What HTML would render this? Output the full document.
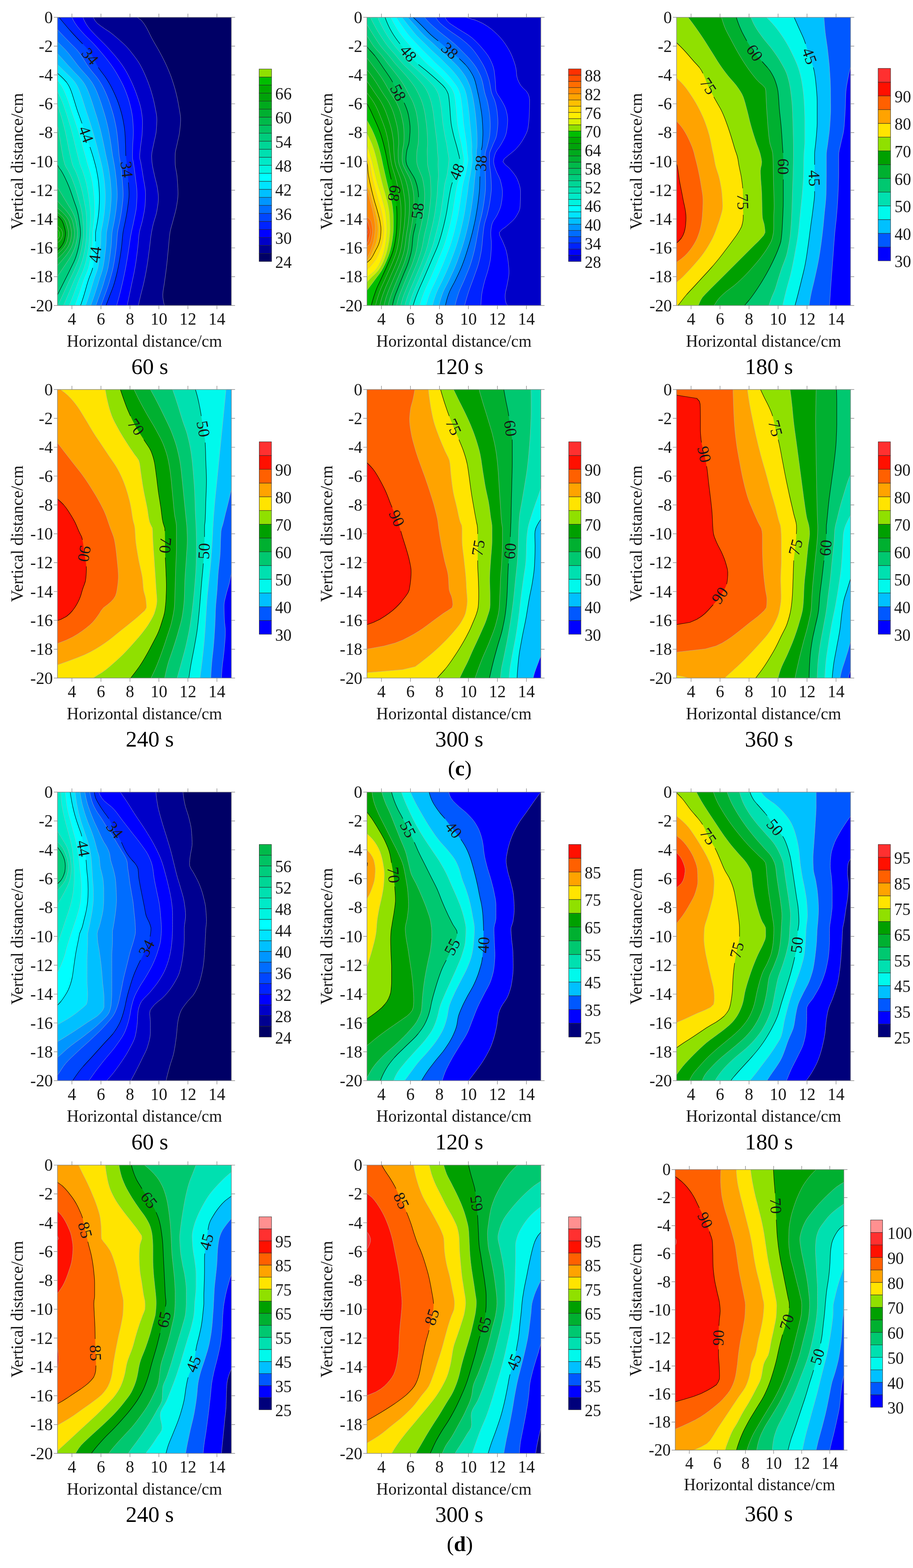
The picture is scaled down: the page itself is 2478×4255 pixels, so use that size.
<!DOCTYPE html>
<html><head><meta charset="utf-8"><title>Temperature contour maps</title>
<style>html,body{margin:0;padding:0;background:#fff}body{width:2478px;height:4255px;overflow:hidden}svg{display:block}text{font-family:"Liberation Serif","DejaVu Serif",serif}</style>
</head><body>
<svg width="2478" height="4255" viewBox="0 0 2478 4255">
<rect width="2478" height="4255" fill="#fff"/>
<g><clipPath id="c0"><rect x="156" y="47" width="472" height="782"/></clipPath>
<rect x="156" y="47" width="472" height="782" fill="#000066"/>
<g clip-path="url(#c0)" stroke-linejoin="round">
<path d="M106,23L339,23L350.2,31L361.3,39L372.5,47L383.5,55L390,63L395.2,71L399.7,79L403.8,87L407.7,95L411.7,103L416.1,111L420.7,119L425.4,127L430,135L434.4,143L438.7,151L442.8,159L446.8,167L450.6,175L454.2,183L457.6,191L460.9,199L464,207L466.8,215L469.4,223L471.9,231L474.3,239L476.5,247L478.5,255L480.4,263L482.1,271L483.7,279L485.1,287L486.5,295L487.9,303L489.2,311L490.1,319L490.2,327L489.8,335L489.2,343L488.3,351L487.4,359L486,367L484.3,375L482.4,383L480.7,391L478.9,399L477,407L475.6,415L475.4,423L475.4,431L475.4,439L475.6,447L476.6,455L478.1,463L479.5,471L480.6,479L481.2,487L481.8,495L482.4,503L482.8,511L483.1,519L483.2,527L482.8,535L481.9,543L480.7,551L479.4,559L477.9,567L476,575L473.9,583L471.7,591L469.6,599L467.4,607L465.1,615L463,623L461.4,631L460.4,639L459.5,647L458.8,655L458.1,663L457.4,671L456.6,679L455.8,687L455,695L454.3,703L453.4,711L452.6,719L451.6,727L450.6,735L449.6,743L448.5,751L447.4,759L446.3,767L445.1,775L443.7,783L442.5,791L441.8,799L442,807L443.2,815L444.7,823L446.7,831L448.6,839L450.4,847L106,847Z" fill="#000090" stroke="#b4b4b4" stroke-width="0.8"/>
<path d="M106,23L239.6,23L244.2,31L248.8,39L253.4,47L257.3,55L263.8,63L274.2,71L285.7,79L298,87L308.3,95L317.7,103L326.8,111L335.8,119L343.8,127L350.8,135L357.2,143L363.4,151L369.4,159L375,167L379.9,175L384.2,183L388.2,191L391.9,199L395.4,207L398.7,215L401.9,223L404.8,231L407.6,239L410.1,247L412.4,255L414.6,263L416.7,271L418.5,279L420.2,287L421.7,295L423.3,303L424.7,311L425.6,319L425.8,327L425.5,335L425,343L424.4,351L423.7,359L422.3,367L420.6,375L418.7,383L417,391L415.3,399L413.6,407L412.2,415L411.6,423L411.9,431L412.4,439L413.4,447L414.8,455L416.5,463L418.3,471L420,479L422,487L424,495L425.9,503L427.4,511L428.5,519L429.5,527L430,535L429.8,543L429.1,551L428,559L426.7,567L425.3,575L423.4,583L421,591L418.5,599L416.2,607L414.3,615L412.7,623L411.2,631L409.9,639L408.8,647L407.9,655L407,663L406.1,671L405.1,679L404,687L403,695L401.9,703L400.8,711L399.5,719L398.2,727L396.8,735L395.3,743L393.8,751L392.1,759L390.4,767L388.5,775L386.5,783L384.4,791L382.4,799L380.5,807L378.6,815L376.8,823L375.1,831L373.2,839L371.4,847L106,847Z" fill="#0000c8" stroke="#b4b4b4" stroke-width="0.8"/>
<path d="M106,23L212.9,23L217,31L221,39L225.1,47L228.4,55L232.6,63L237.6,71L243.9,79L251.2,87L258.7,95L266.5,103L274.8,111L282.9,119L290.5,127L297.8,135L304.9,143L311.8,151L318.3,159L324.6,167L330.5,175L335.9,183L340.8,191L345.4,199L349.6,207L353.5,215L357.3,223L360.8,231L364.2,239L367.4,247L370.3,255L373.1,263L375.8,271L378.4,279L380.7,287L382.5,295L383.9,303L385.1,311L386.1,319L386.7,327L386.8,335L386.6,343L386.3,351L386,359L385.5,367L384.6,375L383.5,383L382.4,391L381.4,399L380.5,407L379.7,415L379.1,423L379.7,431L381.8,439L383.2,447L384.6,455L385.9,463L387.2,471L388.4,479L389.7,487L391.2,495L392.6,503L393.8,511L394.7,519L395,527L394.8,535L394.5,543L394.1,551L393.6,559L392.6,567L391.3,575L389.7,583L388.1,591L386.4,599L384.4,607L382.1,615L379.9,623L378.2,631L377.1,639L376.3,647L375.6,655L374.9,663L374.1,671L373.1,679L372.1,687L371.1,695L370,703L368.9,711L367.7,719L366.3,727L364.9,735L363.3,743L361.6,751L359.9,759L358.2,767L356.5,775L354.9,783L353.2,791L351.5,799L349.8,807L348.1,815L346.4,823L344.6,831L342.9,839L341.2,847L106,847Z" fill="#0000ff" stroke="#b4b4b4" stroke-width="0.8"/>
<path d="M106,23L180.9,23L185.6,31L190.3,39L195,47L199.1,55L203.9,63L209.4,71L215.8,79L222.9,87L230.3,95L238.3,103L246.5,111L254.4,119L261.7,127L268.7,135L275.5,143L282.2,151L288.7,159L294.9,167L300.9,175L306.5,183L311.7,191L316.6,199L321.2,207L325.6,215L329.9,223L333.9,231L337.5,239L340.8,247L343.8,255L346.7,263L349.3,271L351.6,279L353.6,287L355.5,295L357.2,303L358.6,311L359.8,319L360.5,327L361.1,335L361.5,343L361.9,351L362,359L361.8,367L361.4,375L360.9,383L360.4,391L360.1,399L359.9,407L359.7,415L359.6,423L359.9,431L361.6,439L362.9,447L364.1,455L365.2,463L366.2,471L367.2,479L368.2,487L369.2,495L370.3,503L371.1,511L371.7,519L371.9,527L371.8,535L371.4,543L371,551L370.4,559L369.6,567L368.3,575L366.7,583L365,591L363.4,599L361.8,607L360,615L358.2,623L356.6,631L355,639L353.7,647L352.5,655L351.4,663L350.2,671L349,679L347.7,687L346.5,695L345.2,703L343.8,711L342.4,719L341,727L339.4,735L337.8,743L336.1,751L334.4,759L332.6,767L330.7,775L328.8,783L326.9,791L324.8,799L322.8,807L320.6,815L318.4,823L316.2,831L314.1,839L312,847L106,847Z" fill="#0023ff" stroke="#b4b4b4" stroke-width="0.8"/>
<path d="M106,23L140.9,23L147.4,31L153.9,39L160.4,47L166.8,55L173.4,63L180.2,71L187,79L194.1,87L201.4,95L208.9,103L216.5,111L224.2,119L232.2,127L239.6,135L245.5,143L250.2,151L254.3,159L258.1,167L262.2,175L266.8,183L272.4,191L278.4,199L284.5,207L289.9,215L294.8,223L299.4,231L303.6,239L307.5,247L311.2,255L314.7,263L318,271L321,279L323.7,287L326.2,295L328.6,303L330.8,311L332.6,319L334.3,327L335.7,335L337.1,343L338.2,351L339,359L339.5,367L340,375L340.3,383L340.6,391L340.9,399L341,407L341.2,415L341.5,423L342.6,431L343.6,439L344.5,447L345.4,455L346.1,463L346.8,471L347.5,479L348.1,487L348.6,495L349.2,503L349.7,511L350.2,519L350.3,527L350,535L349.2,543L348.2,551L347.1,559L346.1,567L344.8,575L343.4,583L341.9,591L340.4,599L338.7,607L337,615L335.3,623L333.9,631L332.9,639L332.1,647L331.4,655L330.7,663L329.8,671L328.7,679L327.6,687L326.3,695L325,703L323.6,711L322.1,719L320.5,727L318.8,735L317,743L315,751L312.9,759L310.7,767L308.2,775L305.4,783L302.3,791L299.2,799L296.1,807L293.1,815L290,823L286.9,831L283.8,839L280.8,847L106,847Z" fill="#0046ff"/>
<path d="M106,23L116,23L116,31L120.3,39L127.1,47L133.9,55L140.8,63L147.8,71L154.9,79L162.2,87L169.7,95L177.3,103L185,111L192.8,119L200.9,127L208.6,135L215,143L220.5,151L225.6,159L230.6,167L235.7,175L241.2,183L247.4,191L254,199L260.6,207L266.6,215L271.9,223L276.6,231L280.8,239L284.6,247L288.2,255L291.5,263L294.6,271L297.5,279L300.1,287L302.6,295L305.1,303L307.4,311L309.5,319L311.3,327L313.1,335L314.7,343L316.1,351L317.3,359L318.3,367L319.2,375L320,383L320.8,391L321.5,399L322.2,407L322.8,415L323.5,423L324.9,431L326.1,439L327.3,447L328.4,455L329.4,463L330.2,471L331,479L331.8,487L332.4,495L333,503L333.6,511L334,519L334.2,527L334,535L333.4,543L332.5,551L331.6,559L330.6,567L329.5,575L328.1,583L326.8,591L325.3,599L323.7,607L322,615L320.3,623L319,631L318.2,639L317.6,647L317,655L316.4,663L315.5,671L314.5,679L313.5,687L312.3,695L311.1,703L309.8,711L308.3,719L306.8,727L304.9,735L302.8,743L300.6,751L298.4,759L296.1,767L293.6,775L290.9,783L288,791L285.1,799L282.1,807L279.2,815L276.2,823L273.1,831L270.1,839L267.1,847L106,847Z" fill="#006dff" stroke="#b4b4b4" stroke-width="0.8"/>
<path d="M106,23L116,23L116,71L122.9,79L130.3,87L138,95L145.7,103L153.6,111L161.5,119L169.7,127L177.5,135L184.5,143L190.9,151L197,159L203.1,167L209.1,175L215.5,183L222.4,191L229.6,199L236.7,207L243.2,215L249.1,223L253.9,231L258.1,239L261.8,247L265.1,255L268.2,263L271.1,271L274,279L276.5,287L279.1,295L281.6,303L284,311L286.3,319L288.4,327L290.4,335L292.3,343L294.1,351L295.7,359L297.1,367L298.5,375L299.8,383L301,391L302.2,399L303.3,407L304.5,415L305.6,423L307.2,431L308.7,439L310.1,447L311.4,455L312.6,463L313.6,471L314.6,479L315.5,487L316.2,495L316.8,503L317.4,511L317.9,519L318.1,527L318,535L317.5,543L316.8,551L316,559L315.2,567L314.1,575L312.9,583L311.6,591L310.2,599L308.7,607L307,615L305.4,623L304.1,631L303.5,639L303,647L302.6,655L302,663L301.3,671L300.3,679L299.3,687L298.3,695L297.2,703L295.9,711L294.5,719L293,727L291,735L288.7,743L286.2,751L283.8,759L281.5,767L279.1,775L276.5,783L273.7,791L270.9,799L268.1,807L265.2,815L262.3,823L259.3,831L256.4,839L253.5,847L106,847Z" fill="#0096ff" stroke="#b4b4b4" stroke-width="0.8"/>
<path d="M106,23L116,23L116,103L122.1,111L130.2,119L138.4,127L146.4,135L154,143L161.2,151L168.4,159L175.5,167L182.6,175L189.9,183L197.4,191L205.1,199L212.9,207L219.9,215L226.2,223L231.2,231L235.3,239L238.9,247L242,255L244.9,263L247.7,271L250.4,279L253,287L255.5,295L258,303L260.6,311L263.1,319L265.5,327L267.8,335L270,343L272.1,351L274.1,359L275.9,367L277.7,375L279.5,383L281.2,391L282.8,399L284.5,407L286.1,415L287.7,423L289.5,431L291.3,439L292.9,447L294.5,455L295.8,463L297,471L298.1,479L299.1,487L300,495L300.6,503L301.2,511L301.7,519L302,527L301.9,535L301.6,543L301,551L300.4,559L299.7,567L298.8,575L297.7,583L296.5,591L295.1,599L293.6,607L292.1,615L290.5,623L289.2,631L288.7,639L288.4,647L288.1,655L287.7,663L287,671L286.2,679L285.2,687L284.3,695L283.3,703L282.1,711L280.8,719L279.2,727L277.1,735L274.6,743L271.9,751L269.3,759L266.9,767L264.5,775L262,783L259.4,791L256.8,799L254.1,807L251.3,815L248.4,823L245.5,831L242.7,839L239.9,847L106,847Z" fill="#00c0ff" stroke="#b4b4b4" stroke-width="0.8"/>
<path d="M106,23L116,23L116,135L123.5,143L131.6,151L139.8,159L148,167L156.1,175L164.2,183L172.4,191L180.7,199L189,207L196.6,215L203.4,223L208.5,231L212.5,239L216,247L218.9,255L221.7,263L224.3,271L226.9,279L229.4,287L231.9,295L234.5,303L237.2,311L239.9,319L242.6,327L245.1,335L247.6,343L250.1,351L252.4,359L254.7,367L257,375L259.2,383L261.4,391L263.5,399L265.6,407L267.7,415L269.8,423L271.9,431L273.8,439L275.8,447L277.5,455L279.1,463L280.4,471L281.7,479L282.8,487L283.8,495L284.5,503L285,511L285.5,519L285.9,527L285.9,535L285.7,543L285.3,551L284.8,559L284.2,567L283.4,575L282.4,583L281.3,591L280.1,599L278.6,607L277.1,615L275.5,623L274.2,631L274,639L273.9,647L273.7,655L273.4,663L272.7,671L272,679L271.1,687L270.3,695L269.3,703L268.3,711L267,719L265.5,727L263.2,735L260.4,743L257.5,751L254.7,759L252.3,767L249.9,775L247.6,783L245.1,791L242.6,799L240,807L237.3,815L234.5,823L231.7,831L229,839L226.2,847L106,847Z" fill="#00e4ff" stroke="#b4b4b4" stroke-width="0.8"/>
<path d="M106,23L116,23L116,159L120.5,167L129.6,175L138.6,183L147.4,191L156.2,199L165.1,207L173.3,215L180.5,223L185.8,231L189.8,239L193.1,247L195.9,255L198.4,263L200.9,271L203.4,279L205.8,287L208.3,295L211,303L213.9,311L216.8,319L219.6,327L222.5,335L225.3,343L228.1,351L230.8,359L233.5,367L236.2,375L238.9,383L241.5,391L244.1,399L246.8,407L249.4,415L251.9,423L254.2,431L256.4,439L258.6,447L260.6,455L262.3,463L263.8,471L265.3,479L266.5,487L267.6,495L268.3,503L268.9,511L269.4,519L269.7,527L269.9,535L269.8,543L269.6,551L269.2,559L268.8,567L268.1,575L267.2,583L266.2,591L265,599L263.6,607L262.2,615L260.6,623L259.3,631L259.3,639L259.3,647L259.3,655L259,663L258.5,671L257.8,679L257,687L256.3,695L255.4,703L254.4,711L253.2,719L251.7,727L249.3,735L246.3,743L243.1,751L240.2,759L237.7,767L235.3,775L233.1,783L230.8,791L228.5,799L226,807L223.4,815L220.7,823L217.9,831L215.3,839L212.6,847L106,847Z" fill="#00ffff"/>
<path d="M106,23L116,23L116,175L117.6,183L126.3,191L134.9,199L143.6,207L151.7,215L159.2,223L165.2,231L170,239L174,247L177.5,255L180.8,263L183.8,271L186.8,279L189.4,287L192,295L194.7,303L197.4,311L200.2,319L202.9,327L205.5,335L208.1,343L210.6,351L213.1,359L215.5,367L217.8,375L220.1,383L222.4,391L224.6,399L226.9,407L229.2,415L231.5,423L233.7,431L235.8,439L238,447L240.4,455L243,463L245.2,471L247.2,479L249,487L250.5,495L251.8,503L252.9,511L253.9,519L254.7,527L255.4,535L255.9,543L256.2,551L256.5,559L256.7,567L256.6,575L256.2,583L255.7,591L255,599L254.1,607L253.2,615L252.1,623L251.2,631L251.1,639L250.9,647L250.6,655L250.2,663L249.4,671L248.5,679L247.4,687L246.3,695L245.1,703L243.6,711L241.9,719L239.9,727L237.2,735L234,743L230.6,751L227.4,759L224.7,767L222,775L219.4,783L216.8,791L214.1,799L211.3,807L208.4,815L205.5,823L202.5,831L199.5,839L196.6,847L106,847Z" fill="#00f4e0" stroke="#b4b4b4" stroke-width="0.8"/>
<path d="M106,23L116,23L116,199L122.1,207L130.2,215L137.9,223L144.6,231L150.1,239L155,247L159.2,255L163.1,263L166.8,271L170.1,279L173,287L175.7,295L178.4,303L181,311L183.6,319L186.1,327L188.5,335L190.9,343L193.1,351L195.3,359L197.4,367L199.4,375L201.3,383L203.2,391L205.2,399L207.1,407L209.1,415L211.1,423L213.2,431L215.2,439L217.4,447L220.3,455L223.8,463L226.5,471L229.1,479L231.4,487L233.5,495L235.2,503L236.9,511L238.4,519L239.7,527L240.9,535L241.9,543L242.9,551L243.8,559L244.6,567L245,575L245.2,583L245.3,591L245,599L244.6,607L244.2,615L243.6,623L243,631L242.9,639L242.5,647L242,655L241.3,663L240.3,671L239.1,679L237.8,687L236.4,695L234.7,703L232.8,711L230.5,719L228,727L225.1,735L221.7,743L218.1,751L214.7,759L211.6,767L208.6,775L205.7,783L202.7,791L199.7,799L196.6,807L193.5,815L190.2,823L187,831L183.8,839L180.6,847L106,847Z" fill="#00eac8" stroke="#b4b4b4" stroke-width="0.8"/>
<path d="M106,23L116,23L116,215L116.6,223L123.9,231L130.3,239L136,247L140.9,255L145.5,263L149.7,271L153.5,279L156.6,287L159.4,295L162,303L164.6,311L167,319L169.3,327L171.5,335L173.7,343L175.7,351L177.5,359L179.3,367L180.9,375L182.5,383L184.1,391L185.7,399L187.3,407L189,415L190.8,423L192.6,431L194.6,439L196.8,447L200.2,455L204.5,463L207.9,471L211,479L213.8,487L216.4,495L218.7,503L220.9,511L222.9,519L224.7,527L226.4,535L228,543L229.5,551L231.1,559L232.5,567L233.5,575L234.2,583L234.8,591L235,599L235.2,607L235.2,615L235.1,623L234.9,631L234.7,639L234.1,647L233.3,655L232.4,663L231.2,671L229.8,679L228.2,687L226.4,695L224.4,703L221.9,711L219.1,719L216.2,727L212.9,735L209.4,743L205.6,751L202,759L198.6,767L195.3,775L192,783L188.7,791L185.3,799L181.9,807L178.5,815L175,823L171.5,831L168.1,839L164.6,847L106,847Z" fill="#00e0b0" stroke="#b4b4b4" stroke-width="0.8"/>
<path d="M106,23L116,23L116,239L116.9,247L122.6,255L127.8,263L132.7,271L136.9,279L140.2,287L143.1,295L145.7,303L148.2,311L150.4,319L152.5,327L154.5,335L156.5,343L158.2,351L159.8,359L161.2,367L162.5,375L163.7,383L164.9,391L166.2,399L167.5,407L168.9,415L170.4,423L172.1,431L174,439L176.2,447L180.1,455L185.2,463L189.2,471L192.9,479L196.2,487L199.3,495L202.2,503L204.9,511L207.3,519L209.7,527L211.9,535L214,543L216.2,551L218.4,559L220.4,567L222,575L223.3,583L224.3,591L225.1,599L225.7,607L226.3,615L226.6,623L226.7,631L226.5,639L225.7,647L224.7,655L223.5,663L222.2,671L220.5,679L218.6,687L216.5,695L214.1,703L211.1,711L207.8,719L204.3,727L200.8,735L197,743L193.2,751L189.3,759L185.6,767L181.9,775L178.3,783L174.6,791L171,799L167.3,807L163.5,815L159.8,823L156,831L152.3,839L148.6,847L106,847Z" fill="#00d696" stroke="#b4b4b4" stroke-width="0.8"/>
<path d="M106,23L116,23L116,271L120.2,279L123.8,287L126.8,295L129.4,303L131.7,311L133.9,319L135.8,327L137.6,335L139.3,343L140.8,351L142,359L143.1,367L144.1,375L144.9,383L145.8,391L146.7,399L147.6,407L148.8,415L150.1,423L151.6,431L153.4,439L155.7,447L159.9,455L166,463L170.6,471L174.8,479L178.6,487L182.3,495L185.7,503L188.9,511L191.8,519L194.6,527L197.3,535L200,543L202.8,551L205.7,559L208.3,567L210.5,575L212.3,583L213.8,591L215.1,599L216.2,607L217.3,615L218.1,623L218.5,631L218.3,639L217.3,647L216,655L214.7,663L213.1,671L211.2,679L209,687L206.6,695L203.7,703L200.3,711L196.4,719L192.5,727L188.6,735L184.7,743L180.7,751L176.6,759L172.6,767L168.6,775L164.6,783L160.6,791L156.6,799L152.6,807L148.6,815L144.6,823L140.6,831L136.6,839L132.6,847L106,847Z" fill="#00cd7d"/>
<path d="M106,23L116,23L116,447L116.1,455L123.5,463L129.8,471L135.8,479L141.5,487L147.1,495L152.4,503L157.6,511L162.6,519L167.5,527L172.3,535L177.1,543L181.9,551L186.8,559L192,567L196.4,575L200.2,583L203.4,591L205.7,599L207.4,607L208.7,615L209.8,623L210.4,631L210.1,639L209.1,647L207.6,655L205.7,663L203.3,671L200.2,679L196.5,687L192.3,695L187.5,703L182.2,711L176.8,719L171.4,727L166,735L160.6,743L155,751L149.5,759L144,767L138.5,775L133,783L127.5,791L122,799L116.5,807L116,815L116,847L106,847Z" fill="#00c363" stroke="#b4b4b4" stroke-width="0.8"/>
<path d="M106,23L116,23L116,495L119.2,503L126.3,511L133.4,519L140.3,527L147.2,535L154.1,543L161,551L168,559L175.6,567L182.4,575L188.2,583L193,591L196.4,599L198.5,607L200.1,615L201.5,623L202.2,631L201.9,639L200.8,647L199.2,655L196.8,663L193.6,671L189.1,679L183.9,687L178,695L171.3,703L164.2,711L157.3,719L150.3,727L143.4,735L136.4,743L129.4,751L122.4,759L116,767L116,847L106,847Z" fill="#00ba4a" stroke="#b4b4b4" stroke-width="0.8"/>
<path d="M106,23L116,23L116,527L122.1,535L131.1,543L140.1,551L149.1,559L159.2,567L168.4,575L176.2,583L182.6,591L187,599L189.6,607L191.5,615L193.1,623L194.1,631L193.7,639L192.5,647L190.8,655L187.9,663L183.9,671L178.1,679L171.4,687L163.7,695L155,703L146.1,711L137.7,719L129.2,727L120.7,735L116,743L116,847L106,847Z" fill="#00b030" stroke="#b4b4b4" stroke-width="0.8"/>
<path d="M106,23L116,23L116,543L119.2,551L130.3,559L142.8,567L154.4,575L164.2,583L172.2,591L177.6,599L180.7,607L182.9,615L184.8,623L185.9,631L185.6,639L184.2,647L182.3,655L179,663L174.2,671L167.1,679L158.8,687L149.4,695L138.8,703L128,711L118.1,719L116,727L116,847L106,847Z" fill="#00aa1d" stroke="#b4b4b4" stroke-width="0.8"/>
<path d="M106,23L116,23L116,559L126.4,567L140.4,575L152.2,583L161.8,591L168.3,599L171.8,607L174.3,615L176.5,623L177.8,631L177.4,639L176,647L173.9,655L170,663L164.4,671L156.1,679L146.3,687L135.2,695L122.6,703L116,711L116,847L106,847Z" fill="#00a30a"/>
<path d="M106,23L116,23L116,583L118.2,591L131.8,599L145.6,607L159,615L166.7,623L169.7,631L169.7,639L167.1,647L161.4,655L148.6,663L132.6,671L118.1,679L116,687L116,847L106,847Z" fill="#00a800" stroke="#b4b4b4" stroke-width="0.8"/>
<path d="M106,23L116,23L116,599L119.5,607L143.7,615L156.9,623L161.6,631L162,639L158.3,647L148.8,655L127.3,663L116,671L116,847L106,847Z" fill="#00be00" stroke="#b4b4b4" stroke-width="0.8"/>
<path d="M140.9,23L147.4,31L153.9,39L160.4,47L166.8,55L173.4,63L180.2,71L187,79L194.1,87L201.4,95L208.9,103L216.5,111L224.2,119M266.8,183L272.4,191L278.4,199L284.5,207L289.9,215L294.8,223L299.4,231L303.6,239L307.5,247L311.2,255L314.7,263L318,271L321,279L323.7,287L326.2,295L328.6,303L330.8,311L332.6,319L334.3,327L335.7,335L337.1,343L338.2,351L339,359L339.5,367L340,375L340.3,383L340.6,391L340.9,399L341,407L341.2,415L341.5,423M348.6,495L349.2,503L349.7,511L350.2,519L350.3,527L350,535L349.2,543L348.2,551L347.1,559L346.1,567L344.8,575L343.4,583L341.9,591L340.4,599L338.7,607L337,615L335.3,623L333.9,631L332.9,639L332.1,647L331.4,655L330.7,663L329.8,671L328.7,679L327.6,687L326.3,695L325,703L323.6,711L322.1,719L320.5,727L318.8,735L317,743L315,751L312.9,759L310.7,767L308.2,775L305.4,783L302.3,791L299.2,799L296.1,807L293.1,815L290,823L286.9,831L283.8,839L280.8,847" fill="none" stroke="#000" stroke-width="1.15"/>
<path d="M116,23L116,159L120.5,167L129.6,175L138.6,183L147.4,191L156.2,199L165.1,207L173.3,215L180.5,223L185.8,231L189.8,239L193.1,247L195.9,255L198.4,263L200.9,271L203.4,279L205.8,287L208.3,295L211,303L213.9,311L216.8,319L219.6,327L222.5,335M244.1,399L246.8,407L249.4,415L251.9,423L254.2,431L256.4,439L258.6,447L260.6,455L262.3,463L263.8,471L265.3,479L266.5,487L267.6,495L268.3,503L268.9,511L269.4,519L269.7,527L269.9,535L269.8,543L269.6,551L269.2,559L268.8,567L268.1,575L267.2,583L266.2,591L265,599L263.6,607L262.2,615L260.6,623L259.3,631L259.3,639L259.3,647L259.3,655M251.7,727L249.3,735L246.3,743L243.1,751L240.2,759L237.7,767L235.3,775L233.1,783L230.8,791L228.5,799L226,807L223.4,815L220.7,823L217.9,831L215.3,839L212.6,847" fill="none" stroke="#000" stroke-width="1.15"/>
<path d="M116,23L116,271L120.2,279L123.8,287L126.8,295L129.4,303L131.7,311L133.9,319L135.8,327L137.6,335L139.3,343L140.8,351L142,359L143.1,367L144.1,375L144.9,383L145.8,391L146.7,399L147.6,407L148.8,415L150.1,423L151.6,431L153.4,439L155.7,447L159.9,455L166,463L170.6,471L174.8,479L178.6,487L182.3,495L185.7,503L188.9,511L191.8,519L194.6,527L197.3,535L200,543L202.8,551L205.7,559L208.3,567L210.5,575L212.3,583L213.8,591L215.1,599L216.2,607L217.3,615L218.1,623L218.5,631L218.3,639L217.3,647L216,655L214.7,663L213.1,671L211.2,679L209,687L206.6,695L203.7,703L200.3,711L196.4,719L192.5,727L188.6,735L184.7,743L180.7,751L176.6,759L172.6,767L168.6,775L164.6,783L160.6,791L156.6,799L152.6,807L148.6,815L144.6,823L140.6,831L136.6,839L132.6,847" fill="none" stroke="#000" stroke-width="1.15"/>
<path d="M116,23L116,559L126.4,567L140.4,575L152.2,583L161.8,591L168.3,599L171.8,607L174.3,615L176.5,623L177.8,631L177.4,639L176,647L173.9,655L170,663L164.4,671L156.1,679L146.3,687L135.2,695L122.6,703L116,711L116,847" fill="none" stroke="#000" stroke-width="1.15"/>
<text transform="translate(244.1 152.9) rotate(50)" font-size="44" text-anchor="middle" fill="#171717" dy="0.33em">34</text>
<text transform="translate(233.4 364.7) rotate(70)" font-size="44" text-anchor="middle" fill="#171717" dy="0.33em">44</text>
<text transform="translate(343.6 459.7) rotate(84)" font-size="44" text-anchor="middle" fill="#171717" dy="0.33em">34</text>
<text transform="translate(258.2 691) rotate(-83)" font-size="44" text-anchor="middle" fill="#171717" dy="0.33em">44</text>
</g>
<rect x="156" y="47" width="472" height="782" fill="none" stroke="#858585" stroke-width="1.5"/>
<path d="M195.3,47v-10 M195.3,829v10M274,47v-10 M274,829v10M352.7,47v-10 M352.7,829v10M431.3,47v-10 M431.3,829v10M510,47v-10 M510,829v10M588.7,47v-10 M588.7,829v10M156,47h-10 M628,47h10M156,125.2h-10 M628,125.2h10M156,203.4h-10 M628,203.4h10M156,281.6h-10 M628,281.6h10M156,359.8h-10 M628,359.8h10M156,438h-10 M628,438h10M156,516.2h-10 M628,516.2h10M156,594.4h-10 M628,594.4h10M156,672.6h-10 M628,672.6h10M156,750.8h-10 M628,750.8h10M156,829h-10 M628,829h10" stroke="#858585" stroke-width="1.4" fill="none"/>
<text transform="translate(195.3 881.2) scale(0.980 1)" font-size="46.8" text-anchor="middle" fill="#171717">4</text>
<text transform="translate(274 881.2) scale(0.980 1)" font-size="46.8" text-anchor="middle" fill="#171717">6</text>
<text transform="translate(352.7 881.2) scale(0.980 1)" font-size="46.8" text-anchor="middle" fill="#171717">8</text>
<text transform="translate(431.3 881.2) scale(0.980 1)" font-size="46.8" text-anchor="middle" fill="#171717">10</text>
<text transform="translate(510 881.2) scale(0.980 1)" font-size="46.8" text-anchor="middle" fill="#171717">12</text>
<text transform="translate(588.7 881.2) scale(0.980 1)" font-size="46.8" text-anchor="middle" fill="#171717">14</text>
<text transform="translate(143.5 62.6) scale(0.980 1)" font-size="46.8" text-anchor="end" fill="#171717">0</text>
<text transform="translate(143.5 140.8) scale(0.980 1)" font-size="46.8" text-anchor="end" fill="#171717">-2</text>
<text transform="translate(143.5 219) scale(0.980 1)" font-size="46.8" text-anchor="end" fill="#171717">-4</text>
<text transform="translate(143.5 297.2) scale(0.980 1)" font-size="46.8" text-anchor="end" fill="#171717">-6</text>
<text transform="translate(143.5 375.4) scale(0.980 1)" font-size="46.8" text-anchor="end" fill="#171717">-8</text>
<text transform="translate(143.5 453.6) scale(0.980 1)" font-size="46.8" text-anchor="end" fill="#171717">-10</text>
<text transform="translate(143.5 531.8) scale(0.980 1)" font-size="46.8" text-anchor="end" fill="#171717">-12</text>
<text transform="translate(143.5 610) scale(0.980 1)" font-size="46.8" text-anchor="end" fill="#171717">-14</text>
<text transform="translate(143.5 688.2) scale(0.980 1)" font-size="46.8" text-anchor="end" fill="#171717">-16</text>
<text transform="translate(143.5 766.4) scale(0.980 1)" font-size="46.8" text-anchor="end" fill="#171717">-18</text>
<text transform="translate(143.5 844.6) scale(0.980 1)" font-size="46.8" text-anchor="end" fill="#171717">-20</text>
<text transform="translate(392 940.7) scale(0.966 1)" font-size="46.9" text-anchor="middle" fill="#171717">Horizontal distance/cm</text>
<text transform="translate(62 438) rotate(-90) scale(0.972 1)" font-size="46.9" text-anchor="middle" fill="#171717">Vertical distance/cm</text>
<text transform="translate(406.6 1015.4)" font-size="61" text-anchor="middle" fill="#000">60 s</text>
<rect x="703.3" y="687.8" width="33.8" height="21.8" fill="#000066" stroke="#2a2a2a" stroke-width="1.1"/>
<rect x="703.3" y="666.1" width="33.8" height="21.8" fill="#000090" stroke="#2a2a2a" stroke-width="1.1"/>
<rect x="703.3" y="644.3" width="33.8" height="21.8" fill="#0000c8" stroke="#2a2a2a" stroke-width="1.1"/>
<rect x="703.3" y="622.6" width="33.8" height="21.8" fill="#0000ff" stroke="#2a2a2a" stroke-width="1.1"/>
<rect x="703.3" y="600.8" width="33.8" height="21.8" fill="#0023ff" stroke="#2a2a2a" stroke-width="1.1"/>
<rect x="703.3" y="579" width="33.8" height="21.8" fill="#0046ff" stroke="#2a2a2a" stroke-width="1.1"/>
<rect x="703.3" y="557.3" width="33.8" height="21.8" fill="#006dff" stroke="#2a2a2a" stroke-width="1.1"/>
<rect x="703.3" y="535.5" width="33.8" height="21.8" fill="#0096ff" stroke="#2a2a2a" stroke-width="1.1"/>
<rect x="703.3" y="513.7" width="33.8" height="21.8" fill="#00c0ff" stroke="#2a2a2a" stroke-width="1.1"/>
<rect x="703.3" y="492" width="33.8" height="21.8" fill="#00e4ff" stroke="#2a2a2a" stroke-width="1.1"/>
<rect x="703.3" y="470.2" width="33.8" height="21.8" fill="#00ffff" stroke="#2a2a2a" stroke-width="1.1"/>
<rect x="703.3" y="448.5" width="33.8" height="21.8" fill="#00f4e0" stroke="#2a2a2a" stroke-width="1.1"/>
<rect x="703.3" y="426.7" width="33.8" height="21.8" fill="#00eac8" stroke="#2a2a2a" stroke-width="1.1"/>
<rect x="703.3" y="404.9" width="33.8" height="21.8" fill="#00e0b0" stroke="#2a2a2a" stroke-width="1.1"/>
<rect x="703.3" y="383.2" width="33.8" height="21.8" fill="#00d696" stroke="#2a2a2a" stroke-width="1.1"/>
<rect x="703.3" y="361.4" width="33.8" height="21.8" fill="#00cd7d" stroke="#2a2a2a" stroke-width="1.1"/>
<rect x="703.3" y="339.6" width="33.8" height="21.8" fill="#00c363" stroke="#2a2a2a" stroke-width="1.1"/>
<rect x="703.3" y="317.9" width="33.8" height="21.8" fill="#00ba4a" stroke="#2a2a2a" stroke-width="1.1"/>
<rect x="703.3" y="296.1" width="33.8" height="21.8" fill="#00b030" stroke="#2a2a2a" stroke-width="1.1"/>
<rect x="703.3" y="274.4" width="33.8" height="21.8" fill="#00aa1d" stroke="#2a2a2a" stroke-width="1.1"/>
<rect x="703.3" y="252.6" width="33.8" height="21.8" fill="#00a30a" stroke="#2a2a2a" stroke-width="1.1"/>
<rect x="703.3" y="230.8" width="33.8" height="21.8" fill="#00a800" stroke="#2a2a2a" stroke-width="1.1"/>
<rect x="703.3" y="209.1" width="33.8" height="21.8" fill="#00be00" stroke="#2a2a2a" stroke-width="1.1"/>
<rect x="703.3" y="187.3" width="33.8" height="21.8" fill="#90e000" stroke="#2a2a2a" stroke-width="1.1"/>
<text transform="translate(747.1 727.1) scale(0.970 1)" font-size="46" text-anchor="start" fill="#171717">24</text>
<text transform="translate(747.1 661.8) scale(0.970 1)" font-size="46" text-anchor="start" fill="#171717">30</text>
<text transform="translate(747.1 596.5) scale(0.970 1)" font-size="46" text-anchor="start" fill="#171717">36</text>
<text transform="translate(747.1 531.2) scale(0.970 1)" font-size="46" text-anchor="start" fill="#171717">42</text>
<text transform="translate(747.1 466) scale(0.970 1)" font-size="46" text-anchor="start" fill="#171717">48</text>
<text transform="translate(747.1 400.7) scale(0.970 1)" font-size="46" text-anchor="start" fill="#171717">54</text>
<text transform="translate(747.1 335.4) scale(0.970 1)" font-size="46" text-anchor="start" fill="#171717">60</text>
<text transform="translate(747.1 270.1) scale(0.970 1)" font-size="46" text-anchor="start" fill="#171717">66</text></g>
<g><clipPath id="c1"><rect x="996" y="47" width="472" height="782"/></clipPath>
<rect x="996" y="47" width="472" height="782" fill="#0000c8"/>
<g clip-path="url(#c1)" stroke-linejoin="round">
<path d="M946,23L1187.6,23L1213.1,31L1238.5,39L1264.2,47L1291.5,55L1309.4,63L1322.7,71L1333.6,79L1342.9,87L1351.4,95L1358.8,103L1365.4,111L1371.2,119L1376.4,127L1381.2,135L1385.5,143L1389.2,151L1392.3,159L1395.2,167L1397.8,175L1399.9,183L1401.2,191L1401.9,199L1402.8,207L1404.9,215L1408.4,223L1412.9,231L1419.7,239L1428.4,247L1433.6,255L1436.3,263L1437.5,271L1437.4,279L1437.3,287L1437.1,295L1436.8,303L1436.5,311L1436.2,319L1435.6,327L1434.8,335L1433.8,343L1432.5,351L1429.8,359L1426,367L1421.7,375L1417,383L1411.5,391L1405.1,399L1397.7,407L1388,415L1378.2,423L1368.6,431L1365.2,439L1371.7,447L1381.2,455L1388.3,463L1394.7,471L1400.3,479L1404.4,487L1407.4,495L1410.1,503L1411.9,511L1412.7,519L1412.7,527L1412.6,535L1412.4,543L1412.1,551L1411.8,559L1410.8,567L1407.9,575L1403.5,583L1398.6,591L1391.5,599L1382.6,607L1373.5,615L1362.2,623L1355.2,631L1356.4,639L1360.4,647L1364.3,655L1367.6,663L1370.9,671L1373.6,679L1375.5,687L1377.1,695L1378.4,703L1379.4,711L1380.3,719L1381,727L1381.5,735L1381.4,743L1380.5,751L1379.1,759L1377.6,767L1376.1,775L1374.3,783L1372.4,791L1371.1,799L1371,807L1371.8,815L1373.7,823L1379.1,831L1383.9,839L1388.7,847L946,847Z" fill="#0000ff" stroke="#b4b4b4" stroke-width="0.8"/>
<path d="M946,23L1193.6,23L1198.5,31L1203.3,39L1208.1,47L1212.4,55L1220,63L1232,71L1244.4,79L1257.6,87L1270.7,95L1281.4,103L1290.2,111L1298.1,119L1305.3,127L1312.1,135L1318.7,143L1324.5,151L1329.2,159L1333.1,167L1336.6,175L1339.3,183L1341.1,191L1342.2,199L1343.1,207L1343.8,215L1344.5,223L1345,231L1345.4,239L1346.3,247L1349.7,255L1355.2,263L1360.3,271L1364.9,279L1369.2,287L1372.5,295L1374.7,303L1376.5,311L1377.7,319L1378,327L1377.6,335L1376.8,343L1375.8,351L1374.5,359L1372.4,367L1369,375L1364.8,383L1360.4,391L1355.2,399L1349.2,407L1344.7,415L1342.2,423L1340.3,431L1339.8,439L1341,447L1343.5,455L1346.3,463L1349.7,471L1353.8,479L1357.3,487L1359.5,495L1361.4,503L1362.9,511L1363.7,519L1363.7,527L1363.1,535L1362.2,543L1360.9,551L1359.3,559L1356.7,567L1353.3,575L1349.6,583L1344.9,591L1339.4,599L1335.7,607L1333.9,615L1332.6,623L1332,631L1332.2,639L1332.8,647L1333.5,655L1333.7,663L1333.5,671L1333.2,679L1332.6,687L1332,695L1331.2,703L1329.7,711L1328,719L1326,727L1324,735L1321.6,743L1319,751L1316.5,759L1314.3,767L1312.3,775L1310.5,783L1308.8,791L1307.5,799L1306.7,807L1306,815L1305.5,823L1305.2,831L1304.7,839L1304.2,847L946,847Z" fill="#0023ff" stroke="#b4b4b4" stroke-width="0.8"/>
<path d="M946,23L1166.7,23L1172,31L1177.4,39L1182.6,47L1187.6,55L1194.6,63L1204,71L1214.3,79L1225.3,87L1237.3,95L1248.7,103L1258.8,111L1268.3,119L1276.8,127L1283.9,135L1290.1,143L1295.8,151L1301,159L1306,167L1310.7,175L1314.9,183L1318.4,191L1321.5,199L1324.3,207L1326.8,215L1328.8,223L1330.3,231L1331.6,239L1333.1,247L1335.4,255L1338.7,263L1342.1,271L1344.6,279L1346.5,287L1348,295L1349.3,303L1350.1,311L1350.9,319L1351.3,327L1351.4,335L1350.9,343L1350.1,351L1349,359L1347.8,367L1345.6,375L1342.2,383L1338.5,391L1335.3,399L1331.8,407L1329,415L1328.4,423L1328.4,431L1328.4,439L1328.6,447L1329.6,455L1330.8,463L1331.8,471L1332.3,479L1332.9,487L1333.3,495L1333.6,503L1333.7,511L1333.3,519L1332.4,527L1331.4,535L1330.3,543L1329.1,551L1327.6,559L1325.9,567L1324.1,575L1322.2,583L1319.8,591L1317.3,599L1315.1,607L1313.6,615L1312.5,623L1311.6,631L1310.7,639L1309.9,647L1309.2,655L1308.5,663L1307.6,671L1306.6,679L1305.2,687L1303.6,695L1301.9,703L1299.9,711L1297.7,719L1295.1,727L1292.3,735L1289.4,743L1286.6,751L1283.7,759L1280.7,767L1277.7,775L1274.8,783L1272,791L1269.5,799L1267.1,807L1264.8,815L1262.6,823L1260.6,831L1258.3,839L1256,847L946,847Z" fill="#0046ff" stroke="#b4b4b4" stroke-width="0.8"/>
<path d="M946,23L1131.7,23L1138.5,31L1145.3,39L1152.1,47L1158.7,55L1166.4,63L1175.1,71L1184.2,79L1193.6,87L1203.7,95L1214,103L1224.1,111L1233.6,119L1242.3,127L1250.3,135L1258.3,143L1266.2,151L1273.7,159L1280.4,167L1286.7,175L1292.2,183L1296.8,191L1300.9,199L1304.5,207L1307.4,215L1309.6,223L1311.4,231L1312.9,239L1314.5,247L1316.5,255L1319,263L1321.6,271L1323.6,279L1325.2,287L1326.6,295L1327.9,303L1328.9,311L1329.7,319L1330.2,327L1330.5,335L1330.6,343L1330.3,351L1329.9,359L1329.2,367L1327.9,375L1326,383L1323.9,391L1321.8,399L1319.1,407L1317.1,415L1316.6,423L1316.5,431L1316.4,439L1316.4,447L1316.6,455L1317,463L1317.3,471L1317.5,479L1317.7,487L1317.8,495L1317.8,503L1317.7,511L1317.2,519L1316.4,527L1315.4,535L1314.3,543L1313.2,551L1311.9,559L1310.5,567L1308.9,575L1307.3,583L1305.3,591L1303.3,599L1301.3,607L1299.7,615L1298.3,623L1296.8,631L1295.4,639L1293.9,647L1292.5,655L1291,663L1289.3,671L1287.6,679L1285.6,687L1283.5,695L1281.3,703L1278.9,711L1276.3,719L1273.4,727L1270.2,735L1266.9,743L1263.6,751L1260.3,759L1256.8,767L1253.1,775L1249.5,783L1246.2,791L1243.4,799L1240.9,807L1238.5,815L1236.5,823L1234.5,831L1232.2,839L1230,847L946,847Z" fill="#006dff" stroke="#b4b4b4" stroke-width="0.8"/>
<path d="M946,23L1096.8,23L1105,31L1113.3,39L1121.5,47L1129.9,55L1138.1,63L1146.2,71L1154,79L1161.8,87L1170,95L1179.3,103L1189.3,111L1198.9,119L1207.9,127L1216.8,135L1226.4,143L1236.7,151L1246.4,159L1254.9,167L1262.8,175L1269.6,183L1275.3,191L1280.3,199L1284.6,207L1287.9,215L1290.4,223L1292.4,231L1294.2,239L1295.9,247L1297.7,255L1299.4,263L1301.1,271L1302.6,279L1303.9,287L1305.2,295L1306.5,303L1307.6,311L1308.5,319L1309.1,327L1309.7,335L1310.2,343L1310.5,351L1310.7,359L1310.6,367L1310.3,375L1309.8,383L1309.2,391L1308.3,399L1306.3,407L1305.2,415L1304.9,423L1304.7,431L1304.5,439L1304.1,447L1303.7,455L1303.2,463L1302.8,471L1302.6,479L1302.4,487L1302.3,495L1302,503L1301.7,511L1301.1,519L1300.3,527L1299.4,535L1298.4,543L1297.4,551L1296.3,559L1295,567L1293.7,575L1292.3,583L1290.9,591L1289.3,599L1287.6,607L1285.8,615L1284,623L1282.1,631L1280,639L1277.9,647L1275.7,655L1273.4,663L1271,671L1268.5,679L1266,687L1263.4,695L1260.7,703L1257.8,711L1254.8,719L1251.6,727L1248.1,735L1244.4,743L1240.6,751L1236.8,759L1232.8,767L1228.4,775L1224.2,783L1220.4,791L1217.3,799L1214.6,807L1212.3,815L1210.3,823L1208.5,831L1206.2,839L1203.9,847L946,847Z" fill="#0096ff"/>
<path d="M946,23L1084.5,23L1091.7,31L1099,39L1106.3,47L1113.5,55L1120.7,63L1128,71L1135,79L1142.1,87L1149.7,95L1158.1,103L1167.4,111L1176.3,119L1184.8,127L1193.3,135L1202.4,143L1212,151L1221.1,159L1229.3,167L1237.3,175L1244.8,183L1251.4,191L1257.4,199L1262.7,207L1267.1,215L1270.8,223L1274.2,231L1277,239L1279.3,247L1281.4,255L1283.1,263L1284.6,271L1286,279L1287.2,287L1288.4,295L1289.5,303L1290.5,311L1291.3,319L1292,327L1292.6,335L1293.3,343L1293.9,351L1294.4,359L1294.7,367L1294.9,375L1294.9,383L1294.9,391L1294.6,399L1293.4,407L1293,415L1293.1,423L1293.3,431L1293,439L1292.4,447L1291.6,455L1290.7,463L1289.9,471L1289.1,479L1288.2,487L1287.4,495L1286.7,503L1286,511L1285.3,519L1284.3,527L1283.3,535L1282.2,543L1281.2,551L1280,559L1278.8,567L1277.4,575L1276,583L1274.5,591L1272.9,599L1271.2,607L1269.4,615L1267.5,623L1265.5,631L1263.4,639L1261.3,647L1259,655L1256.6,663L1254.1,671L1251.5,679L1248.7,687L1245.9,695L1243.1,703L1240.1,711L1237,719L1233.8,727L1230.3,735L1226.6,743L1222.9,751L1219.2,759L1215.2,767L1211.1,775L1206.9,783L1203.2,791L1200.1,799L1197.4,807L1194.9,815L1192.8,823L1190.9,831L1188.5,839L1186.2,847L946,847Z" fill="#00c0ff" stroke="#b4b4b4" stroke-width="0.8"/>
<path d="M946,23L1072.2,23L1078.4,31L1084.7,39L1091,47L1097.1,55L1103.4,63L1109.7,71L1116,79L1122.5,87L1129.3,95L1137,103L1145.4,111L1153.7,119L1161.7,127L1169.8,135L1178.4,143L1187.3,151L1195.8,159L1203.8,167L1211.9,175L1220.1,183L1227.6,191L1234.4,199L1240.7,207L1246.3,215L1251.2,223L1255.9,231L1259.7,239L1262.7,247L1265.2,255L1266.8,263L1268.2,271L1269.5,279L1270.6,287L1271.6,295L1272.6,303L1273.4,311L1274.2,319L1274.9,327L1275.6,335L1276.4,343L1277.3,351L1278.1,359L1278.8,367L1279.4,375L1280.1,383L1280.7,391L1281,399L1280.6,407L1280.8,415L1281.4,423L1281.9,431L1281.5,439L1280.6,447L1279.4,455L1278.2,463L1277,471L1275.5,479L1273.9,487L1272.5,495L1271.3,503L1270.4,511L1269.4,519L1268.3,527L1267.2,535L1266,543L1264.9,551L1263.7,559L1262.5,567L1261.2,575L1259.7,583L1258.2,591L1256.5,599L1254.7,607L1252.9,615L1251,623L1249,631L1246.9,639L1244.6,647L1242.3,655L1239.8,663L1237.2,671L1234.4,679L1231.5,687L1228.5,695L1225.5,703L1222.4,711L1219.2,719L1215.9,727L1212.5,735L1208.9,743L1205.2,751L1201.5,759L1197.7,767L1193.7,775L1189.7,783L1186.1,791L1182.9,799L1180.2,807L1177.6,815L1175.4,823L1173.3,831L1170.9,839L1168.4,847L946,847Z" fill="#00e4ff" stroke="#b4b4b4" stroke-width="0.8"/>
<path d="M946,23L1059.9,23L1065.2,31L1070.4,39L1075.7,47L1080.8,55L1086,63L1091.5,71L1097,79L1102.8,87L1109,95L1115.9,103L1123.5,111L1131,119L1138.6,127L1146.3,135L1154.3,143L1162.5,151L1170.5,159L1178.2,167L1186.5,175L1195.3,183L1203.7,191L1211.4,199L1218.7,207L1225.4,215L1231.7,223L1237.7,231L1242.5,239L1246.1,247L1248.9,255L1250.5,263L1251.8,271L1252.9,279L1253.9,287L1254.8,295L1255.6,303L1256.4,311L1257.1,319L1257.7,327L1258.5,335L1259.5,343L1260.6,351L1261.8,359L1262.9,367L1264,375L1265.2,383L1266.4,391L1267.3,399L1267.7,407L1268.5,415L1269.6,423L1270.4,431L1270,439L1268.8,447L1267.3,455L1265.7,463L1264.1,471L1262,479L1259.7,487L1257.6,495L1256,503L1254.7,511L1253.5,519L1252.3,527L1251.1,535L1249.9,543L1248.7,551L1247.5,559L1246.2,567L1244.9,575L1243.4,583L1241.8,591L1240.1,599L1238.3,607L1236.4,615L1234.5,623L1232.4,631L1230.3,639L1228,647L1225.6,655L1223.1,663L1220.3,671L1217.3,679L1214.2,687L1211,695L1207.9,703L1204.7,711L1201.5,719L1198.1,727L1194.6,735L1191.1,743L1187.5,751L1183.9,759L1180.2,767L1176.3,775L1172.5,783L1168.9,791L1165.8,799L1162.9,807L1160.3,815L1157.9,823L1155.7,831L1153.2,839L1150.7,847L946,847Z" fill="#00ffff" stroke="#b4b4b4" stroke-width="0.8"/>
<path d="M946,23L1047.6,23L1051.9,31L1056.2,39L1060.4,47L1064.4,55L1068.7,63L1073.2,71L1078,79L1083.1,87L1088.7,95L1094.8,103L1101.5,111L1108.4,119L1115.4,127L1122.7,135L1130.3,143L1137.8,151L1145.1,159L1152.7,167L1161.1,175L1170.6,183L1179.9,191L1188.5,199L1196.8,207L1204.6,215L1212.1,223L1219.4,231L1225.2,239L1229.5,247L1232.7,255L1234.2,263L1235.4,271L1236.3,279L1237.2,287L1238,295L1238.7,303L1239.3,311L1239.9,319L1240.6,327L1241.5,335L1242.6,343L1244,351L1245.5,359L1247,367L1248.6,375L1250.3,383L1252.1,391L1253.6,399L1254.9,407L1256.3,415L1257.8,423L1259,431L1258.5,439L1257.1,447L1255.2,455L1253.2,463L1251.1,471L1248.4,479L1245.4,487L1242.7,495L1240.6,503L1239.1,511L1237.7,519L1236.3,527L1235,535L1233.7,543L1232.4,551L1231.2,559L1230,567L1228.6,575L1227.1,583L1225.5,591L1223.7,599L1221.9,607L1220,615L1218,623L1215.9,631L1213.7,639L1211.4,647L1208.9,655L1206.3,663L1203.4,671L1200.2,679L1196.9,687L1193.6,695L1190.3,703L1187,711L1183.7,719L1180.3,727L1176.8,735L1173.3,743L1169.8,751L1166.3,759L1162.6,767L1158.9,775L1155.2,783L1151.7,791L1148.6,799L1145.7,807L1143,815L1140.5,823L1138.1,831L1135.5,839L1133,847L946,847Z" fill="#00f4e0" stroke="#b4b4b4" stroke-width="0.8"/>
<path d="M946,23L1035.3,23L1038.6,31L1041.9,39L1045.1,47L1048,55L1051.3,63L1054.9,71L1058.9,79L1063.4,87L1068.3,95L1073.7,103L1079.5,111L1085.7,119L1092.3,127L1099.2,135L1106.2,143L1113.1,151L1119.8,159L1127.1,167L1135.7,175L1145.8,183L1156,191L1165.5,199L1174.8,207L1183.8,215L1192.5,223L1201.1,231L1208,239L1212.9,247L1216.4,255L1218,263L1219,271L1219.8,279L1220.5,287L1221.2,295L1221.7,303L1222.2,311L1222.8,319L1223.5,327L1224.4,335L1225.7,343L1227.4,351L1229.2,359L1231.1,367L1233.2,375L1235.5,383L1237.8,391L1240,399L1242.1,407L1244,415L1246.1,423L1247.6,431L1247,439L1245.3,447L1243.1,455L1240.7,463L1238.2,471L1234.9,479L1231.2,487L1227.8,495L1225.3,503L1223.4,511L1221.8,519L1220.3,527L1218.9,535L1217.5,543L1216.2,551L1215,559L1213.7,567L1212.3,575L1210.8,583L1209.1,591L1207.3,599L1205.5,607L1203.5,615L1201.4,623L1199.3,631L1197.1,639L1194.7,647L1192.2,655L1189.5,663L1186.5,671L1183.2,679L1179.7,687L1176.2,695L1172.7,703L1169.3,711L1165.9,719L1162.5,727L1159,735L1155.6,743L1152.1,751L1148.7,759L1145.1,767L1141.5,775L1138,783L1134.6,791L1131.4,799L1128.4,807L1125.6,815L1123.1,823L1120.5,831L1117.9,839L1115.2,847L946,847Z" fill="#00eac8"/>
<path d="M946,23L1015.4,23L1018.7,31L1021.9,39L1025.3,47L1028.5,55L1032.2,63L1036.2,71L1040.4,79L1045.1,87L1050,95L1055.2,103L1060.8,111L1066.8,119L1073.1,127L1079.9,135L1087,143L1093.9,151L1100.5,159L1107.4,167L1115.4,175L1124.5,183L1133.8,191L1142.5,199L1151,207L1159.2,215L1167.1,223L1174.9,231L1181.2,239L1185.9,247L1189.6,255L1191.9,263L1193.7,271L1195.2,279L1196.5,287L1197.7,295L1198.6,303L1199.4,311L1200.2,319L1201,327L1202,335L1203.2,343L1204.5,351L1205.9,359L1207.3,367L1208.8,375L1210.5,383L1212.1,391L1213.4,399L1214.5,407L1215.9,415L1217.3,423L1218.5,431L1218,439L1217.1,447L1216.1,455L1215.1,463L1214,471L1212.4,479L1210.2,487L1208.1,495L1206.5,503L1205.4,511L1204.4,519L1203.4,527L1202.3,535L1201.2,543L1200,551L1198.9,559L1197.8,567L1196.5,575L1195.1,583L1193.5,591L1191.8,599L1190.1,607L1188.1,615L1186.1,623L1184,631L1181.9,639L1179.8,647L1177.7,655L1175.4,663L1172.8,671L1169.9,679L1166.8,687L1163.6,695L1160.4,703L1157.2,711L1153.9,719L1150.5,727L1147,735L1143.6,743L1140.2,751L1136.8,759L1133.3,767L1129.8,775L1126.3,783L1123,791L1119.8,799L1116.9,807L1114.2,815L1111.7,823L1109.4,831L1106.9,839L1104.4,847L946,847Z" fill="#00e0b0" stroke="#b4b4b4" stroke-width="0.8"/>
<path d="M946,23L995.5,23L998.8,31L1002,39L1005.5,47L1009.1,55L1013.2,63L1017.5,71L1021.9,79L1026.7,87L1031.7,95L1036.8,103L1042.2,111L1047.8,119L1053.9,127L1060.6,135L1067.8,143L1074.7,151L1081.1,159L1087.8,167L1095.1,175L1103.3,183L1111.6,191L1119.5,199L1127.3,207L1134.7,215L1141.8,223L1148.7,231L1154.4,239L1159,247L1162.8,255L1165.8,263L1168.4,271L1170.7,279L1172.5,287L1174.1,295L1175.5,303L1176.7,311L1177.6,319L1178.5,327L1179.5,335L1180.6,343L1181.6,351L1182.6,359L1183.6,367L1184.5,375L1185.5,383L1186.4,391L1186.7,399L1187,407L1187.7,415L1188.6,423L1189.3,431L1189,439L1188.8,447L1189.1,455L1189.5,463L1189.9,471L1189.9,479L1189.3,487L1188.4,495L1187.8,503L1187.4,511L1187,519L1186.5,527L1185.8,535L1184.8,543L1183.9,551L1182.9,559L1181.8,567L1180.7,575L1179.4,583L1177.9,591L1176.3,599L1174.6,607L1172.8,615L1170.8,623L1168.7,631L1166.8,639L1165,647L1163.2,655L1161.3,663L1159.1,671L1156.7,679L1153.9,687L1151,695L1148,703L1145,711L1141.9,719L1138.5,727L1135.1,735L1131.6,743L1128.3,751L1124.9,759L1121.5,767L1118.1,775L1114.7,783L1111.4,791L1108.2,799L1105.3,807L1102.7,815L1100.4,823L1098.2,831L1095.9,839L1093.5,847L946,847Z" fill="#00d696" stroke="#b4b4b4" stroke-width="0.8"/>
<path d="M946,23L975.6,23L978.9,31L982.1,39L985.7,47L989.6,55L994.2,63L998.7,71L1003.4,79L1008.3,87L1013.3,95L1018.4,103L1023.5,111L1028.8,119L1034.6,127L1041.4,135L1048.6,143L1055.5,151L1061.8,159L1068.1,167L1074.8,175L1082,183L1089.4,191L1096.5,199L1103.5,207L1110.1,215L1116.4,223L1122.4,231L1127.6,239L1132,247L1136.1,255L1139.7,263L1143.2,271L1146.1,279L1148.5,287L1150.6,295L1152.4,303L1153.9,311L1155,319L1156,327L1157.1,335L1158,343L1158.8,351L1159.3,359L1159.8,367L1160.2,375L1160.6,383L1160.7,391L1160.1,399L1159.5,407L1159.5,415L1159.8,423L1160.1,431L1160.1,439L1160.6,447L1162.1,455L1163.8,463L1165.7,471L1167.4,479L1168.3,487L1168.7,495L1169.1,503L1169.4,511L1169.5,519L1169.6,527L1169.2,535L1168.5,543L1167.7,551L1166.8,559L1165.9,567L1164.9,575L1163.7,583L1162.3,591L1160.8,599L1159.2,607L1157.4,615L1155.4,623L1153.4,631L1151.6,639L1150.1,647L1148.6,655L1147.2,663L1145.5,671L1143.5,679L1141.1,687L1138.5,695L1135.7,703L1132.9,711L1129.8,719L1126.5,727L1123.1,735L1119.7,743L1116.4,751L1113.1,759L1109.7,767L1106.4,775L1103.1,783L1099.8,791L1096.6,799L1093.7,807L1091.3,815L1089.1,823L1087.1,831L1084.9,839L1082.7,847L946,847Z" fill="#00cd7d" stroke="#b4b4b4" stroke-width="0.8"/>
<path d="M946,23L956,23L959,31L962.2,39L965.8,47L970.2,55L975.1,63L980,71L984.9,79L989.9,87L995,95L999.9,103L1004.8,111L1009.8,119L1015.4,127L1022.1,135L1029.4,143L1036.3,151L1042.5,159L1048.4,167L1054.5,175L1060.8,183L1067.2,191L1073.5,199L1079.7,207L1085.6,215L1091.1,223L1096.2,231L1100.8,239L1105,247L1109.3,255L1113.6,263L1117.9,271L1121.6,279L1124.5,287L1127.1,295L1129.4,303L1131.1,311L1132.4,319L1133.6,327L1134.6,335L1135.4,343L1135.9,351L1136.1,359L1136,367L1135.9,375L1135.6,383L1134.9,391L1133.5,399L1132,407L1131.3,415L1131,423L1130.9,431L1131.1,439L1132.4,447L1135,455L1138.2,463L1141.5,471L1144.9,479L1147.3,487L1148.9,495L1150.3,503L1151.4,511L1152.1,519L1152.7,527L1152.6,535L1152.2,543L1151.5,551L1150.8,559L1150,567L1149.1,575L1148,583L1146.8,591L1145.3,599L1143.8,607L1142.1,615L1140.1,623L1138.1,631L1136.4,639L1135.2,647L1134.1,655L1133.1,663L1131.8,671L1130.2,679L1128.2,687L1125.9,695L1123.4,703L1120.7,711L1117.8,719L1114.6,727L1111.1,735L1107.7,743L1104.5,751L1101.2,759L1097.9,767L1094.6,775L1091.4,783L1088.2,791L1085,799L1082.2,807L1079.8,815L1077.8,823L1075.9,831L1073.9,839L1071.8,847L946,847Z" fill="#00c363" stroke="#b4b4b4" stroke-width="0.8"/>
<path d="M946,23L956,23L956,55L956.1,63L961.3,71L966.4,79L971.5,87L976.6,95L981.5,103L986.1,111L990.9,119L996.2,127L1002.8,135L1010.2,143L1017.1,151L1023.1,159L1028.7,167L1034.2,175L1039.5,183L1045,191L1050.6,199L1056,207L1061.1,215L1065.7,223L1069.9,231L1073.9,239L1078.1,247L1082.5,255L1087.6,263L1092.6,271L1097,279L1100.5,287L1103.6,295L1106.3,303L1108.3,311L1109.8,319L1111.1,327L1112.2,335L1112.9,343L1113,351L1112.8,359L1112.2,367L1111.5,375L1110.7,383L1109.2,391L1106.8,399L1104.5,407L1103.2,415L1102.3,423L1101.7,431L1102.2,439L1104.1,447L1108,455L1112.6,463L1117.4,471L1122.4,479L1126.4,487L1129.2,495L1131.6,503L1133.4,511L1134.7,519L1135.7,527L1136,535L1135.8,543L1135.4,551L1134.8,559L1134.1,567L1133.3,575L1132.3,583L1131.2,591L1129.8,599L1128.4,607L1126.7,615L1124.7,623L1122.8,631L1121.3,639L1120.3,647L1119.6,655L1119,663L1118.2,671L1117,679L1115.4,687L1113.3,695L1111,703L1108.6,711L1105.8,719L1102.6,727L1099.2,735L1095.8,743L1092.6,751L1089.3,759L1086.1,767L1082.9,775L1079.8,783L1076.6,791L1073.4,799L1070.6,807L1068.3,815L1066.4,823L1064.8,831L1062.9,839L1061,847L946,847Z" fill="#00ba4a"/>
<path d="M946,23L956,23L956,103L957.7,111L963.1,119L969,127L976,135L983.6,143L990.7,151L997.2,159L1003.5,167L1009.5,175L1015.4,183L1021.3,191L1027.1,199L1032.8,207L1038.1,215L1043.1,223L1047.8,231L1052.2,239L1056.7,247L1061.5,255L1066.7,263L1072,271L1076.6,279L1080.2,287L1083.6,295L1086.5,303L1088.9,311L1090.7,319L1092.5,327L1094.1,335L1095.4,343L1096.1,351L1096.5,359L1096.7,367L1096.6,375L1096.3,383L1095.6,391L1094.1,399L1092.6,407L1091.9,415L1091.5,423L1091.4,431L1092,439L1093.9,447L1097.3,455L1101.3,463L1105.6,471L1109.9,479L1113.5,487L1116.1,495L1118.3,503L1120.1,511L1121.5,519L1122.6,527L1123.2,535L1123.4,543L1123.4,551L1123.1,559L1122.6,567L1122.1,575L1121.4,583L1120.4,591L1119.3,599L1118.1,607L1116.7,615L1115.1,623L1113.4,631L1112,639L1111,647L1110.2,655L1109.4,663L1108.4,671L1107,679L1105.2,687L1103,695L1100.5,703L1097.9,711L1094.9,719L1091.7,727L1088.2,735L1084.8,743L1081.5,751L1078.1,759L1074.8,767L1071.5,775L1068.3,783L1065.1,791L1062,799L1059.3,807L1057,815L1055,823L1053.3,831L1051.3,839L1049.3,847L946,847Z" fill="#00b030" stroke="#b4b4b4" stroke-width="0.8"/>
<path d="M946,23L956,23L956,135L956.9,143L964.4,151L971.3,159L978.2,167L984.8,175L991.3,183L997.6,191L1003.7,199L1009.6,207L1015.2,215L1020.5,223L1025.6,231L1030.5,239L1035.4,247L1040.5,255L1045.9,263L1051.3,271L1056.1,279L1060,287L1063.6,295L1066.7,303L1069.4,311L1071.7,319L1073.9,327L1076,335L1077.8,343L1079.3,351L1080.3,359L1081.1,367L1081.6,375L1082,383L1082,391L1081.3,399L1080.7,407L1080.6,415L1080.7,423L1081,431L1081.9,439L1083.7,447L1086.7,455L1090.1,463L1093.7,471L1097.4,479L1100.5,487L1102.9,495L1105.1,503L1106.8,511L1108.2,519L1109.5,527L1110.4,535L1111,543L1111.3,551L1111.4,559L1111.2,567L1110.9,575L1110.4,583L1109.7,591L1108.8,599L1107.9,607L1106.8,615L1105.4,623L1104,631L1102.7,639L1101.7,647L1100.8,655L1099.8,663L1098.6,671L1097.1,679L1095.1,687L1092.7,695L1090,703L1087.1,711L1084.1,719L1080.7,727L1077.2,735L1073.7,743L1070.3,751L1066.9,759L1063.5,767L1060.1,775L1056.8,783L1053.6,791L1050.6,799L1047.9,807L1045.6,815L1043.6,823L1041.8,831L1039.6,839L1037.5,847L946,847Z" fill="#00aa1d" stroke="#b4b4b4" stroke-width="0.8"/>
<path d="M946,23L956,23L956,167L960.2,175L967.1,183L973.9,191L980.3,199L986.4,207L992.3,215L998,223L1003.4,231L1008.8,239L1014.1,247L1019.5,255L1025.1,263L1030.7,271L1035.6,279L1039.8,287L1043.5,295L1046.9,303L1049.9,311L1052.7,319L1055.4,327L1058,335L1060.3,343L1062.4,351L1064.1,359L1065.5,367L1066.7,375L1067.7,383L1068.4,391L1068.6,399L1068.8,407L1069.3,415L1070,423L1070.7,431L1071.8,439L1073.5,447L1076,455L1078.9,463L1081.9,471L1085,479L1087.6,487L1089.8,495L1091.8,503L1093.5,511L1095,519L1096.4,527L1097.6,535L1098.6,543L1099.3,551L1099.7,559L1099.7,567L1099.6,575L1099.4,583L1098.9,591L1098.3,599L1097.6,607L1096.8,615L1095.8,623L1094.6,631L1093.5,639L1092.4,647L1091.3,655L1090.2,663L1088.8,671L1087.1,679L1085,687L1082.4,695L1079.5,703L1076.4,711L1073.2,719L1069.8,727L1066.3,735L1062.7,743L1059.2,751L1055.8,759L1052.2,767L1048.6,775L1045.3,783L1042.2,791L1039.2,799L1036.6,807L1034.2,815L1032.1,823L1030.3,831L1028,839L1025.8,847L946,847Z" fill="#00a30a" stroke="#b4b4b4" stroke-width="0.8"/>
<path d="M946,23L956,23L956,191L956.9,199L963.2,207L969.4,215L975.4,223L981.3,231L987.1,239L992.7,247L998.4,255L1004.3,263L1010,271L1015.2,279L1019.6,287L1023.5,295L1027.1,303L1030.5,311L1033.6,319L1036.8,327L1039.9,335L1042.8,343L1045.5,351L1047.9,359L1049.9,367L1051.7,375L1053.3,383L1054.7,391L1055.8,399L1056.9,407L1058,415L1059.2,423L1060.3,431L1061.6,439L1063.2,447L1065.3,455L1067.7,463L1070.1,471L1072.5,479L1074.7,487L1076.6,495L1078.5,503L1080.2,511L1081.8,519L1083.3,527L1084.7,535L1086.1,543L1087.3,551L1088,559L1088.3,567L1088.4,575L1088.4,583L1088.1,591L1087.8,599L1087.3,607L1086.8,615L1086.1,623L1085.3,631L1084.2,639L1083.1,647L1081.9,655L1080.6,663L1079,671L1077.1,679L1074.8,687L1072.1,695L1068.9,703L1065.7,711L1062.3,719L1058.9,727L1055.3,735L1051.7,743L1048.1,751L1044.6,759L1040.9,767L1037.2,775L1033.8,783L1030.7,791L1027.9,799L1025.2,807L1022.8,815L1020.7,823L1018.8,831L1016.4,839L1014.1,847L946,847Z" fill="#00a800" stroke="#b4b4b4" stroke-width="0.8"/>
<path d="M946,23L956,23L956,223L959.1,231L965.3,239L971.4,247L977.4,255L983.5,263L989.4,271L994.7,279L999.4,287L1003.5,295L1007.4,303L1011,311L1014.6,319L1018.2,327L1021.8,335L1025.3,343L1028.6,351L1031.6,359L1034.3,367L1036.7,375L1039,383L1041.1,391L1043.1,399L1045,407L1046.8,415L1048.4,423L1050,431L1051.5,439L1053,447L1054.7,455L1056.4,463L1058.2,471L1060,479L1061.8,487L1063.5,495L1065.2,503L1066.9,511L1068.5,519L1070.1,527L1071.9,535L1073.7,543L1075.3,551L1076.3,559L1076.8,567L1077.2,575L1077.4,583L1077.4,591L1077.3,599L1077.1,607L1076.8,615L1076.5,623L1075.9,631L1075,639L1073.8,647L1072.5,655L1071.1,663L1069.3,671L1067.2,679L1064.7,687L1061.8,695L1058.4,703L1054.9,711L1051.5,719L1048,727L1044.4,735L1040.7,743L1037,751L1033.4,759L1029.6,767L1025.8,775L1022.3,783L1019.3,791L1016.5,799L1013.9,807L1011.5,815L1009.3,823L1007.3,831L1004.8,839L1002.4,847L946,847Z" fill="#00be00"/>
<path d="M946,23L956,23L956,255L958.1,263L963.9,271L969.4,279L974.4,287L979,295L983.5,303L987.8,311L992.1,319L996.3,327L1000.8,335L1005.1,343L1009.2,351L1012.9,359L1016.4,367L1019.6,375L1022.6,383L1025.3,391L1027.8,399L1030.1,407L1032.2,415L1034.1,423L1035.9,431L1037.6,439L1039.2,447L1041,455L1042.8,463L1044.6,471L1046.5,479L1048.3,487L1050.2,495L1052.1,503L1054,511L1056,519L1057.9,527L1059.9,535L1061.8,543L1063.6,551L1065,559L1066,567L1066.8,575L1067.3,583L1067.6,591L1067.8,599L1067.8,607L1067.8,615L1067.6,623L1067.1,631L1066.3,639L1065.3,647L1064.1,655L1062.7,663L1061,671L1059.1,679L1056.8,687L1054,695L1050.8,703L1047.4,711L1043.7,719L1039.7,727L1035.2,735L1029.7,743L1023.6,751L1017.8,759L1011.9,767L1005.9,775L999.8,783L993.8,791L987.8,799L981.9,807L976.3,815L970.8,823L965.5,831L959.9,839L956,847L946,847Z" fill="#90e000" stroke="#b4b4b4" stroke-width="0.8"/>
<path d="M946,23L956,23L956,295L959.6,303L964.6,311L969.5,319L974.5,327L979.8,335L984.9,343L989.7,351L994.2,359L998.4,367L1002.4,375L1006.2,383L1009.6,391L1012.5,399L1015.2,407L1017.5,415L1019.7,423L1021.8,431L1023.6,439L1025.5,447L1027.3,455L1029.2,463L1031.1,471L1033,479L1034.9,487L1036.8,495L1038.9,503L1041.1,511L1043.4,519L1045.6,527L1047.8,535L1049.9,543L1051.9,551L1053.6,559L1055.2,567L1056.4,575L1057.2,583L1057.8,591L1058.2,599L1058.5,607L1058.8,615L1058.8,623L1058.4,631L1057.7,639L1056.8,647L1055.8,655L1054.4,663L1052.8,671L1051,679L1048.8,687L1046.2,695L1043.2,703L1039.8,711L1036,719L1031.5,727L1026.1,735L1018.7,743L1010.2,751L1002.3,759L994.3,767L985.9,775L977.2,783L968.3,791L959,799L956,807L956,847L946,847Z" fill="#d8f000" stroke="#b4b4b4" stroke-width="0.8"/>
<path d="M946,23L956,23L956,327L958.7,335L964.6,343L970.2,351L975.5,359L980.5,367L985.2,375L989.7,383L993.8,391L997.3,399L1000.3,407L1002.9,415L1005.4,423L1007.7,431L1009.7,439L1011.7,447L1013.6,455L1015.5,463L1017.5,471L1019.4,479L1021.4,487L1023.5,495L1025.8,503L1028.3,511L1030.9,519L1033.3,527L1035.7,535L1038,543L1040.2,551L1042.3,559L1044.3,567L1046,575L1047.1,583L1048,591L1048.7,599L1049.3,607L1049.8,615L1050,623L1049.7,631L1049.1,639L1048.3,647L1047.4,655L1046.1,663L1044.6,671L1042.9,679L1040.9,687L1038.5,695L1035.6,703L1032.3,711L1028.2,719L1023.2,727L1016.9,735L1007.7,743L996.7,751L986.7,759L976.7,767L966,775L956,783L956,847L946,847Z" fill="#ffee00" stroke="#b4b4b4" stroke-width="0.8"/>
<path d="M946,23L956,23L956,359L958.3,367L964.2,375L969.9,383L975.4,391L980.8,399L986.2,407L991,415L995.3,423L999.4,431L1002.8,439L1004.5,447L1005.8,455L1007.1,463L1008.5,471L1010,479L1011.8,487L1013.7,495L1015.7,503L1017.9,511L1020.1,519L1022.4,527L1024.6,535L1026.8,543L1029.1,551L1031.3,559L1033.6,567L1035.5,575L1037.2,583L1038.7,591L1039.9,599L1040.8,607L1041.7,615L1042,623L1041.7,631L1041.1,639L1040.2,647L1038.8,655L1036.9,663L1034.4,671L1031.3,679L1028.3,687L1025,695L1021,703L1015.1,711L1008.6,719L1001.6,727L993.4,735L983.2,743L971.9,751L960.9,759L956,767L956,847L946,847Z" fill="#ffda00" stroke="#b4b4b4" stroke-width="0.8"/>
<path d="M946,23L956,23L956,383L957.1,391L964.3,399L972.1,407L979,415L985.2,423L991.1,431L995.8,439L997.3,447L998.1,455L998.6,463L999.4,471L1000.7,479L1002.2,487L1003.9,495L1005.7,503L1007.5,511L1009.4,519L1011.4,527L1013.5,535L1015.6,543L1017.9,551L1020.4,559L1022.8,567L1025,575L1027.2,583L1029.3,591L1031.1,599L1032.4,607L1033.6,615L1034,623L1033.7,631L1033.2,639L1032.1,647L1030.2,655L1027.7,663L1024.1,671L1019.7,679L1015.7,687L1011.5,695L1006.3,703L997.9,711L989,719L979.9,727L969.9,735L958.8,743L956,751L956,847L946,847Z" fill="#ffc000"/>
<path d="M946,23L956,23L956,471L957.5,479L968.4,487L980.9,495L991.4,503L999.1,511L1003.3,519L1005.8,527L1007.8,535L1009.8,543L1012.1,551L1014.4,559L1016.6,567L1018.6,575L1020.5,583L1022.3,591L1023.9,599L1025.1,607L1026,615L1026.2,623L1025.7,631L1024.9,639L1023.8,647L1022,655L1019.7,663L1016.5,671L1012.8,679L1009.3,687L1005.5,695L1000.2,703L991.2,711L980.1,719L967.2,727L956,735L956,847L946,847Z" fill="#ffa300" stroke="#b4b4b4" stroke-width="0.8"/>
<path d="M946,23L956,23L956,487L957.8,495L977,503L990.7,511L997.2,519L1000.2,527L1002.1,535L1004,543L1006.2,551L1008.4,559L1010.5,567L1012.3,575L1013.8,583L1015.3,591L1016.7,599L1017.8,607L1018.4,615L1018.3,623L1017.7,631L1016.7,639L1015.4,647L1013.9,655L1011.7,663L1008.9,671L1005.9,679L1003,687L999.4,695L994,703L984.6,711L971.2,719L956,727L956,847L946,847Z" fill="#ff8800" stroke="#b4b4b4" stroke-width="0.8"/>
<path d="M946,23L956,23L956,567L967.1,575L985.2,583L999.4,591L1006.6,599L1008.8,607L1010.2,615L1011.2,623L1011.1,631L1010,639L1008.4,647L1006.6,655L1003.2,663L994.1,671L979.3,679L961.8,687L956,695L956,847L946,847Z" fill="#ff6d00" stroke="#b4b4b4" stroke-width="0.8"/>
<path d="M946,23L956,23L956,575L956.6,583L983.5,591L996.6,599L999.9,607L1002,615L1004,623L1004.6,631L1003.3,639L1001.4,647L999.2,655L994.7,663L979.3,671L956,679L956,847L946,847Z" fill="#ff5000" stroke="#b4b4b4" stroke-width="0.8"/>
<path d="M946,23L956,23L956,607L985.9,615L997.7,623L998.8,631L995.5,639L968,647L956,655L956,847L946,847Z" fill="#ff3000" stroke="#b4b4b4" stroke-width="0.8"/>
<path d="M1096.8,23L1105,31L1113.3,39L1121.5,47L1129.9,55L1138.1,63L1146.2,71L1154,79L1161.8,87L1170,95L1179.3,103L1189.3,111M1246.4,159L1254.9,167L1262.8,175L1269.6,183L1275.3,191L1280.3,199L1284.6,207L1287.9,215L1290.4,223L1292.4,231L1294.2,239L1295.9,247L1297.7,255L1299.4,263L1301.1,271L1302.6,279L1303.9,287L1305.2,295L1306.5,303L1307.6,311L1308.5,319L1309.1,327L1309.7,335L1310.2,343L1310.5,351L1310.7,359L1310.6,367L1310.3,375L1309.8,383L1309.2,391L1308.3,399L1306.3,407M1302.6,479L1302.4,487L1302.3,495L1302,503L1301.7,511L1301.1,519L1300.3,527L1299.4,535L1298.4,543L1297.4,551L1296.3,559L1295,567L1293.7,575L1292.3,583L1290.9,591L1289.3,599L1287.6,607L1285.8,615L1284,623L1282.1,631L1280,639L1277.9,647L1275.7,655L1273.4,663L1271,671L1268.5,679L1266,687L1263.4,695L1260.7,703L1257.8,711L1254.8,719L1251.6,727L1248.1,735L1244.4,743L1240.6,751L1236.8,759L1232.8,767L1228.4,775L1224.2,783L1220.4,791L1217.3,799L1214.6,807L1212.3,815L1210.3,823L1208.5,831L1206.2,839L1203.9,847" fill="none" stroke="#000" stroke-width="1.15"/>
<path d="M1035.3,23L1038.6,31L1041.9,39L1045.1,47L1048,55L1051.3,63L1054.9,71L1058.9,79L1063.4,87L1068.3,95L1073.7,103L1079.5,111L1085.7,119M1135.7,175L1145.8,183L1156,191L1165.5,199L1174.8,207L1183.8,215L1192.5,223L1201.1,231L1208,239L1212.9,247L1216.4,255L1218,263L1219,271L1219.8,279L1220.5,287L1221.2,295L1221.7,303L1222.2,311L1222.8,319L1223.5,327L1224.4,335L1225.7,343L1227.4,351L1229.2,359L1231.1,367L1233.2,375L1235.5,383L1237.8,391L1240,399L1242.1,407L1244,415L1246.1,423L1247.6,431M1227.8,495L1225.3,503L1223.4,511L1221.8,519L1220.3,527L1218.9,535L1217.5,543L1216.2,551L1215,559L1213.7,567L1212.3,575L1210.8,583L1209.1,591L1207.3,599L1205.5,607L1203.5,615L1201.4,623L1199.3,631L1197.1,639L1194.7,647L1192.2,655L1189.5,663L1186.5,671L1183.2,679L1179.7,687L1176.2,695L1172.7,703L1169.3,711L1165.9,719L1162.5,727L1159,735L1155.6,743L1152.1,751L1148.7,759L1145.1,767L1141.5,775L1138,783L1134.6,791L1131.4,799L1128.4,807L1125.6,815L1123.1,823L1120.5,831L1117.9,839L1115.2,847" fill="none" stroke="#000" stroke-width="1.15"/>
<path d="M956,23L956,55L956.1,63L961.3,71L966.4,79L971.5,87L976.6,95L981.5,103L986.1,111L990.9,119L996.2,127L1002.8,135L1010.2,143L1017.1,151L1023.1,159L1028.7,167L1034.2,175L1039.5,183L1045,191L1050.6,199L1056,207L1061.1,215L1065.7,223M1097,279L1100.5,287L1103.6,295L1106.3,303L1108.3,311L1109.8,319L1111.1,327L1112.2,335L1112.9,343L1113,351L1112.8,359L1112.2,367L1111.5,375L1110.7,383L1109.2,391L1106.8,399L1104.5,407L1103.2,415L1102.3,423L1101.7,431L1102.2,439L1104.1,447L1108,455L1112.6,463L1117.4,471L1122.4,479L1126.4,487L1129.2,495L1131.6,503L1133.4,511L1134.7,519L1135.7,527L1136,535M1128.4,607L1126.7,615L1124.7,623L1122.8,631L1121.3,639L1120.3,647L1119.6,655L1119,663L1118.2,671L1117,679L1115.4,687L1113.3,695L1111,703L1108.6,711L1105.8,719L1102.6,727L1099.2,735L1095.8,743L1092.6,751L1089.3,759L1086.1,767L1082.9,775L1079.8,783L1076.6,791L1073.4,799L1070.6,807L1068.3,815L1066.4,823L1064.8,831L1062.9,839L1061,847" fill="none" stroke="#000" stroke-width="1.15"/>
<path d="M956,23L956,223L959.1,231L965.3,239L971.4,247L977.4,255L983.5,263L989.4,271L994.7,279L999.4,287L1003.5,295L1007.4,303L1011,311L1014.6,319L1018.2,327L1021.8,335L1025.3,343L1028.6,351L1031.6,359L1034.3,367L1036.7,375L1039,383L1041.1,391L1043.1,399L1045,407L1046.8,415L1048.4,423L1050,431L1051.5,439L1053,447L1054.7,455L1056.4,463L1058.2,471L1060,479L1061.8,487M1076.3,559L1076.8,567L1077.2,575L1077.4,583L1077.4,591L1077.3,599L1077.1,607L1076.8,615L1076.5,623L1075.9,631L1075,639L1073.8,647L1072.5,655L1071.1,663L1069.3,671L1067.2,679L1064.7,687L1061.8,695L1058.4,703L1054.9,711L1051.5,719L1048,727L1044.4,735L1040.7,743L1037,751L1033.4,759L1029.6,767L1025.8,775L1022.3,783L1019.3,791L1016.5,799L1013.9,807L1011.5,815L1009.3,823L1007.3,831L1004.8,839L1002.4,847" fill="none" stroke="#000" stroke-width="1.15"/>
<path d="M956,23L956,383L957.1,391L964.3,399L972.1,407L979,415L985.2,423L991.1,431L995.8,439L997.3,447L998.1,455L998.6,463L999.4,471L1000.7,479L1002.2,487L1003.9,495L1005.7,503L1007.5,511L1009.4,519L1011.4,527L1013.5,535L1015.6,543L1017.9,551L1020.4,559L1022.8,567L1025,575L1027.2,583L1029.3,591L1031.1,599L1032.4,607L1033.6,615L1034,623L1033.7,631L1033.2,639L1032.1,647L1030.2,655L1027.7,663L1024.1,671L1019.7,679L1015.7,687L1011.5,695L1006.3,703L997.9,711L989,719L979.9,727L969.9,735L958.8,743L956,751L956,847" fill="none" stroke="#000" stroke-width="1.15"/>
<text transform="translate(1220.4 138) rotate(42)" font-size="44" text-anchor="middle" fill="#171717" dy="0.33em">38</text>
<text transform="translate(1108.1 145.1) rotate(50)" font-size="44" text-anchor="middle" fill="#171717" dy="0.33em">48</text>
<text transform="translate(1080.4 251.4) rotate(63)" font-size="44" text-anchor="middle" fill="#171717" dy="0.33em">58</text>
<text transform="translate(1305.4 443) rotate(-87)" font-size="44" text-anchor="middle" fill="#171717" dy="0.33em">38</text>
<text transform="translate(1239.8 466) rotate(-68)" font-size="44" text-anchor="middle" fill="#171717" dy="0.33em">48</text>
<text transform="translate(1133.6 572.3) rotate(-82)" font-size="44" text-anchor="middle" fill="#171717" dy="0.33em">58</text>
<text transform="translate(1070.5 524.5) rotate(100)" font-size="44" text-anchor="middle" fill="#171717" dy="0.33em">68</text>
</g>
<rect x="996" y="47" width="472" height="782" fill="none" stroke="#858585" stroke-width="1.5"/>
<path d="M1035.3,47v-10 M1035.3,829v10M1114,47v-10 M1114,829v10M1192.7,47v-10 M1192.7,829v10M1271.3,47v-10 M1271.3,829v10M1350,47v-10 M1350,829v10M1428.7,47v-10 M1428.7,829v10M996,47h-10 M1468,47h10M996,125.2h-10 M1468,125.2h10M996,203.4h-10 M1468,203.4h10M996,281.6h-10 M1468,281.6h10M996,359.8h-10 M1468,359.8h10M996,438h-10 M1468,438h10M996,516.2h-10 M1468,516.2h10M996,594.4h-10 M1468,594.4h10M996,672.6h-10 M1468,672.6h10M996,750.8h-10 M1468,750.8h10M996,829h-10 M1468,829h10" stroke="#858585" stroke-width="1.4" fill="none"/>
<text transform="translate(1035.3 881.2) scale(0.980 1)" font-size="46.8" text-anchor="middle" fill="#171717">4</text>
<text transform="translate(1114 881.2) scale(0.980 1)" font-size="46.8" text-anchor="middle" fill="#171717">6</text>
<text transform="translate(1192.7 881.2) scale(0.980 1)" font-size="46.8" text-anchor="middle" fill="#171717">8</text>
<text transform="translate(1271.3 881.2) scale(0.980 1)" font-size="46.8" text-anchor="middle" fill="#171717">10</text>
<text transform="translate(1350 881.2) scale(0.980 1)" font-size="46.8" text-anchor="middle" fill="#171717">12</text>
<text transform="translate(1428.7 881.2) scale(0.980 1)" font-size="46.8" text-anchor="middle" fill="#171717">14</text>
<text transform="translate(983.5 62.6) scale(0.980 1)" font-size="46.8" text-anchor="end" fill="#171717">0</text>
<text transform="translate(983.5 140.8) scale(0.980 1)" font-size="46.8" text-anchor="end" fill="#171717">-2</text>
<text transform="translate(983.5 219) scale(0.980 1)" font-size="46.8" text-anchor="end" fill="#171717">-4</text>
<text transform="translate(983.5 297.2) scale(0.980 1)" font-size="46.8" text-anchor="end" fill="#171717">-6</text>
<text transform="translate(983.5 375.4) scale(0.980 1)" font-size="46.8" text-anchor="end" fill="#171717">-8</text>
<text transform="translate(983.5 453.6) scale(0.980 1)" font-size="46.8" text-anchor="end" fill="#171717">-10</text>
<text transform="translate(983.5 531.8) scale(0.980 1)" font-size="46.8" text-anchor="end" fill="#171717">-12</text>
<text transform="translate(983.5 610) scale(0.980 1)" font-size="46.8" text-anchor="end" fill="#171717">-14</text>
<text transform="translate(983.5 688.2) scale(0.980 1)" font-size="46.8" text-anchor="end" fill="#171717">-16</text>
<text transform="translate(983.5 766.4) scale(0.980 1)" font-size="46.8" text-anchor="end" fill="#171717">-18</text>
<text transform="translate(983.5 844.6) scale(0.980 1)" font-size="46.8" text-anchor="end" fill="#171717">-20</text>
<text transform="translate(1232 940.7) scale(0.966 1)" font-size="46.9" text-anchor="middle" fill="#171717">Horizontal distance/cm</text>
<text transform="translate(902 438) rotate(-90) scale(0.972 1)" font-size="46.9" text-anchor="middle" fill="#171717">Vertical distance/cm</text>
<text transform="translate(1246.6 1015.4)" font-size="61" text-anchor="middle" fill="#000">120 s</text>
<rect x="1543" y="692.7" width="34" height="16.9" fill="#0000c8" stroke="#2a2a2a" stroke-width="1.1"/>
<rect x="1543" y="675.9" width="34" height="16.9" fill="#0000ff" stroke="#2a2a2a" stroke-width="1.1"/>
<rect x="1543" y="659" width="34" height="16.9" fill="#0023ff" stroke="#2a2a2a" stroke-width="1.1"/>
<rect x="1543" y="642.2" width="34" height="16.9" fill="#0046ff" stroke="#2a2a2a" stroke-width="1.1"/>
<rect x="1543" y="625.3" width="34" height="16.9" fill="#006dff" stroke="#2a2a2a" stroke-width="1.1"/>
<rect x="1543" y="608.5" width="34" height="16.9" fill="#0096ff" stroke="#2a2a2a" stroke-width="1.1"/>
<rect x="1543" y="591.6" width="34" height="16.9" fill="#00c0ff" stroke="#2a2a2a" stroke-width="1.1"/>
<rect x="1543" y="574.7" width="34" height="16.9" fill="#00e4ff" stroke="#2a2a2a" stroke-width="1.1"/>
<rect x="1543" y="557.9" width="34" height="16.9" fill="#00ffff" stroke="#2a2a2a" stroke-width="1.1"/>
<rect x="1543" y="541" width="34" height="16.9" fill="#00f4e0" stroke="#2a2a2a" stroke-width="1.1"/>
<rect x="1543" y="524.2" width="34" height="16.9" fill="#00eac8" stroke="#2a2a2a" stroke-width="1.1"/>
<rect x="1543" y="507.3" width="34" height="16.9" fill="#00e0b0" stroke="#2a2a2a" stroke-width="1.1"/>
<rect x="1543" y="490.4" width="34" height="16.9" fill="#00d696" stroke="#2a2a2a" stroke-width="1.1"/>
<rect x="1543" y="473.6" width="34" height="16.9" fill="#00cd7d" stroke="#2a2a2a" stroke-width="1.1"/>
<rect x="1543" y="456.7" width="34" height="16.9" fill="#00c363" stroke="#2a2a2a" stroke-width="1.1"/>
<rect x="1543" y="439.9" width="34" height="16.9" fill="#00ba4a" stroke="#2a2a2a" stroke-width="1.1"/>
<rect x="1543" y="423" width="34" height="16.9" fill="#00b030" stroke="#2a2a2a" stroke-width="1.1"/>
<rect x="1543" y="406.2" width="34" height="16.9" fill="#00aa1d" stroke="#2a2a2a" stroke-width="1.1"/>
<rect x="1543" y="389.3" width="34" height="16.9" fill="#00a30a" stroke="#2a2a2a" stroke-width="1.1"/>
<rect x="1543" y="372.4" width="34" height="16.9" fill="#00a800" stroke="#2a2a2a" stroke-width="1.1"/>
<rect x="1543" y="355.6" width="34" height="16.9" fill="#00be00" stroke="#2a2a2a" stroke-width="1.1"/>
<rect x="1543" y="338.7" width="34" height="16.9" fill="#90e000" stroke="#2a2a2a" stroke-width="1.1"/>
<rect x="1543" y="321.9" width="34" height="16.9" fill="#d8f000" stroke="#2a2a2a" stroke-width="1.1"/>
<rect x="1543" y="305" width="34" height="16.9" fill="#ffee00" stroke="#2a2a2a" stroke-width="1.1"/>
<rect x="1543" y="288.1" width="34" height="16.9" fill="#ffda00" stroke="#2a2a2a" stroke-width="1.1"/>
<rect x="1543" y="271.3" width="34" height="16.9" fill="#ffc000" stroke="#2a2a2a" stroke-width="1.1"/>
<rect x="1543" y="254.4" width="34" height="16.9" fill="#ffa300" stroke="#2a2a2a" stroke-width="1.1"/>
<rect x="1543" y="237.6" width="34" height="16.9" fill="#ff8800" stroke="#2a2a2a" stroke-width="1.1"/>
<rect x="1543" y="220.7" width="34" height="16.9" fill="#ff6d00" stroke="#2a2a2a" stroke-width="1.1"/>
<rect x="1543" y="203.9" width="34" height="16.9" fill="#ff5000" stroke="#2a2a2a" stroke-width="1.1"/>
<rect x="1543" y="187" width="34" height="16.9" fill="#ff3000" stroke="#2a2a2a" stroke-width="1.1"/>
<text transform="translate(1587 727.1) scale(0.970 1)" font-size="46" text-anchor="start" fill="#171717">28</text>
<text transform="translate(1587 676.5) scale(0.970 1)" font-size="46" text-anchor="start" fill="#171717">34</text>
<text transform="translate(1587 626) scale(0.970 1)" font-size="46" text-anchor="start" fill="#171717">40</text>
<text transform="translate(1587 575.4) scale(0.970 1)" font-size="46" text-anchor="start" fill="#171717">46</text>
<text transform="translate(1587 524.8) scale(0.970 1)" font-size="46" text-anchor="start" fill="#171717">52</text>
<text transform="translate(1587 474.2) scale(0.970 1)" font-size="46" text-anchor="start" fill="#171717">58</text>
<text transform="translate(1587 423.7) scale(0.970 1)" font-size="46" text-anchor="start" fill="#171717">64</text>
<text transform="translate(1587 373.1) scale(0.970 1)" font-size="46" text-anchor="start" fill="#171717">70</text>
<text transform="translate(1587 322.5) scale(0.970 1)" font-size="46" text-anchor="start" fill="#171717">76</text>
<text transform="translate(1587 271.9) scale(0.970 1)" font-size="46" text-anchor="start" fill="#171717">82</text>
<text transform="translate(1587 221.4) scale(0.970 1)" font-size="46" text-anchor="start" fill="#171717">88</text></g>
<g><clipPath id="c2"><rect x="1836.3" y="47" width="472.2" height="782"/></clipPath>
<rect x="1836.3" y="47" width="472.2" height="782" fill="#0000ff"/>
<g clip-path="url(#c2)" stroke-linejoin="round">
<path d="M1786.3,23L2343.1,23L2341.5,31L2339.9,39L2338.4,47L2337.1,55L2335.8,63L2334.4,71L2332.9,79L2331.4,87L2329.8,95L2328.1,103L2326.4,111L2324.6,119L2322.8,127L2321,135L2319.1,143L2316.9,151L2314.7,159L2312.4,167L2310.2,175L2308.1,183L2306.2,191L2304.4,199L2302.6,207L2301.1,215L2299.6,223L2298.2,231L2297,239L2296.1,247L2295.6,255L2295.3,263L2295,271L2294.8,279L2294.5,287L2294.2,295L2293.8,303L2293.4,311L2292.9,319L2292.4,327L2291.8,335L2291.2,343L2290.3,351L2289.1,359L2287.4,367L2285.5,375L2283.5,383L2281.8,391L2280,399L2278,407L2276.7,415L2276.4,423L2276.4,431L2276.4,439L2276.4,447L2276.4,455L2276.4,463L2276.4,471L2276.3,479L2276.1,487L2275.9,495L2275.6,503L2275.3,511L2275,519L2274.6,527L2274.2,535L2273.8,543L2273.3,551L2272.7,559L2272.1,567L2271.5,575L2270.8,583L2270.1,591L2269.3,599L2268.4,607L2267.5,615L2266.7,623L2265.9,631L2265.3,639L2264.6,647L2264,655L2263.4,663L2262.8,671L2262.3,679L2261.7,687L2261.1,695L2260.5,703L2259.9,711L2259.3,719L2258.7,727L2258.1,735L2257.5,743L2256.9,751L2256.3,759L2255.7,767L2255.1,775L2254.6,783L2254,791L2253.5,799L2253,807L2252.5,815L2252,823L2251.5,831L2251,839L2250.5,847L1786.3,847Z" fill="#0058ff" stroke="#b4b4b4" stroke-width="0.8"/>
<path d="M1786.3,23L2234.6,23L2235.2,31L2235.8,39L2236.4,47L2236.9,55L2237.5,63L2238.1,71L2238.8,79L2239.6,87L2240.6,95L2241.7,103L2242.9,111L2244,119L2245.2,127L2246.2,135L2247.1,143L2248,151L2248.9,159L2249.7,167L2250.5,175L2251.2,183L2251.7,191L2252.2,199L2252.7,207L2253.2,215L2253.6,223L2253.9,231L2254.1,239L2254.2,247L2254.2,255L2254.3,263L2254.4,271L2254.4,279L2254.5,287L2254.5,295L2254.4,303L2254.1,311L2253.7,319L2253.2,327L2252.7,335L2252.1,343L2251.5,351L2250.6,359L2249.6,367L2248.5,375L2247.4,383L2246.4,391L2245.2,399L2243.9,407L2243,415L2242.8,423L2242.8,431L2242.8,439L2242.8,447L2242.8,455L2242.8,463L2242.8,471L2242.8,479L2242.7,487L2242.6,495L2242.5,503L2242.4,511L2242.2,519L2242.1,527L2241.7,535L2241.1,543L2240.4,551L2239.6,559L2238.7,567L2237.9,575L2237.1,583L2236.4,591L2235.6,599L2234.9,607L2234.1,615L2233.2,623L2232.3,631L2231.4,639L2230.4,647L2229.4,655L2228.3,663L2227.2,671L2226,679L2224.8,687L2223.5,695L2222.1,703L2220.6,711L2219,719L2217.4,727L2215.6,735L2213.9,743L2212.1,751L2210.3,759L2208.5,767L2206.5,775L2204.6,783L2202.7,791L2201,799L2199.5,807L2198.1,815L2196.9,823L2195.7,831L2194.4,839L2193.2,847L1786.3,847Z" fill="#00c0ff" stroke="#b4b4b4" stroke-width="0.8"/>
<path d="M1786.3,23L2144.7,23L2148.3,31L2151.9,39L2155.4,47L2159,55L2162.6,63L2166.1,71L2169.7,79L2173.4,87L2177.1,95L2180.6,103L2183.7,111L2186.4,119L2189,127L2191.4,135L2193.8,143L2196.3,151L2199.1,159L2202.1,167L2205,175L2207.5,183L2209.5,191L2211,199L2212.3,207L2213.4,215L2214.3,223L2215,231L2215.8,239L2216.5,247L2217.1,255L2217.6,263L2217.9,271L2218,279L2218,287L2218,295L2218,303L2218,311L2218,319L2218,327L2218,335L2217.7,343L2217.2,351L2216.6,359L2216,367L2215.2,375L2214.5,383L2213.7,391L2212.7,399L2211.7,407L2211,415L2210.9,423L2210.9,431L2210.9,439L2210.9,447L2210.9,455L2210.9,463L2210.9,471L2210.9,479L2210.9,487L2210.9,495L2210.9,503L2210.9,511L2210.9,519L2210.9,527L2210.5,535L2209.7,543L2208.7,551L2207.7,559L2206.7,567L2205.7,575L2204.7,583L2203.6,591L2202.4,599L2201.3,607L2200.2,615L2199.2,623L2198.1,631L2197.1,639L2196.1,647L2195,655L2193.9,663L2192.8,671L2191.6,679L2190.5,687L2189.3,695L2188,703L2186.6,711L2185.1,719L2183.4,727L2181.6,735L2179.7,743L2177.7,751L2175.7,759L2173.8,767L2171.8,775L2169.8,783L2167.8,791L2165.8,799L2163.7,807L2161.6,815L2159.4,823L2157.3,831L2155.1,839L2153,847L1786.3,847Z" fill="#00f9ec"/>
<path d="M1786.3,23L2057.3,23L2064.9,31L2072.6,39L2080.2,47L2088.3,55L2095.9,63L2102.8,71L2109.2,79L2115.2,87L2120.9,95L2126.3,103L2131.3,111L2136.1,119L2140.6,127L2144.8,135L2148.8,143L2152.6,151L2156.4,159L2160,167L2163.4,175L2166.3,183L2168.9,191L2171.1,199L2173.1,207L2174.9,215L2176.4,223L2177.6,231L2178.8,239L2179.8,247L2180.7,255L2181.5,263L2182.1,271L2182.6,279L2183,287L2183.4,295L2183.7,303L2184,311L2184.2,319L2184.3,327L2184.3,335L2184.3,343L2184.3,351L2184.3,359L2184.3,367L2184.3,375L2184.3,383L2184.1,391L2183.5,399L2182.8,407L2182.1,415L2181.8,423L2181.6,431L2181.4,439L2181.3,447L2181.2,455L2181,463L2180.9,471L2180.6,479L2180.2,487L2179.7,495L2179.1,503L2178.5,511L2177.8,519L2177.2,527L2176.5,535L2175.7,543L2174.9,551L2174.1,559L2173.2,567L2172.4,575L2171.6,583L2170.8,591L2170.1,599L2169.3,607L2168.6,615L2167.7,623L2166.8,631L2165.8,639L2164.6,647L2163.3,655L2161.9,663L2160.4,671L2159,679L2157.5,687L2156.1,695L2154.6,703L2153,711L2151.4,719L2149.7,727L2148,735L2146.2,743L2144.1,751L2142,759L2139.7,767L2137.5,775L2135.3,783L2133.2,791L2131.2,799L2129.3,807L2127.4,815L2125.5,823L2123.7,831L2121.8,839L2119.9,847L1786.3,847Z" fill="#00e0b0" stroke="#b4b4b4" stroke-width="0.8"/>
<path d="M1786.3,23L2027.5,23L2031.1,31L2034.6,39L2038.2,47L2041.3,55L2044.9,63L2049.1,71L2053.9,79L2059.2,87L2065,95L2070.8,103L2077.1,111L2083.8,119L2090.4,127L2096.6,135L2102.4,143L2108,151L2113.3,159L2118.1,167L2122.8,175L2127.3,183L2131.4,191L2134.9,199L2137.6,207L2139.8,215L2141.8,223L2143.4,231L2144.8,239L2146,247L2147,255L2148,263L2148.8,271L2149.6,279L2150.2,287L2150.6,295L2151,303L2151.3,311L2151.6,319L2151.9,327L2152.1,335L2152.3,343L2152.5,351L2152.7,359L2152.9,367L2153.1,375L2153.3,383L2153.4,391L2153.5,399L2153.5,407L2153.5,415L2153.5,423L2153.4,431L2153.3,439L2153.1,447L2152.9,455L2152.7,463L2152.5,471L2152.3,479L2152.1,487L2151.8,495L2151.5,503L2151.2,511L2150.9,519L2150.7,527L2150.4,535L2150.2,543L2149.9,551L2149.7,559L2149.4,567L2149.1,575L2148.7,583L2148.4,591L2147.9,599L2147.4,607L2146.8,615L2146.2,623L2145.5,631L2144.7,639L2143.7,647L2142.5,655L2141.1,663L2139.6,671L2138,679L2136.2,687L2134,695L2131.2,703L2128.2,711L2125.1,719L2122.1,727L2119.4,735L2116.8,743L2114.3,751L2111.8,759L2109.4,767L2107,775L2104.5,783L2101.4,791L2097.9,799L2094.5,807L2091.5,815L2088.8,823L2085.8,831L2082.5,839L2079.3,847L1786.3,847Z" fill="#00c870" stroke="#b4b4b4" stroke-width="0.8"/>
<path d="M1786.3,23L1989.8,23L1992.7,31L1995.6,39L1998.5,47L2001,55L2003.8,63L2006.9,71L2010.3,79L2014,87L2018.1,95L2022.4,103L2026.9,111L2031.6,119L2036.6,127L2042,135L2047.7,143L2054.1,151L2061.3,159L2068.6,167L2075.6,175L2082.8,183L2089.2,191L2094.2,199L2098.6,207L2102.3,215L2105.2,223L2107.7,231L2109.8,239L2111.4,247L2112.3,255L2113,263L2113.6,271L2114.1,279L2114.6,287L2115.2,295L2115.9,303L2116.8,311L2117.6,319L2118.5,327L2119.3,335L2120.1,343L2120.7,351L2121.3,359L2121.9,367L2122.4,375L2122.9,383L2123.4,391L2123.9,399L2124.5,407L2125.1,415L2125.7,423L2125.9,431L2125.9,439L2125.9,447L2125.9,455L2125.9,463L2125.9,471L2125.9,479L2125.9,487L2125.9,495L2125.9,503L2125.9,511L2125.9,519L2125.9,527L2125.9,535L2125.9,543L2125.8,551L2125.7,559L2125.4,567L2125.1,575L2124.8,583L2124.4,591L2124,599L2123.6,607L2123.2,615L2122.7,623L2122.1,631L2121.4,639L2120.5,647L2119.3,655L2117,663L2114,671L2111.1,679L2107.8,687L2104.3,695L2100.6,703L2096.9,711L2092.9,719L2088.9,727L2084.6,735L2080.2,743L2075.6,751L2070.9,759L2066.1,767L2061,775L2055.8,783L2050.4,791L2044.8,799L2039,807L2032.8,815L2025.9,823L2019.6,831L2014.3,839L2008.9,847L1786.3,847Z" fill="#00b030"/>
<path d="M1786.3,23L1950.9,23L1953.4,31L1955.9,39L1958.4,47L1960.5,55L1963.1,63L1965.9,71L1969.2,79L1973.1,87L1977.3,95L1981.6,103L1985.8,111L1990,119L1994.3,127L1998.7,135L2003.2,143L2007.9,151L2012.7,159L2017.7,167L2022.9,175L2028.3,183L2033.9,191L2039.9,199L2046.2,207L2052.7,215L2060.4,223L2069.9,231L2076.9,239L2078.5,247L2078.9,255L2079.2,263L2079.5,271L2079.9,279L2080.4,287L2080.8,295L2081.4,303L2081.9,311L2082.5,319L2083.1,327L2083.7,335L2084.3,343L2085,351L2085.7,359L2086.5,367L2087.5,375L2088.5,383L2090.1,391L2092.5,399L2095.1,407L2097,415L2097.7,423L2098,431L2098.3,439L2098.5,447L2098.6,455L2098.8,463L2098.9,471L2099.1,479L2099.2,487L2099.4,495L2099.7,503L2099.9,511L2100.2,519L2100.4,527L2100.7,535L2100.9,543L2101,551L2101.1,559L2101,567L2100.6,575L2100.1,583L2100,591L2100,599L2100,607L2100,615L2099.9,623L2099.2,631L2097.7,639L2095.9,647L2093.1,655L2088.8,663L2084.1,671L2079.1,679L2073.6,687L2067.7,695L2061.6,703L2055,711L2048.1,719L2041.1,727L2034,735L2026.5,743L2018.7,751L2010.4,759L2001.7,767L1992.4,775L1981.8,783L1971.2,791L1962,799L1953.7,807L1947.1,815L1941.9,823L1937.2,831L1933,839L1928.6,847L1786.3,847Z" fill="#00a000" stroke="#b4b4b4" stroke-width="0.8"/>
<path d="M1786.3,23L1849.5,23L1855.5,31L1861.5,39L1867.6,47L1873.7,55L1879.7,63L1885.5,71L1891.2,79L1896.8,87L1902.3,95L1907.7,103L1912.9,111L1918,119L1923,127L1928,135L1933.1,143L1938.1,151L1943,159L1948,167L1953.3,175L1958.8,183L1964.6,191L1970.7,199L1977,207L1983.9,215L1991.1,223L1997.7,231L2003.5,239L2008.9,247L2013.6,255L2017.2,263L2019.9,271L2022.3,279L2024.4,287L2026.5,295L2028.6,303L2030.6,311L2032.5,319L2034.4,327L2036.5,335L2038.7,343L2041,351L2043.4,359L2045.9,367L2048.5,375L2051.1,383L2053.9,391L2057,399L2060,407L2062.6,415L2064.6,423L2066.3,431L2067.4,439L2066.8,447L2064.9,455L2063.9,463L2064,471L2064.4,479L2064.8,487L2065.4,495L2066,503L2066.6,511L2067.1,519L2067.5,527L2067.7,535L2067.9,543L2068.1,551L2068.2,559L2068.4,567L2068.6,575L2068.9,583L2069.4,591L2071.3,599L2073.7,607L2075.1,615L2076.1,623L2076.5,631L2072.5,639L2065.4,647L2058,655L2049.6,663L2041.5,671L2033.5,679L2025.5,687L2017.5,695L2009.5,703L2001.5,711L1993.5,719L1985.5,727L1977.5,735L1969.5,743L1961.5,751L1953.5,759L1945.4,767L1937.3,775L1929.3,783L1921.5,791L1913.6,799L1906.4,807L1901.5,815L1897.9,823L1894.6,831L1891.4,839L1888.2,847L1786.3,847Z" fill="#90e000" stroke="#b4b4b4" stroke-width="0.8"/>
<path d="M1786.3,23L1796.3,23L1796.3,71L1799.4,79L1807.4,87L1815.4,95L1823.4,103L1831.4,111L1839.5,119L1847.7,127L1855.5,135L1862.8,143L1869.8,151L1876.7,159L1883.6,167L1891.1,175L1898.2,183L1903.7,191L1907.8,199L1911.3,207L1914.5,215L1917.6,223L1921,231L1924.8,239L1928.9,247L1933.1,255L1937.4,263L1941.8,271L1946.3,279L1950.9,287L1955.5,295L1959.5,303L1963.1,311L1966.4,319L1969.5,327L1972.4,335L1975.3,343L1978,351L1980.7,359L1983.2,367L1985.7,375L1988.1,383L1990.5,391L1992.8,399L1995.3,407L1998.2,415L2000.8,423L2002.7,431L2004,439L2005.2,447L2006.8,455L2008.5,463L2010.2,471L2011.8,479L2013,487L2014.1,495L2015.1,503L2015.8,511L2016.2,519L2016.4,527L2016.6,535L2016.7,543L2016.8,551L2016.9,559L2017,567L2017.1,575L2017.2,583L2017.2,591L2016.5,599L2014.9,607L2012.7,615L2008.6,623L2003.8,631L1998.6,639L1992.8,647L1986.9,655L1981,663L1974.9,671L1968.8,679L1962.8,687L1956.6,695L1950.3,703L1943.7,711L1937,719L1930,727L1922.9,735L1915.5,743L1908.1,751L1900.8,759L1893.4,767L1886.1,775L1878.7,783L1871.2,791L1863.9,799L1857.2,807L1851,815L1844.9,823L1838.6,831L1832.1,839L1825.6,847L1786.3,847Z" fill="#ffe400"/>
<path d="M1786.3,23L1796.3,23L1796.3,167L1797.4,175L1805.8,183L1814.1,191L1822.5,199L1830.8,207L1839.4,215L1848,223L1855.4,231L1861.9,239L1867.7,247L1873.2,255L1878.5,263L1883.6,271L1888.4,279L1892.9,287L1897.1,295L1901.1,303L1904.9,311L1908.5,319L1911.8,327L1914.8,335L1917.6,343L1920.3,351L1922.7,359L1925,367L1926.9,375L1928.7,383L1930.3,391L1931.8,399L1933.4,407L1935.2,415L1937,423L1938.4,431L1939.8,439L1941.4,447L1943.5,455L1946,463L1948.7,471L1951.1,479L1953,487L1954.7,495L1956.2,503L1957.6,511L1958.7,519L1959.5,527L1960,535L1960.6,543L1961,551L1961.2,559L1960.8,567L1959.2,575L1956.9,583L1954.6,591L1952.2,599L1949.4,607L1946.5,615L1943.7,623L1940.7,631L1937.4,639L1933.7,647L1929.5,655L1924.9,663L1920.2,671L1915.1,679L1909.6,687L1903.7,695L1897.2,703L1890.4,711L1883.4,719L1876.3,727L1868.9,735L1861.3,743L1853.6,751L1844.9,759L1834.7,767L1824.3,775L1813.4,783L1802.7,791L1796.3,799L1796.3,847L1786.3,847Z" fill="#ffa300" stroke="#b4b4b4" stroke-width="0.8"/>
<path d="M1786.3,23L1796.3,23L1796.3,279L1800.3,287L1807.2,295L1814,303L1820.8,311L1827.7,319L1834.5,327L1841.9,335L1848.8,343L1854.6,351L1859.6,359L1864.1,367L1868.2,375L1871.9,383L1875.4,391L1878.7,399L1881.5,407L1883.9,415L1885.8,423L1887.8,431L1889.9,439L1891.9,447L1893.8,455L1895.5,463L1897.2,471L1898.8,479L1900.3,487L1901.7,495L1903,503L1904.3,511L1905.6,519L1906.8,527L1907.7,535L1908,543L1908,551L1907.7,559L1907.4,567L1906.9,575L1906.4,583L1905.8,591L1904.9,599L1903.6,607L1902.1,615L1900.2,623L1897.9,631L1895.1,639L1892,647L1888,655L1883.5,663L1878.4,671L1872.5,679L1865.8,687L1858,695L1848.4,703L1837.2,711L1824.9,719L1811.7,727L1798.9,735L1796.3,743L1796.3,847L1786.3,847Z" fill="#ff6000" stroke="#b4b4b4" stroke-width="0.8"/>
<path d="M1786.3,23L1796.3,23L1796.3,375L1798.5,383L1803.4,391L1808.4,399L1813.3,407L1818.2,415L1823.6,423L1829.4,431L1834.2,439L1837.1,447L1838.9,455L1840.3,463L1841.4,471L1842.5,479L1843.6,487L1845,495L1846.6,503L1848.1,511L1849.7,519L1851.3,527L1852.8,535L1854.3,543L1856,551L1857.8,559L1859.4,567L1860.7,575L1861.6,583L1861.9,591L1861.7,599L1861.1,607L1860.4,615L1858.9,623L1856.7,631L1853.5,639L1848.8,647L1841.4,655L1832.1,663L1821.1,671L1810.3,679L1799.7,687L1796.3,695L1796.3,847L1786.3,847Z" fill="#ff1000"/>
<path d="M2144.7,23L2148.3,31L2151.9,39L2155.4,47L2159,55L2162.6,63L2166.1,71L2169.7,79L2173.4,87L2177.1,95L2180.6,103L2183.7,111L2186.4,119M2207.5,183L2209.5,191L2211,199L2212.3,207L2213.4,215L2214.3,223L2215,231L2215.8,239L2216.5,247L2217.1,255L2217.6,263L2217.9,271L2218,279L2218,287L2218,295L2218,303L2218,311L2218,319L2218,327L2218,335L2217.7,343L2217.2,351L2216.6,359L2216,367L2215.2,375L2214.5,383L2213.7,391L2212.7,399L2211.7,407L2211,415L2210.9,423L2210.9,431L2210.9,439L2210.9,447M2210.9,519L2210.9,527L2210.5,535L2209.7,543L2208.7,551L2207.7,559L2206.7,567L2205.7,575L2204.7,583L2203.6,591L2202.4,599L2201.3,607L2200.2,615L2199.2,623L2198.1,631L2197.1,639L2196.1,647L2195,655L2193.9,663L2192.8,671L2191.6,679L2190.5,687L2189.3,695L2188,703L2186.6,711L2185.1,719L2183.4,727L2181.6,735L2179.7,743L2177.7,751L2175.7,759L2173.8,767L2171.8,775L2169.8,783L2167.8,791L2165.8,799L2163.7,807L2161.6,815L2159.4,823L2157.3,831L2155.1,839L2153,847" fill="none" stroke="#000" stroke-width="1.15"/>
<path d="M1989.8,23L1992.7,31L1995.6,39L1998.5,47L2001,55L2003.8,63L2006.9,71L2010.3,79L2014,87L2018.1,95L2022.4,103L2026.9,111M2068.6,167L2075.6,175L2082.8,183L2089.2,191L2094.2,199L2098.6,207L2102.3,215L2105.2,223L2107.7,231L2109.8,239L2111.4,247L2112.3,255L2113,263L2113.6,271L2114.1,279L2114.6,287L2115.2,295L2115.9,303L2116.8,311L2117.6,319L2118.5,327L2119.3,335L2120.1,343L2120.7,351L2121.3,359L2121.9,367L2122.4,375L2122.9,383L2123.4,391L2123.9,399L2124.5,407L2125.1,415M2125.9,487L2125.9,495L2125.9,503L2125.9,511L2125.9,519L2125.9,527L2125.9,535L2125.9,543L2125.8,551L2125.7,559L2125.4,567L2125.1,575L2124.8,583L2124.4,591L2124,599L2123.6,607L2123.2,615L2122.7,623L2122.1,631L2121.4,639L2120.5,647L2119.3,655L2117,663L2114,671L2111.1,679L2107.8,687L2104.3,695L2100.6,703L2096.9,711L2092.9,719L2088.9,727L2084.6,735L2080.2,743L2075.6,751L2070.9,759L2066.1,767L2061,775L2055.8,783L2050.4,791L2044.8,799L2039,807L2032.8,815L2025.9,823L2019.6,831L2014.3,839L2008.9,847" fill="none" stroke="#000" stroke-width="1.15"/>
<path d="M1796.3,23L1796.3,71L1799.4,79L1807.4,87L1815.4,95L1823.4,103L1831.4,111L1839.5,119L1847.7,127L1855.5,135L1862.8,143L1869.8,151L1876.7,159L1883.6,167L1891.1,175L1898.2,183L1903.7,191L1907.8,199M1937.4,263L1941.8,271L1946.3,279L1950.9,287L1955.5,295L1959.5,303L1963.1,311L1966.4,319L1969.5,327L1972.4,335L1975.3,343L1978,351L1980.7,359L1983.2,367L1985.7,375L1988.1,383L1990.5,391L1992.8,399L1995.3,407L1998.2,415L2000.8,423L2002.7,431L2004,439L2005.2,447L2006.8,455L2008.5,463L2010.2,471L2011.8,479L2013,487L2014.1,495L2015.1,503L2015.8,511M2017.2,583L2017.2,591L2016.5,599L2014.9,607L2012.7,615L2008.6,623L2003.8,631L1998.6,639L1992.8,647L1986.9,655L1981,663L1974.9,671L1968.8,679L1962.8,687L1956.6,695L1950.3,703L1943.7,711L1937,719L1930,727L1922.9,735L1915.5,743L1908.1,751L1900.8,759L1893.4,767L1886.1,775L1878.7,783L1871.2,791L1863.9,799L1857.2,807L1851,815L1844.9,823L1838.6,831L1832.1,839L1825.6,847" fill="none" stroke="#000" stroke-width="1.15"/>
<path d="M1796.3,23L1796.3,375L1798.5,383L1803.4,391L1808.4,399L1813.3,407L1818.2,415L1823.6,423L1829.4,431L1834.2,439L1837.1,447L1838.9,455L1840.3,463L1841.4,471L1842.5,479L1843.6,487L1845,495L1846.6,503L1848.1,511L1849.7,519L1851.3,527L1852.8,535L1854.3,543L1856,551L1857.8,559L1859.4,567L1860.7,575L1861.6,583L1861.9,591L1861.7,599L1861.1,607L1860.4,615L1858.9,623L1856.7,631L1853.5,639L1848.8,647L1841.4,655L1832.1,663L1821.1,671L1810.3,679L1799.7,687L1796.3,695L1796.3,847" fill="none" stroke="#000" stroke-width="1.15"/>
<text transform="translate(2196.7 152.2) rotate(70)" font-size="44" text-anchor="middle" fill="#171717" dy="0.33em">45</text>
<text transform="translate(2048 143.4) rotate(55)" font-size="44" text-anchor="middle" fill="#171717" dy="0.33em">60</text>
<text transform="translate(1922.2 233.7) rotate(57)" font-size="44" text-anchor="middle" fill="#171717" dy="0.33em">75</text>
<text transform="translate(2209.8 483.8) rotate(87)" font-size="44" text-anchor="middle" fill="#171717" dy="0.33em">45</text>
<text transform="translate(2125.9 451.9) rotate(90)" font-size="44" text-anchor="middle" fill="#171717" dy="0.33em">60</text>
<text transform="translate(2016.1 547.5) rotate(88)" font-size="44" text-anchor="middle" fill="#171717" dy="0.33em">75</text>
</g>
<rect x="1836.3" y="47" width="472.2" height="782" fill="none" stroke="#858585" stroke-width="1.5"/>
<path d="M1875.6,47v-10 M1875.6,829v10M1954.3,47v-10 M1954.3,829v10M2033,47v-10 M2033,829v10M2111.8,47v-10 M2111.8,829v10M2190.4,47v-10 M2190.4,829v10M2269.2,47v-10 M2269.2,829v10M1836.3,47h-10 M2308.5,47h10M1836.3,125.2h-10 M2308.5,125.2h10M1836.3,203.4h-10 M2308.5,203.4h10M1836.3,281.6h-10 M2308.5,281.6h10M1836.3,359.8h-10 M2308.5,359.8h10M1836.3,438h-10 M2308.5,438h10M1836.3,516.2h-10 M2308.5,516.2h10M1836.3,594.4h-10 M2308.5,594.4h10M1836.3,672.6h-10 M2308.5,672.6h10M1836.3,750.8h-10 M2308.5,750.8h10M1836.3,829h-10 M2308.5,829h10" stroke="#858585" stroke-width="1.4" fill="none"/>
<text transform="translate(1875.6 881.2) scale(0.980 1)" font-size="46.8" text-anchor="middle" fill="#171717">4</text>
<text transform="translate(1954.3 881.2) scale(0.980 1)" font-size="46.8" text-anchor="middle" fill="#171717">6</text>
<text transform="translate(2033 881.2) scale(0.980 1)" font-size="46.8" text-anchor="middle" fill="#171717">8</text>
<text transform="translate(2111.8 881.2) scale(0.980 1)" font-size="46.8" text-anchor="middle" fill="#171717">10</text>
<text transform="translate(2190.4 881.2) scale(0.980 1)" font-size="46.8" text-anchor="middle" fill="#171717">12</text>
<text transform="translate(2269.2 881.2) scale(0.980 1)" font-size="46.8" text-anchor="middle" fill="#171717">14</text>
<text transform="translate(1823.8 62.6) scale(0.980 1)" font-size="46.8" text-anchor="end" fill="#171717">0</text>
<text transform="translate(1823.8 140.8) scale(0.980 1)" font-size="46.8" text-anchor="end" fill="#171717">-2</text>
<text transform="translate(1823.8 219) scale(0.980 1)" font-size="46.8" text-anchor="end" fill="#171717">-4</text>
<text transform="translate(1823.8 297.2) scale(0.980 1)" font-size="46.8" text-anchor="end" fill="#171717">-6</text>
<text transform="translate(1823.8 375.4) scale(0.980 1)" font-size="46.8" text-anchor="end" fill="#171717">-8</text>
<text transform="translate(1823.8 453.6) scale(0.980 1)" font-size="46.8" text-anchor="end" fill="#171717">-10</text>
<text transform="translate(1823.8 531.8) scale(0.980 1)" font-size="46.8" text-anchor="end" fill="#171717">-12</text>
<text transform="translate(1823.8 610) scale(0.980 1)" font-size="46.8" text-anchor="end" fill="#171717">-14</text>
<text transform="translate(1823.8 688.2) scale(0.980 1)" font-size="46.8" text-anchor="end" fill="#171717">-16</text>
<text transform="translate(1823.8 766.4) scale(0.980 1)" font-size="46.8" text-anchor="end" fill="#171717">-18</text>
<text transform="translate(1823.8 844.6) scale(0.980 1)" font-size="46.8" text-anchor="end" fill="#171717">-20</text>
<text transform="translate(2072.4 940.7) scale(0.966 1)" font-size="46.9" text-anchor="middle" fill="#171717">Horizontal distance/cm</text>
<text transform="translate(1742.3 438) rotate(-90) scale(0.972 1)" font-size="46.9" text-anchor="middle" fill="#171717">Vertical distance/cm</text>
<text transform="translate(2087 1015.4)" font-size="61" text-anchor="middle" fill="#000">180 s</text>
<rect x="2383.3" y="670.5" width="33.8" height="37.3" fill="#0000ff" stroke="#2a2a2a" stroke-width="1.1"/>
<rect x="2383.3" y="633.2" width="33.8" height="37.3" fill="#0058ff" stroke="#2a2a2a" stroke-width="1.1"/>
<rect x="2383.3" y="595.9" width="33.8" height="37.3" fill="#00c0ff" stroke="#2a2a2a" stroke-width="1.1"/>
<rect x="2383.3" y="558.6" width="33.8" height="37.3" fill="#00f9ec" stroke="#2a2a2a" stroke-width="1.1"/>
<rect x="2383.3" y="521.3" width="33.8" height="37.3" fill="#00e0b0" stroke="#2a2a2a" stroke-width="1.1"/>
<rect x="2383.3" y="484" width="33.8" height="37.3" fill="#00c870" stroke="#2a2a2a" stroke-width="1.1"/>
<rect x="2383.3" y="446.7" width="33.8" height="37.3" fill="#00b030" stroke="#2a2a2a" stroke-width="1.1"/>
<rect x="2383.3" y="409.4" width="33.8" height="37.3" fill="#00a000" stroke="#2a2a2a" stroke-width="1.1"/>
<rect x="2383.3" y="372.1" width="33.8" height="37.3" fill="#90e000" stroke="#2a2a2a" stroke-width="1.1"/>
<rect x="2383.3" y="334.8" width="33.8" height="37.3" fill="#ffe400" stroke="#2a2a2a" stroke-width="1.1"/>
<rect x="2383.3" y="297.5" width="33.8" height="37.3" fill="#ffa300" stroke="#2a2a2a" stroke-width="1.1"/>
<rect x="2383.3" y="260.2" width="33.8" height="37.3" fill="#ff6000" stroke="#2a2a2a" stroke-width="1.1"/>
<rect x="2383.3" y="222.9" width="33.8" height="37.3" fill="#ff1000" stroke="#2a2a2a" stroke-width="1.1"/>
<rect x="2383.3" y="185.6" width="33.8" height="37.3" fill="#ff3030" stroke="#2a2a2a" stroke-width="1.1"/>
<text transform="translate(2428.1 725.3) scale(0.970 1)" font-size="46" text-anchor="start" fill="#171717">30</text>
<text transform="translate(2428.1 650.7) scale(0.970 1)" font-size="46" text-anchor="start" fill="#171717">40</text>
<text transform="translate(2428.1 576.1) scale(0.970 1)" font-size="46" text-anchor="start" fill="#171717">50</text>
<text transform="translate(2428.1 501.5) scale(0.970 1)" font-size="46" text-anchor="start" fill="#171717">60</text>
<text transform="translate(2428.1 426.9) scale(0.970 1)" font-size="46" text-anchor="start" fill="#171717">70</text>
<text transform="translate(2428.1 352.3) scale(0.970 1)" font-size="46" text-anchor="start" fill="#171717">80</text>
<text transform="translate(2428.1 277.7) scale(0.970 1)" font-size="46" text-anchor="start" fill="#171717">90</text></g>
<g><clipPath id="c3"><rect x="156" y="1057" width="472" height="783"/></clipPath>
<rect x="156" y="1057" width="472" height="783" fill="#0000ff"/>
<g clip-path="url(#c3)" stroke-linejoin="round">
<path d="M106,1033L668,1033L668,1401L666.4,1409L664.5,1417L662.5,1425L660.8,1433L659.3,1441L657.7,1449L655.9,1457L654.1,1465L652.2,1473L650.2,1481L648.2,1489L646.1,1497L643.9,1505L641.7,1513L639.4,1521L636.7,1529L633.9,1537L631.1,1545L628.6,1553L626.8,1561L625.2,1569L623.6,1577L621.7,1585L619.5,1593L617.1,1601L614.8,1609L612.9,1617L610.9,1625L609.1,1633L608.2,1641L608.2,1649L608.3,1657L608.5,1665L608.8,1673L609.1,1681L609.7,1689L610.6,1697L611.4,1705L611.7,1713L611.6,1721L611.3,1729L610.8,1737L610.1,1745L609.4,1753L608.7,1761L608,1769L607.1,1777L606.1,1785L605.1,1793L604.1,1801L603.2,1809L602.5,1817L602,1825L601.5,1833L601.1,1841L600.6,1849L600,1857L106,1857Z" fill="#0058ff" stroke="#b4b4b4" stroke-width="0.8"/>
<path d="M106,1033L663.5,1033L662.8,1041L662,1049L661.3,1057L661.3,1065L661.2,1073L661,1081L660.8,1089L660.6,1097L660.2,1105L659.8,1113L659.4,1121L658.9,1129L658.4,1137L657.8,1145L657.1,1153L656.4,1161L655.7,1169L654.9,1177L654.1,1185L653.2,1193L652.3,1201L651.3,1209L650.3,1217L649.3,1225L648.3,1233L647.2,1241L646,1249L644.9,1257L643.7,1265L642.4,1273L641.2,1281L639.9,1289L638.1,1297L635.6,1305L632.8,1313L630.1,1321L627.8,1329L625.8,1337L623.9,1345L622,1353L620.1,1361L618.1,1369L616.1,1377L614.1,1385L612,1393L610.1,1401L608.2,1409L606.3,1417L604.2,1425L601.6,1433L600,1441L599.5,1449L599.1,1457L598.8,1465L598.5,1473L598.3,1481L598.1,1489L597.8,1497L597.3,1505L596.7,1513L595.8,1521L594.9,1529L594,1537L593.1,1545L592.3,1553L591.7,1561L591.2,1569L590.7,1577L590.2,1585L589.7,1593L589.2,1601L588.6,1609L587.9,1617L587.1,1625L586.4,1633L585.7,1641L585.2,1649L584.8,1657L584.5,1665L584.3,1673L584,1681L583.7,1689L583.3,1697L582.9,1705L582.4,1713L581.9,1721L581.4,1729L580.8,1737L580.2,1745L579.5,1753L578.7,1761L577.9,1769L577,1777L576.1,1785L575.3,1793L574.6,1801L574,1809L573.4,1817L572.9,1825L572.5,1833L572,1841L571.5,1849L571,1857L106,1857Z" fill="#00c0ff" stroke="#b4b4b4" stroke-width="0.8"/>
<path d="M106,1033L615.8,1033L615,1041L614.3,1049L613.5,1057L612.7,1065L611.9,1073L611.2,1081L610.4,1089L609.6,1097L608.8,1105L608,1113L607.2,1121L606.4,1129L605.6,1137L604.8,1145L604,1153L603.2,1161L602.4,1169L601.6,1177L600.8,1185L600,1193L599.2,1201L598.4,1209L597.6,1217L596.8,1225L596,1233L595.2,1241L594.4,1249L593.6,1257L592.8,1265L592,1273L591.2,1281L590.4,1289L589.6,1297L588.8,1305L588,1313L587.2,1321L586.3,1329L585.5,1337L584.7,1345L583.9,1353L583.2,1361L582.5,1369L581.8,1377L581.2,1385L580.5,1393L579.9,1401L579.4,1409L578.8,1417L578.4,1425L577.9,1433L577.5,1441L577.2,1449L576.8,1457L576.3,1465L575.9,1473L575.4,1481L574.9,1489L574.4,1497L573.8,1505L573.2,1513L572.6,1521L571.9,1529L571.1,1537L570.3,1545L569.4,1553L568.6,1561L567.7,1569L566.9,1577L566.1,1585L565.2,1593L564.4,1601L563.6,1609L562.8,1617L562.1,1625L561.5,1633L561,1641L560.4,1649L559.9,1657L559.4,1665L558.9,1673L558.4,1681L557.9,1689L557.4,1697L556.9,1705L556.4,1713L555.8,1721L555.2,1729L554.6,1737L553.9,1745L553.1,1753L552.3,1761L551.4,1769L550.6,1777L549.7,1785L548.8,1793L547.8,1801L546.8,1809L545.8,1817L544.7,1825L543.7,1833L542.6,1841L541.6,1849L540.5,1857L106,1857Z" fill="#00f9ec" stroke="#b4b4b4" stroke-width="0.8"/>
<path d="M106,1033L523.8,1033L526,1041L528.2,1049L530.4,1057L532.8,1065L535,1073L537,1081L538.8,1089L540.5,1097L542.1,1105L543.6,1113L545,1121L546.3,1129L547.5,1137L548.7,1145L549.9,1153L551.1,1161L552.3,1169L553.8,1177L555.2,1185L556.3,1193L556.9,1201L557.3,1209L557.6,1217L557.9,1225L558.1,1233L558.3,1241L558.5,1249L558.8,1257L559.1,1265L559.5,1273L559.8,1281L560.1,1289L560.3,1297L560.4,1305L560.3,1313L560.1,1321L559.8,1329L559.5,1337L559.2,1345L558.8,1353L558.5,1361L558.3,1369L558.1,1377L557.9,1385L557.6,1393L557.3,1401L557,1409L556.4,1417L555.3,1425L555.1,1433L555.1,1441L555.1,1449L555.1,1457L554.9,1465L554.7,1473L554.3,1481L553.9,1489L553.6,1497L553.2,1505L552.8,1513L552.3,1521L551.8,1529L551.2,1537L550.5,1545L549.8,1553L549,1561L548.2,1569L547.5,1577L546.9,1585L546.2,1593L545.5,1601L544.9,1609L544.2,1617L543.6,1625L542.9,1633L542.3,1641L541.6,1649L540.9,1657L540.1,1665L539.3,1673L538.5,1681L537.7,1689L536.7,1697L535.8,1705L534.7,1713L533.5,1721L532.1,1729L530.8,1737L529.3,1745L527.9,1753L526.4,1761L524.9,1769L523.3,1777L521.7,1785L520.2,1793L518.7,1801L517.3,1809L516,1817L514.7,1825L513.6,1833L512.4,1841L511.2,1849L510,1857L106,1857Z" fill="#00e0b0"/>
<path d="M106,1033L460.2,1033L463,1041L465.7,1049L468.4,1057L471.2,1065L474,1073L476.7,1081L479.3,1089L481.9,1097L484.4,1105L486.8,1113L489.2,1121L491.7,1129L494.2,1137L496.8,1145L499.6,1153L502.5,1161L505.3,1169L507.8,1177L509.8,1185L511.8,1193L513.6,1201L515.3,1209L516.8,1217L518.2,1225L519.4,1233L520.4,1241L521.4,1249L522.2,1257L523,1265L523.7,1273L524.4,1281L525,1289L525.7,1297L526.3,1305L526.9,1313L527.4,1321L527.9,1329L528.3,1337L528.7,1345L529,1353L529.2,1361L529.5,1369L529.7,1377L529.9,1385L530.2,1393L530.6,1401L531,1409L531.5,1417L531.9,1425L532.1,1433L532.4,1441L532.6,1449L532.8,1457L532.9,1465L533.1,1473L533.1,1481L533.1,1489L533,1497L532.9,1505L532.7,1513L532.5,1521L532.3,1529L532,1537L531.7,1545L531.3,1553L530.7,1561L530.1,1569L529.5,1577L528.9,1585L528.2,1593L527.5,1601L526.8,1609L526,1617L525.1,1625L524.3,1633L523.4,1641L522.4,1649L521.5,1657L520.5,1665L519.4,1673L518.3,1681L517.1,1689L515.9,1697L514.5,1705L513.1,1713L511.5,1721L509.8,1729L508.1,1737L506.3,1745L504.5,1753L502.5,1761L500.4,1769L498.2,1777L496,1785L493.8,1793L491.6,1801L489.4,1809L487.2,1817L484.9,1825L482.7,1833L480.5,1841L478.2,1849L476,1857L106,1857Z" fill="#00c870" stroke="#b4b4b4" stroke-width="0.8"/>
<path d="M106,1033L395.2,1033L399.6,1041L403.9,1049L408.3,1057L412.7,1065L417.1,1073L421.4,1081L425.5,1089L429.7,1097L433.7,1105L437.7,1113L441.6,1121L445.5,1129L449.4,1137L453.3,1145L457.1,1153L460.8,1161L464.3,1169L467.4,1177L470.4,1185L473.3,1193L476,1201L478.5,1209L480.7,1217L482.6,1225L484.5,1233L486.2,1241L487.8,1249L489.1,1257L490.3,1265L491.3,1273L492.3,1281L493.1,1289L493.9,1297L494.8,1305L495.6,1313L496.4,1321L497.2,1329L498,1337L498.8,1345L499.6,1353L500.4,1361L501.2,1369L502,1377L502.8,1385L503.6,1393L504.4,1401L505.2,1409L506,1417L506.9,1425L507.4,1433L507.7,1441L508,1449L508.2,1457L508.3,1465L508.2,1473L507.9,1481L507.5,1489L506.9,1497L506.4,1505L505.8,1513L505.3,1521L504.8,1529L504.2,1537L503.6,1545L503,1553L502.5,1561L502.1,1569L501.7,1577L501.5,1585L501.2,1593L501,1601L500.8,1609L500.5,1617L500.2,1625L499.6,1633L498.9,1641L498,1649L496.9,1657L495.8,1665L494.5,1673L492.9,1681L491,1689L488.8,1697L486.6,1705L484.3,1713L482.1,1721L479.7,1729L477.2,1737L474.7,1745L472.1,1753L469.5,1761L466.8,1769L464,1777L461.2,1785L458.5,1793L456.1,1801L454,1809L452,1817L450.1,1825L448.4,1833L446.8,1841L445,1849L443.1,1857L106,1857Z" fill="#00b030" stroke="#b4b4b4" stroke-width="0.8"/>
<path d="M106,1033L352.4,1033L356.2,1041L360.1,1049L363.9,1057L367.6,1065L371.5,1073L375.4,1081L379.5,1089L383.7,1097L388,1105L392.5,1113L396.9,1121L401.5,1129L406.2,1137L411,1145L415.8,1153L420.4,1161L424.8,1169L429.1,1177L433.4,1185L437.5,1193L441.2,1201L444.5,1209L447.4,1217L450.2,1225L452.7,1233L454.8,1241L456.6,1249L458.2,1257L459.6,1265L460.9,1273L462.1,1281L463.1,1289L464,1297L464.9,1305L465.7,1313L466.4,1321L467.1,1329L467.9,1337L468.7,1345L469.4,1353L470.2,1361L470.9,1369L471.7,1377L472.5,1385L473.4,1393L474.6,1401L476.2,1409L477.7,1417L478.7,1425L478.9,1433L478.9,1441L478.9,1449L478.9,1457L478.9,1465L478.9,1473L478.9,1481L478.9,1489L478.7,1497L478.4,1505L478.1,1513L477.8,1521L477.4,1529L477.1,1537L476.8,1545L476.6,1553L476.3,1561L476,1569L475.8,1577L475.5,1585L475.3,1593L475,1601L474.8,1609L474.6,1617L474.4,1625L474.1,1633L473.7,1641L473.1,1649L472,1657L470.7,1665L469.1,1673L467.4,1681L465.6,1689L463.5,1697L461,1705L458.4,1713L455.7,1721L453,1729L450.4,1737L447.8,1745L445.1,1753L442.3,1761L439.5,1769L436.6,1777L433.7,1785L430.6,1793L427.5,1801L424.2,1809L420.7,1817L417,1825L413.1,1833L409.4,1841L406,1849L402.5,1857L106,1857Z" fill="#00a000" stroke="#b4b4b4" stroke-width="0.8"/>
<path d="M106,1033L318.5,1033L321.2,1041L324,1049L326.7,1057L329.4,1065L332.1,1073L334.9,1081L337.8,1089L340.7,1097L343.7,1105L347,1113L350.5,1121L354.1,1129L357.9,1137L361.9,1145L366.1,1153L370.4,1161L375.1,1169L380.1,1177L385.2,1185L390.3,1193L395.5,1201L401,1209L406.2,1217L410.2,1225L413.2,1233L415.8,1241L417.9,1249L419.6,1257L420.9,1265L422,1273L423.1,1281L424.1,1289L425.2,1297L426.2,1305L427.1,1313L428.1,1321L429.1,1329L430.2,1337L431.4,1345L432.7,1353L434,1361L435.2,1369L436.5,1377L437.6,1385L438.5,1393L439.5,1401L440.6,1409L442.2,1417L444.6,1425L447.2,1433L447.5,1441L447.7,1449L447.8,1457L447.9,1465L448,1473L448.1,1481L448.3,1489L448.4,1497L448.6,1505L448.7,1513L449,1521L449.4,1529L449.8,1537L450.2,1545L450.5,1553L450.8,1561L451.2,1569L451.4,1577L451.6,1585L451.6,1593L451.5,1601L451.2,1609L450.9,1617L450.6,1625L450.1,1633L449.4,1641L448.5,1649L447.5,1657L446.1,1665L444,1673L441.5,1681L439,1689L436.5,1697L433.8,1705L430.8,1713L427.3,1721L423.3,1729L419.1,1737L414.9,1745L410.7,1753L406.5,1761L402.2,1769L397.7,1777L393.1,1785L388.3,1793L383.3,1801L378,1809L372.2,1817L366.2,1825L360,1833L353.9,1841L348.2,1849L342.5,1857L106,1857Z" fill="#90e000"/>
<path d="M106,1033L281.3,1033L282.8,1041L284.4,1049L285.9,1057L287.2,1065L288.6,1073L290.2,1081L292,1089L293.9,1097L296,1105L298.3,1113L300.9,1121L303.7,1129L307.1,1137L311,1145L315.3,1153L319.6,1161L324.1,1169L328.7,1177L333.5,1185L338.5,1193L343.6,1201L348.8,1209L354.1,1217L359.6,1225L365,1233L371.3,1241L376.6,1249L379,1257L380.2,1265L381.2,1273L382.2,1281L383.4,1289L384.5,1297L385.7,1305L386.9,1313L388.2,1321L389.6,1329L391.1,1337L392.7,1345L394.4,1353L396,1361L397.7,1369L399.3,1377L400.7,1385L401.8,1393L403,1401L404.4,1409L406.3,1417L409.7,1425L413.7,1433L414.3,1441L414.6,1449L414.8,1457L415.1,1465L415.6,1473L416.1,1481L416.6,1489L417.2,1497L417.8,1505L418.3,1513L418.9,1521L419.4,1529L419.9,1537L420.5,1545L421,1553L421.5,1561L422.1,1569L422.6,1577L423.1,1585L423.6,1593L424.1,1601L424.8,1609L425.5,1617L426,1625L426,1633L425.1,1641L423.4,1649L421.2,1657L418.8,1665L415.2,1673L410.9,1681L406.2,1689L401.2,1697L395.6,1705L389.5,1713L383.3,1721L376.7,1729L369.7,1737L362.6,1745L355.5,1753L348.2,1761L340.7,1769L332.9,1777L324.5,1785L315.8,1793L306.7,1801L297.6,1809L287.9,1817L276.8,1825L263.7,1833L251.1,1841L239.7,1849L228.3,1857L106,1857Z" fill="#ffe400" stroke="#b4b4b4" stroke-width="0.8"/>
<path d="M106,1033L128.5,1033L140.4,1041L152.6,1049L164.1,1057L175,1065L184.3,1073L192.1,1081L199.1,1089L205.5,1097L211.4,1105L216.7,1113L221.7,1121L226.6,1129L231.4,1137L236.3,1145L241,1153L245.7,1161L250.5,1169L255.5,1177L260.7,1185L266.1,1193L271.5,1201L276.9,1209L282.2,1217L287.6,1225L292.9,1233L298.3,1241L303.8,1249L309.4,1257L314.6,1265L319.3,1273L323.5,1281L327.5,1289L331.1,1297L334.5,1305L337.6,1313L340.5,1321L343.1,1329L345.6,1337L347.9,1345L350,1353L352,1361L353.8,1369L355.4,1377L356.7,1385L357.9,1393L359.1,1401L360.4,1409L362.2,1417L364.6,1425L365.9,1433L366.5,1441L367,1449L367.4,1457L368,1465L368.8,1473L369.9,1481L371.1,1489L372.4,1497L373.8,1505L375.2,1513L376.6,1521L378.2,1529L380,1537L381.8,1545L383.6,1553L385.2,1561L386.5,1569L387.4,1577L388,1585L388.6,1593L389.5,1601L391.4,1609L393.8,1617L395.5,1625L396.5,1633L397.2,1641L397.5,1649L392.9,1657L383.8,1665L375.1,1673L365.6,1681L355.7,1689L345.9,1697L335.8,1705L325.7,1713L315.9,1721L306.1,1729L295.9,1737L284.8,1745L272.9,1753L259.9,1761L245.6,1769L229.2,1777L209.2,1785L187.9,1793L165.8,1801L142.3,1809L117,1817L116,1825L116,1857L106,1857Z" fill="#ffa300" stroke="#b4b4b4" stroke-width="0.8"/>
<path d="M106,1033L116,1033L116,1153L117.2,1161L124.7,1169L132.4,1177L140.3,1185L147.8,1193L154.9,1201L161.6,1209L167.8,1217L173.9,1225L180.2,1233L186.4,1241L192.6,1249L198.8,1257L205.1,1265L211.4,1273L217.8,1281L223.8,1289L229.5,1297L235,1305L240.3,1313L245.4,1321L250.4,1329L255.4,1337L260.3,1345L264.9,1353L269.3,1361L273.7,1369L277.8,1377L281.8,1385L285.3,1393L288.5,1401L291.3,1409L294,1417L296.7,1425L299.5,1433L302.6,1441L305.7,1449L308.5,1457L310.6,1465L312.1,1473L313.4,1481L314.5,1489L315.5,1497L316.4,1505L317.2,1513L318,1521L318.8,1529L319.6,1537L320.4,1545L320.9,1553L321.2,1561L321.2,1569L320.7,1577L319.9,1585L318.8,1593L317.6,1601L316,1609L313.4,1617L308.4,1625L301.1,1633L291.7,1641L281,1649L274.5,1657L269.7,1665L264.1,1673L258.1,1681L251.2,1689L242.8,1697L233,1705L222.2,1713L210.4,1721L196.8,1729L180.2,1737L159.6,1745L135.3,1753L116,1761L116,1857L106,1857Z" fill="#ff6000" stroke="#b4b4b4" stroke-width="0.8"/>
<path d="M106,1033L116,1033L116,1313L118.1,1321L127.3,1329L136.5,1337L145.8,1345L154.8,1353L163.9,1361L172.1,1369L178.6,1377L184.3,1385L189.4,1393L194.4,1401L199.1,1409L203.4,1417L207.1,1425L210.4,1433L213.8,1441L217.7,1449L221.7,1457L223.7,1465L225.2,1473L226.4,1481L227.4,1489L228.4,1497L229.5,1505L230.9,1513L232.2,1521L233.5,1529L234.3,1537L234.5,1545L234.2,1553L233.7,1561L233,1569L231.8,1577L229.3,1585L226.2,1593L223.5,1601L221.2,1609L218.9,1617L215.8,1625L212.1,1633L207.8,1641L202.8,1649L196.8,1657L189.6,1665L180.2,1673L164.8,1681L140.9,1689L116.7,1697L116,1705L116,1857L106,1857Z" fill="#ff1000"/>
<path d="M523.8,1033L526,1041L528.2,1049L530.4,1057L532.8,1065L535,1073L537,1081L538.8,1089L540.5,1097L542.1,1105L543.6,1113L545,1121L546.3,1129M556.9,1201L557.3,1209L557.6,1217L557.9,1225L558.1,1233L558.3,1241L558.5,1249L558.8,1257L559.1,1265L559.5,1273L559.8,1281L560.1,1289L560.3,1297L560.4,1305L560.3,1313L560.1,1321L559.8,1329L559.5,1337L559.2,1345L558.8,1353L558.5,1361L558.3,1369L558.1,1377L557.9,1385L557.6,1393L557.3,1401L557,1409L556.4,1417L555.3,1425L555.1,1433L555.1,1441L555.1,1449L555.1,1457M551.8,1529L551.2,1537L550.5,1545L549.8,1553L549,1561L548.2,1569L547.5,1577L546.9,1585L546.2,1593L545.5,1601L544.9,1609L544.2,1617L543.6,1625L542.9,1633L542.3,1641L541.6,1649L540.9,1657L540.1,1665L539.3,1673L538.5,1681L537.7,1689L536.7,1697L535.8,1705L534.7,1713L533.5,1721L532.1,1729L530.8,1737L529.3,1745L527.9,1753L526.4,1761L524.9,1769L523.3,1777L521.7,1785L520.2,1793L518.7,1801L517.3,1809L516,1817L514.7,1825L513.6,1833L512.4,1841L511.2,1849L510,1857" fill="none" stroke="#000" stroke-width="1.15"/>
<path d="M318.5,1033L321.2,1041L324,1049L326.7,1057L329.4,1065L332.1,1073L334.9,1081L337.8,1089L340.7,1097L343.7,1105L347,1113L350.5,1121L354.1,1129M390.3,1193L395.5,1201L401,1209L406.2,1217L410.2,1225L413.2,1233L415.8,1241L417.9,1249L419.6,1257L420.9,1265L422,1273L423.1,1281L424.1,1289L425.2,1297L426.2,1305L427.1,1313L428.1,1321L429.1,1329L430.2,1337L431.4,1345L432.7,1353L434,1361L435.2,1369L436.5,1377L437.6,1385L438.5,1393L439.5,1401L440.6,1409L442.2,1417L444.6,1425L447.2,1433L447.5,1441M448.7,1513L449,1521L449.4,1529L449.8,1537L450.2,1545L450.5,1553L450.8,1561L451.2,1569L451.4,1577L451.6,1585L451.6,1593L451.5,1601L451.2,1609L450.9,1617L450.6,1625L450.1,1633L449.4,1641L448.5,1649L447.5,1657L446.1,1665L444,1673L441.5,1681L439,1689L436.5,1697L433.8,1705L430.8,1713L427.3,1721L423.3,1729L419.1,1737L414.9,1745L410.7,1753L406.5,1761L402.2,1769L397.7,1777L393.1,1785L388.3,1793L383.3,1801L378,1809L372.2,1817L366.2,1825L360,1833L353.9,1841L348.2,1849L342.5,1857" fill="none" stroke="#000" stroke-width="1.15"/>
<path d="M116,1033L116,1313L118.1,1321L127.3,1329L136.5,1337L145.8,1345L154.8,1353L163.9,1361L172.1,1369L178.6,1377L184.3,1385L189.4,1393L194.4,1401L199.1,1409L203.4,1417L207.1,1425L210.4,1433L213.8,1441L217.7,1449L221.7,1457L223.7,1465M234.3,1537L234.5,1545L234.2,1553L233.7,1561L233,1569L231.8,1577L229.3,1585L226.2,1593L223.5,1601L221.2,1609L218.9,1617L215.8,1625L212.1,1633L207.8,1641L202.8,1649L196.8,1657L189.6,1665L180.2,1673L164.8,1681L140.9,1689L116.7,1697L116,1705L116,1857" fill="none" stroke="#000" stroke-width="1.15"/>
<text transform="translate(551.5 1164) rotate(80)" font-size="44" text-anchor="middle" fill="#171717" dy="0.33em">50</text>
<text transform="translate(369.1 1158.7) rotate(55)" font-size="44" text-anchor="middle" fill="#171717" dy="0.33em">70</text>
<text transform="translate(553.7 1495.5) rotate(-87)" font-size="44" text-anchor="middle" fill="#171717" dy="0.33em">50</text>
<text transform="translate(448.8 1479.6) rotate(95)" font-size="44" text-anchor="middle" fill="#171717" dy="0.33em">70</text>
<text transform="translate(229.2 1502.6) rotate(100)" font-size="44" text-anchor="middle" fill="#171717" dy="0.33em">90</text>
</g>
<rect x="156" y="1057" width="472" height="783" fill="none" stroke="#858585" stroke-width="1.5"/>
<path d="M195.3,1057v-10 M195.3,1840v10M274,1057v-10 M274,1840v10M352.7,1057v-10 M352.7,1840v10M431.3,1057v-10 M431.3,1840v10M510,1057v-10 M510,1840v10M588.7,1057v-10 M588.7,1840v10M156,1057h-10 M628,1057h10M156,1135.3h-10 M628,1135.3h10M156,1213.6h-10 M628,1213.6h10M156,1291.9h-10 M628,1291.9h10M156,1370.2h-10 M628,1370.2h10M156,1448.5h-10 M628,1448.5h10M156,1526.8h-10 M628,1526.8h10M156,1605.1h-10 M628,1605.1h10M156,1683.4h-10 M628,1683.4h10M156,1761.7h-10 M628,1761.7h10M156,1840h-10 M628,1840h10" stroke="#858585" stroke-width="1.4" fill="none"/>
<text transform="translate(195.3 1892.2) scale(0.980 1)" font-size="46.8" text-anchor="middle" fill="#171717">4</text>
<text transform="translate(274 1892.2) scale(0.980 1)" font-size="46.8" text-anchor="middle" fill="#171717">6</text>
<text transform="translate(352.7 1892.2) scale(0.980 1)" font-size="46.8" text-anchor="middle" fill="#171717">8</text>
<text transform="translate(431.3 1892.2) scale(0.980 1)" font-size="46.8" text-anchor="middle" fill="#171717">10</text>
<text transform="translate(510 1892.2) scale(0.980 1)" font-size="46.8" text-anchor="middle" fill="#171717">12</text>
<text transform="translate(588.7 1892.2) scale(0.980 1)" font-size="46.8" text-anchor="middle" fill="#171717">14</text>
<text transform="translate(143.5 1072.6) scale(0.980 1)" font-size="46.8" text-anchor="end" fill="#171717">0</text>
<text transform="translate(143.5 1150.9) scale(0.980 1)" font-size="46.8" text-anchor="end" fill="#171717">-2</text>
<text transform="translate(143.5 1229.2) scale(0.980 1)" font-size="46.8" text-anchor="end" fill="#171717">-4</text>
<text transform="translate(143.5 1307.5) scale(0.980 1)" font-size="46.8" text-anchor="end" fill="#171717">-6</text>
<text transform="translate(143.5 1385.8) scale(0.980 1)" font-size="46.8" text-anchor="end" fill="#171717">-8</text>
<text transform="translate(143.5 1464.1) scale(0.980 1)" font-size="46.8" text-anchor="end" fill="#171717">-10</text>
<text transform="translate(143.5 1542.4) scale(0.980 1)" font-size="46.8" text-anchor="end" fill="#171717">-12</text>
<text transform="translate(143.5 1620.7) scale(0.980 1)" font-size="46.8" text-anchor="end" fill="#171717">-14</text>
<text transform="translate(143.5 1699) scale(0.980 1)" font-size="46.8" text-anchor="end" fill="#171717">-16</text>
<text transform="translate(143.5 1777.3) scale(0.980 1)" font-size="46.8" text-anchor="end" fill="#171717">-18</text>
<text transform="translate(143.5 1855.6) scale(0.980 1)" font-size="46.8" text-anchor="end" fill="#171717">-20</text>
<text transform="translate(392 1951.7) scale(0.966 1)" font-size="46.9" text-anchor="middle" fill="#171717">Horizontal distance/cm</text>
<text transform="translate(62 1448.5) rotate(-90) scale(0.972 1)" font-size="46.9" text-anchor="middle" fill="#171717">Vertical distance/cm</text>
<text transform="translate(406.6 2026.4)" font-size="61" text-anchor="middle" fill="#000">240 s</text>
<rect x="703.6" y="1683.8" width="33.2" height="37.3" fill="#0000ff" stroke="#2a2a2a" stroke-width="1.1"/>
<rect x="703.6" y="1646.5" width="33.2" height="37.3" fill="#0058ff" stroke="#2a2a2a" stroke-width="1.1"/>
<rect x="703.6" y="1609.2" width="33.2" height="37.3" fill="#00c0ff" stroke="#2a2a2a" stroke-width="1.1"/>
<rect x="703.6" y="1571.9" width="33.2" height="37.3" fill="#00f9ec" stroke="#2a2a2a" stroke-width="1.1"/>
<rect x="703.6" y="1534.6" width="33.2" height="37.3" fill="#00e0b0" stroke="#2a2a2a" stroke-width="1.1"/>
<rect x="703.6" y="1497.3" width="33.2" height="37.3" fill="#00c870" stroke="#2a2a2a" stroke-width="1.1"/>
<rect x="703.6" y="1460" width="33.2" height="37.3" fill="#00b030" stroke="#2a2a2a" stroke-width="1.1"/>
<rect x="703.6" y="1422.7" width="33.2" height="37.3" fill="#00a000" stroke="#2a2a2a" stroke-width="1.1"/>
<rect x="703.6" y="1385.4" width="33.2" height="37.3" fill="#90e000" stroke="#2a2a2a" stroke-width="1.1"/>
<rect x="703.6" y="1348.1" width="33.2" height="37.3" fill="#ffe400" stroke="#2a2a2a" stroke-width="1.1"/>
<rect x="703.6" y="1310.8" width="33.2" height="37.3" fill="#ffa300" stroke="#2a2a2a" stroke-width="1.1"/>
<rect x="703.6" y="1273.5" width="33.2" height="37.3" fill="#ff6000" stroke="#2a2a2a" stroke-width="1.1"/>
<rect x="703.6" y="1236.2" width="33.2" height="37.3" fill="#ff1000" stroke="#2a2a2a" stroke-width="1.1"/>
<rect x="703.6" y="1198.9" width="33.2" height="37.3" fill="#ff3030" stroke="#2a2a2a" stroke-width="1.1"/>
<text transform="translate(746.8 1738.6) scale(0.970 1)" font-size="46" text-anchor="start" fill="#171717">30</text>
<text transform="translate(746.8 1664) scale(0.970 1)" font-size="46" text-anchor="start" fill="#171717">40</text>
<text transform="translate(746.8 1589.4) scale(0.970 1)" font-size="46" text-anchor="start" fill="#171717">50</text>
<text transform="translate(746.8 1514.8) scale(0.970 1)" font-size="46" text-anchor="start" fill="#171717">60</text>
<text transform="translate(746.8 1440.2) scale(0.970 1)" font-size="46" text-anchor="start" fill="#171717">70</text>
<text transform="translate(746.8 1365.6) scale(0.970 1)" font-size="46" text-anchor="start" fill="#171717">80</text>
<text transform="translate(746.8 1291) scale(0.970 1)" font-size="46" text-anchor="start" fill="#171717">90</text></g>
<g><clipPath id="c4"><rect x="996" y="1057" width="472" height="783"/></clipPath>
<rect x="996" y="1057" width="472" height="783" fill="#0000ff"/>
<g clip-path="url(#c4)" stroke-linejoin="round">
<path d="M946,1033L1508,1033L1508,1617L1507.2,1625L1505.9,1633L1504.6,1641L1503.3,1649L1501.9,1657L1500.6,1665L1499.3,1673L1497.9,1681L1496.4,1689L1494.8,1697L1493,1705L1491,1713L1488.9,1721L1486.7,1729L1484.4,1737L1481.9,1745L1479.3,1753L1476,1761L1472.5,1769L1469.1,1777L1465.9,1785L1462.8,1793L1459.8,1801L1456.8,1809L1453.8,1817L1451.1,1825L1448.8,1833L1446.8,1841L1444.7,1849L1442.6,1857L946,1857Z" fill="#00c0ff" stroke="#b4b4b4" stroke-width="0.8"/>
<path d="M946,1033L1508,1033L1508,1169L1507.5,1177L1506.8,1185L1506.1,1193L1505.4,1201L1504.6,1209L1503.8,1217L1502.9,1225L1502.1,1233L1501.1,1241L1500.2,1249L1499.2,1257L1498.2,1265L1497.2,1273L1496.1,1281L1495,1289L1493.9,1297L1492.7,1305L1491.5,1313L1490.3,1321L1489.1,1329L1487.8,1337L1486.5,1345L1485.2,1353L1483.9,1361L1482.2,1369L1480.1,1377L1477.6,1385L1474.7,1393L1471.5,1401L1468,1409L1462.9,1417L1458.2,1425L1454.5,1433L1452.3,1441L1451.7,1449L1451.8,1457L1452,1465L1452.2,1473L1452.4,1481L1452.3,1489L1452.2,1497L1452,1505L1451.7,1513L1451.4,1521L1451,1529L1450.6,1537L1449.9,1545L1449.1,1553L1448,1561L1446.8,1569L1445.6,1577L1444.3,1585L1442.8,1593L1441.2,1601L1439.5,1609L1437.9,1617L1436.4,1625L1435,1633L1433.7,1641L1432.4,1649L1431.1,1657L1429.8,1665L1428.5,1673L1427,1681L1425.5,1689L1423.8,1697L1422.2,1705L1420.5,1713L1418.9,1721L1417.3,1729L1415.9,1737L1414.4,1745L1412.9,1753L1411.5,1761L1410.1,1769L1409,1777L1408,1785L1407.1,1793L1406.3,1801L1405.6,1809L1404.9,1817L1404.3,1825L1403.8,1833L1403.4,1841L1402.8,1849L1402.1,1857L946,1857Z" fill="#00f9ec"/>
<path d="M946,1033L1508,1033L1507.2,1041L1506.3,1049L1505.5,1057L1505.5,1065L1505.3,1073L1505.1,1081L1504.8,1089L1504.4,1097L1504,1105L1503.5,1113L1502.9,1121L1502.2,1129L1501.5,1137L1500.8,1145L1499.9,1153L1499,1161L1498.1,1169L1497.1,1177L1496,1185L1495,1193L1493.8,1201L1492.6,1209L1491.4,1217L1490.2,1225L1488.9,1233L1487.6,1241L1486.3,1249L1484.9,1257L1483.5,1265L1482.1,1273L1480.7,1281L1479,1289L1476.8,1297L1474.3,1305L1471.7,1313L1469.1,1321L1466.5,1329L1463.8,1337L1461.1,1345L1458.3,1353L1455.4,1361L1452.5,1369L1449.8,1377L1447,1385L1444.4,1393L1441.8,1401L1439.3,1409L1436.8,1417L1434.6,1425L1432.9,1433L1431.7,1441L1430.7,1449L1429.9,1457L1429.4,1465L1429,1473L1428.7,1481L1428.5,1489L1428.3,1497L1428.1,1505L1427.8,1513L1427.4,1521L1426.7,1529L1425.7,1537L1424.6,1545L1423.3,1553L1422.1,1561L1420.9,1569L1419.8,1577L1418.7,1585L1417.6,1593L1416.5,1601L1415.4,1609L1414.4,1617L1413.4,1625L1412.4,1633L1411.5,1641L1410.6,1649L1409.8,1657L1408.8,1665L1407.8,1673L1406.8,1681L1405.7,1689L1404.6,1697L1403.4,1705L1402.2,1713L1400.9,1721L1399.6,1729L1398.1,1737L1396.5,1745L1395,1753L1393.4,1761L1391.9,1769L1390.4,1777L1389,1785L1387.5,1793L1386,1801L1384.7,1809L1383.6,1817L1382.7,1825L1382,1833L1381.5,1841L1380.8,1849L1380.1,1857L946,1857Z" fill="#00e0b0" stroke="#b4b4b4" stroke-width="0.8"/>
<path d="M946,1033L1440.7,1033L1440.8,1041L1440.9,1049L1441,1057L1441.3,1065L1441.5,1073L1441.6,1081L1441.7,1089L1441.7,1097L1441.7,1105L1441.7,1113L1441.6,1121L1441.4,1129L1441.2,1137L1440.8,1145L1440.5,1153L1440.1,1161L1439.7,1169L1439.3,1177L1438.8,1185L1438.3,1193L1437.7,1201L1437.1,1209L1436.4,1217L1435.8,1225L1435.1,1233L1434.3,1241L1433.5,1249L1432.7,1257L1431.7,1265L1430.8,1273L1429.7,1281L1428.5,1289L1427.2,1297L1425.9,1305L1424.6,1313L1423.3,1321L1422,1329L1420.6,1337L1419.3,1345L1417.9,1353L1416.6,1361L1415.1,1369L1413.6,1377L1412.1,1385L1410.8,1393L1409.9,1401L1409.3,1409L1408.7,1417L1408.3,1425L1408,1433L1407.7,1441L1407.5,1449L1407.3,1457L1407,1465L1406.8,1473L1406.4,1481L1406.1,1489L1405.7,1497L1405.3,1505L1404.9,1513L1404.4,1521L1403.8,1529L1403,1537L1402.1,1545L1401.3,1553L1400.4,1561L1399.5,1569L1398.7,1577L1397.9,1585L1397.2,1593L1396.4,1601L1395.6,1609L1394.8,1617L1393.9,1625L1393,1633L1392,1641L1390.9,1649L1389.8,1657L1388.7,1665L1387.6,1673L1386.4,1681L1385.2,1689L1383.9,1697L1382.6,1705L1381.2,1713L1379.8,1721L1378.4,1729L1376.9,1737L1375.3,1745L1373.7,1753L1372.1,1761L1370.5,1769L1368.8,1777L1367.2,1785L1365.5,1793L1363.7,1801L1362,1809L1360.6,1817L1359.7,1825L1358.9,1833L1358.4,1841L1357.7,1849L1357.1,1857L946,1857Z" fill="#00c870" stroke="#b4b4b4" stroke-width="0.8"/>
<path d="M946,1033L1363.1,1033L1364.5,1041L1366,1049L1367.4,1057L1368.8,1065L1370.2,1073L1371.7,1081L1373.2,1089L1374.9,1097L1376.6,1105L1378.2,1113L1379.7,1121L1380.9,1129L1381.9,1137L1382.9,1145L1383.9,1153L1384.9,1161L1386.2,1169L1387.7,1177L1389.1,1185L1390.1,1193L1390.4,1201L1390.4,1209L1390.4,1217L1390.4,1225L1390.4,1233L1390.4,1241L1390.4,1249L1390.4,1257L1390.3,1265L1390.1,1273L1390,1281L1389.7,1289L1389.5,1297L1389.3,1305L1389.1,1313L1388.9,1321L1388.7,1329L1388.5,1337L1388.3,1345L1388,1353L1387.9,1361L1387.7,1369L1387.5,1377L1387.4,1385L1387.3,1393L1387.1,1401L1386.9,1409L1386.7,1417L1386.3,1425L1386,1433L1385.7,1441L1385.3,1449L1385,1457L1384.7,1465L1384.4,1473L1384,1481L1383.7,1489L1383.2,1497L1382.5,1505L1381.7,1513L1380.8,1521L1380,1529L1379.5,1537L1379.1,1545L1378.7,1553L1378.4,1561L1378.1,1569L1377.8,1577L1377.5,1585L1377.2,1593L1376.8,1601L1376.5,1609L1376.1,1617L1375.5,1625L1374.9,1633L1374.3,1641L1373.5,1649L1372.6,1657L1371.6,1665L1370.4,1673L1369,1681L1367.5,1689L1365.8,1697L1364.1,1705L1362.2,1713L1360.1,1721L1357.7,1729L1355.3,1737L1352.8,1745L1350.5,1753L1348.2,1761L1346,1769L1343.8,1777L1341.6,1785L1339.5,1793L1337.5,1801L1335.5,1809L1333.6,1817L1331.8,1825L1330,1833L1328.2,1841L1326.4,1849L1324.5,1857L946,1857Z" fill="#00b030"/>
<path d="M946,1033L1293.2,1033L1295.5,1041L1297.8,1049L1300.2,1057L1302.4,1065L1304.7,1073L1307.1,1081L1309.4,1089L1311.8,1097L1314.3,1105L1316.8,1113L1319.3,1121L1321.8,1129L1324.2,1137L1326.6,1145L1329.1,1153L1331.5,1161L1333.9,1169L1336.1,1177L1338,1185L1339.9,1193L1341.8,1201L1343.4,1209L1344.9,1217L1346.2,1225L1347.4,1233L1348.4,1241L1349.3,1249L1350.2,1257L1351,1265L1351.6,1273L1352.3,1281L1352.8,1289L1353.3,1297L1353.8,1305L1354.3,1313L1354.8,1321L1355.3,1329L1355.9,1337L1356.4,1345L1356.9,1353L1357.4,1361L1358,1369L1358.5,1377L1359.1,1385L1359.5,1393L1360,1401L1360.6,1409L1361.4,1417L1362.6,1425L1363.8,1433L1363.8,1441L1363.8,1449L1363.8,1457L1363.8,1465L1363.8,1473L1363.6,1481L1363.3,1489L1363,1497L1362.7,1505L1362.3,1513L1361.9,1521L1361.5,1529L1360.9,1537L1360.3,1545L1359.7,1553L1359.1,1561L1358.6,1569L1358.2,1577L1357.9,1585L1357.6,1593L1357.3,1601L1357,1609L1356.6,1617L1356.3,1625L1355.9,1633L1355.5,1641L1355,1649L1354.1,1657L1352.8,1665L1351,1673L1349,1681L1346.9,1689L1344.8,1697L1342.3,1705L1339.5,1713L1336.5,1721L1333.4,1729L1330.2,1737L1327.1,1745L1323.7,1753L1320.2,1761L1316.7,1769L1313.1,1777L1309.7,1785L1306.5,1793L1303.4,1801L1300.4,1809L1297.4,1817L1294.6,1825L1291.8,1833L1289.1,1841L1286.2,1849L1283.3,1857L946,1857Z" fill="#00a000" stroke="#b4b4b4" stroke-width="0.8"/>
<path d="M946,1033L1219.6,1033L1223.5,1041L1227.3,1049L1231.1,1057L1234.9,1065L1238.8,1073L1242.6,1081L1246.6,1089L1250.7,1097L1254.7,1105L1258.7,1113L1262.6,1121L1266.4,1129L1270.1,1137L1273.7,1145L1277.2,1153L1280.4,1161L1283.6,1169L1286.6,1177L1289.4,1185L1292.1,1193L1294.6,1201L1297,1209L1299.3,1217L1301.4,1225L1303.2,1233L1304.7,1241L1306.1,1249L1307.2,1257L1308.4,1265L1309.5,1273L1310.7,1281L1312,1289L1313.3,1297L1314.6,1305L1315.9,1313L1317.3,1321L1318.9,1329L1320.6,1337L1322.4,1345L1324.1,1353L1325.8,1361L1327.1,1369L1328.3,1377L1329.4,1385L1330.4,1393L1331.4,1401L1332.6,1409L1334.1,1417L1335.2,1425L1335.5,1433L1335.5,1441L1335.5,1449L1335.5,1457L1335.5,1465L1335.3,1473L1334.9,1481L1334.3,1489L1333.7,1497L1333,1505L1332.3,1513L1331.8,1521L1331.2,1529L1330.7,1537L1330.1,1545L1329.7,1553L1329.3,1561L1329.1,1569L1329.1,1577L1329.3,1585L1329.6,1593L1329.9,1601L1330.1,1609L1330.2,1617L1330.2,1625L1330.2,1633L1330.2,1641L1329.7,1649L1328,1657L1325.6,1665L1322.9,1673L1320.3,1681L1317.4,1689L1314.1,1697L1310.5,1705L1306.9,1713L1303.4,1721L1299.8,1729L1296.1,1737L1292.4,1745L1288.6,1753L1284.9,1761L1281.2,1769L1277.7,1777L1274.3,1785L1270.7,1793L1266.9,1801L1262.8,1809L1258.7,1817L1254.8,1825L1251,1833L1247.3,1841L1243.9,1849L1240.5,1857L946,1857Z" fill="#90e000" stroke="#b4b4b4" stroke-width="0.8"/>
<path d="M946,1033L1188.4,1033L1190.8,1041L1193.3,1049L1195.7,1057L1198,1065L1200.4,1073L1202.8,1081L1205.3,1089L1207.9,1097L1210.6,1105L1213.3,1113L1216.2,1121L1219.1,1129L1222.2,1137L1225.4,1145L1228.7,1153L1231.9,1161L1235.4,1169L1238.8,1177L1242.3,1185L1245.7,1193L1249,1201L1252.3,1209L1255.5,1217L1258.4,1225L1261,1233L1263.5,1241L1265.7,1249L1267.6,1257L1269.2,1265L1270.4,1273L1271.6,1281L1272.7,1289L1273.8,1297L1274.9,1305L1275.9,1313L1277,1321L1278.1,1329L1279.3,1337L1280.5,1345L1281.8,1353L1283.2,1361L1284.6,1369L1286,1377L1287.4,1385L1288.8,1393L1290.3,1401L1291.8,1409L1293.3,1417L1295.1,1425L1296,1433L1296.5,1441L1296.5,1449L1296.5,1457L1296.5,1465L1296.5,1473L1296.5,1481L1296.5,1489L1296.5,1497L1296.5,1505L1296.5,1513L1296.5,1521L1296.5,1529L1296.6,1537L1296.9,1545L1297.4,1553L1297.8,1561L1298.2,1569L1298.5,1577L1298.7,1585L1299,1593L1299.2,1601L1299.3,1609L1299.3,1617L1299.2,1625L1298.8,1633L1298.4,1641L1297.6,1649L1295.8,1657L1293.4,1665L1290.5,1673L1287.2,1681L1283.8,1689L1280.4,1697L1277,1705L1273.2,1713L1269.1,1721L1264.9,1729L1260.5,1737L1255.9,1745L1251.2,1753L1246.3,1761L1241.2,1769L1236,1777L1230.6,1785L1225.2,1793L1219.6,1801L1213.7,1809L1207.2,1817L1200.1,1825L1192.8,1833L1185.6,1841L1178.8,1849L1171.9,1857L946,1857Z" fill="#ffe400"/>
<path d="M946,1033L1159.6,1033L1160.6,1041L1161.7,1049L1162.7,1057L1163.5,1065L1164.4,1073L1165.5,1081L1166.6,1089L1167.8,1097L1169.1,1105L1170.5,1113L1172.1,1121L1173.7,1129L1175.5,1137L1177.6,1145L1180,1153L1182.7,1161L1185.5,1169L1188.5,1177L1191.5,1185L1194.7,1193L1198,1201L1201.4,1209L1204.9,1217L1208.3,1225L1212.3,1233L1216.4,1241L1219.5,1249L1221,1257L1221.9,1265L1222.6,1273L1223.2,1281L1224,1289L1224.9,1297L1225.8,1305L1226.7,1313L1227.8,1321L1229,1329L1230.4,1337L1232.1,1345L1234,1353L1236,1361L1238,1369L1239.9,1377L1241.7,1385L1243.3,1393L1245,1401L1246.9,1409L1249.2,1417L1252.9,1425L1254,1433L1254,1441L1254,1449L1254,1457L1254,1465L1254.2,1473L1254.8,1481L1255.6,1489L1256.6,1497L1257.7,1505L1258.7,1513L1259.6,1521L1260.4,1529L1261.3,1537L1262.2,1545L1263,1553L1263.8,1561L1264.4,1569L1265,1577L1265.4,1585L1265.7,1593L1266.2,1601L1266.8,1609L1267.5,1617L1268,1625L1268.1,1633L1267.5,1641L1266.4,1649L1264.9,1657L1263.1,1665L1259.9,1673L1255.7,1681L1251.1,1689L1245.7,1697L1239.3,1705L1232.6,1713L1225.7,1721L1218.4,1729L1210.8,1737L1202.8,1745L1194.7,1753L1186.1,1761L1177.2,1769L1167.9,1777L1158.1,1785L1147.8,1793L1137.7,1801L1126.9,1809L1092.7,1817L1000.1,1825L956,1833L956,1857L946,1857Z" fill="#ffa300" stroke="#b4b4b4" stroke-width="0.8"/>
<path d="M946,1033L1130,1033L1128.6,1041L1127.1,1049L1125.7,1057L1124.5,1065L1123.1,1073L1121.5,1081L1119.6,1089L1117.3,1097L1115.1,1105L1113.8,1113L1112.8,1121L1112,1129L1111.6,1137L1111.8,1145L1112.5,1153L1113.6,1161L1114.9,1169L1116.3,1177L1117.9,1185L1119.8,1193L1121.9,1201L1124.2,1209L1126.5,1217L1128.8,1225L1131.4,1233L1134.1,1241L1136.9,1249L1139.7,1257L1142.6,1265L1145.5,1273L1148.4,1281L1151.4,1289L1154.3,1297L1157,1305L1159.8,1313L1162.5,1321L1165.1,1329L1167.7,1337L1170.2,1345L1172.8,1353L1175.2,1361L1177.6,1369L1179.7,1377L1181.8,1385L1183.8,1393L1185.7,1401L1187.4,1409L1188.7,1417L1189.6,1425L1190.6,1433L1191.8,1441L1192.9,1449L1194.2,1457L1195.5,1465L1196.9,1473L1198.4,1481L1200,1489L1201.6,1497L1203.3,1505L1205,1513L1206.7,1521L1208.7,1529L1210.9,1537L1213.1,1545L1215,1553L1216.4,1561L1217.2,1569L1217.7,1577L1218,1585L1218.5,1593L1219.2,1601L1221.7,1609L1225.1,1617L1227.3,1625L1228.5,1633L1229.2,1641L1227.2,1649L1215.2,1657L1202.6,1665L1191.7,1673L1180.7,1681L1169.9,1689L1159.3,1697L1148.3,1705L1136.3,1713L1123.1,1721L1108.5,1729L1092.8,1737L1072.4,1745L1042.5,1753L999.1,1761L956,1769L956,1857L946,1857Z" fill="#ff6000" stroke="#b4b4b4" stroke-width="0.8"/>
<path d="M946,1033L956,1033L956,1217L963.9,1225L972.3,1233L980.9,1241L989.3,1249L997.4,1257L1005.4,1265L1012.5,1273L1018.3,1281L1023.3,1289L1028,1297L1032.4,1305L1036.7,1313L1040.8,1321L1044.7,1329L1048.3,1337L1051.6,1345L1054.7,1353L1057.7,1361L1060.8,1369L1064.2,1377L1067.8,1385L1071.3,1393L1074.7,1401L1077.7,1409L1080.4,1417L1082.9,1425L1085.3,1433L1087.7,1441L1090.1,1449L1092.4,1457L1094.9,1465L1097.4,1473L1100,1481L1102.4,1489L1104.8,1497L1107.1,1505L1109.3,1513L1111.1,1521L1112.9,1529L1114.5,1537L1115.6,1545L1115.8,1553L1115.6,1561L1115.1,1569L1114.3,1577L1113.3,1585L1112,1593L1110.6,1601L1107.2,1609L1101.8,1617L1095.6,1625L1089.4,1633L1082.2,1641L1074.2,1649L1065.2,1657L1054.8,1665L1043.2,1673L1030.3,1681L1013.3,1689L990.6,1697L965.3,1705L956,1713L956,1857L946,1857Z" fill="#ff1000"/>
<path d="M1508,1033L1508,1169L1507.5,1177L1506.8,1185L1506.1,1193L1505.4,1201L1504.6,1209L1503.8,1217L1502.9,1225L1502.1,1233L1501.1,1241L1500.2,1249L1499.2,1257L1498.2,1265L1497.2,1273L1496.1,1281L1495,1289L1493.9,1297L1492.7,1305L1491.5,1313L1490.3,1321L1489.1,1329L1487.8,1337L1486.5,1345L1485.2,1353L1483.9,1361L1482.2,1369L1480.1,1377L1477.6,1385L1474.7,1393L1471.5,1401L1468,1409L1462.9,1417L1458.2,1425L1454.5,1433L1452.3,1441L1451.7,1449L1451.8,1457L1452,1465L1452.2,1473L1452.4,1481L1452.3,1489L1452.2,1497L1452,1505L1451.7,1513L1451.4,1521L1451,1529L1450.6,1537L1449.9,1545L1449.1,1553L1448,1561L1446.8,1569L1445.6,1577L1444.3,1585L1442.8,1593L1441.2,1601L1439.5,1609L1437.9,1617L1436.4,1625L1435,1633L1433.7,1641L1432.4,1649L1431.1,1657L1429.8,1665L1428.5,1673L1427,1681L1425.5,1689L1423.8,1697L1422.2,1705L1420.5,1713L1418.9,1721L1417.3,1729L1415.9,1737L1414.4,1745L1412.9,1753L1411.5,1761L1410.1,1769L1409,1777L1408,1785L1407.1,1793L1406.3,1801L1405.6,1809L1404.9,1817L1404.3,1825L1403.8,1833L1403.4,1841L1402.8,1849L1402.1,1857" fill="none" stroke="#000" stroke-width="1.15"/>
<path d="M1363.1,1033L1364.5,1041L1366,1049L1367.4,1057L1368.8,1065L1370.2,1073L1371.7,1081L1373.2,1089L1374.9,1097L1376.6,1105L1378.2,1113L1379.7,1121L1380.9,1129M1390.1,1193L1390.4,1201L1390.4,1209L1390.4,1217L1390.4,1225L1390.4,1233L1390.4,1241L1390.4,1249L1390.4,1257L1390.3,1265L1390.1,1273L1390,1281L1389.7,1289L1389.5,1297L1389.3,1305L1389.1,1313L1388.9,1321L1388.7,1329L1388.5,1337L1388.3,1345L1388,1353L1387.9,1361L1387.7,1369L1387.5,1377L1387.4,1385L1387.3,1393L1387.1,1401L1386.9,1409L1386.7,1417L1386.3,1425L1386,1433L1385.7,1441L1385.3,1449L1385,1457M1380,1529L1379.5,1537L1379.1,1545L1378.7,1553L1378.4,1561L1378.1,1569L1377.8,1577L1377.5,1585L1377.2,1593L1376.8,1601L1376.5,1609L1376.1,1617L1375.5,1625L1374.9,1633L1374.3,1641L1373.5,1649L1372.6,1657L1371.6,1665L1370.4,1673L1369,1681L1367.5,1689L1365.8,1697L1364.1,1705L1362.2,1713L1360.1,1721L1357.7,1729L1355.3,1737L1352.8,1745L1350.5,1753L1348.2,1761L1346,1769L1343.8,1777L1341.6,1785L1339.5,1793L1337.5,1801L1335.5,1809L1333.6,1817L1331.8,1825L1330,1833L1328.2,1841L1326.4,1849L1324.5,1857" fill="none" stroke="#000" stroke-width="1.15"/>
<path d="M1188.4,1033L1190.8,1041L1193.3,1049L1195.7,1057L1198,1065L1200.4,1073L1202.8,1081L1205.3,1089L1207.9,1097L1210.6,1105L1213.3,1113L1216.2,1121L1219.1,1129M1245.7,1193L1249,1201L1252.3,1209L1255.5,1217L1258.4,1225L1261,1233L1263.5,1241L1265.7,1249L1267.6,1257L1269.2,1265L1270.4,1273L1271.6,1281L1272.7,1289L1273.8,1297L1274.9,1305L1275.9,1313L1277,1321L1278.1,1329L1279.3,1337L1280.5,1345L1281.8,1353L1283.2,1361L1284.6,1369L1286,1377L1287.4,1385L1288.8,1393L1290.3,1401L1291.8,1409L1293.3,1417L1295.1,1425L1296,1433L1296.5,1441L1296.5,1449M1296.5,1521L1296.5,1529L1296.6,1537L1296.9,1545L1297.4,1553L1297.8,1561L1298.2,1569L1298.5,1577L1298.7,1585L1299,1593L1299.2,1601L1299.3,1609L1299.3,1617L1299.2,1625L1298.8,1633L1298.4,1641L1297.6,1649L1295.8,1657L1293.4,1665L1290.5,1673L1287.2,1681L1283.8,1689L1280.4,1697L1277,1705L1273.2,1713L1269.1,1721L1264.9,1729L1260.5,1737L1255.9,1745L1251.2,1753L1246.3,1761L1241.2,1769L1236,1777L1230.6,1785L1225.2,1793L1219.6,1801L1213.7,1809L1207.2,1817L1200.1,1825L1192.8,1833L1185.6,1841L1178.8,1849L1171.9,1857" fill="none" stroke="#000" stroke-width="1.15"/>
<path d="M956,1033L956,1217L963.9,1225L972.3,1233L980.9,1241L989.3,1249L997.4,1257L1005.4,1265L1012.5,1273L1018.3,1281L1023.3,1289L1028,1297L1032.4,1305L1036.7,1313L1040.8,1321L1044.7,1329L1048.3,1337L1051.6,1345L1054.7,1353L1057.7,1361L1060.8,1369L1064.2,1377M1087.7,1441L1090.1,1449L1092.4,1457L1094.9,1465L1097.4,1473L1100,1481L1102.4,1489L1104.8,1497L1107.1,1505L1109.3,1513L1111.1,1521L1112.9,1529L1114.5,1537L1115.6,1545L1115.8,1553L1115.6,1561L1115.1,1569L1114.3,1577L1113.3,1585L1112,1593L1110.6,1601L1107.2,1609L1101.8,1617L1095.6,1625L1089.4,1633L1082.2,1641L1074.2,1649L1065.2,1657L1054.8,1665L1043.2,1673L1030.3,1681L1013.3,1689L990.6,1697L965.3,1705L956,1713L956,1857" fill="none" stroke="#000" stroke-width="1.15"/>
<text transform="translate(1385.1 1162.2) rotate(82)" font-size="44" text-anchor="middle" fill="#171717" dy="0.33em">60</text>
<text transform="translate(1231 1158.7) rotate(65)" font-size="44" text-anchor="middle" fill="#171717" dy="0.33em">75</text>
<text transform="translate(1076.9 1406.6) rotate(65)" font-size="44" text-anchor="middle" fill="#171717" dy="0.33em">90</text>
<text transform="translate(1384.4 1495.5) rotate(-85)" font-size="44" text-anchor="middle" fill="#171717" dy="0.33em">60</text>
<text transform="translate(1298.3 1486.7) rotate(-80)" font-size="44" text-anchor="middle" fill="#171717" dy="0.33em">75</text>
</g>
<rect x="996" y="1057" width="472" height="783" fill="none" stroke="#858585" stroke-width="1.5"/>
<path d="M1035.3,1057v-10 M1035.3,1840v10M1114,1057v-10 M1114,1840v10M1192.7,1057v-10 M1192.7,1840v10M1271.3,1057v-10 M1271.3,1840v10M1350,1057v-10 M1350,1840v10M1428.7,1057v-10 M1428.7,1840v10M996,1057h-10 M1468,1057h10M996,1135.3h-10 M1468,1135.3h10M996,1213.6h-10 M1468,1213.6h10M996,1291.9h-10 M1468,1291.9h10M996,1370.2h-10 M1468,1370.2h10M996,1448.5h-10 M1468,1448.5h10M996,1526.8h-10 M1468,1526.8h10M996,1605.1h-10 M1468,1605.1h10M996,1683.4h-10 M1468,1683.4h10M996,1761.7h-10 M1468,1761.7h10M996,1840h-10 M1468,1840h10" stroke="#858585" stroke-width="1.4" fill="none"/>
<text transform="translate(1035.3 1892.2) scale(0.980 1)" font-size="46.8" text-anchor="middle" fill="#171717">4</text>
<text transform="translate(1114 1892.2) scale(0.980 1)" font-size="46.8" text-anchor="middle" fill="#171717">6</text>
<text transform="translate(1192.7 1892.2) scale(0.980 1)" font-size="46.8" text-anchor="middle" fill="#171717">8</text>
<text transform="translate(1271.3 1892.2) scale(0.980 1)" font-size="46.8" text-anchor="middle" fill="#171717">10</text>
<text transform="translate(1350 1892.2) scale(0.980 1)" font-size="46.8" text-anchor="middle" fill="#171717">12</text>
<text transform="translate(1428.7 1892.2) scale(0.980 1)" font-size="46.8" text-anchor="middle" fill="#171717">14</text>
<text transform="translate(983.5 1072.6) scale(0.980 1)" font-size="46.8" text-anchor="end" fill="#171717">0</text>
<text transform="translate(983.5 1150.9) scale(0.980 1)" font-size="46.8" text-anchor="end" fill="#171717">-2</text>
<text transform="translate(983.5 1229.2) scale(0.980 1)" font-size="46.8" text-anchor="end" fill="#171717">-4</text>
<text transform="translate(983.5 1307.5) scale(0.980 1)" font-size="46.8" text-anchor="end" fill="#171717">-6</text>
<text transform="translate(983.5 1385.8) scale(0.980 1)" font-size="46.8" text-anchor="end" fill="#171717">-8</text>
<text transform="translate(983.5 1464.1) scale(0.980 1)" font-size="46.8" text-anchor="end" fill="#171717">-10</text>
<text transform="translate(983.5 1542.4) scale(0.980 1)" font-size="46.8" text-anchor="end" fill="#171717">-12</text>
<text transform="translate(983.5 1620.7) scale(0.980 1)" font-size="46.8" text-anchor="end" fill="#171717">-14</text>
<text transform="translate(983.5 1699) scale(0.980 1)" font-size="46.8" text-anchor="end" fill="#171717">-16</text>
<text transform="translate(983.5 1777.3) scale(0.980 1)" font-size="46.8" text-anchor="end" fill="#171717">-18</text>
<text transform="translate(983.5 1855.6) scale(0.980 1)" font-size="46.8" text-anchor="end" fill="#171717">-20</text>
<text transform="translate(1232 1951.7) scale(0.966 1)" font-size="46.9" text-anchor="middle" fill="#171717">Horizontal distance/cm</text>
<text transform="translate(902 1448.5) rotate(-90) scale(0.972 1)" font-size="46.9" text-anchor="middle" fill="#171717">Vertical distance/cm</text>
<text transform="translate(1246.6 2026.4)" font-size="61" text-anchor="middle" fill="#000">300 s</text>
<rect x="1543.6" y="1683.8" width="33.2" height="37.3" fill="#0000ff" stroke="#2a2a2a" stroke-width="1.1"/>
<rect x="1543.6" y="1646.5" width="33.2" height="37.3" fill="#0058ff" stroke="#2a2a2a" stroke-width="1.1"/>
<rect x="1543.6" y="1609.2" width="33.2" height="37.3" fill="#00c0ff" stroke="#2a2a2a" stroke-width="1.1"/>
<rect x="1543.6" y="1571.9" width="33.2" height="37.3" fill="#00f9ec" stroke="#2a2a2a" stroke-width="1.1"/>
<rect x="1543.6" y="1534.6" width="33.2" height="37.3" fill="#00e0b0" stroke="#2a2a2a" stroke-width="1.1"/>
<rect x="1543.6" y="1497.3" width="33.2" height="37.3" fill="#00c870" stroke="#2a2a2a" stroke-width="1.1"/>
<rect x="1543.6" y="1460" width="33.2" height="37.3" fill="#00b030" stroke="#2a2a2a" stroke-width="1.1"/>
<rect x="1543.6" y="1422.7" width="33.2" height="37.3" fill="#00a000" stroke="#2a2a2a" stroke-width="1.1"/>
<rect x="1543.6" y="1385.4" width="33.2" height="37.3" fill="#90e000" stroke="#2a2a2a" stroke-width="1.1"/>
<rect x="1543.6" y="1348.1" width="33.2" height="37.3" fill="#ffe400" stroke="#2a2a2a" stroke-width="1.1"/>
<rect x="1543.6" y="1310.8" width="33.2" height="37.3" fill="#ffa300" stroke="#2a2a2a" stroke-width="1.1"/>
<rect x="1543.6" y="1273.5" width="33.2" height="37.3" fill="#ff6000" stroke="#2a2a2a" stroke-width="1.1"/>
<rect x="1543.6" y="1236.2" width="33.2" height="37.3" fill="#ff1000" stroke="#2a2a2a" stroke-width="1.1"/>
<rect x="1543.6" y="1198.9" width="33.2" height="37.3" fill="#ff3030" stroke="#2a2a2a" stroke-width="1.1"/>
<text transform="translate(1586.8 1738.6) scale(0.970 1)" font-size="46" text-anchor="start" fill="#171717">30</text>
<text transform="translate(1586.8 1664) scale(0.970 1)" font-size="46" text-anchor="start" fill="#171717">40</text>
<text transform="translate(1586.8 1589.4) scale(0.970 1)" font-size="46" text-anchor="start" fill="#171717">50</text>
<text transform="translate(1586.8 1514.8) scale(0.970 1)" font-size="46" text-anchor="start" fill="#171717">60</text>
<text transform="translate(1586.8 1440.2) scale(0.970 1)" font-size="46" text-anchor="start" fill="#171717">70</text>
<text transform="translate(1586.8 1365.6) scale(0.970 1)" font-size="46" text-anchor="start" fill="#171717">80</text>
<text transform="translate(1586.8 1291) scale(0.970 1)" font-size="46" text-anchor="start" fill="#171717">90</text></g>
<g><clipPath id="c5"><rect x="1836.3" y="1057" width="472.2" height="783"/></clipPath>
<rect x="1836.3" y="1057" width="472.2" height="783" fill="#0000ff"/>
<g clip-path="url(#c5)" stroke-linejoin="round">
<path d="M1786.3,1033L2348.5,1033L2348.5,1689L2347.6,1697L2345.4,1705L2343.1,1713L2340.8,1721L2338.4,1729L2335.9,1737L2333.4,1745L2330.8,1753L2328.3,1761L2325.7,1769L2323.1,1777L2320.5,1785L2317.7,1793L2314.9,1801L2312,1809L2309.2,1817L2306.5,1825L2304,1833L2302.1,1841L2300.1,1849L2298.1,1857L1786.3,1857Z" fill="#0058ff" stroke="#b4b4b4" stroke-width="0.8"/>
<path d="M1786.3,1033L2348.5,1033L2348.5,1601L2348.1,1609L2345.8,1617L2343.5,1625L2341.2,1633L2338.9,1641L2336.6,1649L2334.4,1657L2332.3,1665L2330.2,1673L2328,1681L2325.8,1689L2323.5,1697L2321.1,1705L2318.5,1713L2315.6,1721L2312.7,1729L2309.8,1737L2307.3,1745L2305,1753L2302.8,1761L2300.5,1769L2298,1777L2295.5,1785L2293,1793L2290.4,1801L2287.7,1809L2285.2,1817L2283.1,1825L2281.3,1833L2279.8,1841L2278.1,1849L2276.5,1857L1786.3,1857Z" fill="#00c0ff" stroke="#b4b4b4" stroke-width="0.8"/>
<path d="M1786.3,1033L2348.5,1033L2348.5,1481L2344.8,1489L2340.3,1497L2336,1505L2331.9,1513L2328,1521L2324.3,1529L2320.9,1537L2317.7,1545L2314.8,1553L2312,1561L2309.2,1569L2306.6,1577L2304.1,1585L2301.6,1593L2299.1,1601L2296.5,1609L2293.8,1617L2291.4,1625L2289.6,1633L2288.2,1641L2286.9,1649L2285.7,1657L2284.7,1665L2283.7,1673L2282.9,1681L2282,1689L2281.2,1697L2280.2,1705L2279,1713L2277.6,1721L2276.2,1729L2274.7,1737L2273.1,1745L2271.6,1753L2270.2,1761L2268.6,1769L2267.1,1777L2265.6,1785L2264.1,1793L2262.9,1801L2261.8,1809L2260.9,1817L2260,1825L2259.3,1833L2258.6,1841L2257.8,1849L2257,1857L1786.3,1857Z" fill="#00f9ec"/>
<path d="M1786.3,1033L2348.5,1033L2348.5,1241L2347.7,1249L2346.2,1257L2344.7,1265L2343.1,1273L2341.5,1281L2339.9,1289L2338.2,1297L2336.5,1305L2334.8,1313L2333,1321L2331.2,1329L2329.4,1337L2327.5,1345L2325.6,1353L2323.7,1361L2321.1,1369L2317.9,1377L2314.3,1385L2310.5,1393L2306.8,1401L2302.6,1409L2298.8,1417L2295.2,1425L2292.4,1433L2290.4,1441L2289,1449L2288.4,1457L2287.9,1465L2287.6,1473L2287.2,1481L2286.7,1489L2286.2,1497L2285.8,1505L2285.3,1513L2284.7,1521L2284.1,1529L2283.4,1537L2282.6,1545L2281.7,1553L2280.6,1561L2279.5,1569L2278.3,1577L2277.1,1585L2275.9,1593L2274.7,1601L2273.4,1609L2272.1,1617L2270.7,1625L2269.3,1633L2267.9,1641L2266.4,1649L2264.8,1657L2263.1,1665L2261.4,1673L2259.8,1681L2258.2,1689L2256.7,1697L2255.3,1705L2253.9,1713L2252.5,1721L2251.2,1729L2249.9,1737L2248.7,1745L2247.5,1753L2246.3,1761L2245.1,1769L2243.9,1777L2242.8,1785L2241.9,1793L2241.1,1801L2240.4,1809L2239.8,1817L2239.3,1825L2238.8,1833L2238.5,1841L2238,1849L2237.4,1857L1786.3,1857Z" fill="#00e0b0" stroke="#b4b4b4" stroke-width="0.8"/>
<path d="M1786.3,1033L2348.5,1033L2348.5,1113L2347.9,1121L2346.7,1129L2345.5,1137L2344.2,1145L2342.8,1153L2341.3,1161L2339.7,1169L2338.1,1177L2336.4,1185L2334.7,1193L2332.9,1201L2331.1,1209L2329.2,1217L2327.3,1225L2325.4,1233L2323.5,1241L2321.6,1249L2319.5,1257L2317,1265L2314.1,1273L2311,1281L2307.9,1289L2304.6,1297L2301.5,1305L2298.8,1313L2296.3,1321L2293.9,1329L2291.4,1337L2289,1345L2286.5,1353L2284.1,1361L2281.9,1369L2279.7,1377L2277.7,1385L2275.7,1393L2273.8,1401L2271.9,1409L2269.8,1417L2267.8,1425L2266.3,1433L2265.4,1441L2264.9,1449L2264.5,1457L2264.1,1465L2263.4,1473L2262.7,1481L2261.9,1489L2261,1497L2260.1,1505L2259.3,1513L2258.5,1521L2257.7,1529L2256.9,1537L2256.2,1545L2255.4,1553L2254.6,1561L2253.7,1569L2252.8,1577L2251.8,1585L2250.8,1593L2249.8,1601L2248.7,1609L2247.7,1617L2246.8,1625L2245.8,1633L2244.9,1641L2243.9,1649L2242.7,1657L2241.5,1665L2240.1,1673L2238.6,1681L2237.1,1689L2235.6,1697L2234.2,1705L2232.7,1713L2231.2,1721L2229.7,1729L2228.2,1737L2226.8,1745L2225.5,1753L2224.4,1761L2223.3,1769L2222.2,1777L2221.3,1785L2220.5,1793L2219.8,1801L2219.3,1809L2218.8,1817L2218.4,1825L2218.1,1833L2217.9,1841L2217.6,1849L2217.2,1857L1786.3,1857Z" fill="#00c870" stroke="#b4b4b4" stroke-width="0.8"/>
<path d="M1786.3,1033L2269.9,1033L2270.1,1041L2270.3,1049L2270.4,1057L2270.6,1065L2270.8,1073L2271,1081L2271.1,1089L2271.1,1097L2271.1,1105L2271.1,1113L2271.1,1121L2271.1,1129L2271.1,1137L2271.1,1145L2271.1,1153L2270.9,1161L2270.7,1169L2270.4,1177L2270,1185L2269.7,1193L2269.3,1201L2268.7,1209L2268,1217L2267.2,1225L2266.3,1233L2265.4,1241L2264.4,1249L2263.5,1257L2262.5,1265L2261.5,1273L2260.4,1281L2259.2,1289L2258.1,1297L2257,1305L2256,1313L2254.8,1321L2253.7,1329L2252.6,1337L2251.6,1345L2250.5,1353L2249.6,1361L2248.7,1369L2247.9,1377L2247.1,1385L2246.4,1393L2245.6,1401L2244.8,1409L2244,1417L2243,1425L2242.8,1433L2242.8,1441L2242.7,1449L2242.5,1457L2242,1465L2241.4,1473L2240.8,1481L2240.1,1489L2239.3,1497L2238.3,1505L2237.3,1513L2236.3,1521L2235.3,1529L2234.4,1537L2233.5,1545L2232.6,1553L2231.6,1561L2230.7,1569L2229.7,1577L2228.7,1585L2227.6,1593L2226.6,1601L2225.6,1609L2224.8,1617L2224.1,1625L2223.6,1633L2223,1641L2222.3,1649L2221.5,1657L2220.3,1665L2218.7,1673L2216.9,1681L2215,1689L2213.1,1697L2211.4,1705L2209.6,1713L2207.8,1721L2206.1,1729L2204.6,1737L2203.3,1745L2202.1,1753L2200.9,1761L2199.9,1769L2199.1,1777L2198.4,1785L2197.9,1793L2197.4,1801L2197,1809L2196.6,1817L2196.3,1825L2196.1,1833L2196,1841L2195.6,1849L2195.3,1857L1786.3,1857Z" fill="#00b030"/>
<path d="M1786.3,1033L2215.6,1033L2215.5,1041L2215.3,1049L2215.1,1057L2215,1065L2214.8,1073L2214.7,1081L2214.5,1089L2214.4,1097L2214.2,1105L2214.1,1113L2214,1121L2213.8,1129L2213.8,1137L2213.7,1145L2213.8,1153L2213.8,1161L2213.9,1169L2214.1,1177L2214.2,1185L2214.3,1193L2214.5,1201L2214.6,1209L2214.7,1217L2214.8,1225L2214.9,1233L2215,1241L2215.1,1249L2215.2,1257L2215.4,1265L2215.5,1273L2215.7,1281L2215.9,1289L2216,1297L2216.2,1305L2216.4,1313L2216.5,1321L2216.7,1329L2216.8,1337L2217,1345L2217.1,1353L2217.3,1361L2217.5,1369L2217.7,1377L2217.9,1385L2218.1,1393L2218.3,1401L2218.6,1409L2219,1417L2219.6,1425L2219.7,1433L2219.5,1441L2219.1,1449L2218.6,1457L2218,1465L2217.4,1473L2216.7,1481L2215.9,1489L2215,1497L2214.1,1505L2213.2,1513L2212.4,1521L2211.6,1529L2210.8,1537L2210,1545L2209.2,1553L2208.4,1561L2207.6,1569L2206.9,1577L2206.1,1585L2205.4,1593L2204.8,1601L2204.2,1609L2203.7,1617L2203.3,1625L2203,1633L2202.6,1641L2202.1,1649L2201.3,1657L2200,1665L2198.4,1673L2196.6,1681L2194.7,1689L2192.9,1697L2190.9,1705L2188.8,1713L2186.5,1721L2184.3,1729L2182,1737L2179.9,1745L2177.9,1753L2175.8,1761L2173.8,1769L2171.8,1777L2169.9,1785L2168,1793L2166.2,1801L2164.4,1809L2162.6,1817L2160.9,1825L2159.2,1833L2157.6,1841L2155.9,1849L2154.1,1857L1786.3,1857Z" fill="#00a000" stroke="#b4b4b4" stroke-width="0.8"/>
<path d="M1786.3,1033L2141.3,1033L2142.3,1041L2143.3,1049L2144.4,1057L2145.4,1065L2146.5,1073L2147.5,1081L2148.4,1089L2149.3,1097L2150.2,1105L2150.9,1113L2151.7,1121L2152.4,1129L2153.2,1137L2154.1,1145L2155,1153L2156,1161L2157.1,1169L2158.2,1177L2159.3,1185L2160.4,1193L2161.5,1201L2162.6,1209L2163.7,1217L2164.7,1225L2165.8,1233L2166.9,1241L2167.9,1249L2169,1257L2170.1,1265L2171.1,1273L2172.2,1281L2173.3,1289L2174.3,1297L2175.4,1305L2176.4,1313L2177.5,1321L2178.5,1329L2179.6,1337L2180.6,1345L2181.7,1353L2182.9,1361L2184,1369L2185.1,1377L2186.3,1385L2187.5,1393L2188.9,1401L2190.6,1409L2193,1417L2195.1,1425L2196.4,1433L2197.2,1441L2197.4,1449L2196.9,1457L2195.9,1465L2194.6,1473L2193.4,1481L2192.6,1489L2191.7,1497L2190.9,1505L2190.1,1513L2189.4,1521L2188.6,1529L2187.8,1537L2187,1545L2186.1,1553L2185.2,1561L2184.3,1569L2183.5,1577L2182.9,1585L2182.4,1593L2182,1601L2181.7,1609L2181.4,1617L2181,1625L2180.5,1633L2179.9,1641L2179.1,1649L2177.9,1657L2176.1,1665L2174,1673L2171.7,1681L2169.3,1689L2167,1697L2164.5,1705L2161.9,1713L2159.1,1721L2156.3,1729L2153.3,1737L2150.2,1745L2146.9,1753L2143.5,1761L2140.1,1769L2136.6,1777L2132.9,1785L2129,1793L2125.2,1801L2121.6,1809L2118.5,1817L2115.9,1825L2113.5,1833L2111.5,1841L2109.1,1849L2106.8,1857L1786.3,1857Z" fill="#90e000" stroke="#b4b4b4" stroke-width="0.8"/>
<path d="M1786.3,1033L2052.7,1033L2056.5,1041L2060.3,1049L2064.1,1057L2067.8,1065L2071.6,1073L2075.5,1081L2079.6,1089L2083.7,1097L2087.5,1105L2091.1,1113L2094.4,1121L2097,1129L2099,1137L2100.8,1145L2102.6,1153L2104.3,1161L2106.3,1169L2108.3,1177L2110.2,1185L2112.2,1193L2114.1,1201L2115.8,1209L2117.4,1217L2119,1225L2120.5,1233L2121.9,1241L2123.4,1249L2125,1257L2126.5,1265L2128,1273L2129.5,1281L2131.1,1289L2132.7,1297L2134.3,1305L2136,1313L2137.7,1321L2139.4,1329L2141.1,1337L2142.9,1345L2144.7,1353L2146.5,1361L2148.4,1369L2150.3,1377L2152.1,1385L2153.9,1393L2156,1401L2158.3,1409L2160.4,1417L2161.7,1425L2162,1433L2161.8,1441L2161.4,1449L2161,1457L2160.4,1465L2159.6,1473L2158.9,1481L2158,1489L2157,1497L2156,1505L2155,1513L2154.3,1521L2153.9,1529L2153.6,1537L2153.3,1545L2153.1,1553L2152.8,1561L2152.6,1569L2152.3,1577L2152,1585L2151.7,1593L2151.4,1601L2151,1609L2150.5,1617L2149.9,1625L2149.2,1633L2148.3,1641L2147.2,1649L2145.9,1657L2144.3,1665L2142.3,1673L2140,1681L2137.5,1689L2134.7,1697L2131.1,1705L2127,1713L2122.9,1721L2118.9,1729L2115.1,1737L2111.3,1745L2107.3,1753L2103.1,1761L2098.6,1769L2093.9,1777L2089.1,1785L2084.2,1793L2079.1,1801L2073.8,1809L2068.2,1817L2062.3,1825L2056.2,1833L2050.3,1841L2044.6,1849L2038.9,1857L1786.3,1857Z" fill="#ffe400"/>
<path d="M1786.3,1033L2025,1033L2026.2,1041L2027.4,1049L2028.5,1057L2029.6,1065L2030.7,1073L2031.9,1081L2033.1,1089L2034.4,1097L2035.9,1105L2037.4,1113L2039,1121L2040.6,1129L2042.2,1137L2043.8,1145L2045.5,1153L2047.1,1161L2048.9,1169L2050.6,1177L2052.4,1185L2054.3,1193L2056.2,1201L2058.1,1209L2060.1,1217L2062.2,1225L2064.2,1233L2066.4,1241L2068.6,1249L2070.9,1257L2073.2,1265L2075.6,1273L2077.9,1281L2080.1,1289L2082.3,1297L2084.4,1305L2086.6,1313L2088.7,1321L2090.8,1329L2093.1,1337L2095.4,1345L2097.8,1353L2100.2,1361L2102.5,1369L2104.8,1377L2106.8,1385L2108.7,1393L2110.7,1401L2112.7,1409L2115.1,1417L2117.8,1425L2119.1,1433L2119.7,1441L2120.2,1449L2120.5,1457L2120.6,1465L2120.6,1473L2120.6,1481L2120.6,1489L2120.6,1497L2120.6,1505L2120.6,1513L2120.6,1521L2120.4,1529L2120.1,1537L2119.7,1545L2119.3,1553L2119,1561L2118.8,1569L2118.8,1577L2119,1585L2119.3,1593L2119.6,1601L2119.8,1609L2120,1617L2119.9,1625L2119.3,1633L2118.2,1641L2116.8,1649L2115.2,1657L2113.4,1665L2110.7,1673L2107.3,1681L2103.5,1689L2099.4,1697L2094.8,1705L2089.5,1713L2083.8,1721L2077.4,1729L2070.3,1737L2063.1,1745L2055.9,1753L2048.5,1761L2041,1769L2033.4,1777L2025.6,1785L2017.6,1793L2009.4,1801L2000.9,1809L1992,1817L1983.3,1825L1974.5,1833L1966.3,1841L1959.5,1849L1952.7,1857L1786.3,1857Z" fill="#ffa300" stroke="#b4b4b4" stroke-width="0.8"/>
<path d="M1786.3,1033L1988.8,1033L1989.1,1041L1989.3,1049L1989.5,1057L1989.7,1065L1989.9,1073L1990.2,1081L1990.4,1089L1990.7,1097L1991,1105L1991.3,1113L1991.7,1121L1992.1,1129L1992.5,1137L1993,1145L1993.5,1153L1994.2,1161L1994.9,1169L1995.7,1177L1996.6,1185L1997.6,1193L1998.6,1201L1999.7,1209L2000.9,1217L2002.2,1225L2003.7,1233L2005.1,1241L2006.6,1249L2008,1257L2009.5,1265L2011,1273L2012.6,1281L2014.2,1289L2015.9,1297L2017.7,1305L2019.6,1313L2021.5,1321L2023.6,1329L2025.8,1337L2028.1,1345L2030.7,1353L2033.5,1361L2036.7,1369L2040.1,1377L2043.5,1385L2046.9,1393L2050.4,1401L2054,1409L2057.6,1417L2061.8,1425L2066.1,1433L2068.2,1441L2069.1,1449L2069.2,1457L2069.2,1465L2069.2,1473L2069.2,1481L2069.2,1489L2069.4,1497L2069.6,1505L2069.9,1513L2070.2,1521L2070.6,1529L2071,1537L2071.5,1545L2072.1,1553L2072.9,1561L2073.7,1569L2074.6,1577L2075.6,1585L2076.6,1593L2077.6,1601L2079.1,1609L2080.7,1617L2081.6,1625L2081.5,1633L2081.1,1641L2080.1,1649L2074.2,1657L2065.6,1665L2056.7,1673L2046.3,1681L2035.7,1689L2025.8,1697L2015.9,1705L2005.8,1713L1995.5,1721L1984.9,1729L1973.1,1737L1960.2,1745L1943.3,1753L1914.3,1761L1843.7,1769L1796.3,1777L1796.3,1857L1786.3,1857Z" fill="#ff6000" stroke="#b4b4b4" stroke-width="0.8"/>
<path d="M1786.3,1033L1796.3,1033L1796.3,1065L1840.9,1073L1891.3,1081L1898.3,1089L1900.3,1097L1900.6,1105L1900.8,1113L1900.9,1121L1901,1129L1901,1137L1901,1145L1901,1153L1901,1161L1901,1169L1901.4,1177L1902.1,1185L1902.8,1193L1904,1201L1905.7,1209L1907.7,1217L1909.7,1225L1911.6,1233L1913.2,1241L1914.9,1249L1916.4,1257L1917.8,1265L1919.1,1273L1920.1,1281L1921,1289L1921.9,1297L1922.7,1305L1923.6,1313L1924.6,1321L1925.6,1329L1926.6,1337L1927.6,1345L1928.6,1353L1929.5,1361L1930.4,1369L1931.3,1377L1932.1,1385L1932.7,1393L1933.2,1401L1933.6,1409L1933.9,1417L1934.3,1425L1934.8,1433L1935.5,1441L1936.6,1449L1938.8,1457L1942,1465L1945.4,1473L1949.3,1481L1953.5,1489L1957.6,1497L1961.2,1505L1964.5,1513L1967.5,1521L1970,1529L1972.3,1537L1974.3,1545L1975.3,1553L1975.2,1561L1974.6,1569L1973.8,1577L1972.3,1585L1969.2,1593L1965,1601L1960.2,1609L1955.2,1617L1949.5,1625L1942.9,1633L1935.7,1641L1928.4,1649L1921.3,1657L1913.3,1665L1903.4,1673L1890.7,1681L1872.1,1689L1822.6,1697L1796.3,1705L1796.3,1857L1786.3,1857Z" fill="#ff1000"/>
<path d="M1836.5,1833.1L1853.1,1835.9L1869.1,1840.2L1836.5,1840.2Z" fill="#ffe400" stroke="#b4b4b4" stroke-width="0.8"/>
<path d="M2348.5,1033L2348.5,1481L2344.8,1489L2340.3,1497L2336,1505L2331.9,1513L2328,1521L2324.3,1529L2320.9,1537L2317.7,1545L2314.8,1553L2312,1561L2309.2,1569L2306.6,1577L2304.1,1585L2301.6,1593L2299.1,1601L2296.5,1609L2293.8,1617L2291.4,1625L2289.6,1633L2288.2,1641L2286.9,1649L2285.7,1657L2284.7,1665L2283.7,1673L2282.9,1681L2282,1689L2281.2,1697L2280.2,1705L2279,1713L2277.6,1721L2276.2,1729L2274.7,1737L2273.1,1745L2271.6,1753L2270.2,1761L2268.6,1769L2267.1,1777L2265.6,1785L2264.1,1793L2262.9,1801L2261.8,1809L2260.9,1817L2260,1825L2259.3,1833L2258.6,1841L2257.8,1849L2257,1857" fill="none" stroke="#000" stroke-width="1.15"/>
<path d="M2269.9,1033L2270.1,1041L2270.3,1049L2270.4,1057L2270.6,1065L2270.8,1073L2271,1081L2271.1,1089L2271.1,1097L2271.1,1105L2271.1,1113L2271.1,1121L2271.1,1129L2271.1,1137L2271.1,1145L2271.1,1153L2270.9,1161L2270.7,1169L2270.4,1177L2270,1185L2269.7,1193L2269.3,1201L2268.7,1209L2268,1217L2267.2,1225L2266.3,1233L2265.4,1241L2264.4,1249L2263.5,1257L2262.5,1265L2261.5,1273L2260.4,1281L2259.2,1289L2258.1,1297L2257,1305L2256,1313L2254.8,1321L2253.7,1329L2252.6,1337L2251.6,1345L2250.5,1353L2249.6,1361L2248.7,1369L2247.9,1377L2247.1,1385L2246.4,1393L2245.6,1401L2244.8,1409L2244,1417L2243,1425L2242.8,1433L2242.8,1441L2242.7,1449M2236.3,1521L2235.3,1529L2234.4,1537L2233.5,1545L2232.6,1553L2231.6,1561L2230.7,1569L2229.7,1577L2228.7,1585L2227.6,1593L2226.6,1601L2225.6,1609L2224.8,1617L2224.1,1625L2223.6,1633L2223,1641L2222.3,1649L2221.5,1657L2220.3,1665L2218.7,1673L2216.9,1681L2215,1689L2213.1,1697L2211.4,1705L2209.6,1713L2207.8,1721L2206.1,1729L2204.6,1737L2203.3,1745L2202.1,1753L2200.9,1761L2199.9,1769L2199.1,1777L2198.4,1785L2197.9,1793L2197.4,1801L2197,1809L2196.6,1817L2196.3,1825L2196.1,1833L2196,1841L2195.6,1849L2195.3,1857" fill="none" stroke="#000" stroke-width="1.15"/>
<path d="M2052.7,1033L2056.5,1041L2060.3,1049L2064.1,1057L2067.8,1065L2071.6,1073L2075.5,1081L2079.6,1089L2083.7,1097L2087.5,1105L2091.1,1113L2094.4,1121L2097,1129M2112.2,1193L2114.1,1201L2115.8,1209L2117.4,1217L2119,1225L2120.5,1233L2121.9,1241L2123.4,1249L2125,1257L2126.5,1265L2128,1273L2129.5,1281L2131.1,1289L2132.7,1297L2134.3,1305L2136,1313L2137.7,1321L2139.4,1329L2141.1,1337L2142.9,1345L2144.7,1353L2146.5,1361L2148.4,1369L2150.3,1377L2152.1,1385L2153.9,1393L2156,1401L2158.3,1409L2160.4,1417L2161.7,1425L2162,1433L2161.8,1441L2161.4,1449M2154.3,1521L2153.9,1529L2153.6,1537L2153.3,1545L2153.1,1553L2152.8,1561L2152.6,1569L2152.3,1577L2152,1585L2151.7,1593L2151.4,1601L2151,1609L2150.5,1617L2149.9,1625L2149.2,1633L2148.3,1641L2147.2,1649L2145.9,1657L2144.3,1665L2142.3,1673L2140,1681L2137.5,1689L2134.7,1697L2131.1,1705L2127,1713L2122.9,1721L2118.9,1729L2115.1,1737L2111.3,1745L2107.3,1753L2103.1,1761L2098.6,1769L2093.9,1777L2089.1,1785L2084.2,1793L2079.1,1801L2073.8,1809L2068.2,1817L2062.3,1825L2056.2,1833L2050.3,1841L2044.6,1849L2038.9,1857" fill="none" stroke="#000" stroke-width="1.15"/>
<path d="M1796.3,1033L1796.3,1065L1840.9,1073L1891.3,1081L1898.3,1089L1900.3,1097L1900.6,1105L1900.8,1113L1900.9,1121L1901,1129L1901,1137L1901,1145L1901,1153L1901,1161L1901,1169L1901.4,1177L1902.1,1185L1902.8,1193L1904,1201M1917.8,1265L1919.1,1273L1920.1,1281L1921,1289L1921.9,1297L1922.7,1305L1923.6,1313L1924.6,1321L1925.6,1329L1926.6,1337L1927.6,1345L1928.6,1353L1929.5,1361L1930.4,1369L1931.3,1377L1932.1,1385L1932.7,1393L1933.2,1401L1933.6,1409L1933.9,1417L1934.3,1425L1934.8,1433L1935.5,1441L1936.6,1449L1938.8,1457L1942,1465L1945.4,1473L1949.3,1481L1953.5,1489L1957.6,1497L1961.2,1505L1964.5,1513L1967.5,1521L1970,1529L1972.3,1537L1974.3,1545L1975.3,1553L1975.2,1561L1974.6,1569L1973.8,1577L1972.3,1585M1935.7,1641L1928.4,1649L1921.3,1657L1913.3,1665L1903.4,1673L1890.7,1681L1872.1,1689L1822.6,1697L1796.3,1705L1796.3,1857" fill="none" stroke="#000" stroke-width="1.15"/>
<text transform="translate(2104.6 1162.2) rotate(75)" font-size="44" text-anchor="middle" fill="#171717" dy="0.33em">75</text>
<text transform="translate(1911.6 1233.1) rotate(78)" font-size="44" text-anchor="middle" fill="#171717" dy="0.33em">90</text>
<text transform="translate(2159.5 1484.9) rotate(-75)" font-size="44" text-anchor="middle" fill="#171717" dy="0.33em">75</text>
<text transform="translate(2241 1486.7) rotate(-85)" font-size="44" text-anchor="middle" fill="#171717" dy="0.33em">60</text>
<text transform="translate(1954.1 1616) rotate(-55)" font-size="44" text-anchor="middle" fill="#171717" dy="0.33em">90</text>
</g>
<rect x="1836.3" y="1057" width="472.2" height="783" fill="none" stroke="#858585" stroke-width="1.5"/>
<path d="M1875.6,1057v-10 M1875.6,1840v10M1954.3,1057v-10 M1954.3,1840v10M2033,1057v-10 M2033,1840v10M2111.8,1057v-10 M2111.8,1840v10M2190.4,1057v-10 M2190.4,1840v10M2269.2,1057v-10 M2269.2,1840v10M1836.3,1057h-10 M2308.5,1057h10M1836.3,1135.3h-10 M2308.5,1135.3h10M1836.3,1213.6h-10 M2308.5,1213.6h10M1836.3,1291.9h-10 M2308.5,1291.9h10M1836.3,1370.2h-10 M2308.5,1370.2h10M1836.3,1448.5h-10 M2308.5,1448.5h10M1836.3,1526.8h-10 M2308.5,1526.8h10M1836.3,1605.1h-10 M2308.5,1605.1h10M1836.3,1683.4h-10 M2308.5,1683.4h10M1836.3,1761.7h-10 M2308.5,1761.7h10M1836.3,1840h-10 M2308.5,1840h10" stroke="#858585" stroke-width="1.4" fill="none"/>
<text transform="translate(1875.6 1892.2) scale(0.980 1)" font-size="46.8" text-anchor="middle" fill="#171717">4</text>
<text transform="translate(1954.3 1892.2) scale(0.980 1)" font-size="46.8" text-anchor="middle" fill="#171717">6</text>
<text transform="translate(2033 1892.2) scale(0.980 1)" font-size="46.8" text-anchor="middle" fill="#171717">8</text>
<text transform="translate(2111.8 1892.2) scale(0.980 1)" font-size="46.8" text-anchor="middle" fill="#171717">10</text>
<text transform="translate(2190.4 1892.2) scale(0.980 1)" font-size="46.8" text-anchor="middle" fill="#171717">12</text>
<text transform="translate(2269.2 1892.2) scale(0.980 1)" font-size="46.8" text-anchor="middle" fill="#171717">14</text>
<text transform="translate(1823.8 1072.6) scale(0.980 1)" font-size="46.8" text-anchor="end" fill="#171717">0</text>
<text transform="translate(1823.8 1150.9) scale(0.980 1)" font-size="46.8" text-anchor="end" fill="#171717">-2</text>
<text transform="translate(1823.8 1229.2) scale(0.980 1)" font-size="46.8" text-anchor="end" fill="#171717">-4</text>
<text transform="translate(1823.8 1307.5) scale(0.980 1)" font-size="46.8" text-anchor="end" fill="#171717">-6</text>
<text transform="translate(1823.8 1385.8) scale(0.980 1)" font-size="46.8" text-anchor="end" fill="#171717">-8</text>
<text transform="translate(1823.8 1464.1) scale(0.980 1)" font-size="46.8" text-anchor="end" fill="#171717">-10</text>
<text transform="translate(1823.8 1542.4) scale(0.980 1)" font-size="46.8" text-anchor="end" fill="#171717">-12</text>
<text transform="translate(1823.8 1620.7) scale(0.980 1)" font-size="46.8" text-anchor="end" fill="#171717">-14</text>
<text transform="translate(1823.8 1699) scale(0.980 1)" font-size="46.8" text-anchor="end" fill="#171717">-16</text>
<text transform="translate(1823.8 1777.3) scale(0.980 1)" font-size="46.8" text-anchor="end" fill="#171717">-18</text>
<text transform="translate(1823.8 1855.6) scale(0.980 1)" font-size="46.8" text-anchor="end" fill="#171717">-20</text>
<text transform="translate(2072.4 1951.7) scale(0.966 1)" font-size="46.9" text-anchor="middle" fill="#171717">Horizontal distance/cm</text>
<text transform="translate(1742.3 1448.5) rotate(-90) scale(0.972 1)" font-size="46.9" text-anchor="middle" fill="#171717">Vertical distance/cm</text>
<text transform="translate(2087 2026.4)" font-size="61" text-anchor="middle" fill="#000">360 s</text>
<rect x="2383.6" y="1683.8" width="33.2" height="37.3" fill="#0000ff" stroke="#2a2a2a" stroke-width="1.1"/>
<rect x="2383.6" y="1646.5" width="33.2" height="37.3" fill="#0058ff" stroke="#2a2a2a" stroke-width="1.1"/>
<rect x="2383.6" y="1609.2" width="33.2" height="37.3" fill="#00c0ff" stroke="#2a2a2a" stroke-width="1.1"/>
<rect x="2383.6" y="1571.9" width="33.2" height="37.3" fill="#00f9ec" stroke="#2a2a2a" stroke-width="1.1"/>
<rect x="2383.6" y="1534.6" width="33.2" height="37.3" fill="#00e0b0" stroke="#2a2a2a" stroke-width="1.1"/>
<rect x="2383.6" y="1497.3" width="33.2" height="37.3" fill="#00c870" stroke="#2a2a2a" stroke-width="1.1"/>
<rect x="2383.6" y="1460" width="33.2" height="37.3" fill="#00b030" stroke="#2a2a2a" stroke-width="1.1"/>
<rect x="2383.6" y="1422.7" width="33.2" height="37.3" fill="#00a000" stroke="#2a2a2a" stroke-width="1.1"/>
<rect x="2383.6" y="1385.4" width="33.2" height="37.3" fill="#90e000" stroke="#2a2a2a" stroke-width="1.1"/>
<rect x="2383.6" y="1348.1" width="33.2" height="37.3" fill="#ffe400" stroke="#2a2a2a" stroke-width="1.1"/>
<rect x="2383.6" y="1310.8" width="33.2" height="37.3" fill="#ffa300" stroke="#2a2a2a" stroke-width="1.1"/>
<rect x="2383.6" y="1273.5" width="33.2" height="37.3" fill="#ff6000" stroke="#2a2a2a" stroke-width="1.1"/>
<rect x="2383.6" y="1236.2" width="33.2" height="37.3" fill="#ff1000" stroke="#2a2a2a" stroke-width="1.1"/>
<rect x="2383.6" y="1198.9" width="33.2" height="37.3" fill="#ff3030" stroke="#2a2a2a" stroke-width="1.1"/>
<text transform="translate(2426.8 1738.6) scale(0.970 1)" font-size="46" text-anchor="start" fill="#171717">30</text>
<text transform="translate(2426.8 1664) scale(0.970 1)" font-size="46" text-anchor="start" fill="#171717">40</text>
<text transform="translate(2426.8 1589.4) scale(0.970 1)" font-size="46" text-anchor="start" fill="#171717">50</text>
<text transform="translate(2426.8 1514.8) scale(0.970 1)" font-size="46" text-anchor="start" fill="#171717">60</text>
<text transform="translate(2426.8 1440.2) scale(0.970 1)" font-size="46" text-anchor="start" fill="#171717">70</text>
<text transform="translate(2426.8 1365.6) scale(0.970 1)" font-size="46" text-anchor="start" fill="#171717">80</text>
<text transform="translate(2426.8 1291) scale(0.970 1)" font-size="46" text-anchor="start" fill="#171717">90</text></g>
<g><clipPath id="c6"><rect x="156" y="2149.5" width="472" height="783"/></clipPath>
<rect x="156" y="2149.5" width="472" height="783" fill="#000066"/>
<g clip-path="url(#c6)" stroke-linejoin="round">
<path d="M106,2125.5L492.8,2125.5L494.1,2133.5L495.4,2141.5L496.6,2149.5L497.5,2157.5L498.7,2165.5L500,2173.5L501.6,2181.5L503.5,2189.5L506,2197.5L508.7,2205.5L511.2,2213.5L513.3,2221.5L515.2,2229.5L517.1,2237.5L518.6,2245.5L519.6,2253.5L520.2,2261.5L520.8,2269.5L521.2,2277.5L521.4,2285.5L521.3,2293.5L520.3,2301.5L518.7,2309.5L517.2,2317.5L516,2325.5L515.1,2333.5L514.5,2341.5L514.8,2349.5L518.4,2357.5L523.6,2365.5L528.1,2373.5L532.3,2381.5L536.5,2389.5L540.2,2397.5L543.4,2405.5L546.3,2413.5L548.9,2421.5L551.1,2429.5L553.1,2437.5L555.1,2445.5L556.8,2453.5L558.1,2461.5L558.8,2469.5L559.4,2477.5L559.9,2485.5L560.3,2493.5L560.4,2501.5L559.8,2509.5L558.8,2517.5L558.3,2525.5L557.9,2533.5L557.5,2541.5L557.1,2549.5L556.7,2557.5L556.3,2565.5L555.8,2573.5L555.4,2581.5L554.9,2589.5L554.3,2597.5L553.6,2605.5L552.7,2613.5L551.6,2621.5L550.3,2629.5L548.7,2637.5L546.9,2645.5L544.9,2653.5L542.7,2661.5L540.1,2669.5L536.9,2677.5L533.2,2685.5L528.9,2693.5L523.7,2701.5L516.5,2709.5L509.1,2717.5L502.8,2725.5L496.9,2733.5L491.9,2741.5L488.6,2749.5L486.1,2757.5L484.2,2765.5L482.7,2773.5L481.6,2781.5L480.8,2789.5L480.2,2797.5L479.5,2805.5L478.5,2813.5L477.5,2821.5L476.4,2829.5L475.2,2837.5L473.9,2845.5L472.4,2853.5L470.7,2861.5L468.4,2869.5L465.8,2877.5L463.1,2885.5L460.8,2893.5L458.6,2901.5L456.4,2909.5L454.3,2917.5L452.3,2925.5L450.4,2933.5L448.3,2941.5L446.2,2949.5L106,2949.5Z" fill="#000090" stroke="#b4b4b4" stroke-width="0.8"/>
<path d="M106,2125.5L420.3,2125.5L421.3,2133.5L422.3,2141.5L423.3,2149.5L424,2157.5L424.9,2165.5L426,2173.5L427.3,2181.5L428.7,2189.5L430.5,2197.5L432.6,2205.5L434.8,2213.5L437,2221.5L439.3,2229.5L441.6,2237.5L444.1,2245.5L446.6,2253.5L449.2,2261.5L451.7,2269.5L454.1,2277.5L456.6,2285.5L459,2293.5L461.4,2301.5L463.6,2309.5L465.7,2317.5L467.7,2325.5L469.6,2333.5L471.6,2341.5L473.5,2349.5L475.5,2357.5L477.4,2365.5L479.5,2373.5L481.7,2381.5L484.1,2389.5L486.6,2397.5L489,2405.5L491.3,2413.5L493.6,2421.5L495.9,2429.5L498,2437.5L499.6,2445.5L500.8,2453.5L501.9,2461.5L502.9,2469.5L503.5,2477.5L503.7,2485.5L503.1,2493.5L502,2501.5L500.9,2509.5L500.2,2517.5L500.2,2525.5L500.2,2533.5L500.2,2541.5L500.2,2549.5L499.9,2557.5L499.4,2565.5L498.6,2573.5L497.7,2581.5L496.8,2589.5L495.8,2597.5L494.6,2605.5L493.2,2613.5L491.6,2621.5L489.7,2629.5L487.6,2637.5L484.7,2645.5L480.9,2653.5L476.5,2661.5L471.8,2669.5L466.7,2677.5L461.1,2685.5L454.7,2693.5L447.7,2701.5L439.6,2709.5L429.4,2717.5L420,2725.5L413.3,2733.5L407.7,2741.5L406.3,2749.5L406.9,2757.5L407.6,2765.5L408.1,2773.5L408.1,2781.5L408.1,2789.5L408.1,2797.5L408,2805.5L407.2,2813.5L405.7,2821.5L403.6,2829.5L401.3,2837.5L398.8,2845.5L395.3,2853.5L391.4,2861.5L387.3,2869.5L383.5,2877.5L379.6,2885.5L375.6,2893.5L371.5,2901.5L367.4,2909.5L363.2,2917.5L358.9,2925.5L354.5,2933.5L350.2,2941.5L345.9,2949.5L106,2949.5Z" fill="#0000c8" stroke="#b4b4b4" stroke-width="0.8"/>
<path d="M106,2125.5L310,2125.5L315.5,2133.5L321.1,2141.5L326.6,2149.5L332.3,2157.5L337.8,2165.5L343.2,2173.5L348.4,2181.5L353.4,2189.5L358.4,2197.5L363.5,2205.5L368.7,2213.5L374,2221.5L379.5,2229.5L384.9,2237.5L390.2,2245.5L395.4,2253.5L400.3,2261.5L405.2,2269.5L410,2277.5L414.6,2285.5L418.9,2293.5L423,2301.5L427,2309.5L430.8,2317.5L434.3,2325.5L437.5,2333.5L440.3,2341.5L442.8,2349.5L445.1,2357.5L447.3,2365.5L449.5,2373.5L451.6,2381.5L453.7,2389.5L455.6,2397.5L457.5,2405.5L459.3,2413.5L461.1,2421.5L462.7,2429.5L464.1,2437.5L465.3,2445.5L466.4,2453.5L467.3,2461.5L468,2469.5L468.3,2477.5L468.3,2485.5L468.3,2493.5L468.3,2501.5L468.3,2509.5L468.3,2517.5L468.2,2525.5L467.9,2533.5L467.5,2541.5L467,2549.5L466.3,2557.5L465.5,2565.5L464.4,2573.5L463,2581.5L461.5,2589.5L459.7,2597.5L457.5,2605.5L454.9,2613.5L452.1,2621.5L448.9,2629.5L445.3,2637.5L441,2645.5L436.3,2653.5L431.2,2661.5L425.7,2669.5L419.5,2677.5L413,2685.5L406.4,2693.5L398.8,2701.5L390.7,2709.5L384,2717.5L380,2725.5L377.2,2733.5L375.2,2741.5L374.2,2749.5L373.6,2757.5L373.3,2765.5L372.8,2773.5L372,2781.5L371.1,2789.5L369.8,2797.5L368.4,2805.5L366.6,2813.5L363.8,2821.5L360.2,2829.5L356.1,2837.5L351.7,2845.5L347.4,2853.5L342.7,2861.5L337.6,2869.5L332.3,2877.5L326.8,2885.5L321.2,2893.5L315.4,2901.5L309.4,2909.5L302.9,2917.5L296,2925.5L288.7,2933.5L281.6,2941.5L274.4,2949.5L106,2949.5Z" fill="#0000ff" stroke="#b4b4b4" stroke-width="0.8"/>
<path d="M106,2125.5L255.1,2125.5L259.4,2133.5L263.8,2141.5L268.2,2149.5L271.4,2157.5L276.3,2165.5L282.8,2173.5L292.5,2181.5L302.6,2189.5L310.5,2197.5L317,2205.5L322.9,2213.5L328.8,2221.5L334.9,2229.5L341.1,2237.5L347.4,2245.5L353.6,2253.5L359.8,2261.5L366.2,2269.5L372.5,2277.5L378.6,2285.5L384.5,2293.5L390.3,2301.5L395.9,2309.5L400.8,2317.5L404.7,2325.5L408.2,2333.5L411.2,2341.5L413.4,2349.5L414.9,2357.5L416,2365.5L417,2373.5L418.1,2381.5L419.5,2389.5L421,2397.5L422.7,2405.5L424.4,2413.5L426,2421.5L427.7,2429.5L429.5,2437.5L431.1,2445.5L432.5,2453.5L433.6,2461.5L434.5,2469.5L435.3,2477.5L435.9,2485.5L436.6,2493.5L437.2,2501.5L437.8,2509.5L438.2,2517.5L438.1,2525.5L437.7,2533.5L437,2541.5L436.3,2549.5L435,2557.5L433.1,2565.5L430.7,2573.5L428.2,2581.5L425.7,2589.5L422.7,2597.5L419.5,2605.5L416,2613.5L412.3,2621.5L408.1,2629.5L403.6,2637.5L399,2645.5L394.2,2653.5L389.1,2661.5L383.9,2669.5L379,2677.5L374.6,2685.5L370.2,2693.5L366.3,2701.5L363.2,2709.5L360.6,2717.5L358.4,2725.5L356.5,2733.5L354.9,2741.5L353.6,2749.5L352.1,2757.5L350.3,2765.5L348.2,2773.5L345.8,2781.5L343,2789.5L340,2797.5L336.3,2805.5L331.8,2813.5L326.5,2821.5L320.9,2829.5L315.1,2837.5L309.2,2845.5L302.7,2853.5L295.9,2861.5L289.1,2869.5L282.5,2877.5L276.1,2885.5L269.8,2893.5L263.6,2901.5L257.6,2909.5L251.9,2917.5L246.4,2925.5L241,2933.5L235.5,2941.5L229.9,2949.5L106,2949.5Z" fill="#0023ff" stroke="#b4b4b4" stroke-width="0.8"/>
<path d="M106,2125.5L251.4,2125.5L253,2133.5L254.5,2141.5L256,2149.5L257.3,2157.5L259.5,2165.5L263.4,2173.5L268,2181.5L272.8,2189.5L278.1,2197.5L283.7,2205.5L289.8,2213.5L295.2,2221.5L299.7,2229.5L303.7,2237.5L307.7,2245.5L312,2253.5L316.5,2261.5L321.1,2269.5L325.5,2277.5L329.6,2285.5L333.1,2293.5L336.7,2301.5L340.8,2309.5L345.7,2317.5L351.3,2325.5L357.8,2333.5L365.4,2341.5L371.1,2349.5L374.6,2357.5L375.5,2365.5L376,2373.5L376.7,2381.5L377.9,2389.5L379.4,2397.5L380.8,2405.5L382.4,2413.5L384,2421.5L385.6,2429.5L387.2,2437.5L388.8,2445.5L390.4,2453.5L392,2461.5L393.4,2469.5L394.9,2477.5L396.9,2485.5L400.4,2493.5L404.4,2501.5L407.5,2509.5L409.7,2517.5L409.6,2525.5L408.7,2533.5L407.4,2541.5L405.5,2549.5L403.1,2557.5L400.3,2565.5L397.3,2573.5L393.9,2581.5L389.8,2589.5L385.5,2597.5L381.2,2605.5L377.3,2613.5L373.5,2621.5L369.9,2629.5L366.4,2637.5L363.2,2645.5L360.3,2653.5L357.6,2661.5L355.1,2669.5L352.7,2677.5L350.3,2685.5L348,2693.5L345.9,2701.5L343.9,2709.5L342.1,2717.5L340.4,2725.5L338.7,2733.5L336.7,2741.5L334.5,2749.5L332.1,2757.5L329.3,2765.5L326,2773.5L322,2781.5L317.4,2789.5L312.2,2797.5L306.4,2805.5L299.4,2813.5L291.9,2821.5L284.3,2829.5L277.1,2837.5L269.9,2845.5L262.7,2853.5L255.5,2861.5L248.3,2869.5L240.9,2877.5L233.4,2885.5L226.2,2893.5L219.4,2901.5L213.2,2909.5L207.4,2917.5L201.9,2925.5L196.7,2933.5L191.1,2941.5L185.4,2949.5L106,2949.5Z" fill="#0046ff"/>
<path d="M106,2125.5L238,2125.5L239.9,2133.5L241.8,2141.5L243.6,2149.5L245,2157.5L246.9,2165.5L249.2,2173.5L252,2181.5L255.7,2189.5L259.9,2197.5L264.8,2205.5L270.4,2213.5L275.7,2221.5L280.7,2229.5L285.5,2237.5L290.6,2245.5L296,2253.5L301.3,2261.5L306.4,2269.5L311.4,2277.5L316.2,2285.5L320.9,2293.5L325.6,2301.5L330.3,2309.5L335.4,2317.5L339.9,2325.5L343.6,2333.5L345.6,2341.5L346.1,2349.5L346.9,2357.5L348.2,2365.5L349.4,2373.5L350.5,2381.5L351.5,2389.5L352.6,2397.5L353.9,2405.5L355.3,2413.5L356.6,2421.5L358,2429.5L359.5,2437.5L360.8,2445.5L361.8,2453.5L362.6,2461.5L363.4,2469.5L364.1,2477.5L365,2485.5L365.9,2493.5L366.6,2501.5L367,2509.5L367.4,2517.5L367.6,2525.5L367.3,2533.5L365.6,2541.5L363.5,2549.5L361.3,2557.5L358.8,2565.5L356.2,2573.5L353.8,2581.5L351.6,2589.5L349.6,2597.5L347.7,2605.5L345.7,2613.5L343.7,2621.5L341.7,2629.5L339.6,2637.5L337.6,2645.5L335.7,2653.5L334,2661.5L332.4,2669.5L330.9,2677.5L329.3,2685.5L327.6,2693.5L326,2701.5L324.3,2709.5L322.5,2717.5L320.2,2725.5L317.7,2733.5L314.6,2741.5L311,2749.5L306.3,2757.5L300.3,2765.5L293.5,2773.5L286.4,2781.5L279.1,2789.5L271.3,2797.5L263.1,2805.5L254.7,2813.5L246.2,2821.5L237.4,2829.5L228.4,2837.5L219.5,2845.5L210.9,2853.5L202.4,2861.5L193.9,2869.5L185.8,2877.5L178.5,2885.5L172.2,2893.5L166.9,2901.5L161.8,2909.5L156,2917.5L149.2,2925.5L141.8,2933.5L133.7,2941.5L125.8,2949.5L106,2949.5Z" fill="#006dff" stroke="#b4b4b4" stroke-width="0.8"/>
<path d="M106,2125.5L225.5,2125.5L227.1,2133.5L228.8,2141.5L230.4,2149.5L231.7,2157.5L233.3,2165.5L235.2,2173.5L237.3,2181.5L240,2189.5L242.9,2197.5L245.8,2205.5L248.9,2213.5L252.1,2221.5L255.5,2229.5L259.2,2237.5L263,2245.5L266.8,2253.5L270.4,2261.5L274,2269.5L277.8,2277.5L282.1,2285.5L287.2,2293.5L291.6,2301.5L295.2,2309.5L297.7,2317.5L298.9,2325.5L300,2333.5L302.3,2341.5L304.8,2349.5L307.2,2357.5L309.3,2365.5L311.1,2373.5L312.7,2381.5L313.7,2389.5L314.4,2397.5L314.9,2405.5L315.3,2413.5L315.7,2421.5L316,2429.5L316.2,2437.5L316.2,2445.5L315.7,2453.5L315,2461.5L314.3,2469.5L313.3,2477.5L312.2,2485.5L311,2493.5L309.8,2501.5L308.5,2509.5L307.1,2517.5L305.5,2525.5L305.3,2533.5L305.3,2541.5L305.3,2549.5L305.3,2557.5L305,2565.5L304.4,2573.5L303.9,2581.5L303.6,2589.5L303.6,2597.5L303.6,2605.5L303.6,2613.5L303.6,2621.5L303.6,2629.5L303.6,2637.5L303.6,2645.5L303.6,2653.5L303.6,2661.5L303.6,2669.5L303.6,2677.5L303.6,2685.5L303.5,2693.5L303.4,2701.5L303,2709.5L302.4,2717.5L301.8,2725.5L300.5,2733.5L298.3,2741.5L295.2,2749.5L289.4,2757.5L281.6,2765.5L273.3,2773.5L264.8,2781.5L255.5,2789.5L245.7,2797.5L235.5,2805.5L225.3,2813.5L214.5,2821.5L203.5,2829.5L192.8,2837.5L182.9,2845.5L174,2853.5L165.3,2861.5L155.8,2869.5L145.4,2877.5L134.2,2885.5L122.4,2893.5L116,2901.5L116,2949.5L106,2949.5Z" fill="#0096ff" stroke="#b4b4b4" stroke-width="0.8"/>
<path d="M106,2125.5L213,2125.5L214.4,2133.5L215.7,2141.5L217.1,2149.5L218.2,2157.5L219.5,2165.5L221.1,2173.5L222.8,2181.5L224.9,2189.5L227.2,2197.5L229.6,2205.5L232.2,2213.5L234.9,2221.5L237.8,2229.5L240.9,2237.5L244.3,2245.5L247.4,2253.5L250.3,2261.5L253.1,2269.5L255.6,2277.5L258,2285.5L260.1,2293.5L262.2,2301.5L264.3,2309.5L267.1,2317.5L269.2,2325.5L270.2,2333.5L270.9,2341.5L271.6,2349.5L272.9,2357.5L275.2,2365.5L277.1,2373.5L278.9,2381.5L280.1,2389.5L280.8,2397.5L281.4,2405.5L281.7,2413.5L281.7,2421.5L281.7,2429.5L281.7,2437.5L281.6,2445.5L281.2,2453.5L280.5,2461.5L279.7,2469.5L278.4,2477.5L276.7,2485.5L274.8,2493.5L272.9,2501.5L270.8,2509.5L268.5,2517.5L265.4,2525.5L263.9,2533.5L264.2,2541.5L264.7,2549.5L265.5,2557.5L266.8,2565.5L268.3,2573.5L269.6,2581.5L270.7,2589.5L271.8,2597.5L272.8,2605.5L273.8,2613.5L274.7,2621.5L275.5,2629.5L276.3,2637.5L276.9,2645.5L277.5,2653.5L278.2,2661.5L278.8,2669.5L279.7,2677.5L280.6,2685.5L281.5,2693.5L282.1,2701.5L282.3,2709.5L282.3,2717.5L282.3,2725.5L282.3,2733.5L278.8,2741.5L272.3,2749.5L263.6,2757.5L251.4,2765.5L238.6,2773.5L226.8,2781.5L214.9,2789.5L202.8,2797.5L190.4,2805.5L177.8,2813.5L164.8,2821.5L151.3,2829.5L137.4,2837.5L123,2845.5L116,2853.5L116,2949.5L106,2949.5Z" fill="#00c0ff" stroke="#b4b4b4" stroke-width="0.8"/>
<path d="M106,2125.5L200.6,2125.5L201.6,2133.5L202.7,2141.5L203.8,2149.5L204.7,2157.5L205.8,2165.5L207,2173.5L208.3,2181.5L209.9,2189.5L211.6,2197.5L213.4,2205.5L215.5,2213.5L217.7,2221.5L220,2229.5L222.5,2237.5L225.3,2245.5L228,2253.5L230.7,2261.5L233.5,2269.5L236.1,2277.5L238.6,2285.5L240.9,2293.5L243.1,2301.5L244.7,2309.5L246,2317.5L247.1,2325.5L247.9,2333.5L248.6,2341.5L249.1,2349.5L249.6,2357.5L250.1,2365.5L250.6,2373.5L251.1,2381.5L251.7,2389.5L252.4,2397.5L253,2405.5L253.3,2413.5L253.4,2421.5L253.4,2429.5L253.4,2437.5L253.2,2445.5L252.5,2453.5L251.5,2461.5L250.5,2469.5L249.3,2477.5L247.9,2485.5L246.4,2493.5L244.9,2501.5L243.3,2509.5L241.6,2517.5L239.7,2525.5L238.1,2533.5L238,2541.5L238,2549.5L238,2557.5L237.9,2565.5L237.6,2573.5L237.2,2581.5L236.8,2589.5L236.5,2597.5L236.3,2605.5L236.3,2613.5L236.3,2621.5L236.3,2629.5L236.3,2637.5L236.3,2645.5L236.3,2653.5L236.3,2661.5L236.5,2669.5L237,2677.5L237.6,2685.5L238,2693.5L238,2701.5L237.6,2709.5L236.8,2717.5L234.7,2725.5L226.2,2733.5L216.4,2741.5L206.4,2749.5L195.2,2757.5L182.8,2765.5L168.8,2773.5L154.6,2781.5L140.5,2789.5L126.3,2797.5L116,2805.5L116,2949.5L106,2949.5Z" fill="#00e4ff" stroke="#b4b4b4" stroke-width="0.8"/>
<path d="M106,2125.5L186.8,2125.5L188.1,2133.5L189.3,2141.5L190.5,2149.5L191.7,2157.5L193,2165.5L194.4,2173.5L195.9,2181.5L197.6,2189.5L199.5,2197.5L201.5,2205.5L203.7,2213.5L206.1,2221.5L208.6,2229.5L211.4,2237.5L214.1,2245.5L217,2253.5L219.9,2261.5L222,2269.5L223.7,2277.5L225.3,2285.5L226.7,2293.5L228.1,2301.5L229.6,2309.5L231.1,2317.5L232.4,2325.5L233.5,2333.5L234.3,2341.5L234.8,2349.5L235.3,2357.5L236,2365.5L236.9,2373.5L237.8,2381.5L238.4,2389.5L238.8,2397.5L239,2405.5L239.2,2413.5L239.1,2421.5L238.9,2429.5L238.5,2437.5L238,2445.5L237,2453.5L235.8,2461.5L234.4,2469.5L232.7,2477.5L230.8,2485.5L228.7,2493.5L226.8,2501.5L224.9,2509.5L222.6,2517.5L219.2,2525.5L216,2533.5L214.5,2541.5L213,2549.5L211.4,2557.5L209.7,2565.5L208.1,2573.5L206.6,2581.5L205.2,2589.5L204,2597.5L202.8,2605.5L201.7,2613.5L200.5,2621.5L199.4,2629.5L198.4,2637.5L197.2,2645.5L195.8,2653.5L193.9,2661.5L191.6,2669.5L188.8,2677.5L185.6,2685.5L181.5,2693.5L176.6,2701.5L171.3,2709.5L165.4,2717.5L158.3,2725.5L149.2,2733.5L137.7,2741.5L124.3,2749.5L116,2757.5L116,2949.5L106,2949.5Z" fill="#00ffff"/>
<path d="M106,2125.5L174.8,2125.5L175.6,2133.5L176.4,2141.5L177.2,2149.5L177.9,2157.5L178.7,2165.5L179.6,2173.5L180.7,2181.5L181.9,2189.5L183.4,2197.5L185.1,2205.5L187.1,2213.5L189.4,2221.5L191.6,2229.5L193.7,2237.5L195.9,2245.5L198,2253.5L200.2,2261.5L202.4,2269.5L204.5,2277.5L206.4,2285.5L208.1,2293.5L209.7,2301.5L211,2309.5L212.2,2317.5L213.3,2325.5L214.2,2333.5L215.1,2341.5L215.9,2349.5L216.7,2357.5L217.5,2365.5L218.4,2373.5L219.2,2381.5L219.8,2389.5L220.3,2397.5L220.6,2405.5L220.5,2413.5L220.2,2421.5L219.8,2429.5L219.3,2437.5L218.3,2445.5L217.1,2453.5L215.6,2461.5L213.7,2469.5L211.4,2477.5L209,2485.5L206.5,2493.5L203.8,2501.5L201,2509.5L198.4,2517.5L195.7,2525.5L193,2533.5L190.4,2541.5L187.8,2549.5L185.3,2557.5L182.8,2565.5L180.5,2573.5L178.4,2581.5L176.4,2589.5L173.9,2597.5L171,2605.5L167.8,2613.5L164.4,2621.5L160.7,2629.5L156.2,2637.5L150.8,2645.5L144.5,2653.5L137.3,2661.5L129.4,2669.5L122.7,2677.5L116.1,2685.5L116,2693.5L116,2949.5L106,2949.5Z" fill="#00f4e0" stroke="#b4b4b4" stroke-width="0.8"/>
<path d="M106,2125.5L163.2,2125.5L163.7,2133.5L164.3,2141.5L164.8,2149.5L165.1,2157.5L165.7,2165.5L166.4,2173.5L167.3,2181.5L168.6,2189.5L170.1,2197.5L171.7,2205.5L173.5,2213.5L175.4,2221.5L177.4,2229.5L179.5,2237.5L181.7,2245.5L183.8,2253.5L186,2261.5L188.2,2269.5L190.4,2277.5L192.2,2285.5L194,2293.5L195.6,2301.5L196.8,2309.5L197.8,2317.5L198.5,2325.5L199.2,2333.5L199.9,2341.5L200.6,2349.5L201,2357.5L201.1,2365.5L201.1,2373.5L201.1,2381.5L201.1,2389.5L200.8,2397.5L200.2,2405.5L199.4,2413.5L198.5,2421.5L197.2,2429.5L195.6,2437.5L193.9,2445.5L191.9,2453.5L189.6,2461.5L187.3,2469.5L184.7,2477.5L181.9,2485.5L179.2,2493.5L176.5,2501.5L173.9,2509.5L171.2,2517.5L168.5,2525.5L165.8,2533.5L163.1,2541.5L160.6,2549.5L158.4,2557.5L155.8,2565.5L152.3,2573.5L148.1,2581.5L143.7,2589.5L139.7,2597.5L135.7,2605.5L131.7,2613.5L127.7,2621.5L123.7,2629.5L119.7,2637.5L116,2645.5L116,2949.5L106,2949.5Z" fill="#00eac8" stroke="#b4b4b4" stroke-width="0.8"/>
<path d="M106,2125.5L116,2125.5L116,2181.5L116.8,2189.5L121.2,2197.5L125.8,2205.5L130.4,2213.5L135.2,2221.5L140,2229.5L144.8,2237.5L149.7,2245.5L154.7,2253.5L159.6,2261.5L164.5,2269.5L169.4,2277.5L174.4,2285.5L179.2,2293.5L183,2301.5L185.8,2309.5L188,2317.5L189.8,2325.5L191.2,2333.5L192.1,2341.5L192.8,2349.5L193,2357.5L192.7,2365.5L191.9,2373.5L190.7,2381.5L189.1,2389.5L186.2,2397.5L182.7,2405.5L178.6,2413.5L174.4,2421.5L170,2429.5L165.5,2437.5L160.9,2445.5L156.1,2453.5L151.1,2461.5L146.1,2469.5L140.9,2477.5L135.6,2485.5L130.3,2493.5L125.1,2501.5L119.8,2509.5L116,2517.5L116,2949.5L106,2949.5Z" fill="#00e0b0" stroke="#b4b4b4" stroke-width="0.8"/>
<path d="M106,2125.5L116,2125.5L116,2237.5L117.8,2245.5L125.5,2253.5L133.1,2261.5L140.8,2269.5L148.4,2277.5L156.7,2285.5L164.4,2293.5L170.5,2301.5L174.8,2309.5L178.3,2317.5L181,2325.5L183.2,2333.5L184.4,2341.5L185,2349.5L184.9,2357.5L184.3,2365.5L182.7,2373.5L180.3,2381.5L177,2389.5L171.7,2397.5L165.2,2405.5L157.8,2413.5L150.3,2421.5L142.9,2429.5L135.4,2437.5L127.9,2445.5L120.3,2453.5L116,2461.5L116,2949.5L106,2949.5Z" fill="#00d696" stroke="#b4b4b4" stroke-width="0.8"/>
<path d="M106,2125.5L116,2125.5L116,2261.5L117.1,2269.5L127.5,2277.5L138.9,2285.5L149.6,2293.5L157.9,2301.5L163.9,2309.5L168.6,2317.5L172.3,2325.5L175.1,2333.5L176.6,2341.5L177.2,2349.5L176.8,2357.5L175.9,2365.5L173.4,2373.5L170,2381.5L165,2389.5L157.1,2397.5L147.8,2405.5L137,2413.5L126.1,2421.5L116,2429.5L116,2949.5L106,2949.5Z" fill="#00cd7d"/>
<path d="M251.4,2125.5L253,2133.5L254.5,2141.5L256,2149.5L257.3,2157.5L259.5,2165.5L263.4,2173.5L268,2181.5L272.8,2189.5L278.1,2197.5L283.7,2205.5L289.8,2213.5L295.2,2221.5M329.6,2285.5L333.1,2293.5L336.7,2301.5L340.8,2309.5L345.7,2317.5L351.3,2325.5L357.8,2333.5L365.4,2341.5L371.1,2349.5L374.6,2357.5L375.5,2365.5L376,2373.5L376.7,2381.5L377.9,2389.5L379.4,2397.5L380.8,2405.5L382.4,2413.5L384,2421.5L385.6,2429.5L387.2,2437.5L388.8,2445.5L390.4,2453.5L392,2461.5L393.4,2469.5L394.9,2477.5L396.9,2485.5L400.4,2493.5L404.4,2501.5L407.5,2509.5L409.7,2517.5L409.6,2525.5L408.7,2533.5L407.4,2541.5M381.2,2605.5L377.3,2613.5L373.5,2621.5L369.9,2629.5L366.4,2637.5L363.2,2645.5L360.3,2653.5L357.6,2661.5L355.1,2669.5L352.7,2677.5L350.3,2685.5L348,2693.5L345.9,2701.5L343.9,2709.5L342.1,2717.5L340.4,2725.5L338.7,2733.5L336.7,2741.5L334.5,2749.5L332.1,2757.5L329.3,2765.5L326,2773.5L322,2781.5L317.4,2789.5L312.2,2797.5L306.4,2805.5L299.4,2813.5L291.9,2821.5L284.3,2829.5L277.1,2837.5L269.9,2845.5L262.7,2853.5L255.5,2861.5L248.3,2869.5L240.9,2877.5L233.4,2885.5L226.2,2893.5L219.4,2901.5L213.2,2909.5L207.4,2917.5L201.9,2925.5L196.7,2933.5L191.1,2941.5L185.4,2949.5" fill="none" stroke="#000" stroke-width="1.15"/>
<path d="M186.8,2125.5L188.1,2133.5L189.3,2141.5L190.5,2149.5L191.7,2157.5L193,2165.5L194.4,2173.5L195.9,2181.5L197.6,2189.5L199.5,2197.5L201.5,2205.5L203.7,2213.5L206.1,2221.5L208.6,2229.5L211.4,2237.5L214.1,2245.5L217,2253.5L219.9,2261.5L222,2269.5M233.5,2333.5L234.3,2341.5L234.8,2349.5L235.3,2357.5L236,2365.5L236.9,2373.5L237.8,2381.5L238.4,2389.5L238.8,2397.5L239,2405.5L239.2,2413.5L239.1,2421.5L238.9,2429.5L238.5,2437.5L238,2445.5L237,2453.5L235.8,2461.5L234.4,2469.5L232.7,2477.5L230.8,2485.5L228.7,2493.5L226.8,2501.5L224.9,2509.5L222.6,2517.5L219.2,2525.5L216,2533.5L214.5,2541.5L213,2549.5L211.4,2557.5L209.7,2565.5L208.1,2573.5L206.6,2581.5L205.2,2589.5L204,2597.5L202.8,2605.5L201.7,2613.5L200.5,2621.5L199.4,2629.5L198.4,2637.5L197.2,2645.5L195.8,2653.5L193.9,2661.5L191.6,2669.5L188.8,2677.5L185.6,2685.5L181.5,2693.5L176.6,2701.5L171.3,2709.5L165.4,2717.5L158.3,2725.5L149.2,2733.5L137.7,2741.5L124.3,2749.5L116,2757.5L116,2949.5" fill="none" stroke="#000" stroke-width="1.15"/>
<path d="M116,2125.5L116,2261.5L117.1,2269.5L127.5,2277.5L138.9,2285.5L149.6,2293.5L157.9,2301.5L163.9,2309.5L168.6,2317.5L172.3,2325.5L175.1,2333.5L176.6,2341.5L177.2,2349.5L176.8,2357.5L175.9,2365.5L173.4,2373.5L170,2381.5L165,2389.5L157.1,2397.5L147.8,2405.5L137,2413.5L126.1,2421.5L116,2429.5L116,2949.5" fill="none" stroke="#000" stroke-width="1.15"/>
<text transform="translate(310.7 2252.2) rotate(52)" font-size="44" text-anchor="middle" fill="#171717" dy="0.33em">34</text>
<text transform="translate(225.6 2302.5) rotate(80)" font-size="44" text-anchor="middle" fill="#171717" dy="0.33em">44</text>
<text transform="translate(397.4 2573.1) rotate(-62)" font-size="44" text-anchor="middle" fill="#171717" dy="0.33em">34</text>
</g>
<rect x="156" y="2149.5" width="472" height="783" fill="none" stroke="#858585" stroke-width="1.5"/>
<path d="M195.3,2149.5v-10 M195.3,2932.5v10M274,2149.5v-10 M274,2932.5v10M352.7,2149.5v-10 M352.7,2932.5v10M431.3,2149.5v-10 M431.3,2932.5v10M510,2149.5v-10 M510,2932.5v10M588.7,2149.5v-10 M588.7,2932.5v10M156,2149.5h-10 M628,2149.5h10M156,2227.8h-10 M628,2227.8h10M156,2306.1h-10 M628,2306.1h10M156,2384.4h-10 M628,2384.4h10M156,2462.7h-10 M628,2462.7h10M156,2541h-10 M628,2541h10M156,2619.3h-10 M628,2619.3h10M156,2697.6h-10 M628,2697.6h10M156,2775.9h-10 M628,2775.9h10M156,2854.2h-10 M628,2854.2h10M156,2932.5h-10 M628,2932.5h10" stroke="#858585" stroke-width="1.4" fill="none"/>
<text transform="translate(195.3 2984.7) scale(0.980 1)" font-size="46.8" text-anchor="middle" fill="#171717">4</text>
<text transform="translate(274 2984.7) scale(0.980 1)" font-size="46.8" text-anchor="middle" fill="#171717">6</text>
<text transform="translate(352.7 2984.7) scale(0.980 1)" font-size="46.8" text-anchor="middle" fill="#171717">8</text>
<text transform="translate(431.3 2984.7) scale(0.980 1)" font-size="46.8" text-anchor="middle" fill="#171717">10</text>
<text transform="translate(510 2984.7) scale(0.980 1)" font-size="46.8" text-anchor="middle" fill="#171717">12</text>
<text transform="translate(588.7 2984.7) scale(0.980 1)" font-size="46.8" text-anchor="middle" fill="#171717">14</text>
<text transform="translate(143.5 2165.1) scale(0.980 1)" font-size="46.8" text-anchor="end" fill="#171717">0</text>
<text transform="translate(143.5 2243.4) scale(0.980 1)" font-size="46.8" text-anchor="end" fill="#171717">-2</text>
<text transform="translate(143.5 2321.7) scale(0.980 1)" font-size="46.8" text-anchor="end" fill="#171717">-4</text>
<text transform="translate(143.5 2400) scale(0.980 1)" font-size="46.8" text-anchor="end" fill="#171717">-6</text>
<text transform="translate(143.5 2478.3) scale(0.980 1)" font-size="46.8" text-anchor="end" fill="#171717">-8</text>
<text transform="translate(143.5 2556.6) scale(0.980 1)" font-size="46.8" text-anchor="end" fill="#171717">-10</text>
<text transform="translate(143.5 2634.9) scale(0.980 1)" font-size="46.8" text-anchor="end" fill="#171717">-12</text>
<text transform="translate(143.5 2713.2) scale(0.980 1)" font-size="46.8" text-anchor="end" fill="#171717">-14</text>
<text transform="translate(143.5 2791.5) scale(0.980 1)" font-size="46.8" text-anchor="end" fill="#171717">-16</text>
<text transform="translate(143.5 2869.8) scale(0.980 1)" font-size="46.8" text-anchor="end" fill="#171717">-18</text>
<text transform="translate(143.5 2948.1) scale(0.980 1)" font-size="46.8" text-anchor="end" fill="#171717">-20</text>
<text transform="translate(392 3044.2) scale(0.966 1)" font-size="46.9" text-anchor="middle" fill="#171717">Horizontal distance/cm</text>
<text transform="translate(62 2541) rotate(-90) scale(0.972 1)" font-size="46.9" text-anchor="middle" fill="#171717">Vertical distance/cm</text>
<text transform="translate(406.6 3118.9)" font-size="61" text-anchor="middle" fill="#000">60 s</text>
<rect x="703.6" y="2785.1" width="33.2" height="29" fill="#000066" stroke="#2a2a2a" stroke-width="1.1"/>
<rect x="703.6" y="2756" width="33.2" height="29" fill="#000090" stroke="#2a2a2a" stroke-width="1.1"/>
<rect x="703.6" y="2727" width="33.2" height="29" fill="#0000c8" stroke="#2a2a2a" stroke-width="1.1"/>
<rect x="703.6" y="2698" width="33.2" height="29" fill="#0000ff" stroke="#2a2a2a" stroke-width="1.1"/>
<rect x="703.6" y="2669" width="33.2" height="29" fill="#0023ff" stroke="#2a2a2a" stroke-width="1.1"/>
<rect x="703.6" y="2639.9" width="33.2" height="29" fill="#0046ff" stroke="#2a2a2a" stroke-width="1.1"/>
<rect x="703.6" y="2610.9" width="33.2" height="29" fill="#006dff" stroke="#2a2a2a" stroke-width="1.1"/>
<rect x="703.6" y="2581.9" width="33.2" height="29" fill="#0096ff" stroke="#2a2a2a" stroke-width="1.1"/>
<rect x="703.6" y="2552.8" width="33.2" height="29" fill="#00c0ff" stroke="#2a2a2a" stroke-width="1.1"/>
<rect x="703.6" y="2523.8" width="33.2" height="29" fill="#00e4ff" stroke="#2a2a2a" stroke-width="1.1"/>
<rect x="703.6" y="2494.8" width="33.2" height="29" fill="#00ffff" stroke="#2a2a2a" stroke-width="1.1"/>
<rect x="703.6" y="2465.8" width="33.2" height="29" fill="#00f4e0" stroke="#2a2a2a" stroke-width="1.1"/>
<rect x="703.6" y="2436.7" width="33.2" height="29" fill="#00eac8" stroke="#2a2a2a" stroke-width="1.1"/>
<rect x="703.6" y="2407.7" width="33.2" height="29" fill="#00e0b0" stroke="#2a2a2a" stroke-width="1.1"/>
<rect x="703.6" y="2378.7" width="33.2" height="29" fill="#00d696" stroke="#2a2a2a" stroke-width="1.1"/>
<rect x="703.6" y="2349.7" width="33.2" height="29" fill="#00cd7d" stroke="#2a2a2a" stroke-width="1.1"/>
<rect x="703.6" y="2320.6" width="33.2" height="29" fill="#00c363" stroke="#2a2a2a" stroke-width="1.1"/>
<rect x="703.6" y="2291.6" width="33.2" height="29" fill="#00ba4a" stroke="#2a2a2a" stroke-width="1.1"/>
<text transform="translate(746.8 2831.6) scale(0.970 1)" font-size="46" text-anchor="start" fill="#171717">24</text>
<text transform="translate(746.8 2773.5) scale(0.970 1)" font-size="46" text-anchor="start" fill="#171717">28</text>
<text transform="translate(746.8 2715.5) scale(0.970 1)" font-size="46" text-anchor="start" fill="#171717">32</text>
<text transform="translate(746.8 2657.4) scale(0.970 1)" font-size="46" text-anchor="start" fill="#171717">36</text>
<text transform="translate(746.8 2599.4) scale(0.970 1)" font-size="46" text-anchor="start" fill="#171717">40</text>
<text transform="translate(746.8 2541.3) scale(0.970 1)" font-size="46" text-anchor="start" fill="#171717">44</text>
<text transform="translate(746.8 2483.3) scale(0.970 1)" font-size="46" text-anchor="start" fill="#171717">48</text>
<text transform="translate(746.8 2425.2) scale(0.970 1)" font-size="46" text-anchor="start" fill="#171717">52</text>
<text transform="translate(746.8 2367.2) scale(0.970 1)" font-size="46" text-anchor="start" fill="#171717">56</text></g>
<g><clipPath id="c7"><rect x="996" y="2149.5" width="472" height="783"/></clipPath>
<rect x="996" y="2149.5" width="472" height="783" fill="#00007b"/>
<g clip-path="url(#c7)" stroke-linejoin="round">
<path d="M946,2125.5L1492.3,2125.5L1484.3,2133.5L1476,2141.5L1468.3,2149.5L1461.8,2157.5L1455.9,2165.5L1450.1,2173.5L1444.5,2181.5L1439,2189.5L1433.4,2197.5L1427.8,2205.5L1421.9,2213.5L1416.1,2221.5L1410.5,2229.5L1405.6,2237.5L1401.1,2245.5L1396.8,2253.5L1392.9,2261.5L1389.5,2269.5L1386.5,2277.5L1383.7,2285.5L1381.3,2293.5L1379.2,2301.5L1377.5,2309.5L1375.9,2317.5L1374.5,2325.5L1373.8,2333.5L1374,2341.5L1375.2,2349.5L1376.7,2357.5L1378.3,2365.5L1380.4,2373.5L1382.8,2381.5L1385.2,2389.5L1387.3,2397.5L1389.2,2405.5L1391.1,2413.5L1392.7,2421.5L1393.8,2429.5L1394.4,2437.5L1395,2445.5L1395.4,2453.5L1395.6,2461.5L1395.7,2469.5L1395.3,2477.5L1394.5,2485.5L1393.4,2493.5L1392.2,2501.5L1389.7,2509.5L1387.1,2517.5L1386.9,2525.5L1387.4,2533.5L1388.1,2541.5L1388.7,2549.5L1389.5,2557.5L1390.5,2565.5L1391.4,2573.5L1392.1,2581.5L1392.3,2589.5L1392.5,2597.5L1392.7,2605.5L1392.8,2613.5L1392.9,2621.5L1392.8,2629.5L1392.5,2637.5L1391.8,2645.5L1390.8,2653.5L1389.7,2661.5L1388.5,2669.5L1386.9,2677.5L1384.7,2685.5L1382.1,2693.5L1379.1,2701.5L1375.3,2709.5L1370,2717.5L1364.4,2725.5L1359.8,2733.5L1356.1,2741.5L1353.4,2749.5L1351.8,2757.5L1350.7,2765.5L1349.7,2773.5L1348.6,2781.5L1347.1,2789.5L1345.4,2797.5L1343.4,2805.5L1341.3,2813.5L1338.9,2821.5L1336.2,2829.5L1333.3,2837.5L1329.8,2845.5L1325.8,2853.5L1321.5,2861.5L1317,2869.5L1312.2,2877.5L1307,2885.5L1301.4,2893.5L1295.5,2901.5L1289.5,2909.5L1283.5,2917.5L1277.4,2925.5L1271.1,2933.5L1264.9,2941.5L1258.8,2949.5L946,2949.5Z" fill="#0000ff" stroke="#b4b4b4" stroke-width="0.8"/>
<path d="M946,2125.5L1208.8,2125.5L1211.8,2133.5L1214.9,2141.5L1217.9,2149.5L1220.2,2157.5L1223.9,2165.5L1229.9,2173.5L1237.9,2181.5L1246.4,2189.5L1256.1,2197.5L1265.6,2205.5L1273.6,2213.5L1280.9,2221.5L1287.3,2229.5L1292.4,2237.5L1296.9,2245.5L1300.7,2253.5L1303.7,2261.5L1306.2,2269.5L1308.3,2277.5L1310,2285.5L1311.3,2293.5L1312.3,2301.5L1313.1,2309.5L1314.2,2317.5L1315.6,2325.5L1317.3,2333.5L1319.3,2341.5L1321.3,2349.5L1323.5,2357.5L1326,2365.5L1328.5,2373.5L1330.9,2381.5L1333.2,2389.5L1335.3,2397.5L1337.4,2405.5L1339.4,2413.5L1341,2421.5L1342.6,2429.5L1344.2,2437.5L1345.4,2445.5L1346.1,2453.5L1346.1,2461.5L1346.1,2469.5L1346.1,2477.5L1346.1,2485.5L1346,2493.5L1344.6,2501.5L1342.4,2509.5L1340.9,2517.5L1340.8,2525.5L1341,2533.5L1341.3,2541.5L1341.6,2549.5L1341.9,2557.5L1342.3,2565.5L1342.7,2573.5L1343.1,2581.5L1343.3,2589.5L1343.2,2597.5L1342.7,2605.5L1342.1,2613.5L1341.3,2621.5L1340.4,2629.5L1338.9,2637.5L1336.9,2645.5L1334.6,2653.5L1332,2661.5L1328.8,2669.5L1324.8,2677.5L1320.5,2685.5L1316.1,2693.5L1312,2701.5L1307.9,2709.5L1303.8,2717.5L1299.8,2725.5L1296.1,2733.5L1292.7,2741.5L1289.5,2749.5L1286.4,2757.5L1283.3,2765.5L1280.2,2773.5L1277.2,2781.5L1274.1,2789.5L1270.9,2797.5L1267.1,2805.5L1262.7,2813.5L1257.8,2821.5L1252.7,2829.5L1247.7,2837.5L1242.8,2845.5L1237.9,2853.5L1233,2861.5L1228.3,2869.5L1223.9,2877.5L1219.5,2885.5L1215.4,2893.5L1211.5,2901.5L1208,2909.5L1205,2917.5L1202.3,2925.5L1199.9,2933.5L1197.2,2941.5L1194.5,2949.5L946,2949.5Z" fill="#0058ff" stroke="#b4b4b4" stroke-width="0.8"/>
<path d="M946,2125.5L1156.6,2125.5L1159.3,2133.5L1162,2141.5L1164.7,2149.5L1166.8,2157.5L1169.6,2165.5L1173,2173.5L1177.2,2181.5L1182.3,2189.5L1187.8,2197.5L1193.8,2205.5L1200.7,2213.5L1207.5,2221.5L1213.8,2229.5L1219.9,2237.5L1225.9,2245.5L1232,2253.5L1238.3,2261.5L1244.7,2269.5L1250.7,2277.5L1256.1,2285.5L1261,2293.5L1265.4,2301.5L1269.2,2309.5L1272.5,2317.5L1275.5,2325.5L1278.2,2333.5L1280.7,2341.5L1283,2349.5L1285.2,2357.5L1287.3,2365.5L1289.4,2373.5L1291.4,2381.5L1293.3,2389.5L1295.1,2397.5L1296.8,2405.5L1298.4,2413.5L1299.9,2421.5L1301.5,2429.5L1303.2,2437.5L1305.1,2445.5L1306.7,2453.5L1308,2461.5L1309.2,2469.5L1310.1,2477.5L1310.8,2485.5L1311.2,2493.5L1311.7,2501.5L1312,2509.5L1312.3,2517.5L1312.4,2525.5L1312.4,2533.5L1312.4,2541.5L1312.2,2549.5L1312,2557.5L1311.7,2565.5L1311.3,2573.5L1310.8,2581.5L1310.2,2589.5L1309.4,2597.5L1308.3,2605.5L1306.8,2613.5L1304.7,2621.5L1302.3,2629.5L1299.9,2637.5L1297.2,2645.5L1294.1,2653.5L1290.8,2661.5L1287.2,2669.5L1283.3,2677.5L1278.9,2685.5L1274.2,2693.5L1269.6,2701.5L1265.4,2709.5L1261.2,2717.5L1257.2,2725.5L1253.6,2733.5L1250.1,2741.5L1246.9,2749.5L1244.2,2757.5L1242.5,2765.5L1241.3,2773.5L1240,2781.5L1237.8,2789.5L1234.9,2797.5L1231.5,2805.5L1227.8,2813.5L1223.5,2821.5L1218.8,2829.5L1213.6,2837.5L1208.2,2845.5L1202.4,2853.5L1195.9,2861.5L1189.2,2869.5L1182.6,2877.5L1176.4,2885.5L1170.2,2893.5L1164.1,2901.5L1158.5,2909.5L1153.2,2917.5L1148.3,2925.5L1143.7,2933.5L1138.8,2941.5L1133.8,2949.5L946,2949.5Z" fill="#00c0ff"/>
<path d="M946,2125.5L1102.9,2125.5L1106.6,2133.5L1110.4,2141.5L1114.1,2149.5L1117.6,2157.5L1121.3,2165.5L1125.2,2173.5L1129.3,2181.5L1133.7,2189.5L1138.2,2197.5L1142.8,2205.5L1147.4,2213.5L1152.1,2221.5L1156.8,2229.5L1161.7,2237.5L1166.8,2245.5L1172.1,2253.5L1177.6,2261.5L1183.2,2269.5L1189.3,2277.5L1195.8,2285.5L1203.1,2293.5L1210.3,2301.5L1217,2309.5L1223.6,2317.5L1229.8,2325.5L1235.2,2333.5L1239.4,2341.5L1242.9,2349.5L1246,2357.5L1248.6,2365.5L1250.7,2373.5L1252.9,2381.5L1255.5,2389.5L1258.6,2397.5L1261.8,2405.5L1264.7,2413.5L1267.3,2421.5L1269.9,2429.5L1272.3,2437.5L1274.4,2445.5L1276.4,2453.5L1278.1,2461.5L1279.7,2469.5L1281.2,2477.5L1282.6,2485.5L1284.1,2493.5L1285.7,2501.5L1286.9,2509.5L1287.6,2517.5L1287.6,2525.5L1287.3,2533.5L1286.9,2541.5L1286.3,2549.5L1285.7,2557.5L1284.9,2565.5L1283.8,2573.5L1282.4,2581.5L1280.9,2589.5L1278.9,2597.5L1276.4,2605.5L1273.4,2613.5L1270.1,2621.5L1266.8,2629.5L1263,2637.5L1258.9,2645.5L1254.7,2653.5L1250.6,2661.5L1246.5,2669.5L1242.3,2677.5L1238.3,2685.5L1234.4,2693.5L1230.8,2701.5L1227.1,2709.5L1223.7,2717.5L1220.7,2725.5L1218.3,2733.5L1216.7,2741.5L1215.4,2749.5L1214,2757.5L1212.1,2765.5L1209.9,2773.5L1207.3,2781.5L1204.3,2789.5L1200.7,2797.5L1196.4,2805.5L1191.5,2813.5L1186.4,2821.5L1180.8,2829.5L1174.7,2837.5L1168.1,2845.5L1161.5,2853.5L1154.5,2861.5L1147.1,2869.5L1139.8,2877.5L1133,2885.5L1126.8,2893.5L1120.9,2901.5L1115,2909.5L1109.1,2917.5L1103.3,2925.5L1097.5,2933.5L1091.7,2941.5L1085.9,2949.5L946,2949.5Z" fill="#00f9ec" stroke="#b4b4b4" stroke-width="0.8"/>
<path d="M946,2125.5L1080.1,2125.5L1083.1,2133.5L1086.2,2141.5L1089.3,2149.5L1092.2,2157.5L1095.3,2165.5L1098.6,2173.5L1101.9,2181.5L1105.5,2189.5L1109.1,2197.5L1112.8,2205.5L1116.6,2213.5L1120.5,2221.5L1124.6,2229.5L1128.8,2237.5L1133.2,2245.5L1137.9,2253.5L1142.7,2261.5L1147.7,2269.5L1152.7,2277.5L1158,2285.5L1163.3,2293.5L1168.8,2301.5L1174.1,2309.5L1179.6,2317.5L1185.1,2325.5L1190.4,2333.5L1195.3,2341.5L1200,2349.5L1204.5,2357.5L1208.8,2365.5L1212.8,2373.5L1216.5,2381.5L1219.9,2389.5L1223.4,2397.5L1226.9,2405.5L1230.5,2413.5L1234.1,2421.5L1237.7,2429.5L1241,2437.5L1244.3,2445.5L1247.6,2453.5L1250.5,2461.5L1253.2,2469.5L1255.7,2477.5L1258,2485.5L1260,2493.5L1261.8,2501.5L1263.5,2509.5L1264.6,2517.5L1264.6,2525.5L1264.3,2533.5L1263.9,2541.5L1263.3,2549.5L1262.7,2557.5L1261.3,2565.5L1259.3,2573.5L1256.9,2581.5L1254.4,2589.5L1251.8,2597.5L1248.7,2605.5L1245.3,2613.5L1241.9,2621.5L1238.5,2629.5L1234.9,2637.5L1231.3,2645.5L1227.6,2653.5L1224,2661.5L1220.3,2669.5L1216.7,2677.5L1213,2685.5L1209.5,2693.5L1206.1,2701.5L1202.6,2709.5L1199.2,2717.5L1196.1,2725.5L1193.5,2733.5L1191.4,2741.5L1189.6,2749.5L1187.7,2757.5L1185.3,2765.5L1182.6,2773.5L1179.5,2781.5L1175.9,2789.5L1171.6,2797.5L1166.3,2805.5L1160.6,2813.5L1154.5,2821.5L1147.9,2829.5L1140.7,2837.5L1133.3,2845.5L1126,2853.5L1118.8,2861.5L1111.5,2869.5L1104.3,2877.5L1097.6,2885.5L1091,2893.5L1084.7,2901.5L1079.1,2909.5L1074.6,2917.5L1070.8,2925.5L1067.7,2933.5L1064,2941.5L1060.4,2949.5L946,2949.5Z" fill="#00e0b0" stroke="#b4b4b4" stroke-width="0.8"/>
<path d="M946,2125.5L1055.3,2125.5L1057.8,2133.5L1060.3,2141.5L1062.7,2149.5L1064.9,2157.5L1067.4,2165.5L1070.2,2173.5L1073.3,2181.5L1076.8,2189.5L1080.5,2197.5L1084.8,2205.5L1089.3,2213.5L1093.4,2221.5L1097.2,2229.5L1100.9,2237.5L1104.6,2245.5L1108.5,2253.5L1112.5,2261.5L1116.6,2269.5L1120.6,2277.5L1124.4,2285.5L1128,2293.5L1131.4,2301.5L1134.9,2309.5L1138.7,2317.5L1142.6,2325.5L1146.7,2333.5L1150.8,2341.5L1154.8,2349.5L1158.8,2357.5L1162.8,2365.5L1166.8,2373.5L1170.8,2381.5L1174.9,2389.5L1179,2397.5L1183,2405.5L1186.8,2413.5L1190.1,2421.5L1193.3,2429.5L1196.3,2437.5L1199.5,2445.5L1202.9,2453.5L1206.3,2461.5L1209.9,2469.5L1213.6,2477.5L1217.3,2485.5L1221.3,2493.5L1225.3,2501.5L1229.5,2509.5L1234.8,2517.5L1239.7,2525.5L1240.8,2533.5L1239.2,2541.5L1236.3,2549.5L1232.8,2557.5L1229.1,2565.5L1225.9,2573.5L1222.5,2581.5L1218.9,2589.5L1215.1,2597.5L1211.3,2605.5L1207.1,2613.5L1203.1,2621.5L1199.5,2629.5L1196.3,2637.5L1193.4,2645.5L1190.6,2653.5L1188,2661.5L1185.4,2669.5L1183,2677.5L1180.6,2685.5L1178.3,2693.5L1176,2701.5L1173.9,2709.5L1171.9,2717.5L1170.2,2725.5L1168.6,2733.5L1166.8,2741.5L1164.6,2749.5L1162.1,2757.5L1159,2765.5L1155.5,2773.5L1151.4,2781.5L1146.5,2789.5L1140.8,2797.5L1134.7,2805.5L1127.8,2813.5L1119.8,2821.5L1111.4,2829.5L1103,2837.5L1094.8,2845.5L1086.5,2853.5L1078.3,2861.5L1070.8,2869.5L1064.1,2877.5L1057.7,2885.5L1052,2893.5L1047.1,2901.5L1042.7,2909.5L1038.7,2917.5L1035.2,2925.5L1032.2,2933.5L1028.4,2941.5L1024.6,2949.5L946,2949.5Z" fill="#00c870"/>
<path d="M946,2125.5L1028.2,2125.5L1030.8,2133.5L1033.5,2141.5L1036.2,2149.5L1038.6,2157.5L1041.2,2165.5L1044.1,2173.5L1047.2,2181.5L1050.8,2189.5L1054.5,2197.5L1058.1,2205.5L1061.5,2213.5L1064.7,2221.5L1067.9,2229.5L1071,2237.5L1074.2,2245.5L1077.4,2253.5L1080.6,2261.5L1083.8,2269.5L1087,2277.5L1090.3,2285.5L1093.8,2293.5L1097.1,2301.5L1100.1,2309.5L1102.7,2317.5L1104.7,2325.5L1106.6,2333.5L1108.5,2341.5L1110.4,2349.5L1112.2,2357.5L1114.2,2365.5L1116.8,2373.5L1120.6,2381.5L1124.9,2389.5L1129.2,2397.5L1133,2405.5L1136.6,2413.5L1140.1,2421.5L1143.5,2429.5L1146.9,2437.5L1150.3,2445.5L1153.5,2453.5L1156.6,2461.5L1159.4,2469.5L1162.2,2477.5L1165,2485.5L1167.3,2493.5L1168.9,2501.5L1170.1,2509.5L1171.1,2517.5L1171.7,2525.5L1171.8,2533.5L1171.8,2541.5L1171.5,2549.5L1170.9,2557.5L1169.9,2565.5L1168.9,2573.5L1167.7,2581.5L1166.1,2589.5L1164.3,2597.5L1162.5,2605.5L1160.9,2613.5L1159.2,2621.5L1157.6,2629.5L1156,2637.5L1154.6,2645.5L1153.2,2653.5L1152,2661.5L1150.8,2669.5L1149.7,2677.5L1148.8,2685.5L1147.9,2693.5L1147.1,2701.5L1146.4,2709.5L1145.8,2717.5L1145.3,2725.5L1144.8,2733.5L1143.9,2741.5L1141.9,2749.5L1138.6,2757.5L1134.8,2765.5L1130.4,2773.5L1124.6,2781.5L1117.9,2789.5L1110.8,2797.5L1103.6,2805.5L1095.8,2813.5L1087.6,2821.5L1079.2,2829.5L1070.6,2837.5L1061.4,2845.5L1052.2,2853.5L1043.6,2861.5L1035.7,2869.5L1028,2877.5L1020.9,2885.5L1014.6,2893.5L1009.1,2901.5L1004.4,2909.5L1000,2917.5L995.5,2925.5L991.1,2933.5L986.7,2941.5L982.4,2949.5L946,2949.5Z" fill="#00b030" stroke="#b4b4b4" stroke-width="0.8"/>
<path d="M946,2125.5L1004.8,2125.5L1006.4,2133.5L1008,2141.5L1009.6,2149.5L1010.8,2157.5L1012.3,2165.5L1014.2,2173.5L1016.5,2181.5L1019.4,2189.5L1022.7,2197.5L1026.2,2205.5L1029.8,2213.5L1033.8,2221.5L1037.9,2229.5L1042,2237.5L1046.1,2245.5L1050.1,2253.5L1054.1,2261.5L1058.1,2269.5L1062.1,2277.5L1066.1,2285.5L1070.3,2293.5L1074.4,2301.5L1078.3,2309.5L1081.9,2317.5L1085.5,2325.5L1089,2333.5L1092.1,2341.5L1094.6,2349.5L1096.5,2357.5L1098.2,2365.5L1099.7,2373.5L1101.1,2381.5L1102.5,2389.5L1103.9,2397.5L1105.2,2405.5L1106.3,2413.5L1107.1,2421.5L1107.7,2429.5L1108.2,2437.5L1108.6,2445.5L1108.8,2453.5L1108.6,2461.5L1108,2469.5L1107.1,2477.5L1106,2485.5L1104.9,2493.5L1103.1,2501.5L1101.2,2509.5L1100,2517.5L1100.1,2525.5L1100.8,2533.5L1101.7,2541.5L1102.8,2549.5L1104.2,2557.5L1105.7,2565.5L1107.1,2573.5L1108.3,2581.5L1109.5,2589.5L1110.7,2597.5L1111.9,2605.5L1113.1,2613.5L1114.3,2621.5L1115.6,2629.5L1116.8,2637.5L1117.8,2645.5L1118.7,2653.5L1119.6,2661.5L1120.4,2669.5L1121,2677.5L1121.6,2685.5L1122.1,2693.5L1122.6,2701.5L1122.9,2709.5L1122.9,2717.5L1122.5,2725.5L1121.6,2733.5L1119,2741.5L1112.9,2749.5L1104.3,2757.5L1092.7,2765.5L1081.2,2773.5L1069.7,2781.5L1058.1,2789.5L1046.9,2797.5L1036,2805.5L1025.4,2813.5L1015.3,2821.5L1005.8,2829.5L995.9,2837.5L985.4,2845.5L974.4,2853.5L963.1,2861.5L956,2869.5L956,2949.5L946,2949.5Z" fill="#00a000" stroke="#b4b4b4" stroke-width="0.8"/>
<path d="M946,2125.5L956,2125.5L956,2149.5L959.6,2157.5L965.9,2165.5L972.2,2173.5L978.6,2181.5L985,2189.5L991.2,2197.5L997.3,2205.5L1003.4,2213.5L1009.2,2221.5L1014.5,2229.5L1019.5,2237.5L1024.4,2245.5L1029.1,2253.5L1033.9,2261.5L1038.4,2269.5L1042.7,2277.5L1046.5,2285.5L1050,2293.5L1053.3,2301.5L1056.1,2309.5L1058.2,2317.5L1059.8,2325.5L1061.2,2333.5L1062.5,2341.5L1064,2349.5L1065.4,2357.5L1066.8,2365.5L1067.9,2373.5L1068.9,2381.5L1069.8,2389.5L1070.6,2397.5L1071.3,2405.5L1071.8,2413.5L1072.5,2421.5L1073,2429.5L1073.3,2437.5L1073.3,2445.5L1072.6,2453.5L1071.6,2461.5L1070.4,2469.5L1069.3,2477.5L1067.9,2485.5L1066.5,2493.5L1065.1,2501.5L1063.9,2509.5L1062.5,2517.5L1061.4,2525.5L1060.8,2533.5L1060.4,2541.5L1060.2,2549.5L1060.3,2557.5L1060.5,2565.5L1060.7,2573.5L1060.9,2581.5L1061.2,2589.5L1061.6,2597.5L1062,2605.5L1062.4,2613.5L1062.7,2621.5L1062.7,2629.5L1062.7,2637.5L1062.7,2645.5L1062.7,2653.5L1062.7,2661.5L1062.6,2669.5L1062.1,2677.5L1061.4,2685.5L1060.4,2693.5L1058,2701.5L1054.7,2709.5L1050.3,2717.5L1044.2,2725.5L1037,2733.5L1028,2741.5L1017.7,2749.5L1006.6,2757.5L994.9,2765.5L983.3,2773.5L971.5,2781.5L959.6,2789.5L956,2797.5L956,2949.5L946,2949.5Z" fill="#90e000"/>
<path d="M946,2125.5L956,2125.5L956,2221.5L957.2,2229.5L966.6,2237.5L976.1,2245.5L985.7,2253.5L995,2261.5L1003.9,2269.5L1011.3,2277.5L1017.6,2285.5L1022.7,2293.5L1027.2,2301.5L1030.9,2309.5L1033.7,2317.5L1036,2325.5L1038,2333.5L1039.5,2341.5L1040.9,2349.5L1042.2,2357.5L1043,2365.5L1043.2,2373.5L1043,2381.5L1042.5,2389.5L1041.9,2397.5L1041.2,2405.5L1040.1,2413.5L1038.7,2421.5L1037.2,2429.5L1035.6,2437.5L1033.8,2445.5L1031.9,2453.5L1030.1,2461.5L1028.5,2469.5L1027,2477.5L1025.6,2485.5L1024.4,2493.5L1023.4,2501.5L1022.7,2509.5L1022.2,2517.5L1021.5,2525.5L1020.5,2533.5L1019.1,2541.5L1017.4,2549.5L1015.5,2557.5L1013.4,2565.5L1011.3,2573.5L1009.1,2581.5L1006.8,2589.5L1004.4,2597.5L1002,2605.5L999.4,2613.5L996.9,2621.5L994.3,2629.5L991.7,2637.5L989.1,2645.5L986.4,2653.5L983.8,2661.5L981.1,2669.5L978.4,2677.5L975.7,2685.5L973,2693.5L970.4,2701.5L967.7,2709.5L965.1,2717.5L962.4,2725.5L959.8,2733.5L957.1,2741.5L956,2749.5L956,2949.5L946,2949.5Z" fill="#ffe400" stroke="#b4b4b4" stroke-width="0.8"/>
<path d="M946,2125.5L956,2125.5L956,2261.5L957,2269.5L965.4,2277.5L973.8,2285.5L982.7,2293.5L991,2301.5L998.8,2309.5L1005.9,2317.5L1010.8,2325.5L1014.4,2333.5L1016.2,2341.5L1017.6,2349.5L1018.4,2357.5L1018.3,2365.5L1017.8,2373.5L1017.1,2381.5L1015.9,2389.5L1013.8,2397.5L1011.1,2405.5L1008.3,2413.5L1005.2,2421.5L1001.6,2429.5L996.9,2437.5L991.1,2445.5L984,2453.5L975.8,2461.5L968.3,2469.5L961.1,2477.5L956,2485.5L956,2949.5L946,2949.5Z" fill="#ffa300" stroke="#b4b4b4" stroke-width="0.8"/>
<path d="M946,2125.5L956,2125.5L956,2325.5L980.9,2333.5L997.5,2341.5L996.9,2349.5L983.1,2357.5L962.3,2365.5L956,2373.5L956,2949.5L946,2949.5Z" fill="#ff6000"/>
<path d="M1156.6,2125.5L1159.3,2133.5L1162,2141.5L1164.7,2149.5L1166.8,2157.5L1169.6,2165.5L1173,2173.5L1177.2,2181.5L1182.3,2189.5L1187.8,2197.5L1193.8,2205.5L1200.7,2213.5L1207.5,2221.5M1250.7,2277.5L1256.1,2285.5L1261,2293.5L1265.4,2301.5L1269.2,2309.5L1272.5,2317.5L1275.5,2325.5L1278.2,2333.5L1280.7,2341.5L1283,2349.5L1285.2,2357.5L1287.3,2365.5L1289.4,2373.5L1291.4,2381.5L1293.3,2389.5L1295.1,2397.5L1296.8,2405.5L1298.4,2413.5L1299.9,2421.5L1301.5,2429.5L1303.2,2437.5L1305.1,2445.5L1306.7,2453.5L1308,2461.5L1309.2,2469.5L1310.1,2477.5L1310.8,2485.5L1311.2,2493.5L1311.7,2501.5L1312,2509.5L1312.3,2517.5L1312.4,2525.5M1309.4,2597.5L1308.3,2605.5L1306.8,2613.5L1304.7,2621.5L1302.3,2629.5L1299.9,2637.5L1297.2,2645.5L1294.1,2653.5L1290.8,2661.5L1287.2,2669.5L1283.3,2677.5L1278.9,2685.5L1274.2,2693.5L1269.6,2701.5L1265.4,2709.5L1261.2,2717.5L1257.2,2725.5L1253.6,2733.5L1250.1,2741.5L1246.9,2749.5L1244.2,2757.5L1242.5,2765.5L1241.3,2773.5L1240,2781.5L1237.8,2789.5L1234.9,2797.5L1231.5,2805.5L1227.8,2813.5L1223.5,2821.5L1218.8,2829.5L1213.6,2837.5L1208.2,2845.5L1202.4,2853.5L1195.9,2861.5L1189.2,2869.5L1182.6,2877.5L1176.4,2885.5L1170.2,2893.5L1164.1,2901.5L1158.5,2909.5L1153.2,2917.5L1148.3,2925.5L1143.7,2933.5L1138.8,2941.5L1133.8,2949.5" fill="none" stroke="#000" stroke-width="1.15"/>
<path d="M1055.3,2125.5L1057.8,2133.5L1060.3,2141.5L1062.7,2149.5L1064.9,2157.5L1067.4,2165.5L1070.2,2173.5L1073.3,2181.5L1076.8,2189.5L1080.5,2197.5L1084.8,2205.5L1089.3,2213.5L1093.4,2221.5M1124.4,2285.5L1128,2293.5L1131.4,2301.5L1134.9,2309.5L1138.7,2317.5L1142.6,2325.5L1146.7,2333.5L1150.8,2341.5L1154.8,2349.5L1158.8,2357.5L1162.8,2365.5L1166.8,2373.5L1170.8,2381.5L1174.9,2389.5L1179,2397.5L1183,2405.5L1186.8,2413.5L1190.1,2421.5L1193.3,2429.5L1196.3,2437.5L1199.5,2445.5L1202.9,2453.5L1206.3,2461.5L1209.9,2469.5L1213.6,2477.5L1217.3,2485.5L1221.3,2493.5L1225.3,2501.5L1229.5,2509.5L1234.8,2517.5L1239.7,2525.5L1240.8,2533.5M1211.3,2605.5L1207.1,2613.5L1203.1,2621.5L1199.5,2629.5L1196.3,2637.5L1193.4,2645.5L1190.6,2653.5L1188,2661.5L1185.4,2669.5L1183,2677.5L1180.6,2685.5L1178.3,2693.5L1176,2701.5L1173.9,2709.5L1171.9,2717.5L1170.2,2725.5L1168.6,2733.5L1166.8,2741.5L1164.6,2749.5L1162.1,2757.5L1159,2765.5L1155.5,2773.5L1151.4,2781.5L1146.5,2789.5L1140.8,2797.5L1134.7,2805.5L1127.8,2813.5L1119.8,2821.5L1111.4,2829.5L1103,2837.5L1094.8,2845.5L1086.5,2853.5L1078.3,2861.5L1070.8,2869.5L1064.1,2877.5L1057.7,2885.5L1052,2893.5L1047.1,2901.5L1042.7,2909.5L1038.7,2917.5L1035.2,2925.5L1032.2,2933.5L1028.4,2941.5L1024.6,2949.5" fill="none" stroke="#000" stroke-width="1.15"/>
<path d="M956,2125.5L956,2149.5L959.6,2157.5L965.9,2165.5L972.2,2173.5L978.6,2181.5L985,2189.5L991.2,2197.5L997.3,2205.5L1003.4,2213.5L1009.2,2221.5L1014.5,2229.5L1019.5,2237.5L1024.4,2245.5L1029.1,2253.5L1033.9,2261.5L1038.4,2269.5L1042.7,2277.5L1046.5,2285.5L1050,2293.5L1053.3,2301.5L1056.1,2309.5L1058.2,2317.5L1059.8,2325.5L1061.2,2333.5L1062.5,2341.5M1071.3,2405.5L1071.8,2413.5L1072.5,2421.5L1073,2429.5L1073.3,2437.5L1073.3,2445.5L1072.6,2453.5L1071.6,2461.5L1070.4,2469.5L1069.3,2477.5L1067.9,2485.5L1066.5,2493.5L1065.1,2501.5L1063.9,2509.5L1062.5,2517.5L1061.4,2525.5L1060.8,2533.5L1060.4,2541.5L1060.2,2549.5L1060.3,2557.5L1060.5,2565.5L1060.7,2573.5L1060.9,2581.5L1061.2,2589.5L1061.6,2597.5L1062,2605.5L1062.4,2613.5L1062.7,2621.5L1062.7,2629.5L1062.7,2637.5L1062.7,2645.5L1062.7,2653.5L1062.7,2661.5L1062.6,2669.5L1062.1,2677.5L1061.4,2685.5L1060.4,2693.5L1058,2701.5L1054.7,2709.5L1050.3,2717.5L1044.2,2725.5L1037,2733.5L1028,2741.5L1017.7,2749.5L1006.6,2757.5L994.9,2765.5L983.3,2773.5L971.5,2781.5L959.6,2789.5L956,2797.5L956,2949.5" fill="none" stroke="#000" stroke-width="1.15"/>
<path d="M956,2125.5L956,2325.5L980.9,2333.5L997.5,2341.5L996.9,2349.5L983.1,2357.5L962.3,2365.5L956,2373.5L956,2949.5" fill="none" stroke="#000" stroke-width="1.15"/>
<text transform="translate(1231 2252.2) rotate(50)" font-size="44" text-anchor="middle" fill="#171717" dy="0.33em">40</text>
<text transform="translate(1107 2250.4) rotate(62)" font-size="44" text-anchor="middle" fill="#171717" dy="0.33em">55</text>
<text transform="translate(1068 2374.4) rotate(85)" font-size="44" text-anchor="middle" fill="#171717" dy="0.33em">70</text>
<text transform="translate(1312.5 2564.3) rotate(-87)" font-size="44" text-anchor="middle" fill="#171717" dy="0.33em">40</text>
<text transform="translate(1227.4 2569.6) rotate(-62)" font-size="44" text-anchor="middle" fill="#171717" dy="0.33em">55</text>
</g>
<rect x="996" y="2149.5" width="472" height="783" fill="none" stroke="#858585" stroke-width="1.5"/>
<path d="M1035.3,2149.5v-10 M1035.3,2932.5v10M1114,2149.5v-10 M1114,2932.5v10M1192.7,2149.5v-10 M1192.7,2932.5v10M1271.3,2149.5v-10 M1271.3,2932.5v10M1350,2149.5v-10 M1350,2932.5v10M1428.7,2149.5v-10 M1428.7,2932.5v10M996,2149.5h-10 M1468,2149.5h10M996,2227.8h-10 M1468,2227.8h10M996,2306.1h-10 M1468,2306.1h10M996,2384.4h-10 M1468,2384.4h10M996,2462.7h-10 M1468,2462.7h10M996,2541h-10 M1468,2541h10M996,2619.3h-10 M1468,2619.3h10M996,2697.6h-10 M1468,2697.6h10M996,2775.9h-10 M1468,2775.9h10M996,2854.2h-10 M1468,2854.2h10M996,2932.5h-10 M1468,2932.5h10" stroke="#858585" stroke-width="1.4" fill="none"/>
<text transform="translate(1035.3 2984.7) scale(0.980 1)" font-size="46.8" text-anchor="middle" fill="#171717">4</text>
<text transform="translate(1114 2984.7) scale(0.980 1)" font-size="46.8" text-anchor="middle" fill="#171717">6</text>
<text transform="translate(1192.7 2984.7) scale(0.980 1)" font-size="46.8" text-anchor="middle" fill="#171717">8</text>
<text transform="translate(1271.3 2984.7) scale(0.980 1)" font-size="46.8" text-anchor="middle" fill="#171717">10</text>
<text transform="translate(1350 2984.7) scale(0.980 1)" font-size="46.8" text-anchor="middle" fill="#171717">12</text>
<text transform="translate(1428.7 2984.7) scale(0.980 1)" font-size="46.8" text-anchor="middle" fill="#171717">14</text>
<text transform="translate(983.5 2165.1) scale(0.980 1)" font-size="46.8" text-anchor="end" fill="#171717">0</text>
<text transform="translate(983.5 2243.4) scale(0.980 1)" font-size="46.8" text-anchor="end" fill="#171717">-2</text>
<text transform="translate(983.5 2321.7) scale(0.980 1)" font-size="46.8" text-anchor="end" fill="#171717">-4</text>
<text transform="translate(983.5 2400) scale(0.980 1)" font-size="46.8" text-anchor="end" fill="#171717">-6</text>
<text transform="translate(983.5 2478.3) scale(0.980 1)" font-size="46.8" text-anchor="end" fill="#171717">-8</text>
<text transform="translate(983.5 2556.6) scale(0.980 1)" font-size="46.8" text-anchor="end" fill="#171717">-10</text>
<text transform="translate(983.5 2634.9) scale(0.980 1)" font-size="46.8" text-anchor="end" fill="#171717">-12</text>
<text transform="translate(983.5 2713.2) scale(0.980 1)" font-size="46.8" text-anchor="end" fill="#171717">-14</text>
<text transform="translate(983.5 2791.5) scale(0.980 1)" font-size="46.8" text-anchor="end" fill="#171717">-16</text>
<text transform="translate(983.5 2869.8) scale(0.980 1)" font-size="46.8" text-anchor="end" fill="#171717">-18</text>
<text transform="translate(983.5 2948.1) scale(0.980 1)" font-size="46.8" text-anchor="end" fill="#171717">-20</text>
<text transform="translate(1232 3044.2) scale(0.966 1)" font-size="46.9" text-anchor="middle" fill="#171717">Horizontal distance/cm</text>
<text transform="translate(902 2541) rotate(-90) scale(0.972 1)" font-size="46.9" text-anchor="middle" fill="#171717">Vertical distance/cm</text>
<text transform="translate(1246.6 3118.9)" font-size="61" text-anchor="middle" fill="#000">120 s</text>
<rect x="1543.6" y="2776.8" width="33.2" height="37.3" fill="#00007b" stroke="#2a2a2a" stroke-width="1.1"/>
<rect x="1543.6" y="2739.5" width="33.2" height="37.3" fill="#0000ff" stroke="#2a2a2a" stroke-width="1.1"/>
<rect x="1543.6" y="2702.1" width="33.2" height="37.3" fill="#0058ff" stroke="#2a2a2a" stroke-width="1.1"/>
<rect x="1543.6" y="2664.8" width="33.2" height="37.3" fill="#00c0ff" stroke="#2a2a2a" stroke-width="1.1"/>
<rect x="1543.6" y="2627.5" width="33.2" height="37.3" fill="#00f9ec" stroke="#2a2a2a" stroke-width="1.1"/>
<rect x="1543.6" y="2590.2" width="33.2" height="37.3" fill="#00e0b0" stroke="#2a2a2a" stroke-width="1.1"/>
<rect x="1543.6" y="2552.8" width="33.2" height="37.3" fill="#00c870" stroke="#2a2a2a" stroke-width="1.1"/>
<rect x="1543.6" y="2515.5" width="33.2" height="37.3" fill="#00b030" stroke="#2a2a2a" stroke-width="1.1"/>
<rect x="1543.6" y="2478.2" width="33.2" height="37.3" fill="#00a000" stroke="#2a2a2a" stroke-width="1.1"/>
<rect x="1543.6" y="2440.9" width="33.2" height="37.3" fill="#90e000" stroke="#2a2a2a" stroke-width="1.1"/>
<rect x="1543.6" y="2403.6" width="33.2" height="37.3" fill="#ffe400" stroke="#2a2a2a" stroke-width="1.1"/>
<rect x="1543.6" y="2366.2" width="33.2" height="37.3" fill="#ffa300" stroke="#2a2a2a" stroke-width="1.1"/>
<rect x="1543.6" y="2328.9" width="33.2" height="37.3" fill="#ff6000" stroke="#2a2a2a" stroke-width="1.1"/>
<rect x="1543.6" y="2291.6" width="33.2" height="37.3" fill="#ff1000" stroke="#2a2a2a" stroke-width="1.1"/>
<text transform="translate(1586.8 2831.6) scale(0.970 1)" font-size="46" text-anchor="start" fill="#171717">25</text>
<text transform="translate(1586.8 2757) scale(0.970 1)" font-size="46" text-anchor="start" fill="#171717">35</text>
<text transform="translate(1586.8 2682.3) scale(0.970 1)" font-size="46" text-anchor="start" fill="#171717">45</text>
<text transform="translate(1586.8 2607.7) scale(0.970 1)" font-size="46" text-anchor="start" fill="#171717">55</text>
<text transform="translate(1586.8 2533) scale(0.970 1)" font-size="46" text-anchor="start" fill="#171717">65</text>
<text transform="translate(1586.8 2458.4) scale(0.970 1)" font-size="46" text-anchor="start" fill="#171717">75</text>
<text transform="translate(1586.8 2383.7) scale(0.970 1)" font-size="46" text-anchor="start" fill="#171717">85</text></g>
<g><clipPath id="c8"><rect x="1836.3" y="2149.5" width="472.2" height="783"/></clipPath>
<rect x="1836.3" y="2149.5" width="472.2" height="783" fill="#00007b"/>
<g clip-path="url(#c8)" stroke-linejoin="round">
<path d="M1786.3,2125.5L2348.5,2125.5L2348.5,2229.5L2347.4,2237.5L2344.7,2245.5L2341.9,2253.5L2339,2261.5L2336.1,2269.5L2333,2277.5L2329.9,2285.5L2326.8,2293.5L2323.6,2301.5L2319.7,2309.5L2315.2,2317.5L2310.7,2325.5L2306.5,2333.5L2302.4,2341.5L2301,2349.5L2300.5,2357.5L2300.2,2365.5L2300.2,2373.5L2301.1,2381.5L2302.2,2389.5L2303,2397.5L2302.9,2405.5L2302.5,2413.5L2302,2421.5L2301.4,2429.5L2300.6,2437.5L2299.4,2445.5L2298.1,2453.5L2296.7,2461.5L2295.5,2469.5L2294.3,2477.5L2293.2,2485.5L2292,2493.5L2290.7,2501.5L2289,2509.5L2287.3,2517.5L2286.6,2525.5L2286.2,2533.5L2285.9,2541.5L2285.6,2549.5L2285.2,2557.5L2284.7,2565.5L2284.3,2573.5L2283.8,2581.5L2283.2,2589.5L2282.7,2597.5L2282,2605.5L2281.3,2613.5L2280.5,2621.5L2279.6,2629.5L2278.5,2637.5L2277.4,2645.5L2276.1,2653.5L2274.7,2661.5L2272.9,2669.5L2270.7,2677.5L2268.2,2685.5L2265.5,2693.5L2262.7,2701.5L2259.9,2709.5L2256.6,2717.5L2253.1,2725.5L2250,2733.5L2247.6,2741.5L2245.8,2749.5L2244.4,2757.5L2243.1,2765.5L2242.1,2773.5L2241.4,2781.5L2240.7,2789.5L2239.9,2797.5L2238.9,2805.5L2237.6,2813.5L2236.1,2821.5L2234.3,2829.5L2232.5,2837.5L2230.5,2845.5L2228.3,2853.5L2225.9,2861.5L2223.2,2869.5L2220.2,2877.5L2216.8,2885.5L2212.8,2893.5L2208.5,2901.5L2203.9,2909.5L2198.9,2917.5L2193.3,2925.5L2187.3,2933.5L2181.8,2941.5L2176.2,2949.5L1786.3,2949.5Z" fill="#0000ff" stroke="#b4b4b4" stroke-width="0.8"/>
<path d="M1786.3,2125.5L2348.5,2125.5L2348.5,2149.5L2347.9,2157.5L2343,2165.5L2337.9,2173.5L2332.6,2181.5L2327.2,2189.5L2321.6,2197.5L2315.5,2205.5L2309.4,2213.5L2303.7,2221.5L2298.1,2229.5L2292.8,2237.5L2287.6,2245.5L2282.6,2253.5L2278,2261.5L2273.5,2269.5L2269.3,2277.5L2265.5,2285.5L2262.6,2293.5L2259.8,2301.5L2257.4,2309.5L2255.7,2317.5L2254.8,2325.5L2254.1,2333.5L2253.6,2341.5L2253.4,2349.5L2253.8,2357.5L2254.6,2365.5L2255.7,2373.5L2256.7,2381.5L2257.3,2389.5L2257.8,2397.5L2258.3,2405.5L2258.6,2413.5L2258.7,2421.5L2258.7,2429.5L2258.7,2437.5L2258.7,2445.5L2258.7,2453.5L2258.6,2461.5L2257.9,2469.5L2256.9,2477.5L2255.9,2485.5L2254.9,2493.5L2253.7,2501.5L2252.4,2509.5L2251.7,2517.5L2251.6,2525.5L2251.6,2533.5L2251.6,2541.5L2251.6,2549.5L2251.5,2557.5L2251.1,2565.5L2250.6,2573.5L2250,2581.5L2249.3,2589.5L2248.3,2597.5L2247,2605.5L2245.5,2613.5L2243.8,2621.5L2242,2629.5L2239.9,2637.5L2237.4,2645.5L2234.6,2653.5L2231.6,2661.5L2228.3,2669.5L2224.6,2677.5L2220.4,2685.5L2215.8,2693.5L2211,2701.5L2206.3,2709.5L2200,2717.5L2193.8,2725.5L2189.9,2733.5L2189.6,2741.5L2189.6,2749.5L2189.6,2757.5L2189.6,2765.5L2189.4,2773.5L2188.9,2781.5L2188.4,2789.5L2187.8,2797.5L2186.8,2805.5L2185.3,2813.5L2183.5,2821.5L2181.4,2829.5L2178.9,2837.5L2175.6,2845.5L2171.7,2853.5L2167.6,2861.5L2163.7,2869.5L2159.7,2877.5L2155.6,2885.5L2151.5,2893.5L2147.6,2901.5L2144.1,2909.5L2140.7,2917.5L2137.5,2925.5L2134.4,2933.5L2131.1,2941.5L2127.8,2949.5L1786.3,2949.5Z" fill="#0058ff" stroke="#b4b4b4" stroke-width="0.8"/>
<path d="M1786.3,2125.5L2215.1,2125.5L2215.1,2133.5L2215.1,2141.5L2215.1,2149.5L2215.1,2157.5L2215.1,2165.5L2215.1,2173.5L2215.1,2181.5L2215.1,2189.5L2214.9,2197.5L2214.5,2205.5L2214.1,2213.5L2213.6,2221.5L2213.1,2229.5L2212.6,2237.5L2212.1,2245.5L2211.6,2253.5L2211.1,2261.5L2210.5,2269.5L2209.9,2277.5L2209.4,2285.5L2208.8,2293.5L2208.2,2301.5L2207.5,2309.5L2207,2317.5L2206.7,2325.5L2206.7,2333.5L2206.8,2341.5L2207.1,2349.5L2207.4,2357.5L2208.4,2365.5L2210.1,2373.5L2212.2,2381.5L2214,2389.5L2215.3,2397.5L2216.6,2405.5L2217.8,2413.5L2218.8,2421.5L2219.6,2429.5L2220.2,2437.5L2220.8,2445.5L2221.2,2453.5L2221.5,2461.5L2221.5,2469.5L2221.3,2477.5L2220.9,2485.5L2220.3,2493.5L2219.8,2501.5L2219,2509.5L2218.2,2517.5L2217.6,2525.5L2217.3,2533.5L2216.9,2541.5L2216.6,2549.5L2216.1,2557.5L2215.4,2565.5L2214.6,2573.5L2213.8,2581.5L2212.8,2589.5L2211.9,2597.5L2210.8,2605.5L2209.6,2613.5L2208.3,2621.5L2206.7,2629.5L2204.7,2637.5L2202.3,2645.5L2199.7,2653.5L2196.8,2661.5L2193.4,2669.5L2189.3,2677.5L2185,2685.5L2180.8,2693.5L2176.9,2701.5L2172.9,2709.5L2169.1,2717.5L2166,2725.5L2163.7,2733.5L2161.9,2741.5L2160.3,2749.5L2158.9,2757.5L2157.7,2765.5L2156.5,2773.5L2155.1,2781.5L2153.2,2789.5L2150.3,2797.5L2146.9,2805.5L2143.3,2813.5L2139.9,2821.5L2136.9,2829.5L2134.1,2837.5L2131.4,2845.5L2128.5,2853.5L2125.5,2861.5L2122.1,2869.5L2118.1,2877.5L2113.3,2885.5L2108,2893.5L2102.6,2901.5L2096.9,2909.5L2091.4,2917.5L2086,2925.5L2081.2,2933.5L2077.4,2941.5L2073.6,2949.5L1786.3,2949.5Z" fill="#00c0ff" stroke="#b4b4b4" stroke-width="0.8"/>
<path d="M1786.3,2125.5L2044.3,2125.5L2051.5,2133.5L2058.6,2141.5L2065.7,2149.5L2071.9,2157.5L2079.9,2165.5L2090.8,2173.5L2102.6,2181.5L2111.8,2189.5L2120.1,2197.5L2127.4,2205.5L2133.9,2213.5L2140,2221.5L2145.3,2229.5L2149.5,2237.5L2152.9,2245.5L2155.9,2253.5L2158.5,2261.5L2160.7,2269.5L2162.7,2277.5L2164.6,2285.5L2166.2,2293.5L2167.6,2301.5L2168.7,2309.5L2169.6,2317.5L2170.3,2325.5L2171,2333.5L2171.8,2341.5L2172.8,2349.5L2174,2357.5L2175.2,2365.5L2176.5,2373.5L2177.9,2381.5L2179.5,2389.5L2181.2,2397.5L2182.9,2405.5L2184.4,2413.5L2185.8,2421.5L2187.2,2429.5L2188.4,2437.5L2189.4,2445.5L2190,2453.5L2190.6,2461.5L2191,2469.5L2191.3,2477.5L2191.4,2485.5L2190.9,2493.5L2190,2501.5L2189,2509.5L2188.1,2517.5L2187.5,2525.5L2187.2,2533.5L2186.8,2541.5L2186.5,2549.5L2186,2557.5L2185.4,2565.5L2184.6,2573.5L2183.8,2581.5L2182.8,2589.5L2181.4,2597.5L2179.6,2605.5L2177.4,2613.5L2175.1,2621.5L2172.7,2629.5L2170.1,2637.5L2167.2,2645.5L2164.3,2653.5L2161.4,2661.5L2158.5,2669.5L2155.7,2677.5L2152.8,2685.5L2150.1,2693.5L2147.5,2701.5L2145,2709.5L2142.6,2717.5L2140.2,2725.5L2138,2733.5L2135.9,2741.5L2133.9,2749.5L2131.9,2757.5L2130,2765.5L2128.2,2773.5L2126.8,2781.5L2125.4,2789.5L2123.9,2797.5L2122,2805.5L2119.7,2813.5L2115.9,2821.5L2111,2829.5L2105.9,2837.5L2100.8,2845.5L2095.4,2853.5L2089.9,2861.5L2084,2869.5L2078,2877.5L2071.9,2885.5L2065.9,2893.5L2059.9,2901.5L2053.9,2909.5L2047.5,2917.5L2041,2925.5L2035.1,2933.5L2030.4,2941.5L2025.6,2949.5L1786.3,2949.5Z" fill="#00f9ec" stroke="#b4b4b4" stroke-width="0.8"/>
<path d="M1786.3,2125.5L2024.7,2125.5L2028.3,2133.5L2031.9,2141.5L2035.6,2149.5L2038.4,2157.5L2042.4,2165.5L2047.5,2173.5L2054.3,2181.5L2061.5,2189.5L2068.5,2197.5L2075.6,2205.5L2082.2,2213.5L2087.8,2221.5L2092.8,2229.5L2097.7,2237.5L2103.1,2245.5L2110.2,2253.5L2117.9,2261.5L2124.5,2269.5L2129,2277.5L2132.5,2285.5L2135.5,2293.5L2138.2,2301.5L2140.6,2309.5L2142.8,2317.5L2144.8,2325.5L2146.4,2333.5L2147.8,2341.5L2149,2349.5L2150.3,2357.5L2151.5,2365.5L2152.7,2373.5L2153.9,2381.5L2155.1,2389.5L2156.3,2397.5L2157.5,2405.5L2158.7,2413.5L2159.9,2421.5L2161.1,2429.5L2162.3,2437.5L2163.7,2445.5L2165.1,2453.5L2166.1,2461.5L2166.8,2469.5L2167.4,2477.5L2167.9,2485.5L2168.3,2493.5L2168.4,2501.5L2167.9,2509.5L2166.7,2517.5L2165.4,2525.5L2164.7,2533.5L2164.2,2541.5L2163.9,2549.5L2163.5,2557.5L2163,2565.5L2161.9,2573.5L2160.4,2581.5L2158.7,2589.5L2156.9,2597.5L2155.1,2605.5L2153.2,2613.5L2151.2,2621.5L2149.1,2629.5L2147,2637.5L2144.7,2645.5L2142.3,2653.5L2139.9,2661.5L2137.4,2669.5L2134.9,2677.5L2132.4,2685.5L2129.9,2693.5L2127.3,2701.5L2124.8,2709.5L2122.2,2717.5L2119.8,2725.5L2117.5,2733.5L2115.2,2741.5L2112.9,2749.5L2110.2,2757.5L2106.9,2765.5L2103.3,2773.5L2099.3,2781.5L2095.2,2789.5L2090.9,2797.5L2086.3,2805.5L2081.5,2813.5L2076.5,2821.5L2071.1,2829.5L2065.4,2837.5L2059.4,2845.5L2053,2853.5L2046.2,2861.5L2039.2,2869.5L2032,2877.5L2024.6,2885.5L2017.3,2893.5L2009.9,2901.5L2002.7,2909.5L1995.7,2917.5L1988.9,2925.5L1983,2933.5L1978.3,2941.5L1973.5,2949.5L1786.3,2949.5Z" fill="#00e0b0"/>
<path d="M1786.3,2125.5L1999.2,2125.5L2001.9,2133.5L2004.6,2141.5L2007.2,2149.5L2009.4,2157.5L2012,2165.5L2015,2173.5L2018.5,2181.5L2022.6,2189.5L2027.3,2197.5L2032.2,2205.5L2037.5,2213.5L2043.4,2221.5L2049.6,2229.5L2056,2237.5L2062.9,2245.5L2070,2253.5L2077.1,2261.5L2084.2,2269.5L2091.5,2277.5L2098.2,2285.5L2103.8,2293.5L2108.7,2301.5L2113,2309.5L2116.8,2317.5L2120.3,2325.5L2123.3,2333.5L2125.7,2341.5L2127.2,2349.5L2128.5,2357.5L2129.5,2365.5L2130.6,2373.5L2131.7,2381.5L2132.9,2389.5L2134.1,2397.5L2135.3,2405.5L2136.5,2413.5L2137.8,2421.5L2139.1,2429.5L2140.3,2437.5L2141.4,2445.5L2142.4,2453.5L2143.5,2461.5L2144.5,2469.5L2145.2,2477.5L2145.4,2485.5L2145.2,2493.5L2144.8,2501.5L2144.3,2509.5L2143.7,2517.5L2143.3,2525.5L2142.9,2533.5L2142.4,2541.5L2141.7,2549.5L2140.6,2557.5L2139.1,2565.5L2137.2,2573.5L2135.3,2581.5L2133.3,2589.5L2131,2597.5L2128.5,2605.5L2126,2613.5L2123.3,2621.5L2120.5,2629.5L2117.4,2637.5L2114.5,2645.5L2112,2653.5L2110,2661.5L2108.2,2669.5L2106.6,2677.5L2105,2685.5L2103.4,2693.5L2101.8,2701.5L2100.4,2709.5L2098.9,2717.5L2097.2,2725.5L2095.2,2733.5L2092.8,2741.5L2090,2749.5L2087,2757.5L2083.7,2765.5L2080,2773.5L2075.9,2781.5L2071.4,2789.5L2066.5,2797.5L2060.9,2805.5L2054.7,2813.5L2048,2821.5L2040.7,2829.5L2032.7,2837.5L2024.2,2845.5L2014.7,2853.5L2004.9,2861.5L1995.5,2869.5L1986.5,2877.5L1978,2885.5L1970.2,2893.5L1962.9,2901.5L1956.3,2909.5L1950.3,2917.5L1944.9,2925.5L1940.2,2933.5L1936.4,2941.5L1932.6,2949.5L1786.3,2949.5Z" fill="#00c870" stroke="#b4b4b4" stroke-width="0.8"/>
<path d="M1786.3,2125.5L1964,2125.5L1967.2,2133.5L1970.4,2141.5L1973.6,2149.5L1976.4,2157.5L1979.6,2165.5L1983,2173.5L1986.8,2181.5L1991.1,2189.5L1995.7,2197.5L2000.4,2205.5L2005.4,2213.5L2010.5,2221.5L2015.9,2229.5L2021.5,2237.5L2027.3,2245.5L2033.4,2253.5L2039.7,2261.5L2046.2,2269.5L2052.9,2277.5L2059.9,2285.5L2067,2293.5L2074,2301.5L2081.5,2309.5L2088.8,2317.5L2094.4,2325.5L2098.7,2333.5L2102.3,2341.5L2104.6,2349.5L2105.9,2357.5L2106.8,2365.5L2107.6,2373.5L2108.7,2381.5L2109.8,2389.5L2111.1,2397.5L2112.3,2405.5L2113.5,2413.5L2114.7,2421.5L2116,2429.5L2117.3,2437.5L2118.4,2445.5L2119.4,2453.5L2120.5,2461.5L2121.4,2469.5L2122.1,2477.5L2122.3,2485.5L2122.1,2493.5L2121.7,2501.5L2121.2,2509.5L2120.7,2517.5L2120.3,2525.5L2119.8,2533.5L2119.3,2541.5L2118.7,2549.5L2117.8,2557.5L2116.8,2565.5L2115.5,2573.5L2114,2581.5L2112.1,2589.5L2109.5,2597.5L2106.5,2605.5L2103.3,2613.5L2100.2,2621.5L2096.7,2629.5L2093,2637.5L2089.7,2645.5L2087.2,2653.5L2085.6,2661.5L2084.4,2669.5L2083.4,2677.5L2082.3,2685.5L2080.9,2693.5L2079.4,2701.5L2077.7,2709.5L2075.8,2717.5L2073.8,2725.5L2071.4,2733.5L2068.6,2741.5L2065.5,2749.5L2062,2757.5L2058.3,2765.5L2053.9,2773.5L2049.1,2781.5L2043.8,2789.5L2037.8,2797.5L2030.9,2805.5L2023.5,2813.5L2015.1,2821.5L2006,2829.5L1996.7,2837.5L1987,2845.5L1977.3,2853.5L1967.5,2861.5L1957.9,2869.5L1949,2877.5L1940.7,2885.5L1933,2893.5L1925.7,2901.5L1918.6,2909.5L1912.8,2917.5L1908.7,2925.5L1905.6,2933.5L1902.7,2941.5L1899.9,2949.5L1786.3,2949.5Z" fill="#00b030" stroke="#b4b4b4" stroke-width="0.8"/>
<path d="M1786.3,2125.5L1927.2,2125.5L1930.2,2133.5L1933.3,2141.5L1936.4,2149.5L1939.1,2157.5L1942.2,2165.5L1945.7,2173.5L1949.6,2181.5L1954.1,2189.5L1958.8,2197.5L1963.6,2205.5L1968.6,2213.5L1973.9,2221.5L1979.4,2229.5L1985.1,2237.5L1991,2245.5L1997.2,2253.5L2003.6,2261.5L2010.1,2269.5L2016.8,2277.5L2023.8,2285.5L2031,2293.5L2038.6,2301.5L2046.8,2309.5L2054.9,2317.5L2063,2325.5L2072,2333.5L2077.8,2341.5L2079.2,2349.5L2080,2357.5L2080.6,2365.5L2081.2,2373.5L2082,2381.5L2082.7,2389.5L2083.5,2397.5L2084.3,2405.5L2085.2,2413.5L2086.2,2421.5L2087.4,2429.5L2088.7,2437.5L2090,2445.5L2091.2,2453.5L2092.4,2461.5L2093.6,2469.5L2094.8,2477.5L2096,2485.5L2097.3,2493.5L2098.6,2501.5L2099.7,2509.5L2100.3,2517.5L2100.3,2525.5L2100.1,2533.5L2099.7,2541.5L2099.2,2549.5L2098.5,2557.5L2097.5,2565.5L2096.1,2573.5L2094.5,2581.5L2092.5,2589.5L2089.6,2597.5L2086.2,2605.5L2082.8,2613.5L2078.7,2621.5L2074.3,2629.5L2070.4,2637.5L2067.4,2645.5L2064.8,2653.5L2062.4,2661.5L2060.2,2669.5L2058.1,2677.5L2056.1,2685.5L2054.2,2693.5L2052.5,2701.5L2050.9,2709.5L2049.2,2717.5L2047.2,2725.5L2044.7,2733.5L2041.8,2741.5L2038.4,2749.5L2034.5,2757.5L2029.9,2765.5L2024.4,2773.5L2018.2,2781.5L2011.3,2789.5L2003.4,2797.5L1994.8,2805.5L1985.6,2813.5L1975.8,2821.5L1966.1,2829.5L1956.3,2837.5L1946.8,2845.5L1937.7,2853.5L1928.8,2861.5L1920.5,2869.5L1912.7,2877.5L1905.4,2885.5L1898.4,2893.5L1891.4,2901.5L1884.5,2909.5L1878.9,2917.5L1874.4,2925.5L1870.8,2933.5L1868,2941.5L1865.1,2949.5L1786.3,2949.5Z" fill="#00a000" stroke="#b4b4b4" stroke-width="0.8"/>
<path d="M1786.3,2125.5L1877.4,2125.5L1881.7,2133.5L1886,2141.5L1890.3,2149.5L1894.4,2157.5L1898.8,2165.5L1903.3,2173.5L1908.1,2181.5L1913.1,2189.5L1918.3,2197.5L1923.5,2205.5L1928.8,2213.5L1934.2,2221.5L1939.5,2229.5L1944.8,2237.5L1950.1,2245.5L1955.4,2253.5L1960.8,2261.5L1966.4,2269.5L1972.3,2277.5L1978.3,2285.5L1984.6,2293.5L1991.3,2301.5L1998.3,2309.5L2005.2,2317.5L2012.5,2325.5L2019.8,2333.5L2026,2341.5L2031.1,2349.5L2035.6,2357.5L2038.7,2365.5L2040.1,2373.5L2040.9,2381.5L2041.6,2389.5L2042.4,2397.5L2043.5,2405.5L2044.8,2413.5L2046.1,2421.5L2047.6,2429.5L2049.3,2437.5L2051.2,2445.5L2053.2,2453.5L2055.4,2461.5L2057.7,2469.5L2060.1,2477.5L2062.7,2485.5L2065.5,2493.5L2069,2501.5L2074,2509.5L2077.8,2517.5L2078.1,2525.5L2078.1,2533.5L2078.1,2541.5L2076.5,2549.5L2073.1,2557.5L2069.7,2565.5L2065.7,2573.5L2061.5,2581.5L2057.6,2589.5L2054,2597.5L2050.6,2605.5L2047.4,2613.5L2044.2,2621.5L2041.2,2629.5L2038.3,2637.5L2035.6,2645.5L2033,2653.5L2030.4,2661.5L2027.9,2669.5L2025.6,2677.5L2023.4,2685.5L2021.5,2693.5L2020,2701.5L2018.6,2709.5L2017,2717.5L2014.8,2725.5L2012,2733.5L2008.7,2741.5L2004.8,2749.5L2000.2,2757.5L1994.6,2765.5L1988.1,2773.5L1979.9,2781.5L1970.4,2789.5L1960.4,2797.5L1949.5,2805.5L1938.7,2813.5L1927.7,2821.5L1917.4,2829.5L1908.3,2837.5L1899.7,2845.5L1891.4,2853.5L1883.2,2861.5L1875.4,2869.5L1867.8,2877.5L1860.3,2885.5L1853.4,2893.5L1847.1,2901.5L1841.2,2909.5L1835.9,2917.5L1831.2,2925.5L1827,2933.5L1822.6,2941.5L1818.2,2949.5L1786.3,2949.5Z" fill="#90e000" stroke="#b4b4b4" stroke-width="0.8"/>
<path d="M1786.3,2125.5L1809.2,2125.5L1817.7,2133.5L1826.4,2141.5L1834.7,2149.5L1842.6,2157.5L1850.1,2165.5L1856.8,2173.5L1862.7,2181.5L1868.5,2189.5L1874.5,2197.5L1881.3,2205.5L1888.4,2213.5L1895.2,2221.5L1901.5,2229.5L1907,2237.5L1911.2,2245.5L1914.7,2253.5L1918.2,2261.5L1922,2269.5L1926.4,2277.5L1931.3,2285.5L1936.1,2293.5L1940.6,2301.5L1944.6,2309.5L1948.2,2317.5L1951.6,2325.5L1955,2333.5L1958.4,2341.5L1961.7,2349.5L1965.2,2357.5L1969.3,2365.5L1974.2,2373.5L1978.9,2381.5L1982.6,2389.5L1986,2397.5L1988.9,2405.5L1991.3,2413.5L1993.3,2421.5L1994.9,2429.5L1996.4,2437.5L1997.8,2445.5L1999.2,2453.5L2000.5,2461.5L2001.7,2469.5L2002.8,2477.5L2003.8,2485.5L2004.9,2493.5L2005.9,2501.5L2006.7,2509.5L2007.2,2517.5L2007.2,2525.5L2007.2,2533.5L2007.1,2541.5L2006.2,2549.5L2004.7,2557.5L2002.9,2565.5L2001.1,2573.5L1999.6,2581.5L1998.1,2589.5L1996.6,2597.5L1995.1,2605.5L1993.8,2613.5L1992.8,2621.5L1991.8,2629.5L1991,2637.5L1990.2,2645.5L1989.6,2653.5L1989.1,2661.5L1988.7,2669.5L1988.3,2677.5L1987.9,2685.5L1987.3,2693.5L1986.4,2701.5L1985.3,2709.5L1984,2717.5L1982.5,2725.5L1980.5,2733.5L1977.4,2741.5L1972,2749.5L1965.2,2757.5L1955.5,2765.5L1944,2773.5L1930,2781.5L1916.8,2789.5L1904.9,2797.5L1893,2805.5L1881.1,2813.5L1868.8,2821.5L1856.1,2829.5L1844.4,2837.5L1833.1,2845.5L1820.9,2853.5L1808,2861.5L1796.3,2869.5L1796.3,2949.5L1786.3,2949.5Z" fill="#ffe400"/>
<path d="M1786.3,2125.5L1796.3,2125.5L1796.3,2181.5L1804.3,2189.5L1814.4,2197.5L1824.6,2205.5L1834.6,2213.5L1844.7,2221.5L1853.8,2229.5L1862,2237.5L1869.1,2245.5L1875.1,2253.5L1880.6,2261.5L1885.9,2269.5L1891.1,2277.5L1896.1,2285.5L1901,2293.5L1905.7,2301.5L1910.4,2309.5L1914.9,2317.5L1919.1,2325.5L1922.8,2333.5L1926.4,2341.5L1929.6,2349.5L1932.1,2357.5L1934.1,2365.5L1935.9,2373.5L1937.3,2381.5L1938.1,2389.5L1938.1,2397.5L1937.8,2405.5L1937.2,2413.5L1936.6,2421.5L1935.7,2429.5L1934.1,2437.5L1932,2445.5L1929.9,2453.5L1927.8,2461.5L1925.6,2469.5L1923.3,2477.5L1921.1,2485.5L1918.7,2493.5L1916,2501.5L1913.5,2509.5L1911.8,2517.5L1911.2,2525.5L1910.8,2533.5L1910.6,2541.5L1910.5,2549.5L1911,2557.5L1911.8,2565.5L1912.9,2573.5L1914.1,2581.5L1915.5,2589.5L1917.2,2597.5L1919,2605.5L1920.7,2613.5L1922.5,2621.5L1924.3,2629.5L1926.2,2637.5L1928.1,2645.5L1929.8,2653.5L1931.8,2661.5L1933.8,2669.5L1935.7,2677.5L1937,2685.5L1937.8,2693.5L1938.3,2701.5L1938.5,2709.5L1938.1,2717.5L1936.8,2725.5L1928.6,2733.5L1912.1,2741.5L1892.5,2749.5L1875.4,2757.5L1858.2,2765.5L1839.7,2773.5L1819.4,2781.5L1799,2789.5L1796.3,2797.5L1796.3,2949.5L1786.3,2949.5Z" fill="#ffa300" stroke="#b4b4b4" stroke-width="0.8"/>
<path d="M1786.3,2125.5L1796.3,2125.5L1796.3,2229.5L1797.9,2237.5L1807.9,2245.5L1818.1,2253.5L1828.2,2261.5L1838.2,2269.5L1848.2,2277.5L1856,2285.5L1862.6,2293.5L1868.3,2301.5L1873.5,2309.5L1878.1,2317.5L1882.1,2325.5L1885.3,2333.5L1888.4,2341.5L1890.9,2349.5L1892.6,2357.5L1893.1,2365.5L1893.5,2373.5L1893.7,2381.5L1893.9,2389.5L1893.6,2397.5L1892.2,2405.5L1890,2413.5L1887.6,2421.5L1884.8,2429.5L1881.1,2437.5L1876.7,2445.5L1872.2,2453.5L1867.6,2461.5L1862.8,2469.5L1857.7,2477.5L1852.2,2485.5L1846.1,2493.5L1839.7,2501.5L1833.3,2509.5L1827,2517.5L1820.7,2525.5L1814.4,2533.5L1808.1,2541.5L1801.8,2549.5L1796.3,2557.5L1796.3,2949.5L1786.3,2949.5Z" fill="#ff6000" stroke="#b4b4b4" stroke-width="0.8"/>
<path d="M1786.3,2125.5L1796.3,2125.5L1796.3,2277.5L1800.3,2285.5L1810.4,2293.5L1821.3,2301.5L1831.3,2309.5L1839.8,2317.5L1846.5,2325.5L1851.1,2333.5L1854.5,2341.5L1857.4,2349.5L1859.3,2357.5L1859.3,2365.5L1858.2,2373.5L1856.7,2381.5L1853.9,2389.5L1849.1,2397.5L1840.1,2405.5L1829.1,2413.5L1817.8,2421.5L1806.5,2429.5L1796.3,2437.5L1796.3,2949.5L1786.3,2949.5Z" fill="#ff1000" stroke="#b4b4b4" stroke-width="0.8"/>
<path d="M2024.7,2125.5L2028.3,2133.5L2031.9,2141.5L2035.6,2149.5L2038.4,2157.5L2042.4,2165.5L2047.5,2173.5L2054.3,2181.5L2061.5,2189.5L2068.5,2197.5L2075.6,2205.5L2082.2,2213.5M2124.5,2269.5L2129,2277.5L2132.5,2285.5L2135.5,2293.5L2138.2,2301.5L2140.6,2309.5L2142.8,2317.5L2144.8,2325.5L2146.4,2333.5L2147.8,2341.5L2149,2349.5L2150.3,2357.5L2151.5,2365.5L2152.7,2373.5L2153.9,2381.5L2155.1,2389.5L2156.3,2397.5L2157.5,2405.5L2158.7,2413.5L2159.9,2421.5L2161.1,2429.5L2162.3,2437.5L2163.7,2445.5L2165.1,2453.5L2166.1,2461.5L2166.8,2469.5L2167.4,2477.5L2167.9,2485.5L2168.3,2493.5L2168.4,2501.5L2167.9,2509.5L2166.7,2517.5L2165.4,2525.5M2156.9,2597.5L2155.1,2605.5L2153.2,2613.5L2151.2,2621.5L2149.1,2629.5L2147,2637.5L2144.7,2645.5L2142.3,2653.5L2139.9,2661.5L2137.4,2669.5L2134.9,2677.5L2132.4,2685.5L2129.9,2693.5L2127.3,2701.5L2124.8,2709.5L2122.2,2717.5L2119.8,2725.5L2117.5,2733.5L2115.2,2741.5L2112.9,2749.5L2110.2,2757.5L2106.9,2765.5L2103.3,2773.5L2099.3,2781.5L2095.2,2789.5L2090.9,2797.5L2086.3,2805.5L2081.5,2813.5L2076.5,2821.5L2071.1,2829.5L2065.4,2837.5L2059.4,2845.5L2053,2853.5L2046.2,2861.5L2039.2,2869.5L2032,2877.5L2024.6,2885.5L2017.3,2893.5L2009.9,2901.5L2002.7,2909.5L1995.7,2917.5L1988.9,2925.5L1983,2933.5L1978.3,2941.5L1973.5,2949.5" fill="none" stroke="#000" stroke-width="1.15"/>
<path d="M1809.2,2125.5L1817.7,2133.5L1826.4,2141.5L1834.7,2149.5L1842.6,2157.5L1850.1,2165.5L1856.8,2173.5L1862.7,2181.5L1868.5,2189.5L1874.5,2197.5L1881.3,2205.5L1888.4,2213.5L1895.2,2221.5L1901.5,2229.5L1907,2237.5M1940.6,2301.5L1944.6,2309.5L1948.2,2317.5L1951.6,2325.5L1955,2333.5L1958.4,2341.5L1961.7,2349.5L1965.2,2357.5L1969.3,2365.5L1974.2,2373.5L1978.9,2381.5L1982.6,2389.5L1986,2397.5L1988.9,2405.5L1991.3,2413.5L1993.3,2421.5L1994.9,2429.5L1996.4,2437.5L1997.8,2445.5L1999.2,2453.5L2000.5,2461.5L2001.7,2469.5L2002.8,2477.5L2003.8,2485.5L2004.9,2493.5L2005.9,2501.5L2006.7,2509.5L2007.2,2517.5L2007.2,2525.5L2007.2,2533.5L2007.1,2541.5M1993.8,2613.5L1992.8,2621.5L1991.8,2629.5L1991,2637.5L1990.2,2645.5L1989.6,2653.5L1989.1,2661.5L1988.7,2669.5L1988.3,2677.5L1987.9,2685.5L1987.3,2693.5L1986.4,2701.5L1985.3,2709.5L1984,2717.5L1982.5,2725.5L1980.5,2733.5L1977.4,2741.5L1972,2749.5L1965.2,2757.5L1955.5,2765.5L1944,2773.5L1930,2781.5L1916.8,2789.5L1904.9,2797.5L1893,2805.5L1881.1,2813.5L1868.8,2821.5L1856.1,2829.5L1844.4,2837.5L1833.1,2845.5L1820.9,2853.5L1808,2861.5L1796.3,2869.5L1796.3,2949.5" fill="none" stroke="#000" stroke-width="1.15"/>
<text transform="translate(2102.9 2245.1) rotate(50)" font-size="44" text-anchor="middle" fill="#171717" dy="0.33em">50</text>
<text transform="translate(1922.2 2269.9) rotate(55)" font-size="44" text-anchor="middle" fill="#171717" dy="0.33em">75</text>
<text transform="translate(2163.1 2564.3) rotate(-83)" font-size="44" text-anchor="middle" fill="#171717" dy="0.33em">50</text>
<text transform="translate(2000.1 2578.4) rotate(-75)" font-size="44" text-anchor="middle" fill="#171717" dy="0.33em">75</text>
</g>
<rect x="1836.3" y="2149.5" width="472.2" height="783" fill="none" stroke="#858585" stroke-width="1.5"/>
<path d="M1875.6,2149.5v-10 M1875.6,2932.5v10M1954.3,2149.5v-10 M1954.3,2932.5v10M2033,2149.5v-10 M2033,2932.5v10M2111.8,2149.5v-10 M2111.8,2932.5v10M2190.4,2149.5v-10 M2190.4,2932.5v10M2269.2,2149.5v-10 M2269.2,2932.5v10M1836.3,2149.5h-10 M2308.5,2149.5h10M1836.3,2227.8h-10 M2308.5,2227.8h10M1836.3,2306.1h-10 M2308.5,2306.1h10M1836.3,2384.4h-10 M2308.5,2384.4h10M1836.3,2462.7h-10 M2308.5,2462.7h10M1836.3,2541h-10 M2308.5,2541h10M1836.3,2619.3h-10 M2308.5,2619.3h10M1836.3,2697.6h-10 M2308.5,2697.6h10M1836.3,2775.9h-10 M2308.5,2775.9h10M1836.3,2854.2h-10 M2308.5,2854.2h10M1836.3,2932.5h-10 M2308.5,2932.5h10" stroke="#858585" stroke-width="1.4" fill="none"/>
<text transform="translate(1875.6 2984.7) scale(0.980 1)" font-size="46.8" text-anchor="middle" fill="#171717">4</text>
<text transform="translate(1954.3 2984.7) scale(0.980 1)" font-size="46.8" text-anchor="middle" fill="#171717">6</text>
<text transform="translate(2033 2984.7) scale(0.980 1)" font-size="46.8" text-anchor="middle" fill="#171717">8</text>
<text transform="translate(2111.8 2984.7) scale(0.980 1)" font-size="46.8" text-anchor="middle" fill="#171717">10</text>
<text transform="translate(2190.4 2984.7) scale(0.980 1)" font-size="46.8" text-anchor="middle" fill="#171717">12</text>
<text transform="translate(2269.2 2984.7) scale(0.980 1)" font-size="46.8" text-anchor="middle" fill="#171717">14</text>
<text transform="translate(1823.8 2165.1) scale(0.980 1)" font-size="46.8" text-anchor="end" fill="#171717">0</text>
<text transform="translate(1823.8 2243.4) scale(0.980 1)" font-size="46.8" text-anchor="end" fill="#171717">-2</text>
<text transform="translate(1823.8 2321.7) scale(0.980 1)" font-size="46.8" text-anchor="end" fill="#171717">-4</text>
<text transform="translate(1823.8 2400) scale(0.980 1)" font-size="46.8" text-anchor="end" fill="#171717">-6</text>
<text transform="translate(1823.8 2478.3) scale(0.980 1)" font-size="46.8" text-anchor="end" fill="#171717">-8</text>
<text transform="translate(1823.8 2556.6) scale(0.980 1)" font-size="46.8" text-anchor="end" fill="#171717">-10</text>
<text transform="translate(1823.8 2634.9) scale(0.980 1)" font-size="46.8" text-anchor="end" fill="#171717">-12</text>
<text transform="translate(1823.8 2713.2) scale(0.980 1)" font-size="46.8" text-anchor="end" fill="#171717">-14</text>
<text transform="translate(1823.8 2791.5) scale(0.980 1)" font-size="46.8" text-anchor="end" fill="#171717">-16</text>
<text transform="translate(1823.8 2869.8) scale(0.980 1)" font-size="46.8" text-anchor="end" fill="#171717">-18</text>
<text transform="translate(1823.8 2948.1) scale(0.980 1)" font-size="46.8" text-anchor="end" fill="#171717">-20</text>
<text transform="translate(2072.4 3044.2) scale(0.966 1)" font-size="46.9" text-anchor="middle" fill="#171717">Horizontal distance/cm</text>
<text transform="translate(1742.3 2541) rotate(-90) scale(0.972 1)" font-size="46.9" text-anchor="middle" fill="#171717">Vertical distance/cm</text>
<text transform="translate(2087 3118.9)" font-size="61" text-anchor="middle" fill="#000">180 s</text>
<rect x="2383.6" y="2779.3" width="33.2" height="34.8" fill="#00007b" stroke="#2a2a2a" stroke-width="1.1"/>
<rect x="2383.6" y="2744.4" width="33.2" height="34.8" fill="#0000ff" stroke="#2a2a2a" stroke-width="1.1"/>
<rect x="2383.6" y="2709.6" width="33.2" height="34.8" fill="#0058ff" stroke="#2a2a2a" stroke-width="1.1"/>
<rect x="2383.6" y="2674.8" width="33.2" height="34.8" fill="#00c0ff" stroke="#2a2a2a" stroke-width="1.1"/>
<rect x="2383.6" y="2639.9" width="33.2" height="34.8" fill="#00f9ec" stroke="#2a2a2a" stroke-width="1.1"/>
<rect x="2383.6" y="2605.1" width="33.2" height="34.8" fill="#00e0b0" stroke="#2a2a2a" stroke-width="1.1"/>
<rect x="2383.6" y="2570.3" width="33.2" height="34.8" fill="#00c870" stroke="#2a2a2a" stroke-width="1.1"/>
<rect x="2383.6" y="2535.4" width="33.2" height="34.8" fill="#00b030" stroke="#2a2a2a" stroke-width="1.1"/>
<rect x="2383.6" y="2500.6" width="33.2" height="34.8" fill="#00a000" stroke="#2a2a2a" stroke-width="1.1"/>
<rect x="2383.6" y="2465.8" width="33.2" height="34.8" fill="#90e000" stroke="#2a2a2a" stroke-width="1.1"/>
<rect x="2383.6" y="2430.9" width="33.2" height="34.8" fill="#ffe400" stroke="#2a2a2a" stroke-width="1.1"/>
<rect x="2383.6" y="2396.1" width="33.2" height="34.8" fill="#ffa300" stroke="#2a2a2a" stroke-width="1.1"/>
<rect x="2383.6" y="2361.3" width="33.2" height="34.8" fill="#ff6000" stroke="#2a2a2a" stroke-width="1.1"/>
<rect x="2383.6" y="2326.4" width="33.2" height="34.8" fill="#ff1000" stroke="#2a2a2a" stroke-width="1.1"/>
<rect x="2383.6" y="2291.6" width="33.2" height="34.8" fill="#ff3030" stroke="#2a2a2a" stroke-width="1.1"/>
<text transform="translate(2426.8 2831.6) scale(0.970 1)" font-size="46" text-anchor="start" fill="#171717">25</text>
<text transform="translate(2426.8 2761.9) scale(0.970 1)" font-size="46" text-anchor="start" fill="#171717">35</text>
<text transform="translate(2426.8 2692.3) scale(0.970 1)" font-size="46" text-anchor="start" fill="#171717">45</text>
<text transform="translate(2426.8 2622.6) scale(0.970 1)" font-size="46" text-anchor="start" fill="#171717">55</text>
<text transform="translate(2426.8 2552.9) scale(0.970 1)" font-size="46" text-anchor="start" fill="#171717">65</text>
<text transform="translate(2426.8 2483.3) scale(0.970 1)" font-size="46" text-anchor="start" fill="#171717">75</text>
<text transform="translate(2426.8 2413.6) scale(0.970 1)" font-size="46" text-anchor="start" fill="#171717">85</text>
<text transform="translate(2426.8 2343.9) scale(0.970 1)" font-size="46" text-anchor="start" fill="#171717">95</text></g>
<g><clipPath id="c9"><rect x="156" y="3161.6" width="472" height="782.4"/></clipPath>
<rect x="156" y="3161.6" width="472" height="782.4" fill="#00007b"/>
<g clip-path="url(#c9)" stroke-linejoin="round">
<path d="M106,3137.6L668,3137.6L668,3625.6L665,3633.6L661.8,3641.6L658.6,3649.6L655.2,3657.6L651.9,3665.6L648.5,3673.6L644.9,3681.6L640.9,3689.6L636.6,3697.6L632.4,3705.6L628.5,3713.6L625,3721.6L621.8,3729.6L619.4,3737.6L617.4,3745.6L616.1,3753.6L615.5,3761.6L615.1,3769.6L614.8,3777.6L614.5,3785.6L614.3,3793.6L614.1,3801.6L613.8,3809.6L613.6,3817.6L613,3825.6L612.3,3833.6L611.3,3841.6L610.4,3849.6L609.6,3857.6L608.8,3865.6L608,3873.6L607.2,3881.6L606.4,3889.6L605.6,3897.6L604.8,3905.6L604,3913.6L603.2,3921.6L602.4,3929.6L601.7,3937.6L601,3945.6L600.3,3953.6L599.5,3961.6L106,3961.6Z" fill="#0000ff" stroke="#b4b4b4" stroke-width="0.8"/>
<path d="M106,3137.6L668,3137.6L668,3345.6L667.3,3353.6L665.1,3361.6L662.9,3369.6L660.5,3377.6L658.2,3385.6L655.8,3393.6L653.3,3401.6L650.9,3409.6L648.3,3417.6L645.5,3425.6L641.4,3433.6L636.5,3441.6L631.8,3449.6L628.1,3457.6L625.3,3465.6L622.8,3473.6L620.6,3481.6L618.4,3489.6L616.2,3497.6L614.2,3505.6L612.4,3513.6L610.8,3521.6L609.3,3529.6L607.9,3537.6L606.8,3545.6L605.9,3553.6L605.3,3561.6L604.7,3569.6L604.3,3577.6L603.9,3585.6L603.6,3593.6L603.1,3601.6L602.6,3609.6L602,3617.6L601.2,3625.6L600.3,3633.6L599.3,3641.6L598,3649.6L596.5,3657.6L594.7,3665.6L592.9,3673.6L591,3681.6L589.1,3689.6L587.1,3697.6L584.9,3705.6L582.9,3713.6L580.9,3721.6L579.2,3729.6L577.5,3737.6L576,3745.6L574.7,3753.6L573.7,3761.6L572.9,3769.6L572.2,3777.6L571.5,3785.6L570.6,3793.6L569.7,3801.6L568.8,3809.6L567.9,3817.6L567,3825.6L566,3833.6L565,3841.6L564,3849.6L562.9,3857.6L561.9,3865.6L560.8,3873.6L559.7,3881.6L558.6,3889.6L557.3,3897.6L556,3905.6L554.8,3913.6L553.7,3921.6L552.8,3929.6L552,3937.6L551.4,3945.6L550.7,3953.6L549.9,3961.6L106,3961.6Z" fill="#0058ff" stroke="#b4b4b4" stroke-width="0.8"/>
<path d="M106,3137.6L668,3137.6L668,3241.6L667.6,3249.6L663.2,3257.6L658.7,3265.6L654.2,3273.6L649.5,3281.6L643.3,3289.6L636,3297.6L628.9,3305.6L622.1,3313.6L615.7,3321.6L609.7,3329.6L604.2,3337.6L600.1,3345.6L597,3353.6L594.7,3361.6L593.2,3369.6L592,3377.6L591.1,3385.6L590.4,3393.6L590,3401.6L589.6,3409.6L589.3,3417.6L588.9,3425.6L588.3,3433.6L587.6,3441.6L586.7,3449.6L585.8,3457.6L585,3465.6L584.1,3473.6L583.2,3481.6L582.4,3489.6L581.7,3497.6L581.3,3505.6L580.9,3513.6L580.5,3521.6L580.1,3529.6L579.7,3537.6L579.3,3545.6L578.8,3553.6L578.2,3561.6L577.6,3569.6L577.1,3577.6L576.5,3585.6L575.8,3593.6L575,3601.6L574.1,3609.6L573,3617.6L571.8,3625.6L570.4,3633.6L568.9,3641.6L567.2,3649.6L565.2,3657.6L563,3665.6L560.5,3673.6L558,3681.6L555.5,3689.6L552.9,3697.6L550.2,3705.6L547.5,3713.6L545,3721.6L542.7,3729.6L540.7,3737.6L538.9,3745.6L537.5,3753.6L536.5,3761.6L535.7,3769.6L535.1,3777.6L534.3,3785.6L533.4,3793.6L532.3,3801.6L531.2,3809.6L529.9,3817.6L528.6,3825.6L527.2,3833.6L525.6,3841.6L523.9,3849.6L522,3857.6L520,3865.6L518.1,3873.6L516.2,3881.6L514.5,3889.6L512.8,3897.6L511.1,3905.6L509.4,3913.6L507.8,3921.6L506.3,3929.6L504.9,3937.6L503.4,3945.6L502,3953.6L500.5,3961.6L106,3961.6Z" fill="#00c0ff" stroke="#b4b4b4" stroke-width="0.8"/>
<path d="M106,3137.6L668,3137.6L668,3209.6L662.7,3217.6L655,3225.6L646.6,3233.6L634.9,3241.6L622.8,3249.6L612,3257.6L603.7,3265.6L596.7,3273.6L590.4,3281.6L584.7,3289.6L579.7,3297.6L574.9,3305.6L570.6,3313.6L567.6,3321.6L565.8,3329.6L564.5,3337.6L563.3,3345.6L562.3,3353.6L561.4,3361.6L560.4,3369.6L559.3,3377.6L558,3385.6L556.8,3393.6L555.8,3401.6L555.2,3409.6L555.1,3417.6L555.1,3425.6L555.1,3433.6L555.1,3441.6L555.1,3449.6L555,3457.6L554.8,3465.6L554.6,3473.6L554.4,3481.6L554.1,3489.6L553.8,3497.6L553.5,3505.6L553.3,3513.6L553.3,3521.6L553.3,3529.6L553.3,3537.6L552.7,3545.6L551.8,3553.6L551,3561.6L550.2,3569.6L549.3,3577.6L548.3,3585.6L547.1,3593.6L545.7,3601.6L544,3609.6L542.2,3617.6L540.4,3625.6L538.4,3633.6L536.3,3641.6L534.3,3649.6L532.7,3657.6L531.3,3665.6L530.1,3673.6L528.9,3681.6L527.5,3689.6L525.9,3697.6L523.7,3705.6L520.5,3713.6L516.8,3721.6L513.3,3729.6L510.6,3737.6L508.6,3745.6L507,3753.6L505.5,3761.6L504.2,3769.6L503.1,3777.6L502,3785.6L500.8,3793.6L499.3,3801.6L497.4,3809.6L495.4,3817.6L493.1,3825.6L490.8,3833.6L488.3,3841.6L485.6,3849.6L482.7,3857.6L479.6,3865.6L476.4,3873.6L473.1,3881.6L469.9,3889.6L466.6,3897.6L463.2,3905.6L459.9,3913.6L456.9,3921.6L454.4,3929.6L452.2,3937.6L450.2,3945.6L448,3953.6L445.8,3961.6L106,3961.6Z" fill="#00f9ec"/>
<path d="M106,3137.6L668,3137.6L668,3145.6L665.3,3153.6L654.3,3161.6L642.8,3169.6L632,3177.6L622,3185.6L612.8,3193.6L604.3,3201.6L596.4,3209.6L588.9,3217.6L581.6,3225.6L574.7,3233.6L568.5,3241.6L563.1,3249.6L558.1,3257.6L553.4,3265.6L549,3273.6L544.8,3281.6L540.8,3289.6L537.2,3297.6L533.8,3305.6L530.6,3313.6L527.9,3321.6L525.7,3329.6L523.7,3337.6L522.1,3345.6L521.4,3353.6L521.6,3361.6L522,3369.6L522.5,3377.6L523.2,3385.6L524.1,3393.6L525.3,3401.6L526.7,3409.6L528,3417.6L529,3425.6L530.1,3433.6L531.1,3441.6L531.8,3449.6L532,3457.6L532,3465.6L532,3473.6L532,3481.6L532,3489.6L531.9,3497.6L531.4,3505.6L530.6,3513.6L529.8,3521.6L528.9,3529.6L528.3,3537.6L527.9,3545.6L527.5,3553.6L526.9,3561.6L526,3569.6L524.6,3577.6L522.8,3585.6L520.9,3593.6L518.9,3601.6L516.7,3609.6L514.2,3617.6L511.7,3625.6L509.2,3633.6L506.8,3641.6L504.4,3649.6L502,3657.6L499.6,3665.6L497.2,3673.6L494.8,3681.6L492.5,3689.6L490.1,3697.6L487.6,3705.6L485,3713.6L482.4,3721.6L479.7,3729.6L476.9,3737.6L474,3745.6L471,3753.6L467.9,3761.6L464.8,3769.6L461.7,3777.6L458.5,3785.6L455.3,3793.6L451.9,3801.6L447.7,3809.6L442.9,3817.6L438.5,3825.6L435.4,3833.6L434.7,3841.6L435.6,3849.6L437.3,3857.6L439,3865.6L439.9,3873.6L438.7,3881.6L433.8,3889.6L427.9,3897.6L422.8,3905.6L417.5,3913.6L412,3921.6L406.2,3929.6L399.9,3937.6L394.1,3945.6L388.9,3953.6L383.6,3961.6L106,3961.6Z" fill="#00e0b0" stroke="#b4b4b4" stroke-width="0.8"/>
<path d="M106,3137.6L541.6,3137.6L538.4,3145.6L535.2,3153.6L532.1,3161.6L528.8,3169.6L525.7,3177.6L522.6,3185.6L519.4,3193.6L516.2,3201.6L513.4,3209.6L511,3217.6L508.8,3225.6L506.9,3233.6L505,3241.6L503.3,3249.6L501.7,3257.6L500.2,3265.6L498.8,3273.6L497.5,3281.6L496.1,3289.6L494.8,3297.6L493.6,3305.6L492.4,3313.6L491.4,3321.6L490.3,3329.6L489.3,3337.6L488.4,3345.6L487.8,3353.6L487.8,3361.6L488,3369.6L488.5,3377.6L489,3385.6L489.6,3393.6L490.4,3401.6L491.6,3409.6L493,3417.6L494.4,3425.6L495.8,3433.6L497.6,3441.6L499.3,3449.6L501,3457.6L502.2,3465.6L503.3,3473.6L504.3,3481.6L505.1,3489.6L505.5,3497.6L505.5,3505.6L505.5,3513.6L505.5,3521.6L505.5,3529.6L505.5,3537.6L505.2,3545.6L504.6,3553.6L503.9,3561.6L502.8,3569.6L501,3577.6L498.7,3585.6L496.3,3593.6L494.1,3601.6L491.7,3609.6L489.3,3617.6L486.8,3625.6L484.4,3633.6L482,3641.6L479.6,3649.6L477.2,3657.6L474.8,3665.6L472.4,3673.6L470,3681.6L467.7,3689.6L465.3,3697.6L462.8,3705.6L460.2,3713.6L457.6,3721.6L454.9,3729.6L452.1,3737.6L448.7,3745.6L445,3753.6L442.3,3761.6L441.4,3769.6L441,3777.6L440.7,3785.6L440.4,3793.6L439.4,3801.6L436.1,3809.6L431.5,3817.6L426.7,3825.6L422.4,3833.6L417.9,3841.6L413.2,3849.6L408.4,3857.6L403.4,3865.6L398.2,3873.6L392.9,3881.6L387.4,3889.6L381.7,3897.6L375.9,3905.6L370.2,3913.6L364.1,3921.6L358,3929.6L352.3,3937.6L347.3,3945.6L343.2,3953.6L339,3961.6L106,3961.6Z" fill="#00c870" stroke="#b4b4b4" stroke-width="0.8"/>
<path d="M106,3137.6L364.2,3137.6L373.5,3145.6L382.8,3153.6L392.1,3161.6L401.9,3169.6L410.6,3177.6L418.3,3185.6L425.2,3193.6L431,3201.6L435.8,3209.6L440,3217.6L443.6,3225.6L446.5,3233.6L449.1,3241.6L451.3,3249.6L453.2,3257.6L454.8,3265.6L456.2,3273.6L457.4,3281.6L458.5,3289.6L459.5,3297.6L460.4,3305.6L461.3,3313.6L462.1,3321.6L462.7,3329.6L463.3,3337.6L463.8,3345.6L464.2,3353.6L464.6,3361.6L465,3369.6L465.4,3377.6L465.7,3385.6L466.1,3393.6L466.6,3401.6L467.3,3409.6L468.1,3417.6L469,3425.6L469.9,3433.6L470.7,3441.6L471.6,3449.6L472.4,3457.6L473.2,3465.6L473.8,3473.6L474.3,3481.6L474.8,3489.6L475.2,3497.6L475.4,3505.6L475.4,3513.6L475.4,3521.6L475.4,3529.6L475.3,3537.6L475,3545.6L474.5,3553.6L473.8,3561.6L472.8,3569.6L471.4,3577.6L469.6,3585.6L467.7,3593.6L465.9,3601.6L464,3609.6L462,3617.6L460,3625.6L457.8,3633.6L455.6,3641.6L453.2,3649.6L450.7,3657.6L448.2,3665.6L445.8,3673.6L443.1,3681.6L440.5,3689.6L438.1,3697.6L436.3,3705.6L435,3713.6L434.1,3721.6L433.2,3729.6L432.4,3737.6L431.2,3745.6L429.6,3753.6L427,3761.6L423.6,3769.6L419.8,3777.6L416,3785.6L412.1,3793.6L408,3801.6L403.6,3809.6L398.9,3817.6L393.6,3825.6L388,3833.6L382.2,3841.6L376.3,3849.6L370.3,3857.6L364,3865.6L357.3,3873.6L350,3881.6L342.4,3889.6L335,3897.6L327.6,3905.6L320.2,3913.6L313.2,3921.6L306.3,3929.6L299.8,3937.6L293.9,3945.6L288.7,3953.6L283.5,3961.6L106,3961.6Z" fill="#00b030" stroke="#b4b4b4" stroke-width="0.8"/>
<path d="M106,3137.6L349.9,3137.6L352.2,3145.6L354.4,3153.6L356.7,3161.6L358.7,3169.6L361.1,3177.6L363.9,3185.6L367.1,3193.6L370.8,3201.6L375.4,3209.6L380.4,3217.6L385.3,3225.6L390.3,3233.6L395.3,3241.6L400.3,3249.6L405.1,3257.6L410.1,3265.6L415.1,3273.6L419.7,3281.6L423.7,3289.6L427.1,3297.6L430.1,3305.6L432.5,3313.6L434.4,3321.6L436,3329.6L437.3,3337.6L438.5,3345.6L439.5,3353.6L440.5,3361.6L441.3,3369.6L441.9,3377.6L442.3,3385.6L442.7,3393.6L443.1,3401.6L443.4,3409.6L443.8,3417.6L444.2,3425.6L444.6,3433.6L445,3441.6L445.4,3449.6L445.8,3457.6L446.2,3465.6L446.6,3473.6L447,3481.6L447.4,3489.6L447.8,3497.6L448.1,3505.6L448.6,3513.6L449.3,3521.6L450.3,3529.6L450.4,3537.6L448.8,3545.6L447.6,3553.6L446.5,3561.6L445.4,3569.6L444.1,3577.6L442.6,3585.6L440.7,3593.6L438.6,3601.6L436.4,3609.6L434.4,3617.6L432.4,3625.6L430.4,3633.6L428.4,3641.6L426.4,3649.6L424.2,3657.6L421.9,3665.6L419.5,3673.6L417.2,3681.6L414.8,3689.6L412.5,3697.6L410.3,3705.6L408.2,3713.6L406.2,3721.6L403.9,3729.6L401.5,3737.6L398.9,3745.6L396,3753.6L392.9,3761.6L389.5,3769.6L385.6,3777.6L381.2,3785.6L376.5,3793.6L371.5,3801.6L365.9,3809.6L360,3817.6L353.8,3825.6L347.4,3833.6L340.5,3841.6L333.5,3849.6L326.4,3857.6L319.2,3865.6L311.7,3873.6L303.9,3881.6L295.7,3889.6L287.7,3897.6L280.2,3905.6L272.9,3913.6L265.9,3921.6L259.2,3929.6L252.8,3937.6L246.9,3945.6L241.7,3953.6L236.5,3961.6L106,3961.6Z" fill="#00a000"/>
<path d="M106,3137.6L318.1,3137.6L319.8,3145.6L321.4,3153.6L323,3161.6L324.3,3169.6L325.9,3177.6L327.9,3185.6L330.2,3193.6L333,3201.6L336.3,3209.6L339.8,3217.6L343.8,3225.6L348.3,3233.6L353,3241.6L357.8,3249.6L363,3257.6L368.3,3265.6L373.8,3273.6L379.4,3281.6L385.3,3289.6L391.2,3297.6L396.4,3305.6L401,3313.6L405.1,3321.6L408.2,3329.6L410.4,3337.6L412.2,3345.6L413.3,3353.6L414,3361.6L414.6,3369.6L415,3377.6L415.1,3385.6L415.1,3393.6L415.1,3401.6L415.1,3409.6L415.1,3417.6L415.2,3425.6L415.5,3433.6L415.9,3441.6L416.4,3449.6L417,3457.6L417.7,3465.6L418.5,3473.6L419.4,3481.6L420.2,3489.6L421,3497.6L421.9,3505.6L422.7,3513.6L423.4,3521.6L423.9,3529.6L424,3537.6L423.7,3545.6L423.1,3553.6L422.4,3561.6L421.3,3569.6L419.2,3577.6L416.9,3585.6L414.6,3593.6L412.5,3601.6L410.3,3609.6L408.1,3617.6L405.7,3625.6L403.1,3633.6L400.5,3641.6L397.7,3649.6L394.9,3657.6L391.8,3665.6L388.6,3673.6L385.3,3681.6L382.3,3689.6L379.8,3697.6L377.8,3705.6L376.2,3713.6L374.9,3721.6L373.4,3729.6L371.7,3737.6L369.6,3745.6L367,3753.6L364,3761.6L360.5,3769.6L356.7,3777.6L351.9,3785.6L346.1,3793.6L339.8,3801.6L333.6,3809.6L327.1,3817.6L320.2,3825.6L313,3833.6L305.3,3841.6L297.2,3849.6L288.9,3857.6L280.4,3865.6L271.7,3873.6L262.9,3881.6L254.1,3889.6L245.3,3897.6L236.8,3905.6L228.2,3913.6L220.4,3921.6L214.1,3929.6L208.9,3937.6L204.3,3945.6L200.1,3953.6L195.9,3961.6L106,3961.6Z" fill="#90e000" stroke="#b4b4b4" stroke-width="0.8"/>
<path d="M106,3137.6L282.6,3137.6L283.7,3145.6L284.8,3153.6L285.9,3161.6L286.7,3169.6L287.8,3177.6L289.1,3185.6L290.5,3193.6L292,3201.6L293.8,3209.6L296,3217.6L298.6,3225.6L301.8,3233.6L305.6,3241.6L309.8,3249.6L314.3,3257.6L319.4,3265.6L325,3273.6L330.8,3281.6L336.7,3289.6L342.9,3297.6L349.3,3305.6L355.6,3313.6L361.8,3321.6L368.1,3329.6L374.1,3337.6L379.5,3345.6L384.8,3353.6L385.2,3361.6L382.4,3369.6L379.9,3377.6L379.1,3385.6L378.5,3393.6L378.1,3401.6L378,3409.6L378.1,3417.6L378.4,3425.6L378.8,3433.6L379.4,3441.6L380,3449.6L381.1,3457.6L382.4,3465.6L383.8,3473.6L385.1,3481.6L386.2,3489.6L387.4,3497.6L388.5,3505.6L389.8,3513.6L391.4,3521.6L393.3,3529.6L393.9,3537.6L393.9,3545.6L393.4,3553.6L390.5,3561.6L387.1,3569.6L384.3,3577.6L381.3,3585.6L378.5,3593.6L375.9,3601.6L373.3,3609.6L370.9,3617.6L368.5,3625.6L366.3,3633.6L364.2,3641.6L362,3649.6L359.6,3657.6L356.7,3665.6L353.6,3673.6L350.5,3681.6L347.5,3689.6L345,3697.6L343.1,3705.6L341.6,3713.6L340.2,3721.6L338.5,3729.6L336.4,3737.6L334,3745.6L331.1,3753.6L327.9,3761.6L323.8,3769.6L318.9,3777.6L313.3,3785.6L307.1,3793.6L299.7,3801.6L291.9,3809.6L284.1,3817.6L276.2,3825.6L268.1,3833.6L259.9,3841.6L251.2,3849.6L242.5,3857.6L233.8,3865.6L225.1,3873.6L216.4,3881.6L207.8,3889.6L199.2,3897.6L190.6,3905.6L181.9,3913.6L173.2,3921.6L164.3,3929.6L155.8,3937.6L147.7,3945.6L139.8,3953.6L131.8,3961.6L106,3961.6Z" fill="#ffe400" stroke="#b4b4b4" stroke-width="0.8"/>
<path d="M106,3137.6L201.9,3137.6L205.7,3145.6L209.4,3153.6L213.2,3161.6L216.9,3169.6L220.7,3177.6L224.7,3185.6L228.7,3193.6L232.8,3201.6L236.7,3209.6L240.4,3217.6L244,3225.6L247.5,3233.6L250.8,3241.6L254.2,3249.6L257.4,3257.6L260.4,3265.6L263.2,3273.6L265.8,3281.6L268.3,3289.6L270.4,3297.6L271.9,3305.6L272.9,3313.6L273.8,3321.6L274.4,3329.6L274.7,3337.6L274.8,3345.6L274.9,3353.6L275.3,3361.6L280.8,3369.6L287.5,3377.6L293.3,3385.6L298.5,3393.6L302.4,3401.6L305.5,3409.6L308.3,3417.6L310.9,3425.6L313.4,3433.6L315.7,3441.6L317.8,3449.6L319.7,3457.6L321.5,3465.6L323.1,3473.6L324.6,3481.6L326.1,3489.6L327.8,3497.6L329.7,3505.6L331.7,3513.6L333.4,3521.6L334.5,3529.6L334.7,3537.6L334.6,3545.6L334.2,3553.6L333.8,3561.6L333.1,3569.6L331.8,3577.6L330.3,3585.6L328.7,3593.6L327.1,3601.6L325.3,3609.6L323.4,3617.6L321.6,3625.6L319.9,3633.6L318.3,3641.6L316.7,3649.6L315.1,3657.6L313.6,3665.6L312.1,3673.6L310.7,3681.6L309.3,3689.6L307.9,3697.6L306.8,3705.6L305.9,3713.6L304.9,3721.6L303.7,3729.6L302,3737.6L299.7,3745.6L296.8,3753.6L293.2,3761.6L288.4,3769.6L282.4,3777.6L275.2,3785.6L265.7,3793.6L255.2,3801.6L244.4,3809.6L233,3817.6L221.7,3825.6L210.7,3833.6L199.4,3841.6L187,3849.6L173.7,3857.6L159.8,3865.6L145.8,3873.6L131.8,3881.6L117.8,3889.6L116,3897.6L116,3961.6L106,3961.6Z" fill="#ffa300" stroke="#b4b4b4" stroke-width="0.8"/>
<path d="M106,3137.6L116,3137.6L116,3177.6L124.7,3185.6L135.7,3193.6L146.7,3201.6L157.8,3209.6L168.9,3217.6L177,3225.6L183.9,3233.6L190.2,3241.6L196.3,3249.6L201.7,3257.6L206.5,3265.6L210.7,3273.6L214.5,3281.6L218.1,3289.6L221.5,3297.6L224.2,3305.6L226.1,3313.6L227.7,3321.6L229.2,3329.6L230.9,3337.6L232.7,3345.6L234.6,3353.6L236.5,3361.6L238.4,3369.6L240.4,3377.6L242.5,3385.6L244.7,3393.6L246.7,3401.6L248.5,3409.6L249.9,3417.6L251.3,3425.6L252.5,3433.6L253.5,3441.6L254.4,3449.6L255.2,3457.6L256,3465.6L256.6,3473.6L256.8,3481.6L256.8,3489.6L256.8,3497.6L256.8,3505.6L256.8,3513.6L256.5,3521.6L255.1,3529.6L254.7,3537.6L254.9,3545.6L255.3,3553.6L255.7,3561.6L256,3569.6L256.5,3577.6L256.9,3585.6L257.3,3593.6L257.6,3601.6L257.8,3609.6L258,3617.6L258.1,3625.6L258.3,3633.6L258.5,3641.6L258.7,3649.6L258.9,3657.6L259.1,3665.6L259.4,3673.6L259.8,3681.6L260.3,3689.6L260.6,3697.6L260.5,3705.6L260.1,3713.6L259.4,3721.6L257.4,3729.6L254,3737.6L247.5,3745.6L239.6,3753.6L229.7,3761.6L218.7,3769.6L206.7,3777.6L194.5,3785.6L182.8,3793.6L170.2,3801.6L155.9,3809.6L141.1,3817.6L126,3825.6L116,3833.6L116,3961.6L106,3961.6Z" fill="#ff6000"/>
<path d="M106,3137.6L116,3137.6L116,3241.6L122.6,3249.6L129.9,3257.6L137.2,3265.6L144.7,3273.6L152,3281.6L159.2,3289.6L166.5,3297.6L172.2,3305.6L177,3313.6L181.2,3321.6L184.9,3329.6L188.4,3337.6L191.5,3345.6L193.7,3353.6L195.2,3361.6L196.6,3369.6L197.6,3377.6L198,3385.6L197.8,3393.6L197.3,3401.6L196.5,3409.6L195.5,3417.6L194.1,3425.6L191.9,3433.6L189.4,3441.6L186.7,3449.6L184,3457.6L181,3465.6L177.8,3473.6L174.2,3481.6L170,3489.6L164.8,3497.6L159.3,3505.6L154,3513.6L148,3521.6L144.3,3529.6L144.2,3537.6L144.2,3545.6L144.3,3553.6L144.4,3561.6L144.5,3569.6L144.7,3577.6L144.9,3585.6L145.1,3593.6L145.4,3601.6L145.8,3609.6L146.2,3617.6L146.6,3625.6L147.2,3633.6L147.7,3641.6L151.5,3649.6L156.2,3657.6L157.6,3665.6L158.4,3673.6L158.9,3681.6L159,3689.6L158.6,3697.6L157.9,3705.6L156.2,3713.6L152.8,3721.6L147.9,3729.6L143.8,3737.6L139.8,3745.6L135.8,3753.6L131.8,3761.6L127.8,3769.6L123.8,3777.6L119.8,3785.6L116,3793.6L116,3961.6L106,3961.6Z" fill="#ff1000" stroke="#b4b4b4" stroke-width="0.8"/>
<path d="M106,3137.6L116,3137.6L116,3313.6L118.8,3321.6L128.1,3329.6L137.4,3337.6L147.7,3345.6L156.3,3353.6L158.9,3361.6L153.5,3369.6L140.9,3377.6L129.7,3385.6L118.5,3393.6L116,3401.6L116,3961.6L106,3961.6Z" fill="#ff3030" stroke="#b4b4b4" stroke-width="0.8"/>
<path d="M668,3137.6L668,3209.6L662.7,3217.6L655,3225.6L646.6,3233.6L634.9,3241.6L622.8,3249.6L612,3257.6L603.7,3265.6L596.7,3273.6L590.4,3281.6L584.7,3289.6L579.7,3297.6L574.9,3305.6L570.6,3313.6L567.6,3321.6L565.8,3329.6L564.5,3337.6M555.8,3401.6L555.2,3409.6L555.1,3417.6L555.1,3425.6L555.1,3433.6L555.1,3441.6L555.1,3449.6L555,3457.6L554.8,3465.6L554.6,3473.6L554.4,3481.6L554.1,3489.6L553.8,3497.6L553.5,3505.6L553.3,3513.6L553.3,3521.6L553.3,3529.6L553.3,3537.6L552.7,3545.6L551.8,3553.6L551,3561.6L550.2,3569.6L549.3,3577.6L548.3,3585.6L547.1,3593.6L545.7,3601.6L544,3609.6L542.2,3617.6L540.4,3625.6L538.4,3633.6L536.3,3641.6L534.3,3649.6L532.7,3657.6L531.3,3665.6M510.6,3737.6L508.6,3745.6L507,3753.6L505.5,3761.6L504.2,3769.6L503.1,3777.6L502,3785.6L500.8,3793.6L499.3,3801.6L497.4,3809.6L495.4,3817.6L493.1,3825.6L490.8,3833.6L488.3,3841.6L485.6,3849.6L482.7,3857.6L479.6,3865.6L476.4,3873.6L473.1,3881.6L469.9,3889.6L466.6,3897.6L463.2,3905.6L459.9,3913.6L456.9,3921.6L454.4,3929.6L452.2,3937.6L450.2,3945.6L448,3953.6L445.8,3961.6" fill="none" stroke="#000" stroke-width="1.15"/>
<path d="M349.9,3137.6L352.2,3145.6L354.4,3153.6L356.7,3161.6L358.7,3169.6L361.1,3177.6L363.9,3185.6L367.1,3193.6L370.8,3201.6L375.4,3209.6L380.4,3217.6L385.3,3225.6M423.7,3289.6L427.1,3297.6L430.1,3305.6L432.5,3313.6L434.4,3321.6L436,3329.6L437.3,3337.6L438.5,3345.6L439.5,3353.6L440.5,3361.6L441.3,3369.6L441.9,3377.6L442.3,3385.6L442.7,3393.6L443.1,3401.6L443.4,3409.6L443.8,3417.6L444.2,3425.6L444.6,3433.6L445,3441.6L445.4,3449.6L445.8,3457.6L446.2,3465.6L446.6,3473.6L447,3481.6L447.4,3489.6L447.8,3497.6L448.1,3505.6L448.6,3513.6L449.3,3521.6L450.3,3529.6L450.4,3537.6L448.8,3545.6M434.4,3617.6L432.4,3625.6L430.4,3633.6L428.4,3641.6L426.4,3649.6L424.2,3657.6L421.9,3665.6L419.5,3673.6L417.2,3681.6L414.8,3689.6L412.5,3697.6L410.3,3705.6L408.2,3713.6L406.2,3721.6L403.9,3729.6L401.5,3737.6L398.9,3745.6L396,3753.6L392.9,3761.6L389.5,3769.6L385.6,3777.6L381.2,3785.6L376.5,3793.6L371.5,3801.6L365.9,3809.6L360,3817.6L353.8,3825.6L347.4,3833.6L340.5,3841.6L333.5,3849.6L326.4,3857.6L319.2,3865.6L311.7,3873.6L303.9,3881.6L295.7,3889.6L287.7,3897.6L280.2,3905.6L272.9,3913.6L265.9,3921.6L259.2,3929.6L252.8,3937.6L246.9,3945.6L241.7,3953.6L236.5,3961.6" fill="none" stroke="#000" stroke-width="1.15"/>
<path d="M116,3137.6L116,3177.6L124.7,3185.6L135.7,3193.6L146.7,3201.6L157.8,3209.6L168.9,3217.6L177,3225.6L183.9,3233.6L190.2,3241.6L196.3,3249.6L201.7,3257.6L206.5,3265.6L210.7,3273.6L214.5,3281.6L218.1,3289.6L221.5,3297.6L224.2,3305.6M238.4,3369.6L240.4,3377.6L242.5,3385.6L244.7,3393.6L246.7,3401.6L248.5,3409.6L249.9,3417.6L251.3,3425.6L252.5,3433.6L253.5,3441.6L254.4,3449.6L255.2,3457.6L256,3465.6L256.6,3473.6L256.8,3481.6L256.8,3489.6L256.8,3497.6L256.8,3505.6L256.8,3513.6L256.5,3521.6L255.1,3529.6L254.7,3537.6L254.9,3545.6L255.3,3553.6L255.7,3561.6L256,3569.6L256.5,3577.6L256.9,3585.6L257.3,3593.6L257.6,3601.6L257.8,3609.6L258,3617.6L258.1,3625.6L258.3,3633.6M260.5,3705.6L260.1,3713.6L259.4,3721.6L257.4,3729.6L254,3737.6L247.5,3745.6L239.6,3753.6L229.7,3761.6L218.7,3769.6L206.7,3777.6L194.5,3785.6L182.8,3793.6L170.2,3801.6L155.9,3809.6L141.1,3817.6L126,3825.6L116,3833.6L116,3961.6" fill="none" stroke="#000" stroke-width="1.15"/>
<text transform="translate(404.5 3256.6) rotate(52)" font-size="44" text-anchor="middle" fill="#171717" dy="0.33em">65</text>
<text transform="translate(231 3338.1) rotate(75)" font-size="44" text-anchor="middle" fill="#171717" dy="0.33em">85</text>
<text transform="translate(560.4 3369.9) rotate(-75)" font-size="44" text-anchor="middle" fill="#171717" dy="0.33em">45</text>
<text transform="translate(445.3 3581) rotate(-78)" font-size="44" text-anchor="middle" fill="#171717" dy="0.33em">65</text>
<text transform="translate(259.3 3671.4) rotate(88)" font-size="44" text-anchor="middle" fill="#171717" dy="0.33em">85</text>
<text transform="translate(525 3701.5) rotate(-68)" font-size="44" text-anchor="middle" fill="#171717" dy="0.33em">45</text>
</g>
<rect x="156" y="3161.6" width="472" height="782.4" fill="none" stroke="#858585" stroke-width="1.5"/>
<path d="M195.3,3161.6v-10 M195.3,3944v10M274,3161.6v-10 M274,3944v10M352.7,3161.6v-10 M352.7,3944v10M431.3,3161.6v-10 M431.3,3944v10M510,3161.6v-10 M510,3944v10M588.7,3161.6v-10 M588.7,3944v10M156,3161.6h-10 M628,3161.6h10M156,3239.8h-10 M628,3239.8h10M156,3318.1h-10 M628,3318.1h10M156,3396.3h-10 M628,3396.3h10M156,3474.6h-10 M628,3474.6h10M156,3552.8h-10 M628,3552.8h10M156,3631h-10 M628,3631h10M156,3709.3h-10 M628,3709.3h10M156,3787.5h-10 M628,3787.5h10M156,3865.8h-10 M628,3865.8h10M156,3944h-10 M628,3944h10" stroke="#858585" stroke-width="1.4" fill="none"/>
<text transform="translate(195.3 3996.2) scale(0.980 1)" font-size="46.8" text-anchor="middle" fill="#171717">4</text>
<text transform="translate(274 3996.2) scale(0.980 1)" font-size="46.8" text-anchor="middle" fill="#171717">6</text>
<text transform="translate(352.7 3996.2) scale(0.980 1)" font-size="46.8" text-anchor="middle" fill="#171717">8</text>
<text transform="translate(431.3 3996.2) scale(0.980 1)" font-size="46.8" text-anchor="middle" fill="#171717">10</text>
<text transform="translate(510 3996.2) scale(0.980 1)" font-size="46.8" text-anchor="middle" fill="#171717">12</text>
<text transform="translate(588.7 3996.2) scale(0.980 1)" font-size="46.8" text-anchor="middle" fill="#171717">14</text>
<text transform="translate(143.5 3177.2) scale(0.980 1)" font-size="46.8" text-anchor="end" fill="#171717">0</text>
<text transform="translate(143.5 3255.4) scale(0.980 1)" font-size="46.8" text-anchor="end" fill="#171717">-2</text>
<text transform="translate(143.5 3333.7) scale(0.980 1)" font-size="46.8" text-anchor="end" fill="#171717">-4</text>
<text transform="translate(143.5 3411.9) scale(0.980 1)" font-size="46.8" text-anchor="end" fill="#171717">-6</text>
<text transform="translate(143.5 3490.2) scale(0.980 1)" font-size="46.8" text-anchor="end" fill="#171717">-8</text>
<text transform="translate(143.5 3568.4) scale(0.980 1)" font-size="46.8" text-anchor="end" fill="#171717">-10</text>
<text transform="translate(143.5 3646.6) scale(0.980 1)" font-size="46.8" text-anchor="end" fill="#171717">-12</text>
<text transform="translate(143.5 3724.9) scale(0.980 1)" font-size="46.8" text-anchor="end" fill="#171717">-14</text>
<text transform="translate(143.5 3803.1) scale(0.980 1)" font-size="46.8" text-anchor="end" fill="#171717">-16</text>
<text transform="translate(143.5 3881.4) scale(0.980 1)" font-size="46.8" text-anchor="end" fill="#171717">-18</text>
<text transform="translate(143.5 3959.6) scale(0.980 1)" font-size="46.8" text-anchor="end" fill="#171717">-20</text>
<text transform="translate(392 4055.7) scale(0.966 1)" font-size="46.9" text-anchor="middle" fill="#171717">Horizontal distance/cm</text>
<text transform="translate(62 3552.8) rotate(-90) scale(0.972 1)" font-size="46.9" text-anchor="middle" fill="#171717">Vertical distance/cm</text>
<text transform="translate(406.6 4130.4)" font-size="61" text-anchor="middle" fill="#000">240 s</text>
<rect x="703" y="3792.9" width="34" height="32.7" fill="#00007b" stroke="#2a2a2a" stroke-width="1.1"/>
<rect x="703" y="3760.2" width="34" height="32.7" fill="#0000ff" stroke="#2a2a2a" stroke-width="1.1"/>
<rect x="703" y="3727.4" width="34" height="32.7" fill="#0058ff" stroke="#2a2a2a" stroke-width="1.1"/>
<rect x="703" y="3694.7" width="34" height="32.7" fill="#00c0ff" stroke="#2a2a2a" stroke-width="1.1"/>
<rect x="703" y="3662" width="34" height="32.7" fill="#00f9ec" stroke="#2a2a2a" stroke-width="1.1"/>
<rect x="703" y="3629.2" width="34" height="32.7" fill="#00e0b0" stroke="#2a2a2a" stroke-width="1.1"/>
<rect x="703" y="3596.5" width="34" height="32.7" fill="#00c870" stroke="#2a2a2a" stroke-width="1.1"/>
<rect x="703" y="3563.8" width="34" height="32.7" fill="#00b030" stroke="#2a2a2a" stroke-width="1.1"/>
<rect x="703" y="3531.1" width="34" height="32.7" fill="#00a000" stroke="#2a2a2a" stroke-width="1.1"/>
<rect x="703" y="3498.3" width="34" height="32.7" fill="#90e000" stroke="#2a2a2a" stroke-width="1.1"/>
<rect x="703" y="3465.6" width="34" height="32.7" fill="#ffe400" stroke="#2a2a2a" stroke-width="1.1"/>
<rect x="703" y="3432.9" width="34" height="32.7" fill="#ffa300" stroke="#2a2a2a" stroke-width="1.1"/>
<rect x="703" y="3400.2" width="34" height="32.7" fill="#ff6000" stroke="#2a2a2a" stroke-width="1.1"/>
<rect x="703" y="3367.4" width="34" height="32.7" fill="#ff1000" stroke="#2a2a2a" stroke-width="1.1"/>
<rect x="703" y="3334.7" width="34" height="32.7" fill="#ff3030" stroke="#2a2a2a" stroke-width="1.1"/>
<rect x="703" y="3302" width="34" height="32.7" fill="#ff9090" stroke="#2a2a2a" stroke-width="1.1"/>
<text transform="translate(747 3843.1) scale(0.970 1)" font-size="46" text-anchor="start" fill="#171717">25</text>
<text transform="translate(747 3777.7) scale(0.970 1)" font-size="46" text-anchor="start" fill="#171717">35</text>
<text transform="translate(747 3712.2) scale(0.970 1)" font-size="46" text-anchor="start" fill="#171717">45</text>
<text transform="translate(747 3646.8) scale(0.970 1)" font-size="46" text-anchor="start" fill="#171717">55</text>
<text transform="translate(747 3581.3) scale(0.970 1)" font-size="46" text-anchor="start" fill="#171717">65</text>
<text transform="translate(747 3515.8) scale(0.970 1)" font-size="46" text-anchor="start" fill="#171717">75</text>
<text transform="translate(747 3450.4) scale(0.970 1)" font-size="46" text-anchor="start" fill="#171717">85</text>
<text transform="translate(747 3384.9) scale(0.970 1)" font-size="46" text-anchor="start" fill="#171717">95</text></g>
<g><clipPath id="c10"><rect x="996" y="3161.6" width="472" height="782.4"/></clipPath>
<rect x="996" y="3161.6" width="472" height="782.4" fill="#00007b"/>
<g clip-path="url(#c10)" stroke-linejoin="round">
<path d="M946,3137.6L1508,3137.6L1508,3745.6L1506.2,3753.6L1503.8,3761.6L1501.4,3769.6L1499,3777.6L1496.6,3785.6L1494.1,3793.6L1491.6,3801.6L1489.2,3809.6L1486.7,3817.6L1484.2,3825.6L1481.5,3833.6L1478.6,3841.6L1475.6,3849.6L1472.6,3857.6L1470,3865.6L1467.8,3873.6L1466,3881.6L1464.4,3889.6L1462.7,3897.6L1460.9,3905.6L1459.2,3913.6L1457.6,3921.6L1456.2,3929.6L1455,3937.6L1453.9,3945.6L1452.7,3953.6L1451.5,3961.6L946,3961.6Z" fill="#0000ff" stroke="#b4b4b4" stroke-width="0.8"/>
<path d="M946,3137.6L1508,3137.6L1508,3561.6L1503.6,3569.6L1498.9,3577.6L1494.4,3585.6L1490.1,3593.6L1486.1,3601.6L1482.2,3609.6L1478.6,3617.6L1475.3,3625.6L1472.2,3633.6L1469.4,3641.6L1466.8,3649.6L1464.6,3657.6L1462.4,3665.6L1460,3673.6L1457.5,3681.6L1454.9,3689.6L1452.5,3697.6L1450.1,3705.6L1447.8,3713.6L1445.6,3721.6L1443.6,3729.6L1441.6,3737.6L1439.8,3745.6L1438.3,3753.6L1437.3,3761.6L1436.6,3769.6L1435.9,3777.6L1435.2,3785.6L1434.2,3793.6L1433.1,3801.6L1432,3809.6L1430.7,3817.6L1429.4,3825.6L1428,3833.6L1426.6,3841.6L1425.1,3849.6L1423.5,3857.6L1421.9,3865.6L1420.4,3873.6L1418.8,3881.6L1417.2,3889.6L1415.6,3897.6L1414,3905.6L1412.6,3913.6L1411.6,3921.6L1410.8,3929.6L1410.2,3937.6L1409.8,3945.6L1409.1,3953.6L1408.5,3961.6L946,3961.6Z" fill="#0058ff" stroke="#b4b4b4" stroke-width="0.8"/>
<path d="M946,3137.6L1508,3137.6L1508,3377.6L1505.8,3385.6L1502.9,3393.6L1499.9,3401.6L1496.9,3409.6L1493.8,3417.6L1490.8,3425.6L1487.7,3433.6L1484.6,3441.6L1481.2,3449.6L1477.2,3457.6L1472.9,3465.6L1468.7,3473.6L1464.6,3481.6L1460.6,3489.6L1457,3497.6L1453.5,3505.6L1450.5,3513.6L1447.9,3521.6L1445.5,3529.6L1443.6,3537.6L1442.5,3545.6L1441.9,3553.6L1441.3,3561.6L1440.4,3569.6L1439.5,3577.6L1438.5,3585.6L1437.5,3593.6L1436.5,3601.6L1435.5,3609.6L1434.4,3617.6L1433.1,3625.6L1431.8,3633.6L1430.2,3641.6L1428.5,3649.6L1426.8,3657.6L1424.9,3665.6L1423.1,3673.6L1421.2,3681.6L1419.2,3689.6L1417.1,3697.6L1415.1,3705.6L1413,3713.6L1411,3721.6L1408.9,3729.6L1406.9,3737.6L1405,3745.6L1403.2,3753.6L1401.6,3761.6L1400,3769.6L1398.5,3777.6L1397,3785.6L1395.6,3793.6L1394.3,3801.6L1393,3809.6L1391.7,3817.6L1390.4,3825.6L1388.9,3833.6L1387.4,3841.6L1385.9,3849.6L1384.3,3857.6L1382.7,3865.6L1381.1,3873.6L1379.4,3881.6L1377.7,3889.6L1376,3897.6L1374.3,3905.6L1372.8,3913.6L1371.3,3921.6L1369.8,3929.6L1368.4,3937.6L1367.1,3945.6L1365.7,3953.6L1364.3,3961.6L946,3961.6Z" fill="#00c0ff" stroke="#b4b4b4" stroke-width="0.8"/>
<path d="M946,3137.6L1508,3137.6L1508,3289.6L1504.1,3297.6L1498.8,3305.6L1493.5,3313.6L1488.1,3321.6L1481.6,3329.6L1473.7,3337.6L1466.3,3345.6L1459.7,3353.6L1455.1,3361.6L1451.4,3369.6L1448.6,3377.6L1446.3,3385.6L1444.2,3393.6L1442.3,3401.6L1440.4,3409.6L1438.7,3417.6L1437,3425.6L1435.3,3433.6L1433.7,3441.6L1432.1,3449.6L1430.6,3457.6L1429,3465.6L1427.3,3473.6L1425.7,3481.6L1424,3489.6L1422.5,3497.6L1421.2,3505.6L1419.9,3513.6L1418.6,3521.6L1417.6,3529.6L1416.7,3537.6L1416,3545.6L1415.4,3553.6L1414.6,3561.6L1413.8,3569.6L1412.8,3577.6L1411.9,3585.6L1411.1,3593.6L1410.3,3601.6L1409.6,3609.6L1408.8,3617.6L1407.8,3625.6L1406.6,3633.6L1405.3,3641.6L1403.8,3649.6L1402.4,3657.6L1401,3665.6L1399.6,3673.6L1398.1,3681.6L1396.5,3689.6L1394.6,3697.6L1392.3,3705.6L1389.5,3713.6L1386.7,3721.6L1384.3,3729.6L1382.4,3737.6L1380.8,3745.6L1379.5,3753.6L1378,3761.6L1376.5,3769.6L1374.9,3777.6L1373.3,3785.6L1371.7,3793.6L1369.9,3801.6L1368.1,3809.6L1366.1,3817.6L1364.1,3825.6L1362,3833.6L1359.7,3841.6L1357.3,3849.6L1354.6,3857.6L1351.9,3865.6L1349.1,3873.6L1346.3,3881.6L1343.4,3889.6L1340.4,3897.6L1337.4,3905.6L1334.5,3913.6L1331.8,3921.6L1329.2,3929.6L1326.8,3937.6L1324.4,3945.6L1321.9,3953.6L1319.5,3961.6L946,3961.6Z" fill="#00f9ec"/>
<path d="M946,3137.6L1508,3137.6L1508,3233.6L1504.2,3241.6L1496.5,3249.6L1488.5,3257.6L1479.5,3265.6L1469.2,3273.6L1458.7,3281.6L1449.1,3289.6L1440.8,3297.6L1433.7,3305.6L1427.4,3313.6L1421.7,3321.6L1416.7,3329.6L1412,3337.6L1407.8,3345.6L1404.7,3353.6L1402.3,3361.6L1400.2,3369.6L1399.3,3377.6L1399.2,3385.6L1399.2,3393.6L1399.2,3401.6L1399.2,3409.6L1399.2,3417.6L1399.1,3425.6L1398.9,3433.6L1398.6,3441.6L1398.4,3449.6L1398.2,3457.6L1398,3465.6L1397.8,3473.6L1397.5,3481.6L1397.1,3489.6L1396.6,3497.6L1396,3505.6L1395.5,3513.6L1394.9,3521.6L1394.3,3529.6L1393.8,3537.6L1393.3,3545.6L1392.9,3553.6L1392.3,3561.6L1391.5,3569.6L1390.3,3577.6L1388.9,3585.6L1387.4,3593.6L1385.9,3601.6L1384.4,3609.6L1382.8,3617.6L1381.1,3625.6L1379.4,3633.6L1377.7,3641.6L1375.9,3649.6L1374.2,3657.6L1372.4,3665.6L1370.6,3673.6L1368.7,3681.6L1366.8,3689.6L1364.7,3697.6L1362.6,3705.6L1360.3,3713.6L1358.1,3721.6L1355.8,3729.6L1353.4,3737.6L1351,3745.6L1348.6,3753.6L1346.1,3761.6L1343.8,3769.6L1341.4,3777.6L1339,3785.6L1336.6,3793.6L1334.1,3801.6L1331.5,3809.6L1328.9,3817.6L1326.3,3825.6L1323.5,3833.6L1320.6,3841.6L1317.4,3849.6L1314,3857.6L1310.5,3865.6L1307.1,3873.6L1303.8,3881.6L1300.7,3889.6L1297.8,3897.6L1294.9,3905.6L1292.1,3913.6L1289.3,3921.6L1286.5,3929.6L1283.8,3937.6L1281.1,3945.6L1278.4,3953.6L1275.7,3961.6L946,3961.6Z" fill="#00e0b0" stroke="#b4b4b4" stroke-width="0.8"/>
<path d="M946,3137.6L1508,3137.6L1508,3169.6L1506.5,3177.6L1495.8,3185.6L1484.8,3193.6L1473.5,3201.6L1461.7,3209.6L1450,3217.6L1440.1,3225.6L1431.1,3233.6L1422.6,3241.6L1414.6,3249.6L1407,3257.6L1399.8,3265.6L1392.8,3273.6L1386.3,3281.6L1380,3289.6L1374,3297.6L1368.7,3305.6L1364.4,3313.6L1360.7,3321.6L1357.7,3329.6L1355.3,3337.6L1353.1,3345.6L1351.6,3353.6L1351.6,3361.6L1352.9,3369.6L1354.8,3377.6L1356.7,3385.6L1358.3,3393.6L1360,3401.6L1361.6,3409.6L1363.2,3417.6L1364.6,3425.6L1366,3433.6L1367.3,3441.6L1368.4,3449.6L1369.2,3457.6L1369.8,3465.6L1370.3,3473.6L1370.7,3481.6L1370.9,3489.6L1370.9,3497.6L1370.9,3505.6L1370.9,3513.6L1370.9,3521.6L1370.9,3529.6L1370.8,3537.6L1370.2,3545.6L1369,3553.6L1367.6,3561.6L1366.3,3569.6L1364.8,3577.6L1363.1,3585.6L1361.3,3593.6L1359.5,3601.6L1357.6,3609.6L1355.7,3617.6L1353.7,3625.6L1351.7,3633.6L1349.6,3641.6L1347.5,3649.6L1345.5,3657.6L1343.3,3665.6L1341.1,3673.6L1338.9,3681.6L1336.6,3689.6L1334.1,3697.6L1331.6,3705.6L1329,3713.6L1326.4,3721.6L1323.7,3729.6L1321,3737.6L1318.3,3745.6L1315.4,3753.6L1312.5,3761.6L1309.5,3769.6L1306.3,3777.6L1303.1,3785.6L1299.8,3793.6L1296.2,3801.6L1291.6,3809.6L1286.7,3817.6L1282.4,3825.6L1279.6,3833.6L1278.8,3841.6L1279.1,3849.6L1279.7,3857.6L1280,3865.6L1278.8,3873.6L1274.4,3881.6L1268.9,3889.6L1264.1,3897.6L1259.3,3905.6L1254.2,3913.6L1249.2,3921.6L1243.9,3929.6L1238.7,3937.6L1234.2,3945.6L1230.2,3953.6L1226.2,3961.6L946,3961.6Z" fill="#00c870" stroke="#b4b4b4" stroke-width="0.8"/>
<path d="M946,3137.6L1430.1,3137.6L1421.6,3145.6L1413.1,3153.6L1404.6,3161.6L1395.9,3169.6L1388.2,3177.6L1381.3,3185.6L1375.2,3193.6L1369.6,3201.6L1364.5,3209.6L1359.7,3217.6L1355.3,3225.6L1350.9,3233.6L1346.9,3241.6L1343.2,3249.6L1340.1,3257.6L1337.1,3265.6L1334.5,3273.6L1332.3,3281.6L1330.6,3289.6L1329.2,3297.6L1327.9,3305.6L1326.8,3313.6L1325.7,3321.6L1324.5,3329.6L1323.6,3337.6L1323.1,3345.6L1323.2,3353.6L1323.5,3361.6L1324.1,3369.6L1324.7,3377.6L1325.7,3385.6L1327.2,3393.6L1329.1,3401.6L1331,3409.6L1332.6,3417.6L1334.3,3425.6L1335.9,3433.6L1337.5,3441.6L1339,3449.6L1340.4,3457.6L1341.7,3465.6L1342.8,3473.6L1343.9,3481.6L1344.9,3489.6L1345.9,3497.6L1346.9,3505.6L1347.7,3513.6L1348.4,3521.6L1348.8,3529.6L1348.9,3537.6L1348.4,3545.6L1347.5,3553.6L1346.3,3561.6L1345,3569.6L1343.2,3577.6L1341.1,3585.6L1338.8,3593.6L1336.6,3601.6L1334.5,3609.6L1332.6,3617.6L1330.7,3625.6L1328.7,3633.6L1326.7,3641.6L1324.5,3649.6L1322.1,3657.6L1319.7,3665.6L1317.1,3673.6L1314.4,3681.6L1311.7,3689.6L1308.9,3697.6L1306,3705.6L1303.1,3713.6L1300.1,3721.6L1297,3729.6L1293.4,3737.6L1289.8,3745.6L1286.5,3753.6L1284.1,3761.6L1282.7,3769.6L1281.7,3777.6L1280.5,3785.6L1278.5,3793.6L1275.9,3801.6L1272.7,3809.6L1269.1,3817.6L1265.4,3825.6L1261.7,3833.6L1257.8,3841.6L1253.5,3849.6L1249.1,3857.6L1244.7,3865.6L1240.3,3873.6L1236,3881.6L1231.5,3889.6L1226.9,3897.6L1221.7,3905.6L1216,3913.6L1210.7,3921.6L1206.5,3929.6L1203,3937.6L1199.8,3945.6L1196.8,3953.6L1193.8,3961.6L946,3961.6Z" fill="#00b030" stroke="#b4b4b4" stroke-width="0.8"/>
<path d="M946,3137.6L1266,3137.6L1267.9,3145.6L1269.8,3153.6L1271.7,3161.6L1273.5,3169.6L1275.4,3177.6L1277.5,3185.6L1279.7,3193.6L1282.1,3201.6L1284.3,3209.6L1286.6,3217.6L1288.6,3225.6L1289.9,3233.6L1290.9,3241.6L1291.6,3249.6L1292.3,3257.6L1293,3265.6L1293.8,3273.6L1294.6,3281.6L1295.3,3289.6L1296,3297.6L1296.6,3305.6L1297,3313.6L1297.4,3321.6L1297.8,3329.6L1298.2,3337.6L1298.6,3345.6L1298.9,3353.6L1299.2,3361.6L1299.7,3369.6L1300.3,3377.6L1301.2,3385.6L1302.5,3393.6L1303.9,3401.6L1305.2,3409.6L1306.4,3417.6L1307.6,3425.6L1308.8,3433.6L1310,3441.6L1311.2,3449.6L1312.5,3457.6L1313.8,3465.6L1315,3473.6L1316,3481.6L1317,3489.6L1318.1,3497.6L1319,3505.6L1319.5,3513.6L1319.5,3521.6L1319.5,3529.6L1319.5,3537.6L1319.4,3545.6L1318.7,3553.6L1317.9,3561.6L1316.9,3569.6L1315.7,3577.6L1314.3,3585.6L1312.8,3593.6L1310.9,3601.6L1308.4,3609.6L1305.6,3617.6L1302.7,3625.6L1300.2,3633.6L1298.1,3641.6L1296.1,3649.6L1294.2,3657.6L1292.2,3665.6L1290.1,3673.6L1287.9,3681.6L1285.5,3689.6L1283.2,3697.6L1280.8,3705.6L1278.4,3713.6L1276,3721.6L1273.7,3729.6L1271.2,3737.6L1268.7,3745.6L1265.9,3753.6L1262.9,3761.6L1259.7,3769.6L1256.3,3777.6L1252.8,3785.6L1249.3,3793.6L1245.6,3801.6L1241.9,3809.6L1238,3817.6L1233.9,3825.6L1229.6,3833.6L1225.1,3841.6L1220.5,3849.6L1215.7,3857.6L1210.5,3865.6L1205.2,3873.6L1200.1,3881.6L1195.2,3889.6L1190.5,3897.6L1186,3905.6L1181.8,3913.6L1177.9,3921.6L1174.3,3929.6L1170.7,3937.6L1166.8,3945.6L1162.8,3953.6L1158.8,3961.6L946,3961.6Z" fill="#00a000"/>
<path d="M946,3137.6L1196.8,3137.6L1199.3,3145.6L1201.9,3153.6L1204.4,3161.6L1206.6,3169.6L1209.2,3177.6L1212.1,3185.6L1215.8,3193.6L1220,3201.6L1224.3,3209.6L1228.3,3217.6L1232.4,3225.6L1236.4,3233.6L1240.3,3241.6L1244.1,3249.6L1247.7,3257.6L1251.2,3265.6L1254.4,3273.6L1257.4,3281.6L1260.2,3289.6L1262.7,3297.6L1265,3305.6L1267.1,3313.6L1269.2,3321.6L1270.8,3329.6L1271.8,3337.6L1272.5,3345.6L1272.9,3353.6L1273.3,3361.6L1273.7,3369.6L1274.1,3377.6L1274.5,3385.6L1274.9,3393.6L1275.4,3401.6L1276,3409.6L1276.8,3417.6L1277.6,3425.6L1278.6,3433.6L1279.6,3441.6L1280.8,3449.6L1282,3457.6L1283.3,3465.6L1284.5,3473.6L1285.8,3481.6L1287,3489.6L1288.2,3497.6L1289.3,3505.6L1290.5,3513.6L1291.8,3521.6L1292.8,3529.6L1292.9,3537.6L1292.4,3545.6L1291.5,3553.6L1290.5,3561.6L1289,3569.6L1287.3,3577.6L1285.5,3585.6L1283.7,3593.6L1281.8,3601.6L1279.9,3609.6L1277.8,3617.6L1275.7,3625.6L1273.4,3633.6L1271,3641.6L1268.6,3649.6L1266.1,3657.6L1263.7,3665.6L1261.4,3673.6L1259,3681.6L1256.7,3689.6L1254.5,3697.6L1252.4,3705.6L1250.5,3713.6L1248.7,3721.6L1246.7,3729.6L1244.6,3737.6L1242.1,3745.6L1239.4,3753.6L1236.3,3761.6L1233,3769.6L1229.3,3777.6L1225.1,3785.6L1220.2,3793.6L1215.1,3801.6L1210.2,3809.6L1205.4,3817.6L1200.6,3825.6L1195.8,3833.6L1190.9,3841.6L1185.8,3849.6L1180.5,3857.6L1175.4,3865.6L1170.4,3873.6L1165.4,3881.6L1160.5,3889.6L1155.7,3897.6L1151.1,3905.6L1146.4,3913.6L1141.8,3921.6L1137,3929.6L1132.3,3937.6L1127.9,3945.6L1124,3953.6L1120,3961.6L946,3961.6Z" fill="#90e000" stroke="#b4b4b4" stroke-width="0.8"/>
<path d="M946,3137.6L1159.7,3137.6L1161.6,3145.6L1163.5,3153.6L1165.4,3161.6L1167.1,3169.6L1169,3177.6L1171.2,3185.6L1173.9,3193.6L1176.9,3201.6L1180.2,3209.6L1183.8,3217.6L1187.8,3225.6L1191.9,3233.6L1196,3241.6L1200,3249.6L1203.9,3257.6L1207.9,3265.6L1212.1,3273.6L1216.5,3281.6L1221.2,3289.6L1225.7,3297.6L1229.8,3305.6L1233.8,3313.6L1237.6,3321.6L1240.7,3329.6L1242.8,3337.6L1244.6,3345.6L1245.8,3353.6L1246.5,3361.6L1246.8,3369.6L1247.1,3377.6L1247.3,3385.6L1247.7,3393.6L1248.2,3401.6L1248.8,3409.6L1249.5,3417.6L1250.2,3425.6L1250.9,3433.6L1251.7,3441.6L1252.4,3449.6L1253.3,3457.6L1254.2,3465.6L1255.3,3473.6L1256.6,3481.6L1257.9,3489.6L1259.1,3497.6L1260.3,3505.6L1261.7,3513.6L1262.9,3521.6L1263.7,3529.6L1263.9,3537.6L1263.2,3545.6L1262.1,3553.6L1260.8,3561.6L1259,3569.6L1256.7,3577.6L1254.1,3585.6L1251.6,3593.6L1249.1,3601.6L1246.4,3609.6L1243.6,3617.6L1240.9,3625.6L1238,3633.6L1235.2,3641.6L1232.5,3649.6L1230.5,3657.6L1228.9,3665.6L1227.6,3673.6L1226.4,3681.6L1225.1,3689.6L1223.7,3697.6L1222,3705.6L1220,3713.6L1217.9,3721.6L1215.4,3729.6L1212.4,3737.6L1208.8,3745.6L1204.8,3753.6L1200.6,3761.6L1196.1,3769.6L1191.1,3777.6L1185.9,3785.6L1180.3,3793.6L1174.2,3801.6L1167.8,3809.6L1161.4,3817.6L1154.7,3825.6L1148,3833.6L1141.3,3841.6L1134.6,3849.6L1128,3857.6L1121.3,3865.6L1114.5,3873.6L1107.8,3881.6L1101.3,3889.6L1095,3897.6L1088.8,3905.6L1082.9,3913.6L1077.3,3921.6L1072,3929.6L1067,3937.6L1062.5,3945.6L1058.6,3953.6L1054.6,3961.6L946,3961.6Z" fill="#ffe400" stroke="#b4b4b4" stroke-width="0.8"/>
<path d="M946,3137.6L1117.7,3137.6L1119.2,3145.6L1120.7,3153.6L1122.2,3161.6L1123.6,3169.6L1125.1,3177.6L1126.9,3185.6L1128.8,3193.6L1131,3201.6L1133.4,3209.6L1135.9,3217.6L1138.7,3225.6L1141.7,3233.6L1145,3241.6L1148.6,3249.6L1152.8,3257.6L1157.3,3265.6L1162,3273.6L1166.6,3281.6L1171.1,3289.6L1175.6,3297.6L1180,3305.6L1184.3,3313.6L1188.6,3321.6L1192.7,3329.6L1196.4,3337.6L1199.7,3345.6L1202.8,3353.6L1204.5,3361.6L1205,3369.6L1205.4,3377.6L1205.7,3385.6L1206.2,3393.6L1207.1,3401.6L1208.2,3409.6L1209.5,3417.6L1211,3425.6L1212.6,3433.6L1214.6,3441.6L1216.7,3449.6L1218.9,3457.6L1220.8,3465.6L1222.5,3473.6L1224.1,3481.6L1225.6,3489.6L1227.1,3497.6L1228.7,3505.6L1230.5,3513.6L1232.1,3521.6L1233.2,3529.6L1233.4,3537.6L1233,3545.6L1232,3553.6L1229.1,3561.6L1225.6,3569.6L1222.7,3577.6L1220.1,3585.6L1217.6,3593.6L1215.2,3601.6L1212.9,3609.6L1210.7,3617.6L1208.5,3625.6L1206.3,3633.6L1204.2,3641.6L1202,3649.6L1199.8,3657.6L1197.5,3665.6L1195,3673.6L1192.5,3681.6L1189.8,3689.6L1187.2,3697.6L1184.6,3705.6L1182,3713.6L1179.4,3721.6L1176.6,3729.6L1173.7,3737.6L1170.8,3745.6L1167.6,3753.6L1163.8,3761.6L1158.5,3769.6L1152,3777.6L1145.3,3785.6L1139.2,3793.6L1133.3,3801.6L1127.1,3809.6L1120.3,3817.6L1112.7,3825.6L1104.6,3833.6L1096,3841.6L1086.9,3849.6L1076.9,3857.6L1066.8,3865.6L1056.9,3873.6L1047.3,3881.6L1037.2,3889.6L1026,3897.6L1013.3,3905.6L1000,3913.6L986.9,3921.6L973.5,3929.6L960,3937.6L956,3945.6L956,3961.6L946,3961.6Z" fill="#ffa300" stroke="#b4b4b4" stroke-width="0.8"/>
<path d="M946,3137.6L1022.2,3137.6L1026.8,3145.6L1031.5,3153.6L1036.1,3161.6L1040.6,3169.6L1045.5,3177.6L1050.8,3185.6L1056.3,3193.6L1061.3,3201.6L1066.1,3209.6L1070.6,3217.6L1074.7,3225.6L1078.5,3233.6L1082,3241.6L1085.4,3249.6L1089,3257.6L1092.6,3265.6L1096.3,3273.6L1100,3281.6L1103.5,3289.6L1106.8,3297.6L1109.9,3305.6L1112.9,3313.6L1115.7,3321.6L1118.3,3329.6L1120.7,3337.6L1123.1,3345.6L1125.8,3353.6L1128.5,3361.6L1131.4,3369.6L1134.5,3377.6L1138,3385.6L1141.6,3393.6L1144.8,3401.6L1147.6,3409.6L1150.3,3417.6L1152.9,3425.6L1155.3,3433.6L1157.7,3441.6L1160,3449.6L1162.2,3457.6L1164.1,3465.6L1165.9,3473.6L1167.5,3481.6L1169.1,3489.6L1170.5,3497.6L1171.9,3505.6L1173.4,3513.6L1174.8,3521.6L1176,3529.6L1176.7,3537.6L1176.7,3545.6L1176,3553.6L1174.7,3561.6L1173.3,3569.6L1171.9,3577.6L1170.3,3585.6L1168.5,3593.6L1166.5,3601.6L1164.5,3609.6L1162.5,3617.6L1160.2,3625.6L1157.8,3633.6L1155.6,3641.6L1153.7,3649.6L1151.9,3657.6L1150.3,3665.6L1148.7,3673.6L1147.1,3681.6L1145.5,3689.6L1144,3697.6L1142.4,3705.6L1141,3713.6L1139.5,3721.6L1137.6,3729.6L1135.3,3737.6L1132.5,3745.6L1129,3753.6L1124.5,3761.6L1118.3,3769.6L1110.8,3777.6L1102.5,3785.6L1092.6,3793.6L1081.7,3801.6L1070.5,3809.6L1058.5,3817.6L1045.9,3825.6L1032.9,3833.6L1019.3,3841.6L1005.5,3849.6L990.1,3857.6L972.4,3865.6L956,3873.6L956,3961.6L946,3961.6Z" fill="#ff6000"/>
<path d="M946,3137.6L956,3137.6L956,3201.6L963,3209.6L972.1,3217.6L981.1,3225.6L990.3,3233.6L999.9,3241.6L1009.7,3249.6L1016.7,3257.6L1022.7,3265.6L1028,3273.6L1033,3281.6L1037.6,3289.6L1041.8,3297.6L1045.6,3305.6L1049,3313.6L1052.2,3321.6L1055.2,3329.6L1057.8,3337.6L1060.3,3345.6L1062.6,3353.6L1064.7,3361.6L1066.6,3369.6L1068.3,3377.6L1069.9,3385.6L1071.4,3393.6L1073,3401.6L1074.6,3409.6L1076.3,3417.6L1077.9,3425.6L1079.5,3433.6L1080.9,3441.6L1082.2,3449.6L1083.5,3457.6L1084.6,3465.6L1085.6,3473.6L1086.6,3481.6L1087.4,3489.6L1088.2,3497.6L1088.9,3505.6L1089.6,3513.6L1090.4,3521.6L1090.9,3529.6L1091,3537.6L1090.7,3545.6L1090.1,3553.6L1089.4,3561.6L1088.7,3569.6L1087.9,3577.6L1087,3585.6L1086.2,3593.6L1085.5,3601.6L1084.9,3609.6L1084.3,3617.6L1083.7,3625.6L1083.3,3633.6L1083,3641.6L1082.7,3649.6L1082.5,3657.6L1082,3665.6L1081.2,3673.6L1080.2,3681.6L1078.9,3689.6L1077.5,3697.6L1076,3705.6L1074.1,3713.6L1071.7,3721.6L1068.6,3729.6L1064,3737.6L1058,3745.6L1051.1,3753.6L1043.1,3761.6L1033,3769.6L1019.5,3777.6L1000.1,3785.6L976.2,3793.6L956,3801.6L956,3961.6L946,3961.6Z" fill="#ff1000" stroke="#b4b4b4" stroke-width="0.8"/>
<path d="M946,3137.6L956,3137.6L956,3297.6L956.8,3305.6L965.2,3313.6L973.6,3321.6L983.4,3329.6L991.6,3337.6L998.2,3345.6L1003.1,3353.6L1005.7,3361.6L1005.4,3369.6L1002.9,3377.6L999.1,3385.6L992.8,3393.6L982.9,3401.6L971.1,3409.6L961,3417.6L956,3425.6L956,3961.6L946,3961.6Z" fill="#ff3030" stroke="#b4b4b4" stroke-width="0.8"/>
<path d="M1508,3137.6L1508,3289.6L1504.1,3297.6L1498.8,3305.6L1493.5,3313.6L1488.1,3321.6L1481.6,3329.6L1473.7,3337.6L1466.3,3345.6L1459.7,3353.6L1455.1,3361.6L1451.4,3369.6L1448.6,3377.6L1446.3,3385.6L1444.2,3393.6L1442.3,3401.6L1440.4,3409.6L1438.7,3417.6L1437,3425.6L1435.3,3433.6L1433.7,3441.6L1432.1,3449.6L1430.6,3457.6L1429,3465.6L1427.3,3473.6L1425.7,3481.6L1424,3489.6L1422.5,3497.6L1421.2,3505.6L1419.9,3513.6L1418.6,3521.6L1417.6,3529.6L1416.7,3537.6L1416,3545.6L1415.4,3553.6L1414.6,3561.6L1413.8,3569.6L1412.8,3577.6L1411.9,3585.6L1411.1,3593.6L1410.3,3601.6L1409.6,3609.6L1408.8,3617.6L1407.8,3625.6L1406.6,3633.6L1405.3,3641.6L1403.8,3649.6L1402.4,3657.6L1401,3665.6M1384.3,3729.6L1382.4,3737.6L1380.8,3745.6L1379.5,3753.6L1378,3761.6L1376.5,3769.6L1374.9,3777.6L1373.3,3785.6L1371.7,3793.6L1369.9,3801.6L1368.1,3809.6L1366.1,3817.6L1364.1,3825.6L1362,3833.6L1359.7,3841.6L1357.3,3849.6L1354.6,3857.6L1351.9,3865.6L1349.1,3873.6L1346.3,3881.6L1343.4,3889.6L1340.4,3897.6L1337.4,3905.6L1334.5,3913.6L1331.8,3921.6L1329.2,3929.6L1326.8,3937.6L1324.4,3945.6L1321.9,3953.6L1319.5,3961.6" fill="none" stroke="#000" stroke-width="1.15"/>
<path d="M1266,3137.6L1267.9,3145.6L1269.8,3153.6L1271.7,3161.6L1273.5,3169.6L1275.4,3177.6L1277.5,3185.6L1279.7,3193.6L1282.1,3201.6L1284.3,3209.6L1286.6,3217.6L1288.6,3225.6L1289.9,3233.6M1296,3297.6L1296.6,3305.6L1297,3313.6L1297.4,3321.6L1297.8,3329.6L1298.2,3337.6L1298.6,3345.6L1298.9,3353.6L1299.2,3361.6L1299.7,3369.6L1300.3,3377.6L1301.2,3385.6L1302.5,3393.6L1303.9,3401.6L1305.2,3409.6L1306.4,3417.6L1307.6,3425.6L1308.8,3433.6L1310,3441.6L1311.2,3449.6L1312.5,3457.6L1313.8,3465.6L1315,3473.6L1316,3481.6L1317,3489.6L1318.1,3497.6L1319,3505.6L1319.5,3513.6L1319.5,3521.6L1319.5,3529.6L1319.5,3537.6L1319.4,3545.6L1318.7,3553.6L1317.9,3561.6M1302.7,3625.6L1300.2,3633.6L1298.1,3641.6L1296.1,3649.6L1294.2,3657.6L1292.2,3665.6L1290.1,3673.6L1287.9,3681.6L1285.5,3689.6L1283.2,3697.6L1280.8,3705.6L1278.4,3713.6L1276,3721.6L1273.7,3729.6L1271.2,3737.6L1268.7,3745.6L1265.9,3753.6L1262.9,3761.6L1259.7,3769.6L1256.3,3777.6L1252.8,3785.6L1249.3,3793.6L1245.6,3801.6L1241.9,3809.6L1238,3817.6L1233.9,3825.6L1229.6,3833.6L1225.1,3841.6L1220.5,3849.6L1215.7,3857.6L1210.5,3865.6L1205.2,3873.6L1200.1,3881.6L1195.2,3889.6L1190.5,3897.6L1186,3905.6L1181.8,3913.6L1177.9,3921.6L1174.3,3929.6L1170.7,3937.6L1166.8,3945.6L1162.8,3953.6L1158.8,3961.6" fill="none" stroke="#000" stroke-width="1.15"/>
<path d="M1022.2,3137.6L1026.8,3145.6L1031.5,3153.6L1036.1,3161.6L1040.6,3169.6L1045.5,3177.6L1050.8,3185.6L1056.3,3193.6L1061.3,3201.6L1066.1,3209.6L1070.6,3217.6L1074.7,3225.6M1103.5,3289.6L1106.8,3297.6L1109.9,3305.6L1112.9,3313.6L1115.7,3321.6L1118.3,3329.6L1120.7,3337.6L1123.1,3345.6L1125.8,3353.6L1128.5,3361.6L1131.4,3369.6L1134.5,3377.6L1138,3385.6L1141.6,3393.6L1144.8,3401.6L1147.6,3409.6L1150.3,3417.6L1152.9,3425.6L1155.3,3433.6L1157.7,3441.6L1160,3449.6L1162.2,3457.6L1164.1,3465.6L1165.9,3473.6L1167.5,3481.6L1169.1,3489.6L1170.5,3497.6L1171.9,3505.6L1173.4,3513.6L1174.8,3521.6L1176,3529.6L1176.7,3537.6M1164.5,3609.6L1162.5,3617.6L1160.2,3625.6L1157.8,3633.6L1155.6,3641.6L1153.7,3649.6L1151.9,3657.6L1150.3,3665.6L1148.7,3673.6L1147.1,3681.6L1145.5,3689.6L1144,3697.6L1142.4,3705.6L1141,3713.6L1139.5,3721.6L1137.6,3729.6L1135.3,3737.6L1132.5,3745.6L1129,3753.6L1124.5,3761.6L1118.3,3769.6L1110.8,3777.6L1102.5,3785.6L1092.6,3793.6L1081.7,3801.6L1070.5,3809.6L1058.5,3817.6L1045.9,3825.6L1032.9,3833.6L1019.3,3841.6L1005.5,3849.6L990.1,3857.6L972.4,3865.6L956,3873.6L956,3961.6" fill="none" stroke="#000" stroke-width="1.15"/>
<text transform="translate(1089.3 3258.4) rotate(65)" font-size="44" text-anchor="middle" fill="#171717" dy="0.33em">85</text>
<text transform="translate(1293 3265.4) rotate(-98)" font-size="44" text-anchor="middle" fill="#171717" dy="0.33em">65</text>
<text transform="translate(1172.5 3574) rotate(-72)" font-size="44" text-anchor="middle" fill="#171717" dy="0.33em">85</text>
<text transform="translate(1314.2 3595.2) rotate(-75)" font-size="44" text-anchor="middle" fill="#171717" dy="0.33em">65</text>
<text transform="translate(1395 3696.2) rotate(-68)" font-size="44" text-anchor="middle" fill="#171717" dy="0.33em">45</text>
</g>
<rect x="996" y="3161.6" width="472" height="782.4" fill="none" stroke="#858585" stroke-width="1.5"/>
<path d="M1035.3,3161.6v-10 M1035.3,3944v10M1114,3161.6v-10 M1114,3944v10M1192.7,3161.6v-10 M1192.7,3944v10M1271.3,3161.6v-10 M1271.3,3944v10M1350,3161.6v-10 M1350,3944v10M1428.7,3161.6v-10 M1428.7,3944v10M996,3161.6h-10 M1468,3161.6h10M996,3239.8h-10 M1468,3239.8h10M996,3318.1h-10 M1468,3318.1h10M996,3396.3h-10 M1468,3396.3h10M996,3474.6h-10 M1468,3474.6h10M996,3552.8h-10 M1468,3552.8h10M996,3631h-10 M1468,3631h10M996,3709.3h-10 M1468,3709.3h10M996,3787.5h-10 M1468,3787.5h10M996,3865.8h-10 M1468,3865.8h10M996,3944h-10 M1468,3944h10" stroke="#858585" stroke-width="1.4" fill="none"/>
<text transform="translate(1035.3 3996.2) scale(0.980 1)" font-size="46.8" text-anchor="middle" fill="#171717">4</text>
<text transform="translate(1114 3996.2) scale(0.980 1)" font-size="46.8" text-anchor="middle" fill="#171717">6</text>
<text transform="translate(1192.7 3996.2) scale(0.980 1)" font-size="46.8" text-anchor="middle" fill="#171717">8</text>
<text transform="translate(1271.3 3996.2) scale(0.980 1)" font-size="46.8" text-anchor="middle" fill="#171717">10</text>
<text transform="translate(1350 3996.2) scale(0.980 1)" font-size="46.8" text-anchor="middle" fill="#171717">12</text>
<text transform="translate(1428.7 3996.2) scale(0.980 1)" font-size="46.8" text-anchor="middle" fill="#171717">14</text>
<text transform="translate(983.5 3177.2) scale(0.980 1)" font-size="46.8" text-anchor="end" fill="#171717">0</text>
<text transform="translate(983.5 3255.4) scale(0.980 1)" font-size="46.8" text-anchor="end" fill="#171717">-2</text>
<text transform="translate(983.5 3333.7) scale(0.980 1)" font-size="46.8" text-anchor="end" fill="#171717">-4</text>
<text transform="translate(983.5 3411.9) scale(0.980 1)" font-size="46.8" text-anchor="end" fill="#171717">-6</text>
<text transform="translate(983.5 3490.2) scale(0.980 1)" font-size="46.8" text-anchor="end" fill="#171717">-8</text>
<text transform="translate(983.5 3568.4) scale(0.980 1)" font-size="46.8" text-anchor="end" fill="#171717">-10</text>
<text transform="translate(983.5 3646.6) scale(0.980 1)" font-size="46.8" text-anchor="end" fill="#171717">-12</text>
<text transform="translate(983.5 3724.9) scale(0.980 1)" font-size="46.8" text-anchor="end" fill="#171717">-14</text>
<text transform="translate(983.5 3803.1) scale(0.980 1)" font-size="46.8" text-anchor="end" fill="#171717">-16</text>
<text transform="translate(983.5 3881.4) scale(0.980 1)" font-size="46.8" text-anchor="end" fill="#171717">-18</text>
<text transform="translate(983.5 3959.6) scale(0.980 1)" font-size="46.8" text-anchor="end" fill="#171717">-20</text>
<text transform="translate(1232 4055.7) scale(0.966 1)" font-size="46.9" text-anchor="middle" fill="#171717">Horizontal distance/cm</text>
<text transform="translate(902 3552.8) rotate(-90) scale(0.972 1)" font-size="46.9" text-anchor="middle" fill="#171717">Vertical distance/cm</text>
<text transform="translate(1246.6 4130.4)" font-size="61" text-anchor="middle" fill="#000">300 s</text>
<rect x="1543" y="3792.9" width="34" height="32.7" fill="#00007b" stroke="#2a2a2a" stroke-width="1.1"/>
<rect x="1543" y="3760.2" width="34" height="32.7" fill="#0000ff" stroke="#2a2a2a" stroke-width="1.1"/>
<rect x="1543" y="3727.4" width="34" height="32.7" fill="#0058ff" stroke="#2a2a2a" stroke-width="1.1"/>
<rect x="1543" y="3694.7" width="34" height="32.7" fill="#00c0ff" stroke="#2a2a2a" stroke-width="1.1"/>
<rect x="1543" y="3662" width="34" height="32.7" fill="#00f9ec" stroke="#2a2a2a" stroke-width="1.1"/>
<rect x="1543" y="3629.2" width="34" height="32.7" fill="#00e0b0" stroke="#2a2a2a" stroke-width="1.1"/>
<rect x="1543" y="3596.5" width="34" height="32.7" fill="#00c870" stroke="#2a2a2a" stroke-width="1.1"/>
<rect x="1543" y="3563.8" width="34" height="32.7" fill="#00b030" stroke="#2a2a2a" stroke-width="1.1"/>
<rect x="1543" y="3531.1" width="34" height="32.7" fill="#00a000" stroke="#2a2a2a" stroke-width="1.1"/>
<rect x="1543" y="3498.3" width="34" height="32.7" fill="#90e000" stroke="#2a2a2a" stroke-width="1.1"/>
<rect x="1543" y="3465.6" width="34" height="32.7" fill="#ffe400" stroke="#2a2a2a" stroke-width="1.1"/>
<rect x="1543" y="3432.9" width="34" height="32.7" fill="#ffa300" stroke="#2a2a2a" stroke-width="1.1"/>
<rect x="1543" y="3400.2" width="34" height="32.7" fill="#ff6000" stroke="#2a2a2a" stroke-width="1.1"/>
<rect x="1543" y="3367.4" width="34" height="32.7" fill="#ff1000" stroke="#2a2a2a" stroke-width="1.1"/>
<rect x="1543" y="3334.7" width="34" height="32.7" fill="#ff3030" stroke="#2a2a2a" stroke-width="1.1"/>
<rect x="1543" y="3302" width="34" height="32.7" fill="#ff9090" stroke="#2a2a2a" stroke-width="1.1"/>
<text transform="translate(1587 3843.1) scale(0.970 1)" font-size="46" text-anchor="start" fill="#171717">25</text>
<text transform="translate(1587 3777.7) scale(0.970 1)" font-size="46" text-anchor="start" fill="#171717">35</text>
<text transform="translate(1587 3712.2) scale(0.970 1)" font-size="46" text-anchor="start" fill="#171717">45</text>
<text transform="translate(1587 3646.8) scale(0.970 1)" font-size="46" text-anchor="start" fill="#171717">55</text>
<text transform="translate(1587 3581.3) scale(0.970 1)" font-size="46" text-anchor="start" fill="#171717">65</text>
<text transform="translate(1587 3515.8) scale(0.970 1)" font-size="46" text-anchor="start" fill="#171717">75</text>
<text transform="translate(1587 3450.4) scale(0.970 1)" font-size="46" text-anchor="start" fill="#171717">85</text>
<text transform="translate(1587 3384.9) scale(0.970 1)" font-size="46" text-anchor="start" fill="#171717">95</text></g>
<g><clipPath id="c11"><rect x="1832.6" y="3173.7" width="457.8" height="761.5"/></clipPath>
<rect x="1832.6" y="3173.7" width="457.8" height="761.5" fill="#0000ff"/>
<g clip-path="url(#c11)" stroke-linejoin="round">
<path d="M1782.6,3149.7L2330.4,3149.7L2330.4,3645.7L2328.4,3653.7L2324.3,3661.7L2320.3,3669.7L2316.2,3677.7L2312.2,3685.7L2308.2,3693.7L2304,3701.7L2299.9,3709.7L2296,3717.7L2292.6,3725.7L2290,3733.7L2288,3741.7L2286.4,3749.7L2285.1,3757.7L2284.1,3765.7L2283.2,3773.7L2282.3,3781.7L2281.5,3789.7L2280.8,3797.7L2280,3805.7L2279.2,3813.7L2278,3821.7L2276.5,3829.7L2274.8,3837.7L2273.1,3845.7L2271.3,3853.7L2269.6,3861.7L2267.8,3869.7L2265.9,3877.7L2264.1,3885.7L2262.2,3893.7L2260.1,3901.7L2258.1,3909.7L2256.1,3917.7L2254.3,3925.7L2252.5,3933.7L2250.8,3941.7L2249,3949.7L2247.2,3957.7L1782.6,3957.7Z" fill="#0058ff" stroke="#b4b4b4" stroke-width="0.8"/>
<path d="M1782.6,3149.7L2330.4,3149.7L2330.4,3357.7L2329.8,3365.7L2328.2,3373.7L2326.6,3381.7L2325,3389.7L2323.4,3397.7L2321.7,3405.7L2320,3413.7L2318.3,3421.7L2316.6,3429.7L2314.9,3437.7L2313.2,3445.7L2311.4,3453.7L2309.6,3461.7L2307.9,3469.7L2306.1,3477.7L2304.3,3485.7L2302.5,3493.7L2300.7,3501.7L2298.6,3509.7L2295.9,3517.7L2293.2,3525.7L2291,3533.7L2290,3541.7L2289.6,3549.7L2289.4,3557.7L2289.1,3565.7L2288,3573.7L2287,3581.7L2286.4,3589.7L2286,3597.7L2285.6,3605.7L2285.2,3613.7L2284.7,3621.7L2284,3629.7L2283.3,3637.7L2282.4,3645.7L2281.4,3653.7L2280.3,3661.7L2279.1,3669.7L2277.7,3677.7L2276.3,3685.7L2274.6,3693.7L2272.6,3701.7L2270.5,3709.7L2268.3,3717.7L2266,3725.7L2263.5,3733.7L2260.8,3741.7L2258.3,3749.7L2256.4,3757.7L2254.7,3765.7L2253.2,3773.7L2251.7,3781.7L2250.1,3789.7L2248.5,3797.7L2246.9,3805.7L2245.3,3813.7L2243.6,3821.7L2241.8,3829.7L2240,3837.7L2238,3845.7L2236,3853.7L2233.9,3861.7L2231.9,3869.7L2229.7,3877.7L2227.5,3885.7L2225.3,3893.7L2223.1,3901.7L2220.9,3909.7L2219,3917.7L2217.1,3925.7L2215.3,3933.7L2213.5,3941.7L2211.7,3949.7L2209.8,3957.7L1782.6,3957.7Z" fill="#00c0ff" stroke="#b4b4b4" stroke-width="0.8"/>
<path d="M1782.6,3149.7L2330.4,3149.7L2330.4,3309.7L2328.9,3317.7L2326.7,3325.7L2324.6,3333.7L2322.3,3341.7L2320.1,3349.7L2317.7,3357.7L2315.4,3365.7L2313.1,3373.7L2310.7,3381.7L2308.3,3389.7L2305.9,3397.7L2303.4,3405.7L2300.7,3413.7L2297.6,3421.7L2294.4,3429.7L2291.2,3437.7L2288.2,3445.7L2285.2,3453.7L2282.4,3461.7L2279.7,3469.7L2277.2,3477.7L2274.8,3485.7L2272.5,3493.7L2270.4,3501.7L2268.4,3509.7L2266.6,3517.7L2264.7,3525.7L2262.8,3533.7L2261.4,3541.7L2261.1,3549.7L2261.1,3557.7L2261,3565.7L2260.5,3573.7L2259.5,3581.7L2258.5,3589.7L2257.5,3597.7L2256.4,3605.7L2255.2,3613.7L2254,3621.7L2252.7,3629.7L2251.3,3637.7L2250,3645.7L2248.6,3653.7L2247.1,3661.7L2245.5,3669.7L2243.7,3677.7L2241.7,3685.7L2239.6,3693.7L2237.5,3701.7L2235.5,3709.7L2233.5,3717.7L2231.5,3725.7L2229.5,3733.7L2227.5,3741.7L2225.5,3749.7L2223.6,3757.7L2221.6,3765.7L2219.5,3773.7L2217.5,3781.7L2215.3,3789.7L2213.1,3797.7L2210.9,3805.7L2208.7,3813.7L2206.5,3821.7L2204.3,3829.7L2202.1,3837.7L2200,3845.7L2197.8,3853.7L2195.6,3861.7L2193.3,3869.7L2191.1,3877.7L2188.9,3885.7L2186.9,3893.7L2184.9,3901.7L2183.1,3909.7L2181.4,3917.7L2179.7,3925.7L2178.1,3933.7L2176.4,3941.7L2174.7,3949.7L2172.9,3957.7L1782.6,3957.7Z" fill="#00f9ec" stroke="#b4b4b4" stroke-width="0.8"/>
<path d="M1782.6,3149.7L2330.4,3149.7L2330.4,3261.7L2329.8,3269.7L2325.7,3277.7L2321.3,3285.7L2316.7,3293.7L2311.9,3301.7L2307,3309.7L2299.4,3317.7L2289.7,3325.7L2279.3,3333.7L2272.7,3341.7L2267.6,3349.7L2263.4,3357.7L2259.9,3365.7L2257.5,3373.7L2256,3381.7L2254.8,3389.7L2254.1,3397.7L2253.5,3405.7L2253.2,3413.7L2252.9,3421.7L2252.5,3429.7L2251.9,3437.7L2251.3,3445.7L2250.5,3453.7L2249.6,3461.7L2248.6,3469.7L2247.5,3477.7L2246.2,3485.7L2244.9,3493.7L2243.7,3501.7L2242.8,3509.7L2241.9,3517.7L2241.2,3525.7L2240.4,3533.7L2239.7,3541.7L2239.1,3549.7L2238.4,3557.7L2237.7,3565.7L2236.8,3573.7L2235.9,3581.7L2234.9,3589.7L2234.1,3597.7L2233.2,3605.7L2232.4,3613.7L2231.5,3621.7L2230.3,3629.7L2228.9,3637.7L2227.3,3645.7L2225.5,3653.7L2223.6,3661.7L2221.6,3669.7L2219.6,3677.7L2217.6,3685.7L2215.4,3693.7L2213.1,3701.7L2210.6,3709.7L2208.2,3717.7L2205.8,3725.7L2203.3,3733.7L2200.7,3741.7L2198.2,3749.7L2195.8,3757.7L2193.4,3765.7L2191.1,3773.7L2188.7,3781.7L2186.2,3789.7L2183.6,3797.7L2180.9,3805.7L2178.2,3813.7L2175.5,3821.7L2172.8,3829.7L2170.2,3837.7L2167.5,3845.7L2164.9,3853.7L2162.2,3861.7L2159.5,3869.7L2156.7,3877.7L2153.8,3885.7L2150.9,3893.7L2148.1,3901.7L2145.6,3909.7L2143.3,3917.7L2141.2,3925.7L2139.2,3933.7L2137.1,3941.7L2135,3949.7L2132.8,3957.7L1782.6,3957.7Z" fill="#00e0b0"/>
<path d="M1782.6,3149.7L2330.4,3149.7L2330.4,3221.7L2326.9,3229.7L2320.3,3237.7L2313.4,3245.7L2306.3,3253.7L2297,3261.7L2286.3,3269.7L2275.1,3277.7L2264.8,3285.7L2255.6,3293.7L2248,3301.7L2241.5,3309.7L2235.4,3317.7L2229.4,3325.7L2224.1,3333.7L2220.6,3341.7L2217.8,3349.7L2215.8,3357.7L2214.7,3365.7L2214,3373.7L2213.5,3381.7L2213.3,3389.7L2213.4,3397.7L2213.8,3405.7L2214.3,3413.7L2214.8,3421.7L2215.2,3429.7L2215.6,3437.7L2216,3445.7L2216.4,3453.7L2216.8,3461.7L2217.3,3469.7L2217.8,3477.7L2218.3,3485.7L2218.6,3493.7L2218.6,3501.7L2218.6,3509.7L2218.6,3517.7L2218.6,3525.7L2218.6,3533.7L2218.6,3541.7L2218.3,3549.7L2217.8,3557.7L2217.1,3565.7L2216.3,3573.7L2215.2,3581.7L2214,3589.7L2212.6,3597.7L2211.2,3605.7L2209.7,3613.7L2208.2,3621.7L2206.5,3629.7L2204.8,3637.7L2203,3645.7L2201.1,3653.7L2199.1,3661.7L2197,3669.7L2194.7,3677.7L2192.2,3685.7L2189.5,3693.7L2186.7,3701.7L2183.8,3709.7L2180.7,3717.7L2177.6,3725.7L2174.4,3733.7L2171.3,3741.7L2168.2,3749.7L2165.2,3757.7L2162,3765.7L2158.7,3773.7L2155.2,3781.7L2151.7,3789.7L2148,3797.7L2144.2,3805.7L2140.3,3813.7L2136.3,3821.7L2132.3,3829.7L2128.2,3837.7L2124.1,3845.7L2119.9,3853.7L2115.6,3861.7L2111.7,3869.7L2108.3,3877.7L2105.4,3885.7L2102.7,3893.7L2100.6,3901.7L2099.1,3909.7L2097.9,3917.7L2096.9,3925.7L2096.4,3933.7L2095.6,3941.7L2094.7,3949.7L2093.7,3957.7L1782.6,3957.7Z" fill="#00c870" stroke="#b4b4b4" stroke-width="0.8"/>
<path d="M1782.6,3149.7L2330.4,3149.7L2330.4,3181.7L2319.5,3189.7L2307.2,3197.7L2294.6,3205.7L2281.1,3213.7L2269.4,3221.7L2260,3229.7L2251.4,3237.7L2242.9,3245.7L2234.9,3253.7L2227.2,3261.7L2219.9,3269.7L2213,3277.7L2206.4,3285.7L2200.1,3293.7L2194,3301.7L2188.6,3309.7L2184.3,3317.7L2180.5,3325.7L2177.4,3333.7L2174.9,3341.7L2172.7,3349.7L2171.1,3357.7L2170.9,3365.7L2171.6,3373.7L2172.8,3381.7L2174.2,3389.7L2175.5,3397.7L2177.1,3405.7L2178.8,3413.7L2180.5,3421.7L2182.1,3429.7L2183.8,3437.7L2185.4,3445.7L2187,3453.7L2188.5,3461.7L2189.9,3469.7L2191.2,3477.7L2192.4,3485.7L2193.4,3493.7L2194.3,3501.7L2195.2,3509.7L2196.1,3517.7L2196.8,3525.7L2197.2,3533.7L2197.3,3541.7L2197.1,3549.7L2196.5,3557.7L2195.8,3565.7L2194.9,3573.7L2193.5,3581.7L2191.8,3589.7L2189.9,3597.7L2188.1,3605.7L2186.2,3613.7L2184.1,3621.7L2182.1,3629.7L2180,3637.7L2178.1,3645.7L2176.1,3653.7L2174.2,3661.7L2172.1,3669.7L2169.9,3677.7L2167.4,3685.7L2164.7,3693.7L2161.9,3701.7L2159,3709.7L2156,3717.7L2152.9,3725.7L2149.7,3733.7L2146.4,3741.7L2142.9,3749.7L2139.4,3757.7L2135.7,3765.7L2132,3773.7L2128.1,3781.7L2124.2,3789.7L2120.1,3797.7L2115.9,3805.7L2111.3,3813.7L2106.5,3821.7L2101.6,3829.7L2096.7,3837.7L2091.8,3845.7L2086.8,3853.7L2081.8,3861.7L2077,3869.7L2072.8,3877.7L2068.8,3885.7L2065.1,3893.7L2062,3901.7L2059.5,3909.7L2057.3,3917.7L2055.5,3925.7L2054.1,3933.7L2052.3,3941.7L2050.4,3949.7L2048.5,3957.7L1782.6,3957.7Z" fill="#00b030" stroke="#b4b4b4" stroke-width="0.8"/>
<path d="M1782.6,3149.7L2237.7,3149.7L2230.2,3157.7L2222.6,3165.7L2215.1,3173.7L2207,3181.7L2199.7,3189.7L2193.2,3197.7L2187.2,3205.7L2181.8,3213.7L2177.1,3221.7L2172.9,3229.7L2169,3237.7L2165.5,3245.7L2162.1,3253.7L2159.1,3261.7L2156.3,3269.7L2153.7,3277.7L2151.2,3285.7L2148.8,3293.7L2146.9,3301.7L2145.3,3309.7L2143.8,3317.7L2142.5,3325.7L2141.6,3333.7L2141.2,3341.7L2141,3349.7L2140.8,3357.7L2140.7,3365.7L2140.8,3373.7L2141.2,3381.7L2142.1,3389.7L2143.2,3397.7L2144.3,3405.7L2145.9,3413.7L2147.9,3421.7L2150.1,3429.7L2152.4,3437.7L2154.4,3445.7L2156.4,3453.7L2158.4,3461.7L2160.4,3469.7L2162.4,3477.7L2164.5,3485.7L2166.6,3493.7L2168.6,3501.7L2170.4,3509.7L2172.3,3517.7L2174.2,3525.7L2175.7,3533.7L2176.1,3541.7L2175.9,3549.7L2175.6,3557.7L2175,3565.7L2173.6,3573.7L2171.8,3581.7L2169.8,3589.7L2168,3597.7L2166,3605.7L2164,3613.7L2161.9,3621.7L2159.9,3629.7L2157.9,3637.7L2155.9,3645.7L2153.9,3653.7L2151.9,3661.7L2149.8,3669.7L2147.6,3677.7L2145.4,3685.7L2143.1,3693.7L2140.6,3701.7L2138.1,3709.7L2135.4,3717.7L2132.6,3725.7L2129.7,3733.7L2126.7,3741.7L2123.6,3749.7L2120.3,3757.7L2116.7,3765.7L2112.9,3773.7L2108.8,3781.7L2104.6,3789.7L2100.2,3797.7L2095.6,3805.7L2090.7,3813.7L2085.8,3821.7L2080.9,3829.7L2076.1,3837.7L2071.2,3845.7L2066.4,3853.7L2061.6,3861.7L2057,3869.7L2052.3,3877.7L2047.7,3885.7L2043.4,3893.7L2039.7,3901.7L2036.3,3909.7L2033.1,3917.7L2030.2,3925.7L2027.7,3933.7L2024.8,3941.7L2021.7,3949.7L2018.7,3957.7L1782.6,3957.7Z" fill="#00a000" stroke="#b4b4b4" stroke-width="0.8"/>
<path d="M1782.6,3149.7L2097.8,3149.7L2098.3,3157.7L2098.8,3165.7L2099.2,3173.7L2099.7,3181.7L2100.1,3189.7L2100.6,3197.7L2101.2,3205.7L2101.8,3213.7L2102.5,3221.7L2103.1,3229.7L2103.6,3237.7L2104.1,3245.7L2104.4,3253.7L2104.8,3261.7L2105.1,3269.7L2105.5,3277.7L2105.9,3285.7L2106.3,3293.7L2106.7,3301.7L2107,3309.7L2107.4,3317.7L2107.8,3325.7L2108.2,3333.7L2108.6,3341.7L2109.2,3349.7L2109.9,3357.7L2110.7,3365.7L2111.6,3373.7L2112.5,3381.7L2113.6,3389.7L2114.7,3397.7L2116,3405.7L2117.3,3413.7L2118.7,3421.7L2120.3,3429.7L2122,3437.7L2123.6,3445.7L2125.3,3453.7L2126.9,3461.7L2128.5,3469.7L2130.1,3477.7L2131.7,3485.7L2133.3,3493.7L2134.9,3501.7L2136.5,3509.7L2138.1,3517.7L2139.8,3525.7L2141.7,3533.7L2142.4,3541.7L2142.1,3549.7L2141.4,3557.7L2140,3565.7L2138.1,3573.7L2135.9,3581.7L2133.8,3589.7L2131.5,3597.7L2129,3605.7L2126.4,3613.7L2123.9,3621.7L2121.7,3629.7L2119.6,3637.7L2117.6,3645.7L2115.7,3653.7L2113.8,3661.7L2112,3669.7L2110.3,3677.7L2108.6,3685.7L2106.7,3693.7L2104.6,3701.7L2102.4,3709.7L2100.1,3717.7L2097.7,3725.7L2095.2,3733.7L2092.7,3741.7L2089.9,3749.7L2086.9,3757.7L2083.7,3765.7L2080.2,3773.7L2076.5,3781.7L2072.5,3789.7L2068,3797.7L2063.1,3805.7L2058.1,3813.7L2053.1,3821.7L2048.3,3829.7L2043.3,3837.7L2038.4,3845.7L2033.7,3853.7L2029.3,3861.7L2025,3869.7L2020.8,3877.7L2016.9,3885.7L2013.4,3893.7L2010.1,3901.7L2007.1,3909.7L2004.3,3917.7L2001.7,3925.7L1999.3,3933.7L1996.6,3941.7L1993.9,3949.7L1991.1,3957.7L1782.6,3957.7Z" fill="#90e000"/>
<path d="M1782.6,3149.7L2033.8,3149.7L2034.9,3157.7L2036.1,3165.7L2037.2,3173.7L2038.3,3181.7L2039.4,3189.7L2040.6,3197.7L2041.9,3205.7L2043.4,3213.7L2045,3221.7L2046.6,3229.7L2048.4,3237.7L2050.2,3245.7L2052.2,3253.7L2054.3,3261.7L2056.4,3269.7L2058.4,3277.7L2060.4,3285.7L2062.5,3293.7L2064.5,3301.7L2066.4,3309.7L2068.1,3317.7L2069.8,3325.7L2071.4,3333.7L2072.8,3341.7L2074.2,3349.7L2075.4,3357.7L2076.6,3365.7L2077.7,3373.7L2078.9,3381.7L2080.1,3389.7L2081.2,3397.7L2082.4,3405.7L2083.7,3413.7L2085.1,3421.7L2086.7,3429.7L2088.3,3437.7L2090,3445.7L2091.6,3453.7L2093.2,3461.7L2094.8,3469.7L2096.4,3477.7L2098,3485.7L2099.6,3493.7L2101.3,3501.7L2103,3509.7L2104.5,3517.7L2106,3525.7L2107.5,3533.7L2108.1,3541.7L2107.9,3549.7L2107.6,3557.7L2107.2,3565.7L2106.6,3573.7L2105.4,3581.7L2103.9,3589.7L2102.2,3597.7L2100.6,3605.7L2098.9,3613.7L2097.1,3621.7L2095.3,3629.7L2093.5,3637.7L2092,3645.7L2090.6,3653.7L2089.2,3661.7L2087.4,3669.7L2085,3677.7L2080.7,3685.7L2076.1,3693.7L2072.9,3701.7L2071.1,3709.7L2069.7,3717.7L2068.4,3725.7L2067,3733.7L2065,3741.7L2062,3749.7L2058.1,3757.7L2053.9,3765.7L2049.8,3773.7L2045.7,3781.7L2041.5,3789.7L2037.1,3797.7L2032.6,3805.7L2027.8,3813.7L2022.8,3821.7L2018,3829.7L2013.5,3837.7L2009.3,3845.7L2005.1,3853.7L2000.8,3861.7L1996,3869.7L1991,3877.7L1986.7,3885.7L1983.2,3893.7L1980,3901.7L1976.9,3909.7L1973.8,3917.7L1970.8,3925.7L1968.5,3933.7L1966.6,3941.7L1964.9,3949.7L1963.1,3957.7L1782.6,3957.7Z" fill="#ffe400" stroke="#b4b4b4" stroke-width="0.8"/>
<path d="M1782.6,3149.7L1996.3,3149.7L1996.9,3157.7L1997.6,3165.7L1998.3,3173.7L1998.7,3181.7L1999.3,3189.7L2000.1,3197.7L2001.1,3205.7L2002.4,3213.7L2004,3221.7L2005.8,3229.7L2007.7,3237.7L2009.5,3245.7L2011.5,3253.7L2013.6,3261.7L2015.6,3269.7L2017.6,3277.7L2019.6,3285.7L2021.6,3293.7L2023.6,3301.7L2025.6,3309.7L2027.7,3317.7L2029.7,3325.7L2031.8,3333.7L2033.7,3341.7L2035.5,3349.7L2037.2,3357.7L2038.8,3365.7L2040.3,3373.7L2041.7,3381.7L2043,3389.7L2044.1,3397.7L2045.2,3405.7L2046.5,3413.7L2047.9,3421.7L2049.4,3429.7L2051,3437.7L2052.7,3445.7L2054.5,3453.7L2056.5,3461.7L2058.6,3469.7L2060.6,3477.7L2062.6,3485.7L2064.3,3493.7L2065.9,3501.7L2067.5,3509.7L2069,3517.7L2070.7,3525.7L2072.7,3533.7L2073.4,3541.7L2073.1,3549.7L2072.5,3557.7L2071.8,3565.7L2071,3573.7L2069.8,3581.7L2068.4,3589.7L2066.8,3597.7L2065.2,3605.7L2063.4,3613.7L2061.5,3621.7L2059.6,3629.7L2057.8,3637.7L2056.1,3645.7L2054.7,3653.7L2053.3,3661.7L2051.6,3669.7L2049.3,3677.7L2045.7,3685.7L2041.9,3693.7L2039.3,3701.7L2037.9,3709.7L2036.8,3717.7L2035.6,3725.7L2033.9,3733.7L2031.7,3741.7L2029.1,3749.7L2026,3757.7L2022.2,3765.7L2017.1,3773.7L2011.3,3781.7L2005.5,3789.7L2000.1,3797.7L1994.8,3805.7L1989.4,3813.7L1984.1,3821.7L1978.8,3829.7L1973.5,3837.7L1968.2,3845.7L1962.8,3853.7L1957.4,3861.7L1952,3869.7L1946.8,3877.7L1942,3885.7L1937.3,3893.7L1932.1,3901.7L1926.7,3909.7L1918.3,3917.7L1904.1,3925.7L1886.2,3933.7L1861.1,3941.7L1835.6,3949.7L1810.2,3957.7L1782.6,3957.7Z" fill="#ffa300" stroke="#b4b4b4" stroke-width="0.8"/>
<path d="M1782.6,3149.7L1957.1,3149.7L1956.9,3157.7L1956.7,3165.7L1956.5,3173.7L1956.1,3181.7L1955.9,3189.7L1955.8,3197.7L1955.8,3205.7L1956.1,3213.7L1956.6,3221.7L1957.4,3229.7L1958.2,3237.7L1959.2,3245.7L1960.7,3253.7L1962.4,3261.7L1964.3,3269.7L1966.3,3277.7L1968.5,3285.7L1971,3293.7L1973.6,3301.7L1976.1,3309.7L1978.5,3317.7L1981,3325.7L1983.4,3333.7L1985.7,3341.7L1987.9,3349.7L1990.1,3357.7L1992.2,3365.7L1994.1,3373.7L1995.7,3381.7L1997.1,3389.7L1998.2,3397.7L1999.3,3405.7L2000.5,3413.7L2001.6,3421.7L2002.8,3429.7L2004,3437.7L2005.2,3445.7L2006.5,3453.7L2008,3461.7L2009.7,3469.7L2011.4,3477.7L2013,3485.7L2014.6,3493.7L2016.3,3501.7L2017.9,3509.7L2019.5,3517.7L2021,3525.7L2022.5,3533.7L2023.1,3541.7L2022.9,3549.7L2022.6,3557.7L2022.2,3565.7L2021.6,3573.7L2020.6,3581.7L2019.2,3589.7L2017.8,3597.7L2016.4,3605.7L2014.8,3613.7L2013.1,3621.7L2011.4,3629.7L2009.9,3637.7L2008.5,3645.7L2007.3,3653.7L2006.1,3661.7L2004.9,3669.7L2003.9,3677.7L2003.1,3685.7L2002.2,3693.7L2001.4,3701.7L2000.3,3709.7L1999.2,3717.7L1998,3725.7L1996.5,3733.7L1994.6,3741.7L1992.1,3749.7L1989,3757.7L1985.3,3765.7L1980.8,3773.7L1975,3781.7L1968.3,3789.7L1961.1,3797.7L1952.9,3805.7L1943.6,3813.7L1933.8,3821.7L1923.5,3829.7L1912.5,3837.7L1900.3,3845.7L1886.2,3853.7L1869.8,3861.7L1852.5,3869.7L1833.9,3877.7L1813.6,3885.7L1792.6,3893.7L1792.6,3957.7L1782.6,3957.7Z" fill="#ff6000" stroke="#b4b4b4" stroke-width="0.8"/>
<path d="M1782.6,3149.7L1792.6,3149.7L1792.6,3165.7L1804.3,3173.7L1816.5,3181.7L1828.5,3189.7L1839.8,3197.7L1849.6,3205.7L1857.9,3213.7L1865.1,3221.7L1871.4,3229.7L1877.1,3237.7L1882.1,3245.7L1886.5,3253.7L1890.3,3261.7L1894.1,3269.7L1898.1,3277.7L1902.1,3285.7L1906,3293.7L1909.8,3301.7L1913.4,3309.7L1916.6,3317.7L1919.7,3325.7L1922.6,3333.7L1925.4,3341.7L1928,3349.7L1930.9,3357.7L1933,3365.7L1933.7,3373.7L1934.1,3381.7L1934.3,3389.7L1934.5,3397.7L1934.7,3405.7L1934.8,3413.7L1934.9,3421.7L1935.1,3429.7L1935.4,3437.7L1936,3445.7L1936.9,3453.7L1937.8,3461.7L1938.9,3469.7L1940.2,3477.7L1941.8,3485.7L1943.6,3493.7L1945.3,3501.7L1947.1,3509.7L1949.1,3517.7L1951.1,3525.7L1952.6,3533.7L1953.6,3541.7L1954.4,3549.7L1954.7,3557.7L1954.2,3565.7L1953.2,3573.7L1952.3,3581.7L1951.8,3589.7L1951.3,3597.7L1950.8,3605.7L1950.5,3613.7L1950.2,3621.7L1950.1,3629.7L1950.1,3637.7L1950.1,3645.7L1950.1,3653.7L1950.1,3661.7L1950.1,3669.7L1950.1,3677.7L1950.5,3685.7L1951.1,3693.7L1951.8,3701.7L1952.2,3709.7L1952.5,3717.7L1952.8,3725.7L1952.9,3733.7L1952.6,3741.7L1949.6,3749.7L1944.5,3757.7L1932.7,3765.7L1918.5,3773.7L1902.6,3781.7L1881.6,3789.7L1855.2,3797.7L1826.2,3805.7L1798.7,3813.7L1792.6,3821.7L1792.6,3957.7L1782.6,3957.7Z" fill="#ff1000"/>
<path d="M1782.6,3149.7L1792.6,3149.7L1792.6,3333.7L1797.9,3341.7L1815,3349.7L1831.5,3357.7L1835.5,3365.7L1835.4,3373.7L1831.3,3381.7L1814.5,3389.7L1797.6,3397.7L1792.6,3405.7L1792.6,3957.7L1782.6,3957.7Z" fill="#ff3030" stroke="#b4b4b4" stroke-width="0.8"/>
<path d="M2330.4,3149.7L2330.4,3261.7L2329.8,3269.7L2325.7,3277.7L2321.3,3285.7L2316.7,3293.7L2311.9,3301.7L2307,3309.7L2299.4,3317.7L2289.7,3325.7L2279.3,3333.7L2272.7,3341.7L2267.6,3349.7L2263.4,3357.7L2259.9,3365.7L2257.5,3373.7L2256,3381.7L2254.8,3389.7L2254.1,3397.7L2253.5,3405.7L2253.2,3413.7L2252.9,3421.7L2252.5,3429.7L2251.9,3437.7L2251.3,3445.7L2250.5,3453.7L2249.6,3461.7L2248.6,3469.7L2247.5,3477.7L2246.2,3485.7L2244.9,3493.7L2243.7,3501.7L2242.8,3509.7L2241.9,3517.7L2241.2,3525.7L2240.4,3533.7L2239.7,3541.7L2239.1,3549.7L2238.4,3557.7L2237.7,3565.7L2236.8,3573.7L2235.9,3581.7L2234.9,3589.7L2234.1,3597.7L2233.2,3605.7L2232.4,3613.7L2231.5,3621.7L2230.3,3629.7L2228.9,3637.7L2227.3,3645.7M2208.2,3717.7L2205.8,3725.7L2203.3,3733.7L2200.7,3741.7L2198.2,3749.7L2195.8,3757.7L2193.4,3765.7L2191.1,3773.7L2188.7,3781.7L2186.2,3789.7L2183.6,3797.7L2180.9,3805.7L2178.2,3813.7L2175.5,3821.7L2172.8,3829.7L2170.2,3837.7L2167.5,3845.7L2164.9,3853.7L2162.2,3861.7L2159.5,3869.7L2156.7,3877.7L2153.8,3885.7L2150.9,3893.7L2148.1,3901.7L2145.6,3909.7L2143.3,3917.7L2141.2,3925.7L2139.2,3933.7L2137.1,3941.7L2135,3949.7L2132.8,3957.7" fill="none" stroke="#000" stroke-width="1.15"/>
<path d="M2097.8,3149.7L2098.3,3157.7L2098.8,3165.7L2099.2,3173.7L2099.7,3181.7L2100.1,3189.7L2100.6,3197.7L2101.2,3205.7L2101.8,3213.7L2102.5,3221.7L2103.1,3229.7L2103.6,3237.7M2107,3309.7L2107.4,3317.7L2107.8,3325.7L2108.2,3333.7L2108.6,3341.7L2109.2,3349.7L2109.9,3357.7L2110.7,3365.7L2111.6,3373.7L2112.5,3381.7L2113.6,3389.7L2114.7,3397.7L2116,3405.7L2117.3,3413.7L2118.7,3421.7L2120.3,3429.7L2122,3437.7L2123.6,3445.7L2125.3,3453.7L2126.9,3461.7L2128.5,3469.7L2130.1,3477.7L2131.7,3485.7L2133.3,3493.7L2134.9,3501.7L2136.5,3509.7L2138.1,3517.7L2139.8,3525.7L2141.7,3533.7L2142.4,3541.7L2142.1,3549.7M2123.9,3621.7L2121.7,3629.7L2119.6,3637.7L2117.6,3645.7L2115.7,3653.7L2113.8,3661.7L2112,3669.7L2110.3,3677.7L2108.6,3685.7L2106.7,3693.7L2104.6,3701.7L2102.4,3709.7L2100.1,3717.7L2097.7,3725.7L2095.2,3733.7L2092.7,3741.7L2089.9,3749.7L2086.9,3757.7L2083.7,3765.7L2080.2,3773.7L2076.5,3781.7L2072.5,3789.7L2068,3797.7L2063.1,3805.7L2058.1,3813.7L2053.1,3821.7L2048.3,3829.7L2043.3,3837.7L2038.4,3845.7L2033.7,3853.7L2029.3,3861.7L2025,3869.7L2020.8,3877.7L2016.9,3885.7L2013.4,3893.7L2010.1,3901.7L2007.1,3909.7L2004.3,3917.7L2001.7,3925.7L1999.3,3933.7L1996.6,3941.7L1993.9,3949.7L1991.1,3957.7" fill="none" stroke="#000" stroke-width="1.15"/>
<path d="M1792.6,3149.7L1792.6,3165.7L1804.3,3173.7L1816.5,3181.7L1828.5,3189.7L1839.8,3197.7L1849.6,3205.7L1857.9,3213.7L1865.1,3221.7L1871.4,3229.7L1877.1,3237.7L1882.1,3245.7L1886.5,3253.7L1890.3,3261.7L1894.1,3269.7L1898.1,3277.7M1925.4,3341.7L1928,3349.7L1930.9,3357.7L1933,3365.7L1933.7,3373.7L1934.1,3381.7L1934.3,3389.7L1934.5,3397.7L1934.7,3405.7L1934.8,3413.7L1934.9,3421.7L1935.1,3429.7L1935.4,3437.7L1936,3445.7L1936.9,3453.7L1937.8,3461.7L1938.9,3469.7L1940.2,3477.7L1941.8,3485.7L1943.6,3493.7L1945.3,3501.7L1947.1,3509.7L1949.1,3517.7L1951.1,3525.7L1952.6,3533.7L1953.6,3541.7L1954.4,3549.7L1954.7,3557.7L1954.2,3565.7L1953.2,3573.7L1952.3,3581.7L1951.8,3589.7L1951.3,3597.7M1950.1,3661.7L1950.1,3669.7L1950.1,3677.7L1950.5,3685.7L1951.1,3693.7L1951.8,3701.7L1952.2,3709.7L1952.5,3717.7L1952.8,3725.7L1952.9,3733.7L1952.6,3741.7L1949.6,3749.7L1944.5,3757.7L1932.7,3765.7L1918.5,3773.7L1902.6,3781.7L1881.6,3789.7L1855.2,3797.7L1826.2,3805.7L1798.7,3813.7L1792.6,3821.7L1792.6,3957.7" fill="none" stroke="#000" stroke-width="1.15"/>
<text transform="translate(1914 3311.2) rotate(65)" font-size="42.9" text-anchor="middle" fill="#171717" dy="0.33em">90</text>
<text transform="translate(2105.3 3272.2) rotate(87)" font-size="42.9" text-anchor="middle" fill="#171717" dy="0.33em">70</text>
<text transform="translate(1950.1 3630.3) rotate(-87)" font-size="42.9" text-anchor="middle" fill="#171717" dy="0.33em">90</text>
<text transform="translate(2135.4 3587.8) rotate(-72)" font-size="42.9" text-anchor="middle" fill="#171717" dy="0.33em">70</text>
<text transform="translate(2218.6 3681.7) rotate(-72)" font-size="42.9" text-anchor="middle" fill="#171717" dy="0.33em">50</text>
</g>
<rect x="1832.6" y="3173.7" width="457.8" height="761.5" fill="none" stroke="#858585" stroke-width="1.5"/>
<path d="M1870.8,3173.7v-9.7 M1870.8,3935.2v9.7M1947,3173.7v-9.7 M1947,3935.2v9.7M2023.3,3173.7v-9.7 M2023.3,3935.2v9.7M2099.7,3173.7v-9.7 M2099.7,3935.2v9.7M2175.9,3173.7v-9.7 M2175.9,3935.2v9.7M2252.2,3173.7v-9.7 M2252.2,3935.2v9.7M1832.6,3173.7h-9.7 M2290.4,3173.7h9.7M1832.6,3249.8h-9.7 M2290.4,3249.8h9.7M1832.6,3326h-9.7 M2290.4,3326h9.7M1832.6,3402.1h-9.7 M2290.4,3402.1h9.7M1832.6,3478.3h-9.7 M2290.4,3478.3h9.7M1832.6,3554.4h-9.7 M2290.4,3554.4h9.7M1832.6,3630.6h-9.7 M2290.4,3630.6h9.7M1832.6,3706.8h-9.7 M2290.4,3706.8h9.7M1832.6,3782.9h-9.7 M2290.4,3782.9h9.7M1832.6,3859h-9.7 M2290.4,3859h9.7M1832.6,3935.2h-9.7 M2290.4,3935.2h9.7" stroke="#858585" stroke-width="1.4" fill="none"/>
<text transform="translate(1870.8 3986) scale(0.980 1)" font-size="45.6" text-anchor="middle" fill="#171717">4</text>
<text transform="translate(1947 3986) scale(0.980 1)" font-size="45.6" text-anchor="middle" fill="#171717">6</text>
<text transform="translate(2023.3 3986) scale(0.980 1)" font-size="45.6" text-anchor="middle" fill="#171717">8</text>
<text transform="translate(2099.7 3986) scale(0.980 1)" font-size="45.6" text-anchor="middle" fill="#171717">10</text>
<text transform="translate(2175.9 3986) scale(0.980 1)" font-size="45.6" text-anchor="middle" fill="#171717">12</text>
<text transform="translate(2252.2 3986) scale(0.980 1)" font-size="45.6" text-anchor="middle" fill="#171717">14</text>
<text transform="translate(1820.4 3188.9) scale(0.980 1)" font-size="45.6" text-anchor="end" fill="#171717">0</text>
<text transform="translate(1820.4 3265) scale(0.980 1)" font-size="45.6" text-anchor="end" fill="#171717">-2</text>
<text transform="translate(1820.4 3341.2) scale(0.980 1)" font-size="45.6" text-anchor="end" fill="#171717">-4</text>
<text transform="translate(1820.4 3417.3) scale(0.980 1)" font-size="45.6" text-anchor="end" fill="#171717">-6</text>
<text transform="translate(1820.4 3493.5) scale(0.980 1)" font-size="45.6" text-anchor="end" fill="#171717">-8</text>
<text transform="translate(1820.4 3569.6) scale(0.980 1)" font-size="45.6" text-anchor="end" fill="#171717">-10</text>
<text transform="translate(1820.4 3645.8) scale(0.980 1)" font-size="45.6" text-anchor="end" fill="#171717">-12</text>
<text transform="translate(1820.4 3721.9) scale(0.980 1)" font-size="45.6" text-anchor="end" fill="#171717">-14</text>
<text transform="translate(1820.4 3798.1) scale(0.980 1)" font-size="45.6" text-anchor="end" fill="#171717">-16</text>
<text transform="translate(1820.4 3874.2) scale(0.980 1)" font-size="45.6" text-anchor="end" fill="#171717">-18</text>
<text transform="translate(1820.4 3950.4) scale(0.980 1)" font-size="45.6" text-anchor="end" fill="#171717">-20</text>
<text transform="translate(2061.5 4044) scale(0.966 1)" font-size="45.7" text-anchor="middle" fill="#171717">Horizontal distance/cm</text>
<text transform="translate(1741 3554.4) rotate(-90) scale(0.972 1)" font-size="45.7" text-anchor="middle" fill="#171717">Vertical distance/cm</text>
<text transform="translate(2086.5 4128)" font-size="61" text-anchor="middle" fill="#000">360 s</text>
<rect x="2362.9" y="3785" width="32.6" height="33.9" fill="#0000ff" stroke="#2a2a2a" stroke-width="1.1"/>
<rect x="2362.9" y="3751.1" width="32.6" height="33.9" fill="#0058ff" stroke="#2a2a2a" stroke-width="1.1"/>
<rect x="2362.9" y="3717.2" width="32.6" height="33.9" fill="#00c0ff" stroke="#2a2a2a" stroke-width="1.1"/>
<rect x="2362.9" y="3683.4" width="32.6" height="33.9" fill="#00f9ec" stroke="#2a2a2a" stroke-width="1.1"/>
<rect x="2362.9" y="3649.5" width="32.6" height="33.9" fill="#00e0b0" stroke="#2a2a2a" stroke-width="1.1"/>
<rect x="2362.9" y="3615.6" width="32.6" height="33.9" fill="#00c870" stroke="#2a2a2a" stroke-width="1.1"/>
<rect x="2362.9" y="3581.7" width="32.6" height="33.9" fill="#00b030" stroke="#2a2a2a" stroke-width="1.1"/>
<rect x="2362.9" y="3547.8" width="32.6" height="33.9" fill="#00a000" stroke="#2a2a2a" stroke-width="1.1"/>
<rect x="2362.9" y="3513.9" width="32.6" height="33.9" fill="#90e000" stroke="#2a2a2a" stroke-width="1.1"/>
<rect x="2362.9" y="3480" width="32.6" height="33.9" fill="#ffe400" stroke="#2a2a2a" stroke-width="1.1"/>
<rect x="2362.9" y="3446.1" width="32.6" height="33.9" fill="#ffa300" stroke="#2a2a2a" stroke-width="1.1"/>
<rect x="2362.9" y="3412.3" width="32.6" height="33.9" fill="#ff6000" stroke="#2a2a2a" stroke-width="1.1"/>
<rect x="2362.9" y="3378.4" width="32.6" height="33.9" fill="#ff1000" stroke="#2a2a2a" stroke-width="1.1"/>
<rect x="2362.9" y="3344.5" width="32.6" height="33.9" fill="#ff3030" stroke="#2a2a2a" stroke-width="1.1"/>
<rect x="2362.9" y="3310.6" width="32.6" height="33.9" fill="#ff9090" stroke="#2a2a2a" stroke-width="1.1"/>
<text transform="translate(2408.5 3836.4) scale(0.970 1)" font-size="46" text-anchor="start" fill="#171717">30</text>
<text transform="translate(2408.5 3768.6) scale(0.970 1)" font-size="46" text-anchor="start" fill="#171717">40</text>
<text transform="translate(2408.5 3700.9) scale(0.970 1)" font-size="46" text-anchor="start" fill="#171717">50</text>
<text transform="translate(2408.5 3633.1) scale(0.970 1)" font-size="46" text-anchor="start" fill="#171717">60</text>
<text transform="translate(2408.5 3565.3) scale(0.970 1)" font-size="46" text-anchor="start" fill="#171717">70</text>
<text transform="translate(2408.5 3497.5) scale(0.970 1)" font-size="46" text-anchor="start" fill="#171717">80</text>
<text transform="translate(2408.5 3429.8) scale(0.970 1)" font-size="46" text-anchor="start" fill="#171717">90</text>
<text transform="translate(2408.5 3362) scale(0.970 1)" font-size="46" text-anchor="start" fill="#171717">100</text></g>
<text transform="translate(1248 2104)" font-size="58" text-anchor="middle" fill="#000">(<tspan font-weight="bold">c</tspan>)</text>
<text transform="translate(1248 4208.5)" font-size="58" text-anchor="middle" fill="#000">(<tspan font-weight="bold">d</tspan>)</text>

</svg>
</body></html>
